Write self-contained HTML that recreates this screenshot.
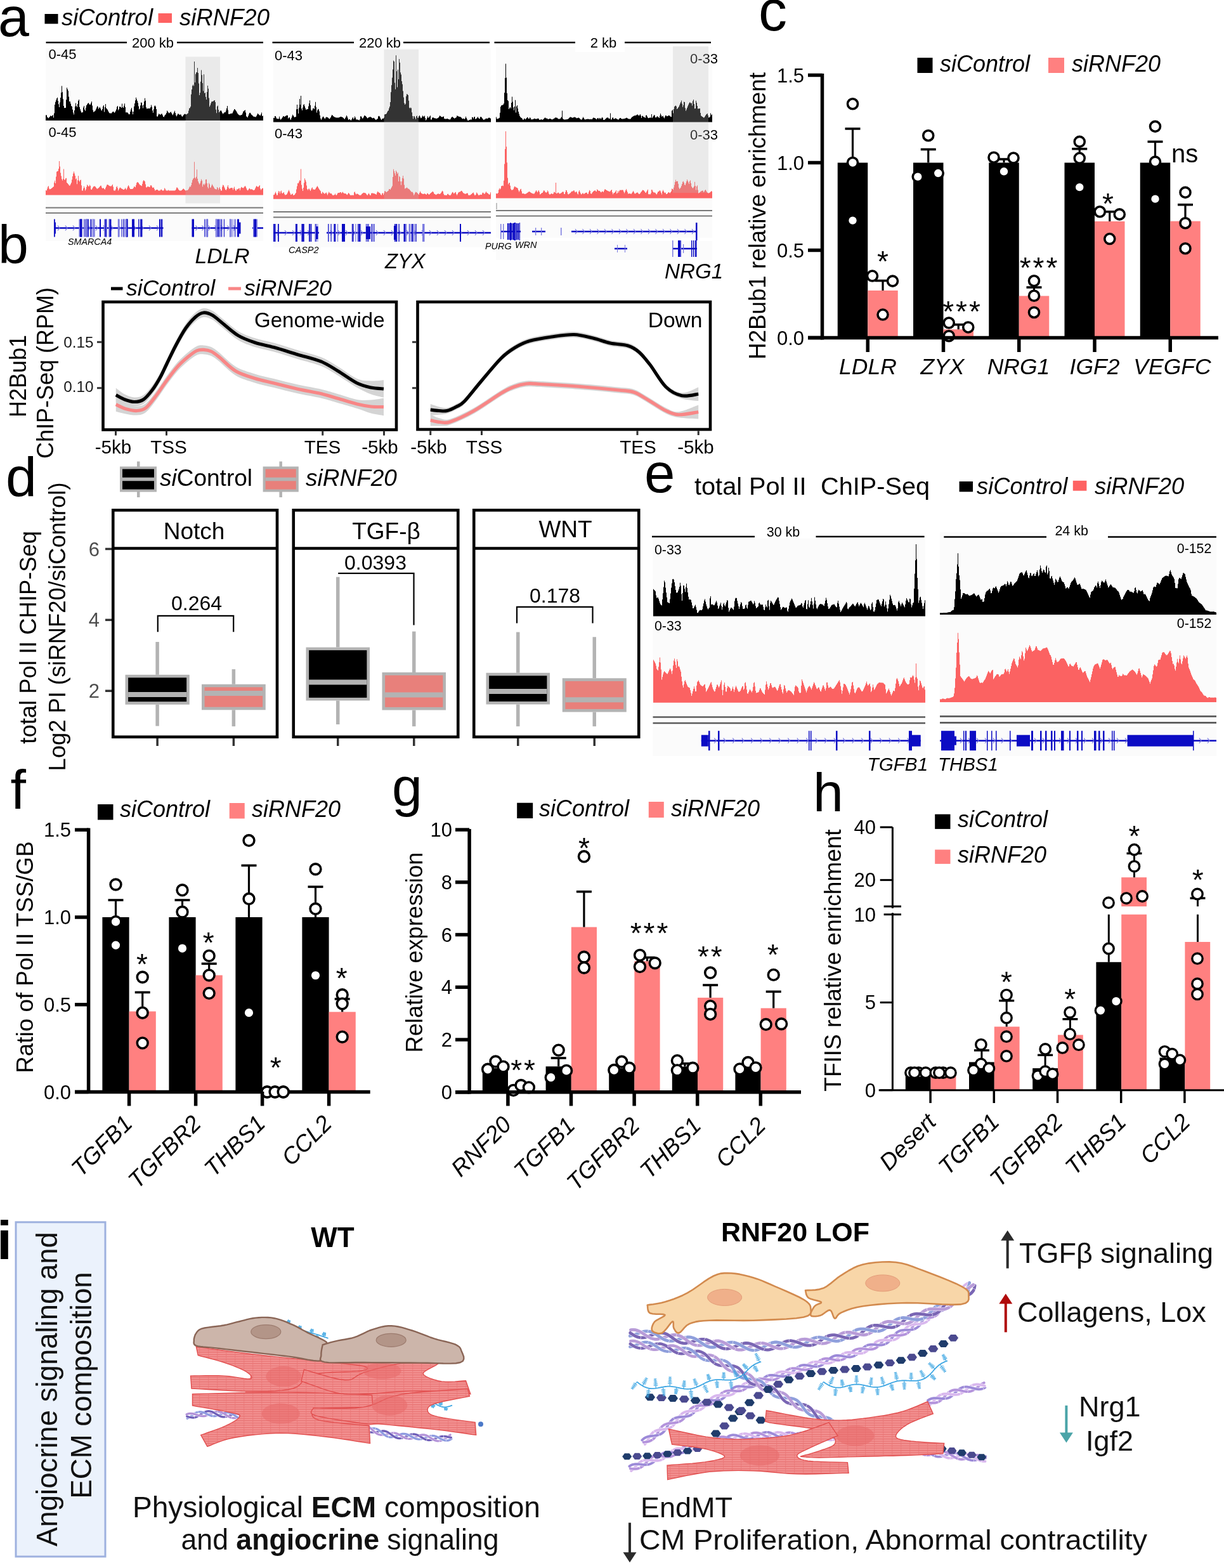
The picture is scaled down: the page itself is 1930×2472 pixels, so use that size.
<!DOCTYPE html>
<html><head><meta charset="utf-8"><title>Figure</title>
<style>html,body{margin:0;padding:0;background:#fff;overflow:hidden;width:1930px;height:2472px;} svg{display:block;} text{font-family:"Liberation Sans",Arial,sans-serif;}</style>
</head><body>
<svg width="1930" height="2472" viewBox="0 0 1930 2472">
<rect width="1930" height="2472" fill="#fff"/>
<rect x="70.50" y="22.00" width="21.00" height="15.50" fill="#000" />
<text x="97.0" y="40.0" font-size="36.5" font-style="italic" >siControl</text>
<rect x="249.50" y="21.00" width="21.50" height="15.00" fill="#fe6262" />
<text x="283.0" y="40.0" font-size="36.5" font-style="italic" >siRNF20</text>
<text x="-3.0" y="57.0" font-size="88" >a</text>
<text x="-3.0" y="415.0" font-size="86" >b</text>
<rect x="72.00" y="76.00" width="343.00" height="304.00" fill="#fbfbfb" />
<line x1="72.50" y1="67.00" x2="200.00" y2="67.00" stroke="#000" stroke-width="2.5" />
<line x1="279.00" y1="67.00" x2="415.00" y2="67.00" stroke="#000" stroke-width="2.5" />
<text x="241.0" y="75.0" font-size="22" text-anchor="middle" >200 kb</text>
<text x="76.5" y="92.5" font-size="22" >0-45</text>
<text x="76.5" y="216.0" font-size="22" >0-45</text>
<path d="M72.0,190.0V181.4H73.0V181.4H74.0V184.6H75.0V185.4H76.0V186.3H77.0V185.3H78.0V183.9H79.0V182.5H80.0V182.8H81.0V183.2H82.0V182.2H83.0V181.2H84.0V185.4H85.0V178.6H86.0V165.1H87.0V160.8H88.0V158.0H89.0V155.3H90.0V153.8H91.0V159.1H92.0V164.3H93.0V169.0H94.0V161.5H95.0V154.0H96.0V145.9H97.0V135.6H98.0V145.2H99.0V156.2H100.0V167.0H101.0V170.2H102.0V170.0H103.0V169.9H104.0V157.2H105.0V138.3H106.0V140.8H107.0V143.2H108.0V152.5H109.0V159.9H110.0V160.0H111.0V163.6H112.0V166.9H113.0V168.1H114.0V172.7H115.0V177.4H116.0V180.4H117.0V174.1H118.0V167.8H119.0V162.6H120.0V167.0H121.0V169.1H122.0V164.0H123.0V159.1H124.0V156.9H125.0V168.7H126.0V172.2H127.0V175.2H128.0V177.6H129.0V177.3H130.0V177.0H131.0V169.5H132.0V167.1H133.0V172.7H134.0V174.7H135.0V169.7H136.0V165.9H137.0V164.5H138.0V163.1H139.0V162.2H140.0V163.6H141.0V165.0H142.0V164.8H143.0V162.4H144.0V160.0H145.0V166.4H146.0V173.6H147.0V176.7H148.0V176.0H149.0V175.3H150.0V174.3H151.0V171.9H152.0V169.6H153.0V167.2H154.0V168.6H155.0V171.8H156.0V170.1H157.0V168.7H158.0V171.1H159.0V173.4H160.0V174.6H161.0V172.1H162.0V167.8H163.0V166.1H164.0V176.6H165.0V168.9H166.0V164.0H167.0V170.6H168.0V171.6H169.0V172.8H170.0V174.8H171.0V176.8H172.0V178.2H173.0V178.4H174.0V178.6H175.0V178.7H176.0V177.6H177.0V176.5H178.0V175.7H179.0V176.7H180.0V177.8H181.0V176.8H182.0V174.8H183.0V172.5H184.0V168.4H185.0V166.9H186.0V173.8H187.0V172.0H188.0V168.3H189.0V168.0H190.0V169.0H191.0V170.0H192.0V163.4H193.0V169.0H194.0V170.0H195.0V166.7H196.0V163.3H197.0V168.8H198.0V177.2H199.0V177.2H200.0V177.2H201.0V177.8H202.0V179.2H203.0V180.6H204.0V179.7H205.0V175.9H206.0V172.4H207.0V170.0H208.0V175.7H209.0V180.3H210.0V176.0H211.0V167.7H212.0V163.0H213.0V158.2H214.0V153.8H215.0V156.5H216.0V159.1H217.0V162.3H218.0V167.4H219.0V172.4H220.0V171.2H221.0V166.3H222.0V161.4H223.0V162.0H224.0V166.3H225.0V170.5H226.0V165.2H227.0V159.9H228.0V154.7H229.0V158.8H230.0V169.2H231.0V171.4H232.0V171.2H233.0V170.9H234.0V170.9H235.0V171.0H236.0V171.0H237.0V169.1H238.0V165.6H239.0V168.6H240.0V174.2H241.0V177.8H242.0V172.2H243.0V167.6H244.0V166.2H245.0V168.1H246.0V172.0H247.0V183.6H248.0V183.8H249.0V181.5H250.0V179.2H251.0V180.0H252.0V180.9H253.0V180.3H254.0V179.5H255.0V179.6H256.0V181.8H257.0V184.0H258.0V184.4H259.0V182.4H260.0V180.9H261.0V180.3H262.0V178.1H263.0V174.5H264.0V175.8H265.0V177.2H266.0V178.5H267.0V177.7H268.0V176.9H269.0V176.2H270.0V178.2H271.0V180.2H272.0V181.6H273.0V179.3H274.0V177.0H275.0V174.7H276.0V178.1H277.0V181.7H278.0V183.4H279.0V181.4H280.0V179.4H281.0V179.5H282.0V180.8H283.0V180.7H284.0V180.5H285.0V180.8H286.0V183.1H287.0V184.1H288.0V182.7H289.0V181.3H290.0V180.2H291.0V179.4H292.0V180.0H293.0V180.6H294.0V179.9H295.0V179.2H296.0V178.4H297.0V174.6H298.0V170.7H299.0V170.2H300.0V168.0H301.0V148.7H302.0V140.9H303.0V135.3H304.0V133.4H305.0V135.6H306.0V97.0H307.0V130.0H308.0V116.8H309.0V114.2H310.0V113.7H311.0V107.1H312.0V114.9H313.0V131.5H314.0V150.0H315.0V146.2H316.0V128.7H317.0V110.6H318.0V118.2H319.0V130.9H320.0V143.5H321.0V117.2H322.0V147.0H323.0V146.1H324.0V152.7H325.0V156.9H326.0V145.1H327.0V135.0H328.0V139.8H329.0V154.4H330.0V168.2H331.0V165.9H332.0V163.0H333.0V160.4H334.0V160.1H335.0V160.0H336.0V159.3H337.0V158.5H338.0V157.9H339.0V161.1H340.0V172.8H341.0V178.2H342.0V167.8H343.0V166.5H344.0V172.9H345.0V177.2H346.0V175.8H347.0V174.8H348.0V173.9H349.0V175.8H350.0V178.0H351.0V179.8H352.0V178.6H353.0V177.4H354.0V177.0H355.0V176.7H356.0V174.3H357.0V170.7H358.0V167.1H359.0V173.4H360.0V179.7H361.0V180.0H362.0V179.5H363.0V179.2H364.0V179.0H365.0V178.8H366.0V178.4H367.0V176.2H368.0V174.1H369.0V172.0H370.0V172.5H371.0V173.8H372.0V175.1H373.0V177.0H374.0V178.8H375.0V179.9H376.0V181.0H377.0V181.5H378.0V181.9H379.0V181.5H380.0V181.2H381.0V180.9H382.0V178.7H383.0V175.9H384.0V175.0H385.0V174.3H386.0V173.6H387.0V177.4H388.0V183.4H389.0V184.3H390.0V185.2H391.0V182.7H392.0V180.2H393.0V177.9H394.0V177.8H395.0V179.3H396.0V180.7H397.0V181.6H398.0V182.6H399.0V183.5H400.0V183.9H401.0V184.1H402.0V184.3H403.0V184.5H404.0V182.8H405.0V180.7H406.0V178.8H407.0V179.9H408.0V181.1H409.0V181.7H410.0V182.3H411.0V180.3H412.0V177.4H413.0V182.9H414.0V182.5H415.0V180.5H415.0V190.0Z" fill="#000"/>
<path d="M72.0,307.5V299.9H73.0V300.5H74.0V297.6H75.0V294.5H76.0V293.2H77.0V297.2H78.0V298.5H79.0V298.1H80.0V297.6H81.0V296.8H82.0V296.0H83.0V295.1H84.0V294.3H85.0V287.8H86.0V284.7H87.0V289.0H88.0V278.5H89.0V270.8H90.0V270.1H91.0V269.6H92.0V266.1H93.0V254.1H94.0V262.5H95.0V272.6H96.0V277.5H97.0V282.3H98.0V284.4H99.0V282.1H100.0V266.4H101.0V283.2H102.0V283.4H103.0V281.2H104.0V280.8H105.0V288.0H106.0V289.1H107.0V290.3H108.0V291.5H109.0V292.7H110.0V292.3H111.0V290.2H112.0V288.1H113.0V283.3H114.0V278.1H115.0V273.6H116.0V270.6H117.0V273.4H118.0V276.9H119.0V282.6H120.0V281.2H121.0V290.2H122.0V284.2H123.0V277.3H124.0V284.6H125.0V286.3H126.0V284.1H127.0V283.6H128.0V292.3H129.0V300.4H130.0V300.5H131.0V297.1H132.0V293.7H133.0V296.3H134.0V300.5H135.0V298.6H136.0V294.7H137.0V291.3H138.0V292.6H139.0V293.8H140.0V293.8H141.0V291.4H142.0V293.1H143.0V298.6H144.0V299.0H145.0V297.2H146.0V295.4H147.0V294.0H148.0V293.8H149.0V293.6H150.0V294.4H151.0V295.8H152.0V297.2H153.0V297.8H154.0V297.1H155.0V296.3H156.0V295.3H157.0V294.1H158.0V292.8H159.0V292.8H160.0V295.4H161.0V297.0H162.0V296.6H163.0V296.6H164.0V298.0H165.0V298.8H166.0V296.3H167.0V293.9H168.0V291.4H169.0V291.1H170.0V291.6H171.0V292.3H172.0V292.9H173.0V293.6H174.0V293.6H175.0V293.5H176.0V292.2H177.0V290.7H178.0V294.5H179.0V300.2H180.0V300.5H181.0V300.5H182.0V298.4H183.0V294.9H184.0V293.6H185.0V296.4H186.0V300.4H187.0V298.5H188.0V296.5H189.0V295.6H190.0V296.4H191.0V297.2H192.0V297.7H193.0V298.3H194.0V299.0H195.0V299.0H196.0V297.9H197.0V296.3H198.0V297.8H199.0V299.2H200.0V296.7H201.0V294.1H202.0V292.1H203.0V293.7H204.0V296.3H205.0V298.0H206.0V298.0H207.0V298.0H208.0V297.9H209.0V297.6H210.0V296.2H211.0V294.1H212.0V294.4H213.0V295.3H214.0V291.9H215.0V288.4H216.0V287.0H217.0V287.5H218.0V288.3H219.0V290.0H220.0V291.6H221.0V292.1H222.0V292.6H223.0V293.2H224.0V289.8H225.0V286.0H226.0V283.9H227.0V285.1H228.0V286.2H229.0V290.5H230.0V295.3H231.0V295.5H232.0V294.2H233.0V293.9H234.0V294.4H235.0V295.0H236.0V294.6H237.0V292.2H238.0V292.1H239.0V294.1H240.0V296.0H241.0V295.8H242.0V295.6H243.0V298.1H244.0V300.5H245.0V299.8H246.0V299.2H247.0V299.1H248.0V299.1H249.0V300.5H250.0V300.5H251.0V300.5H252.0V300.5H253.0V299.1H254.0V298.5H255.0V300.0H256.0V300.5H257.0V300.5H258.0V299.9H259.0V296.4H260.0V297.7H261.0V300.1H262.0V300.5H263.0V300.5H264.0V300.4H265.0V299.5H266.0V300.5H267.0V300.5H268.0V300.5H269.0V300.5H270.0V300.5H271.0V300.5H272.0V300.5H273.0V300.5H274.0V300.5H275.0V300.5H276.0V300.0H277.0V298.4H278.0V295.8H279.0V295.5H280.0V297.1H281.0V298.7H282.0V300.1H283.0V300.4H284.0V300.5H285.0V300.5H286.0V299.9H287.0V298.9H288.0V297.8H289.0V297.4H290.0V298.5H291.0V299.6H292.0V300.5H293.0V300.3H294.0V300.1H295.0V300.0H296.0V299.3H297.0V297.7H298.0V295.6H299.0V293.8H300.0V294.7H301.0V292.1H302.0V288.1H303.0V284.1H304.0V281.8H305.0V280.7H306.0V255.2H307.0V280.1H308.0V281.6H309.0V278.7H310.0V267.2H311.0V281.7H312.0V286.0H313.0V288.4H314.0V290.7H315.0V289.0H316.0V285.7H317.0V282.6H318.0V284.7H319.0V294.2H320.0V291.0H321.0V289.6H322.0V291.7H323.0V289.6H324.0V283.1H325.0V282.7H326.0V289.0H327.0V294.7H328.0V296.9H329.0V288.5H330.0V290.4H331.0V295.8H332.0V295.5H333.0V292.8H334.0V290.4H335.0V292.2H336.0V294.0H337.0V295.8H338.0V297.5H339.0V298.0H340.0V298.4H341.0V298.4H342.0V294.9H343.0V296.3H344.0V299.2H345.0V296.6H346.0V294.9H347.0V297.9H348.0V300.5H349.0V300.5H350.0V294.5H351.0V291.4H352.0V292.2H353.0V294.5H354.0V296.8H355.0V299.0H356.0V300.1H357.0V298.1H358.0V294.5H359.0V292.0H360.0V295.7H361.0V297.7H362.0V297.1H363.0V296.6H364.0V296.3H365.0V296.0H366.0V296.4H367.0V299.3H368.0V296.4H369.0V294.4H370.0V298.3H371.0V300.5H372.0V300.5H373.0V298.0H374.0V298.8H375.0V298.1H376.0V296.8H377.0V297.0H378.0V300.0H379.0V296.8H380.0V294.8H381.0V295.4H382.0V296.0H383.0V296.6H384.0V295.6H385.0V294.3H386.0V293.1H387.0V294.4H388.0V296.8H389.0V299.2H390.0V300.2H391.0V299.5H392.0V297.8H393.0V296.7H394.0V298.3H395.0V298.6H396.0V298.3H397.0V298.4H398.0V299.3H399.0V300.1H400.0V299.7H401.0V299.2H402.0V297.0H403.0V294.8H404.0V293.1H405.0V294.0H406.0V294.8H407.0V294.5H408.0V293.3H409.0V292.1H410.0V297.3H411.0V299.5H412.0V298.1H413.0V296.8H414.0V296.7H415.0V297.2H415.0V307.5Z" fill="#fb6262"/>
<rect x="292.50" y="89.50" width="54.50" height="231.00" fill="rgba(187,187,187,0.27)" />
<line x1="72.00" y1="327.50" x2="415.00" y2="327.50" stroke="#787878" stroke-width="2" />
<line x1="72.00" y1="335.80" x2="415.00" y2="335.80" stroke="#787878" stroke-width="2" />
<line x1="85.00" y1="359.50" x2="257.50" y2="359.50" stroke="#0c0cc4" stroke-width="2.5" />
<path d="M91.0,355.5 L94.0,359.5 L91.0,363.5" stroke="#7a7ae0" stroke-width="1.2" fill="none"/>
<path d="M103.0,355.5 L106.0,359.5 L103.0,363.5" stroke="#7a7ae0" stroke-width="1.2" fill="none"/>
<path d="M115.0,355.5 L118.0,359.5 L115.0,363.5" stroke="#7a7ae0" stroke-width="1.2" fill="none"/>
<path d="M127.0,355.5 L130.0,359.5 L127.0,363.5" stroke="#7a7ae0" stroke-width="1.2" fill="none"/>
<path d="M139.0,355.5 L142.0,359.5 L139.0,363.5" stroke="#7a7ae0" stroke-width="1.2" fill="none"/>
<path d="M151.0,355.5 L154.0,359.5 L151.0,363.5" stroke="#7a7ae0" stroke-width="1.2" fill="none"/>
<path d="M163.0,355.5 L166.0,359.5 L163.0,363.5" stroke="#7a7ae0" stroke-width="1.2" fill="none"/>
<path d="M175.0,355.5 L178.0,359.5 L175.0,363.5" stroke="#7a7ae0" stroke-width="1.2" fill="none"/>
<path d="M187.0,355.5 L190.0,359.5 L187.0,363.5" stroke="#7a7ae0" stroke-width="1.2" fill="none"/>
<path d="M199.0,355.5 L202.0,359.5 L199.0,363.5" stroke="#7a7ae0" stroke-width="1.2" fill="none"/>
<path d="M211.0,355.5 L214.0,359.5 L211.0,363.5" stroke="#7a7ae0" stroke-width="1.2" fill="none"/>
<path d="M223.0,355.5 L226.0,359.5 L223.0,363.5" stroke="#7a7ae0" stroke-width="1.2" fill="none"/>
<path d="M235.0,355.5 L238.0,359.5 L235.0,363.5" stroke="#7a7ae0" stroke-width="1.2" fill="none"/>
<path d="M247.0,355.5 L250.0,359.5 L247.0,363.5" stroke="#7a7ae0" stroke-width="1.2" fill="none"/>
<rect x="85.00" y="345.50" width="1.80" height="28.00" fill="#0c0cc4"/>
<rect x="86.50" y="350.50" width="1.50" height="18.00" fill="#0c0cc4"/>
<rect x="126.28" y="345.50" width="1.83" height="28.00" fill="#0c0cc4"/>
<rect x="128.34" y="345.50" width="1.44" height="28.00" fill="#7a7ae0"/>
<rect x="135.08" y="345.50" width="1.77" height="28.00" fill="#7a7ae0"/>
<rect x="124.48" y="345.50" width="1.82" height="28.00" fill="#7a7ae0"/>
<rect x="136.96" y="345.50" width="0.90" height="28.00" fill="#7a7ae0"/>
<rect x="136.27" y="345.50" width="1.15" height="28.00" fill="#0c0cc4"/>
<rect x="139.32" y="345.50" width="0.93" height="28.00" fill="#7a7ae0"/>
<rect x="133.20" y="345.50" width="1.93" height="28.00" fill="#7a7ae0"/>
<rect x="127.68" y="345.50" width="1.36" height="28.00" fill="#7a7ae0"/>
<rect x="127.77" y="345.50" width="1.38" height="28.00" fill="#7a7ae0"/>
<rect x="127.96" y="345.50" width="1.15" height="28.00" fill="#7a7ae0"/>
<rect x="131.81" y="345.50" width="1.22" height="28.00" fill="#7a7ae0"/>
<rect x="138.24" y="345.50" width="1.51" height="28.00" fill="#0c0cc4"/>
<rect x="127.16" y="345.50" width="1.99" height="28.00" fill="#0c0cc4"/>
<rect x="126.06" y="345.50" width="1.27" height="28.00" fill="#0c0cc4"/>
<rect x="136.09" y="345.50" width="1.93" height="28.00" fill="#7a7ae0"/>
<rect x="147.74" y="345.50" width="1.94" height="28.00" fill="#7a7ae0"/>
<rect x="142.51" y="345.50" width="1.82" height="28.00" fill="#0c0cc4"/>
<rect x="146.02" y="345.50" width="1.24" height="28.00" fill="#0c0cc4"/>
<rect x="145.64" y="345.50" width="1.54" height="28.00" fill="#7a7ae0"/>
<rect x="157.00" y="345.50" width="2.00" height="28.00" fill="#0c0cc4"/>
<rect x="172.00" y="345.50" width="2.00" height="28.00" fill="#0c0cc4"/>
<rect x="166.86" y="345.50" width="1.50" height="28.00" fill="#7a7ae0"/>
<rect x="171.25" y="345.50" width="1.59" height="28.00" fill="#7a7ae0"/>
<rect x="164.16" y="345.50" width="1.82" height="28.00" fill="#7a7ae0"/>
<rect x="166.81" y="345.50" width="2.00" height="28.00" fill="#7a7ae0"/>
<rect x="174.04" y="345.50" width="1.42" height="28.00" fill="#0c0cc4"/>
<rect x="165.81" y="345.50" width="1.60" height="28.00" fill="#0c0cc4"/>
<rect x="187.25" y="345.50" width="1.01" height="28.00" fill="#7a7ae0"/>
<rect x="185.79" y="345.50" width="0.97" height="28.00" fill="#7a7ae0"/>
<rect x="199.52" y="345.50" width="1.78" height="28.00" fill="#0c0cc4"/>
<rect x="186.99" y="345.50" width="1.49" height="28.00" fill="#7a7ae0"/>
<rect x="186.11" y="345.50" width="1.02" height="28.00" fill="#7a7ae0"/>
<rect x="199.69" y="345.50" width="1.81" height="28.00" fill="#0c0cc4"/>
<rect x="197.41" y="345.50" width="1.11" height="28.00" fill="#7a7ae0"/>
<rect x="194.29" y="345.50" width="1.71" height="28.00" fill="#0c0cc4"/>
<rect x="198.84" y="345.50" width="1.00" height="28.00" fill="#0c0cc4"/>
<rect x="195.09" y="345.50" width="1.46" height="28.00" fill="#7a7ae0"/>
<rect x="191.52" y="345.50" width="1.00" height="28.00" fill="#0c0cc4"/>
<rect x="198.58" y="345.50" width="1.50" height="28.00" fill="#7a7ae0"/>
<rect x="199.36" y="345.50" width="1.53" height="28.00" fill="#0c0cc4"/>
<rect x="198.26" y="345.50" width="1.46" height="28.00" fill="#7a7ae0"/>
<rect x="208.00" y="345.50" width="2.50" height="28.00" fill="#0c0cc4"/>
<rect x="210.00" y="345.50" width="2.00" height="28.00" fill="#0c0cc4"/>
<rect x="221.11" y="345.50" width="1.72" height="28.00" fill="#0c0cc4"/>
<rect x="222.71" y="345.50" width="1.71" height="28.00" fill="#0c0cc4"/>
<rect x="218.15" y="345.50" width="1.41" height="28.00" fill="#0c0cc4"/>
<rect x="251.00" y="345.50" width="2.20" height="28.00" fill="#0c0cc4"/>
<rect x="254.00" y="345.50" width="2.20" height="28.00" fill="#0c0cc4"/>
<line x1="302.50" y1="359.50" x2="379.00" y2="359.50" stroke="#0c0cc4" stroke-width="2.5" />
<path d="M308.5,355.5 L311.5,359.5 L308.5,363.5" stroke="#7a7ae0" stroke-width="1.2" fill="none"/>
<path d="M318.5,355.5 L321.5,359.5 L318.5,363.5" stroke="#7a7ae0" stroke-width="1.2" fill="none"/>
<path d="M328.5,355.5 L331.5,359.5 L328.5,363.5" stroke="#7a7ae0" stroke-width="1.2" fill="none"/>
<path d="M338.5,355.5 L341.5,359.5 L338.5,363.5" stroke="#7a7ae0" stroke-width="1.2" fill="none"/>
<path d="M348.5,355.5 L351.5,359.5 L348.5,363.5" stroke="#7a7ae0" stroke-width="1.2" fill="none"/>
<path d="M358.5,355.5 L361.5,359.5 L358.5,363.5" stroke="#7a7ae0" stroke-width="1.2" fill="none"/>
<path d="M368.5,355.5 L371.5,359.5 L368.5,363.5" stroke="#7a7ae0" stroke-width="1.2" fill="none"/>
<rect x="302.50" y="345.50" width="2.50" height="28.00" fill="#0c0cc4"/>
<rect x="304.00" y="345.50" width="2.00" height="28.00" fill="#0c0cc4"/>
<rect x="326.35" y="345.50" width="1.80" height="28.00" fill="#7a7ae0"/>
<rect x="322.09" y="345.50" width="0.90" height="28.00" fill="#0c0cc4"/>
<rect x="323.76" y="345.50" width="1.74" height="28.00" fill="#7a7ae0"/>
<rect x="326.16" y="345.50" width="1.20" height="28.00" fill="#0c0cc4"/>
<rect x="325.84" y="345.50" width="1.36" height="28.00" fill="#7a7ae0"/>
<rect x="344.51" y="345.50" width="1.07" height="28.00" fill="#0c0cc4"/>
<rect x="340.23" y="345.50" width="1.49" height="28.00" fill="#7a7ae0"/>
<rect x="339.99" y="345.50" width="1.46" height="28.00" fill="#7a7ae0"/>
<rect x="346.37" y="345.50" width="0.98" height="28.00" fill="#7a7ae0"/>
<rect x="346.22" y="345.50" width="1.81" height="28.00" fill="#7a7ae0"/>
<rect x="342.80" y="345.50" width="1.59" height="28.00" fill="#0c0cc4"/>
<rect x="348.81" y="345.50" width="1.34" height="28.00" fill="#0c0cc4"/>
<rect x="339.79" y="345.50" width="1.84" height="28.00" fill="#7a7ae0"/>
<rect x="341.45" y="345.50" width="1.03" height="28.00" fill="#7a7ae0"/>
<rect x="352.87" y="345.50" width="1.10" height="28.00" fill="#0c0cc4"/>
<rect x="362.27" y="345.50" width="1.96" height="28.00" fill="#7a7ae0"/>
<rect x="367.05" y="345.50" width="0.99" height="28.00" fill="#7a7ae0"/>
<rect x="369.99" y="345.50" width="1.13" height="28.00" fill="#0c0cc4"/>
<rect x="364.59" y="345.50" width="1.40" height="28.00" fill="#7a7ae0"/>
<rect x="361.92" y="345.50" width="1.81" height="28.00" fill="#7a7ae0"/>
<rect x="362.34" y="345.50" width="0.92" height="28.00" fill="#7a7ae0"/>
<rect x="374.00" y="345.50" width="3.00" height="28.00" fill="#0c0cc4"/>
<rect x="376.00" y="350.50" width="3.50" height="18.00" fill="#0c0cc4"/>
<line x1="398.00" y1="359.50" x2="415.00" y2="359.50" stroke="#0c0cc4" stroke-width="2.5" />
<rect x="399.00" y="345.50" width="7.00" height="28.00" fill="#7a7ae0"/>
<rect x="400.50" y="345.50" width="3.50" height="28.00" fill="#0c0cc4"/>
<text x="107.0" y="386.0" font-size="14.3" font-style="italic" >SMARCA4</text>
<text x="307.5" y="415.0" font-size="33.7" font-style="italic" >LDLR</text>
<rect x="431.00" y="76.00" width="343.00" height="314.00" fill="#fbfbfb" />
<line x1="429.50" y1="67.00" x2="558.00" y2="67.00" stroke="#000" stroke-width="2.5" />
<line x1="636.00" y1="67.00" x2="772.00" y2="67.00" stroke="#000" stroke-width="2.5" />
<text x="599.0" y="75.0" font-size="22" text-anchor="middle" >220 kb</text>
<text x="433.0" y="94.5" font-size="22" >0-43</text>
<text x="433.0" y="217.5" font-size="22" >0-43</text>
<path d="M431.0,192.5V185.7H432.0V186.0H433.0V183.0H434.0V183.3H435.0V185.3H436.0V187.3H437.0V187.1H438.0V187.7H439.0V187.0H440.0V183.7H441.0V187.1H442.0V188.7H443.0V187.7H444.0V186.6H445.0V184.9H446.0V183.0H447.0V183.4H448.0V183.9H449.0V183.6H450.0V182.7H451.0V182.2H452.0V181.7H453.0V182.1H454.0V186.7H455.0V185.6H456.0V185.1H457.0V187.4H458.0V188.9H459.0V186.2H460.0V183.5H461.0V180.8H462.0V182.3H463.0V183.8H464.0V185.1H465.0V184.6H466.0V184.0H467.0V172.2H468.0V164.9H469.0V172.1H470.0V179.1H471.0V169.8H472.0V156.0H473.0V165.1H474.0V150.9H475.0V171.2H476.0V173.9H477.0V169.4H478.0V165.6H479.0V164.2H480.0V167.5H481.0V170.6H482.0V172.9H483.0V172.6H484.0V172.2H485.0V171.9H486.0V167.5H487.0V162.9H488.0V158.3H489.0V165.8H490.0V173.2H491.0V174.7H492.0V173.4H493.0V170.9H494.0V170.6H495.0V172.1H496.0V166.8H497.0V160.7H498.0V169.1H499.0V177.5H500.0V174.0H501.0V171.7H502.0V172.5H503.0V175.4H504.0V181.8H505.0V186.8H506.0V189.1H507.0V187.1H508.0V185.0H509.0V183.4H510.0V184.8H511.0V186.3H512.0V187.6H513.0V185.6H514.0V184.4H515.0V184.7H516.0V185.0H517.0V185.8H518.0V186.8H519.0V187.4H520.0V186.4H521.0V185.0H522.0V182.7H523.0V181.0H524.0V182.0H525.0V183.0H526.0V184.0H527.0V184.5H528.0V185.1H529.0V185.3H530.0V185.4H531.0V185.4H532.0V185.5H533.0V185.4H534.0V185.2H535.0V184.8H536.0V184.3H537.0V183.9H538.0V184.3H539.0V184.7H540.0V185.0H541.0V186.0H542.0V187.1H543.0V188.1H544.0V186.1H545.0V184.1H546.0V182.1H547.0V183.8H548.0V186.4H549.0V188.9H550.0V188.3H551.0V187.7H552.0V189.0H553.0V190.0H554.0V188.2H555.0V186.4H556.0V185.1H557.0V187.8H558.0V186.4H559.0V183.6H560.0V185.4H561.0V188.3H562.0V188.4H563.0V188.4H564.0V188.8H565.0V189.3H566.0V189.8H567.0V188.0H568.0V183.6H569.0V183.2H570.0V185.0H571.0V186.8H572.0V186.2H573.0V184.2H574.0V182.3H575.0V182.2H576.0V183.1H577.0V184.0H578.0V185.6H579.0V186.4H580.0V185.8H581.0V185.1H582.0V184.6H583.0V184.4H584.0V184.3H585.0V185.1H586.0V186.0H587.0V186.4H588.0V185.9H589.0V185.7H590.0V186.8H591.0V188.0H592.0V189.1H593.0V188.6H594.0V188.1H595.0V186.9H596.0V183.5H597.0V182.8H598.0V183.4H599.0V185.6H600.0V187.7H601.0V189.0H602.0V187.5H603.0V186.7H604.0V187.0H605.0V185.5H606.0V180.4H607.0V180.0H608.0V180.1H609.0V179.0H610.0V177.0H611.0V175.0H612.0V174.2H613.0V170.7H614.0V168.1H615.0V161.0H616.0V145.2H617.0V134.2H618.0V122.5H619.0V109.4H620.0V95.4H621.0V96.9H622.0V130.5H623.0V140.8H624.0V87.3H625.0V112.2H626.0V137.6H627.0V109.8H628.0V124.9H629.0V93.1H630.0V98.7H631.0V114.2H632.0V117.6H633.0V128.1H634.0V132.7H635.0V143.6H636.0V153.6H637.0V162.6H638.0V165.0H639.0V163.4H640.0V151.8H641.0V148.3H642.0V148.8H643.0V150.0H644.0V158.7H645.0V169.7H646.0V170.7H647.0V169.6H648.0V170.6H649.0V177.3H650.0V182.9H651.0V187.3H652.0V183.3H653.0V183.2H654.0V185.6H655.0V188.1H656.0V183.2H657.0V182.6H658.0V185.5H659.0V186.1H660.0V183.4H661.0V182.1H662.0V184.1H663.0V186.2H664.0V186.0H665.0V184.1H666.0V182.2H667.0V183.7H668.0V183.8H669.0V182.6H670.0V186.1H671.0V189.7H672.0V188.3H673.0V185.8H674.0V183.3H675.0V185.7H676.0V185.3H677.0V183.4H678.0V182.3H679.0V188.5H680.0V188.4H681.0V185.9H682.0V185.1H683.0V185.6H684.0V186.0H685.0V186.4H686.0V186.6H687.0V186.7H688.0V186.9H689.0V186.5H690.0V186.1H691.0V185.3H692.0V183.7H693.0V182.3H694.0V183.1H695.0V183.9H696.0V184.6H697.0V184.4H698.0V184.0H699.0V183.6H700.0V186.9H701.0V187.2H702.0V187.4H703.0V187.5H704.0V187.2H705.0V186.9H706.0V187.4H707.0V187.9H708.0V188.3H709.0V188.6H710.0V187.5H711.0V185.4H712.0V184.5H713.0V184.1H714.0V185.0H715.0V185.9H716.0V186.7H717.0V186.2H718.0V185.8H719.0V184.9H720.0V182.6H721.0V182.7H722.0V183.3H723.0V183.8H724.0V184.1H725.0V184.3H726.0V184.6H727.0V185.6H728.0V186.7H729.0V187.5H730.0V186.7H731.0V187.0H732.0V188.1H733.0V186.4H734.0V183.8H735.0V185.9H736.0V187.9H737.0V189.9H738.0V189.9H739.0V189.4H740.0V188.9H741.0V188.6H742.0V188.5H743.0V188.5H744.0V184.7H745.0V185.0H746.0V187.0H747.0V184.4H748.0V184.0H749.0V187.8H750.0V187.3H751.0V186.8H752.0V185.5H753.0V184.2H754.0V185.9H755.0V187.2H756.0V187.1H757.0V184.4H758.0V184.0H759.0V185.2H760.0V186.5H761.0V187.8H762.0V188.9H763.0V188.6H764.0V188.3H765.0V187.5H766.0V186.5H767.0V186.9H768.0V187.0H769.0V186.5H770.0V185.7H771.0V185.6H772.0V185.9H773.0V186.8H774.0V186.7H774.0V192.5Z" fill="#000"/>
<path d="M431.0,313.8V307.3H432.0V307.0H433.0V304.7H434.0V302.5H435.0V304.9H436.0V307.8H437.0V307.4H438.0V304.3H439.0V301.1H440.0V302.1H441.0V305.1H442.0V301.8H443.0V300.6H444.0V304.2H445.0V305.0H446.0V304.1H447.0V303.1H448.0V305.7H449.0V307.6H450.0V307.2H451.0V306.9H452.0V305.9H453.0V303.7H454.0V301.6H455.0V299.5H456.0V301.7H457.0V304.4H458.0V307.1H459.0V306.8H460.0V306.0H461.0V305.2H462.0V307.8H463.0V307.8H464.0V307.1H465.0V305.6H466.0V304.1H467.0V298.4H468.0V293.5H469.0V288.8H470.0V288.9H471.0V286.5H472.0V284.1H473.0V285.0H474.0V266.6H475.0V291.4H476.0V297.6H477.0V301.0H478.0V295.9H479.0V288.3H480.0V281.2H481.0V283.8H482.0V286.6H483.0V292.4H484.0V298.1H485.0V299.7H486.0V297.8H487.0V297.6H488.0V299.3H489.0V301.0H490.0V298.7H491.0V296.5H492.0V295.6H493.0V298.4H494.0V298.6H495.0V298.7H496.0V298.9H497.0V297.8H498.0V296.1H499.0V294.5H500.0V293.3H501.0V295.1H502.0V297.0H503.0V298.5H504.0V299.9H505.0V301.3H506.0V304.7H507.0V305.4H508.0V302.6H509.0V303.5H510.0V304.6H511.0V305.6H512.0V305.2H513.0V304.3H514.0V303.5H515.0V305.4H516.0V307.4H517.0V305.0H518.0V302.4H519.0V303.8H520.0V305.0H521.0V305.0H522.0V305.0H523.0V306.6H524.0V307.8H525.0V307.8H526.0V307.8H527.0V306.9H528.0V305.3H529.0V307.2H530.0V307.8H531.0V306.4H532.0V304.6H533.0V304.0H534.0V303.9H535.0V303.7H536.0V302.9H537.0V302.9H538.0V304.7H539.0V303.6H540.0V302.6H541.0V303.9H542.0V305.0H543.0V305.1H544.0V305.1H545.0V305.5H546.0V306.4H547.0V307.2H548.0V305.8H549.0V304.1H550.0V305.0H551.0V306.6H552.0V307.8H553.0V307.8H554.0V307.8H555.0V307.6H556.0V307.8H557.0V307.8H558.0V303.2H559.0V302.2H560.0V304.8H561.0V306.5H562.0V305.6H563.0V305.4H564.0V306.1H565.0V306.8H566.0V307.6H567.0V307.8H568.0V307.8H569.0V307.2H570.0V305.7H571.0V304.9H572.0V304.3H573.0V303.8H574.0V303.9H575.0V304.2H576.0V304.4H577.0V305.7H578.0V307.3H579.0V307.8H580.0V305.9H581.0V304.4H582.0V306.3H583.0V307.8H584.0V307.8H585.0V304.7H586.0V304.6H587.0V304.6H588.0V304.8H589.0V305.0H590.0V305.3H591.0V305.8H592.0V306.3H593.0V306.8H594.0V303.7H595.0V301.8H596.0V302.7H597.0V303.5H598.0V304.0H599.0V305.1H600.0V307.0H601.0V307.8H602.0V304.9H603.0V304.2H604.0V307.3H605.0V304.8H606.0V301.5H607.0V301.3H608.0V302.4H609.0V302.9H610.0V302.0H611.0V301.2H612.0V300.5H613.0V297.9H614.0V298.1H615.0V299.0H616.0V297.1H617.0V295.2H618.0V293.3H619.0V279.1H620.0V266.8H621.0V269.7H622.0V273.3H623.0V276.7H624.0V269.0H625.0V271.0H626.0V273.9H627.0V272.2H628.0V286.0H629.0V277.6H630.0V278.9H631.0V285.9H632.0V291.7H633.0V285.9H634.0V280.7H635.0V276.9H636.0V281.5H637.0V291.5H638.0V297.5H639.0V296.8H640.0V296.5H641.0V295.6H642.0V296.5H643.0V297.5H644.0V297.8H645.0V298.5H646.0V299.8H647.0V301.1H648.0V302.4H649.0V302.6H650.0V302.8H651.0V304.6H652.0V307.8H653.0V306.2H654.0V304.0H655.0V302.4H656.0V303.0H657.0V303.7H658.0V304.7H659.0V305.7H660.0V306.7H661.0V304.0H662.0V301.4H663.0V303.5H664.0V304.7H665.0V305.3H666.0V305.8H667.0V306.0H668.0V305.6H669.0V305.2H670.0V305.7H671.0V306.3H672.0V306.9H673.0V304.9H674.0V304.8H675.0V305.9H676.0V307.0H677.0V306.1H678.0V305.1H679.0V304.1H680.0V303.2H681.0V302.4H682.0V301.8H683.0V303.0H684.0V305.3H685.0V305.9H686.0V306.6H687.0V307.2H688.0V306.6H689.0V305.9H690.0V305.3H691.0V305.5H692.0V305.8H693.0V306.1H694.0V305.2H695.0V304.0H696.0V302.3H697.0V300.7H698.0V301.9H699.0V305.6H700.0V307.6H701.0V307.6H702.0V307.7H703.0V307.8H704.0V307.8H705.0V306.1H706.0V305.6H707.0V306.9H708.0V307.8H709.0V307.8H710.0V307.8H711.0V306.3H712.0V304.2H713.0V302.8H714.0V303.5H715.0V305.2H716.0V304.4H717.0V303.5H718.0V302.7H719.0V305.7H720.0V307.8H721.0V306.0H722.0V304.0H723.0V302.8H724.0V302.7H725.0V302.2H726.0V301.5H727.0V300.8H728.0V301.3H729.0V302.8H730.0V304.2H731.0V304.8H732.0V305.3H733.0V305.8H734.0V305.6H735.0V305.1H736.0V304.6H737.0V304.7H738.0V307.4H739.0V307.8H740.0V307.7H741.0V307.5H742.0V306.8H743.0V305.9H744.0V305.0H745.0V304.0H746.0V303.6H747.0V305.7H748.0V307.8H749.0V307.8H750.0V306.5H751.0V303.4H752.0V304.4H753.0V306.3H754.0V307.8H755.0V307.8H756.0V307.3H757.0V306.7H758.0V306.9H759.0V307.1H760.0V304.4H761.0V303.4H762.0V304.4H763.0V305.5H764.0V305.6H765.0V303.7H766.0V302.0H767.0V303.8H768.0V304.3H769.0V305.1H770.0V306.1H771.0V307.1H772.0V306.3H773.0V303.2H774.0V304.4H774.0V313.8Z" fill="#fb6262"/>
<rect x="605.50" y="78.00" width="54.50" height="236.00" fill="rgba(187,187,187,0.27)" />
<line x1="431.00" y1="334.00" x2="774.00" y2="334.00" stroke="#787878" stroke-width="2" />
<line x1="431.00" y1="342.50" x2="774.00" y2="342.50" stroke="#787878" stroke-width="2" />
<line x1="431.00" y1="367.00" x2="503.00" y2="367.00" stroke="#0c0cc4" stroke-width="2.5" />
<path d="M437.0,363.0 L440.0,367.0 L437.0,371.0" stroke="#7a7ae0" stroke-width="1.2" fill="none"/>
<path d="M449.0,363.0 L452.0,367.0 L449.0,371.0" stroke="#7a7ae0" stroke-width="1.2" fill="none"/>
<path d="M461.0,363.0 L464.0,367.0 L461.0,371.0" stroke="#7a7ae0" stroke-width="1.2" fill="none"/>
<path d="M473.0,363.0 L476.0,367.0 L473.0,371.0" stroke="#7a7ae0" stroke-width="1.2" fill="none"/>
<path d="M485.0,363.0 L488.0,367.0 L485.0,371.0" stroke="#7a7ae0" stroke-width="1.2" fill="none"/>
<rect x="431.00" y="353.00" width="1.80" height="28.00" fill="#0c0cc4"/>
<rect x="433.00" y="353.00" width="1.50" height="28.00" fill="#0c0cc4"/>
<rect x="438.00" y="353.00" width="1.80" height="28.00" fill="#0c0cc4"/>
<rect x="467.26" y="353.00" width="1.52" height="28.00" fill="#0c0cc4"/>
<rect x="467.33" y="353.00" width="1.46" height="28.00" fill="#0c0cc4"/>
<rect x="465.92" y="353.00" width="1.46" height="28.00" fill="#0c0cc4"/>
<rect x="477.32" y="353.00" width="1.62" height="28.00" fill="#0c0cc4"/>
<rect x="475.00" y="353.00" width="0.91" height="28.00" fill="#7a7ae0"/>
<rect x="475.92" y="353.00" width="1.79" height="28.00" fill="#0c0cc4"/>
<rect x="478.21" y="353.00" width="1.51" height="28.00" fill="#0c0cc4"/>
<rect x="487.00" y="353.00" width="1.80" height="28.00" fill="#0c0cc4"/>
<rect x="489.50" y="353.00" width="1.80" height="28.00" fill="#0c0cc4"/>
<rect x="497.30" y="353.00" width="1.65" height="28.00" fill="#0c0cc4"/>
<rect x="500.25" y="353.00" width="1.10" height="28.00" fill="#7a7ae0"/>
<rect x="496.74" y="353.00" width="1.15" height="28.00" fill="#0c0cc4"/>
<rect x="496.65" y="353.00" width="1.48" height="28.00" fill="#7a7ae0"/>
<rect x="498.00" y="357.00" width="3.50" height="20.00" fill="#0c0cc4"/>
<line x1="515.00" y1="367.00" x2="774.00" y2="367.00" stroke="#0c0cc4" stroke-width="2.5" />
<path d="M521.0,363.0 L524.0,367.0 L521.0,371.0" stroke="#7a7ae0" stroke-width="1.2" fill="none"/>
<path d="M533.0,363.0 L536.0,367.0 L533.0,371.0" stroke="#7a7ae0" stroke-width="1.2" fill="none"/>
<path d="M545.0,363.0 L548.0,367.0 L545.0,371.0" stroke="#7a7ae0" stroke-width="1.2" fill="none"/>
<path d="M557.0,363.0 L560.0,367.0 L557.0,371.0" stroke="#7a7ae0" stroke-width="1.2" fill="none"/>
<path d="M569.0,363.0 L572.0,367.0 L569.0,371.0" stroke="#7a7ae0" stroke-width="1.2" fill="none"/>
<path d="M581.0,363.0 L584.0,367.0 L581.0,371.0" stroke="#7a7ae0" stroke-width="1.2" fill="none"/>
<path d="M593.0,363.0 L596.0,367.0 L593.0,371.0" stroke="#7a7ae0" stroke-width="1.2" fill="none"/>
<path d="M605.0,363.0 L608.0,367.0 L605.0,371.0" stroke="#7a7ae0" stroke-width="1.2" fill="none"/>
<path d="M617.0,363.0 L620.0,367.0 L617.0,371.0" stroke="#7a7ae0" stroke-width="1.2" fill="none"/>
<path d="M629.0,363.0 L632.0,367.0 L629.0,371.0" stroke="#7a7ae0" stroke-width="1.2" fill="none"/>
<path d="M641.0,363.0 L644.0,367.0 L641.0,371.0" stroke="#7a7ae0" stroke-width="1.2" fill="none"/>
<path d="M653.0,363.0 L656.0,367.0 L653.0,371.0" stroke="#7a7ae0" stroke-width="1.2" fill="none"/>
<path d="M665.0,363.0 L668.0,367.0 L665.0,371.0" stroke="#7a7ae0" stroke-width="1.2" fill="none"/>
<path d="M677.0,363.0 L680.0,367.0 L677.0,371.0" stroke="#7a7ae0" stroke-width="1.2" fill="none"/>
<path d="M689.0,363.0 L692.0,367.0 L689.0,371.0" stroke="#7a7ae0" stroke-width="1.2" fill="none"/>
<path d="M701.0,363.0 L704.0,367.0 L701.0,371.0" stroke="#7a7ae0" stroke-width="1.2" fill="none"/>
<path d="M713.0,363.0 L716.0,367.0 L713.0,371.0" stroke="#7a7ae0" stroke-width="1.2" fill="none"/>
<path d="M725.0,363.0 L728.0,367.0 L725.0,371.0" stroke="#7a7ae0" stroke-width="1.2" fill="none"/>
<path d="M737.0,363.0 L740.0,367.0 L737.0,371.0" stroke="#7a7ae0" stroke-width="1.2" fill="none"/>
<path d="M749.0,363.0 L752.0,367.0 L749.0,371.0" stroke="#7a7ae0" stroke-width="1.2" fill="none"/>
<path d="M761.0,363.0 L764.0,367.0 L761.0,371.0" stroke="#7a7ae0" stroke-width="1.2" fill="none"/>
<rect x="516.92" y="353.00" width="1.67" height="28.00" fill="#0c0cc4"/>
<rect x="531.93" y="353.00" width="1.20" height="28.00" fill="#7a7ae0"/>
<rect x="528.21" y="353.00" width="1.62" height="28.00" fill="#7a7ae0"/>
<rect x="527.32" y="353.00" width="1.34" height="28.00" fill="#0c0cc4"/>
<rect x="517.13" y="353.00" width="1.15" height="28.00" fill="#0c0cc4"/>
<rect x="521.44" y="353.00" width="1.19" height="28.00" fill="#0c0cc4"/>
<rect x="526.37" y="353.00" width="1.06" height="28.00" fill="#0c0cc4"/>
<rect x="526.95" y="353.00" width="1.08" height="28.00" fill="#0c0cc4"/>
<rect x="517.21" y="353.00" width="1.27" height="28.00" fill="#7a7ae0"/>
<rect x="539.00" y="353.00" width="5.00" height="28.00" fill="#0c0cc4"/>
<rect x="567.44" y="353.00" width="0.91" height="28.00" fill="#0c0cc4"/>
<rect x="554.53" y="353.00" width="1.98" height="28.00" fill="#7a7ae0"/>
<rect x="566.07" y="353.00" width="1.65" height="28.00" fill="#0c0cc4"/>
<rect x="568.00" y="353.00" width="1.16" height="28.00" fill="#7a7ae0"/>
<rect x="563.33" y="353.00" width="1.21" height="28.00" fill="#7a7ae0"/>
<rect x="555.66" y="353.00" width="1.84" height="28.00" fill="#0c0cc4"/>
<rect x="564.76" y="353.00" width="1.15" height="28.00" fill="#0c0cc4"/>
<rect x="560.18" y="353.00" width="1.15" height="28.00" fill="#7a7ae0"/>
<rect x="578.51" y="353.00" width="1.43" height="28.00" fill="#7a7ae0"/>
<rect x="580.04" y="353.00" width="1.35" height="28.00" fill="#0c0cc4"/>
<rect x="576.66" y="353.00" width="1.60" height="28.00" fill="#7a7ae0"/>
<rect x="577.44" y="353.00" width="1.27" height="28.00" fill="#7a7ae0"/>
<rect x="585.38" y="353.00" width="1.24" height="28.00" fill="#0c0cc4"/>
<rect x="589.21" y="353.00" width="1.18" height="28.00" fill="#0c0cc4"/>
<rect x="586.54" y="353.00" width="1.63" height="28.00" fill="#7a7ae0"/>
<rect x="580.22" y="353.00" width="1.59" height="28.00" fill="#7a7ae0"/>
<rect x="577.00" y="357.00" width="7.00" height="20.00" fill="#0c0cc4"/>
<rect x="624.22" y="353.00" width="1.79" height="28.00" fill="#0c0cc4"/>
<rect x="621.90" y="353.00" width="1.74" height="28.00" fill="#0c0cc4"/>
<rect x="625.61" y="353.00" width="1.02" height="28.00" fill="#7a7ae0"/>
<rect x="622.84" y="353.00" width="1.72" height="28.00" fill="#7a7ae0"/>
<rect x="624.02" y="353.00" width="1.25" height="28.00" fill="#0c0cc4"/>
<rect x="628.45" y="353.00" width="1.34" height="28.00" fill="#0c0cc4"/>
<rect x="621.00" y="356.00" width="4.00" height="22.00" fill="#0c0cc4"/>
<rect x="637.99" y="353.00" width="1.63" height="28.00" fill="#7a7ae0"/>
<rect x="638.35" y="353.00" width="1.44" height="28.00" fill="#7a7ae0"/>
<rect x="644.55" y="353.00" width="1.40" height="28.00" fill="#7a7ae0"/>
<rect x="639.58" y="353.00" width="1.66" height="28.00" fill="#7a7ae0"/>
<rect x="648.85" y="353.00" width="1.77" height="28.00" fill="#0c0cc4"/>
<rect x="654.77" y="353.00" width="1.16" height="28.00" fill="#7a7ae0"/>
<rect x="650.17" y="353.00" width="1.53" height="28.00" fill="#7a7ae0"/>
<rect x="648.91" y="353.00" width="1.86" height="28.00" fill="#0c0cc4"/>
<rect x="638.75" y="353.00" width="1.23" height="28.00" fill="#7a7ae0"/>
<rect x="655.46" y="353.00" width="1.14" height="28.00" fill="#0c0cc4"/>
<rect x="645.83" y="353.00" width="1.55" height="28.00" fill="#7a7ae0"/>
<rect x="652.16" y="353.00" width="1.56" height="28.00" fill="#7a7ae0"/>
<rect x="636.53" y="353.00" width="1.43" height="28.00" fill="#0c0cc4"/>
<rect x="637.19" y="353.00" width="1.65" height="28.00" fill="#0c0cc4"/>
<rect x="666.00" y="353.00" width="2.00" height="28.00" fill="#7a7ae0"/>
<rect x="668.00" y="353.00" width="1.50" height="28.00" fill="#7a7ae0"/>
<rect x="725.00" y="353.00" width="2.00" height="28.00" fill="#0c0cc4"/>
<text x="455.0" y="399.0" font-size="14.5" font-style="italic" >CASP2</text>
<text x="607.0" y="422.5" font-size="32.7" font-style="italic" >ZYX</text>
<rect x="782.00" y="74.00" width="341.00" height="301.00" fill="#fbfbfb" />
<rect x="782.00" y="380.00" width="341.00" height="30.00" fill="#fbfbfb" />
<rect x="907.00" y="62.00" width="78.00" height="20.00" fill="#ffffff" />
<line x1="779.50" y1="67.00" x2="907.00" y2="67.00" stroke="#000" stroke-width="2.5" />
<line x1="985.00" y1="67.00" x2="1121.00" y2="67.00" stroke="#000" stroke-width="2.5" />
<text x="951.5" y="75.0" font-size="22" text-anchor="middle" >2 kb</text>
<text x="1132.0" y="99.5" font-size="22" text-anchor="end" >0-33</text>
<text x="1132.0" y="219.5" font-size="22" text-anchor="end" >0-33</text>
<path d="M782.0,192.5V184.5H783.0V187.2H784.0V187.5H785.0V187.0H786.0V186.6H787.0V185.8H788.0V177.8H789.0V168.2H790.0V166.3H791.0V165.9H792.0V165.4H793.0V165.0H794.0V162.9H795.0V146.2H796.0V122.9H797.0V100.5H798.0V122.6H799.0V147.0H800.0V158.0H801.0V159.3H802.0V171.9H803.0V170.3H804.0V169.1H805.0V170.8H806.0V162.1H807.0V152.5H808.0V160.5H809.0V169.3H810.0V173.8H811.0V168.1H812.0V157.7H813.0V177.5H814.0V167.8H815.0V165.9H816.0V171.3H817.0V175.9H818.0V179.6H819.0V182.8H820.0V184.4H821.0V185.6H822.0V186.0H823.0V187.0H824.0V189.1H825.0V188.6H826.0V186.8H827.0V187.3H828.0V188.2H829.0V187.3H830.0V186.0H831.0V184.7H832.0V185.6H833.0V187.2H834.0V186.9H835.0V184.9H836.0V186.3H837.0V188.2H838.0V188.2H839.0V188.2H840.0V188.1H841.0V187.5H842.0V186.7H843.0V187.2H844.0V187.5H845.0V187.5H846.0V187.5H847.0V187.0H848.0V186.4H849.0V187.4H850.0V188.7H851.0V188.9H852.0V188.5H853.0V188.1H854.0V188.8H855.0V188.7H856.0V188.2H857.0V187.2H858.0V186.2H859.0V185.2H860.0V186.2H861.0V186.8H862.0V186.4H863.0V187.6H864.0V188.0H865.0V187.6H866.0V187.2H867.0V186.9H868.0V187.4H869.0V188.0H870.0V188.5H871.0V188.0H872.0V187.6H873.0V187.1H874.0V186.2H875.0V185.3H876.0V185.5H877.0V185.6H878.0V185.8H879.0V186.8H880.0V187.7H881.0V187.2H882.0V187.8H883.0V187.1H884.0V185.4H885.0V184.6H886.0V174.6H887.0V186.7H888.0V188.1H889.0V188.5H890.0V188.5H891.0V188.4H892.0V188.3H893.0V188.2H894.0V188.1H895.0V187.7H896.0V187.1H897.0V186.0H898.0V184.8H899.0V184.5H900.0V184.7H901.0V185.2H902.0V185.8H903.0V185.5H904.0V185.0H905.0V184.8H906.0V184.6H907.0V185.2H908.0V185.8H909.0V186.4H910.0V186.1H911.0V185.8H912.0V185.6H913.0V186.3H914.0V187.2H915.0V188.2H916.0V188.4H917.0V188.5H918.0V186.6H919.0V184.6H920.0V186.0H921.0V187.8H922.0V188.6H923.0V188.3H924.0V188.0H925.0V187.8H926.0V187.7H927.0V187.6H928.0V187.9H929.0V188.1H930.0V188.3H931.0V187.7H932.0V188.1H933.0V188.2H934.0V186.8H935.0V185.5H936.0V185.7H937.0V185.9H938.0V186.4H939.0V187.3H940.0V188.2H941.0V187.2H942.0V185.9H943.0V186.3H944.0V187.9H945.0V186.0H946.0V186.6H947.0V187.7H948.0V186.2H949.0V184.8H950.0V186.0H951.0V189.0H952.0V188.9H953.0V188.7H954.0V187.7H955.0V186.7H956.0V185.7H957.0V185.5H958.0V185.2H959.0V186.3H960.0V187.5H961.0V186.8H962.0V178.5H963.0V188.4H964.0V188.3H965.0V186.1H966.0V185.1H967.0V187.2H968.0V187.8H969.0V187.0H970.0V186.3H971.0V186.8H972.0V187.5H973.0V188.1H974.0V188.4H975.0V188.6H976.0V187.3H977.0V186.0H978.0V185.9H979.0V187.0H980.0V187.4H981.0V187.4H982.0V187.4H983.0V187.3H984.0V187.1H985.0V186.9H986.0V186.3H987.0V185.7H988.0V185.8H989.0V186.5H990.0V187.2H991.0V187.5H992.0V187.6H993.0V187.7H994.0V187.3H995.0V185.7H996.0V184.5H997.0V183.9H998.0V183.3H999.0V182.7H1000.0V182.2H1001.0V182.2H1002.0V182.1H1003.0V181.5H1004.0V180.7H1005.0V180.5H1006.0V181.6H1007.0V182.6H1008.0V181.5H1009.0V180.1H1010.0V182.3H1011.0V186.1H1012.0V183.0H1013.0V182.6H1014.0V184.2H1015.0V184.6H1016.0V185.1H1017.0V185.7H1018.0V182.0H1019.0V181.6H1020.0V183.6H1021.0V185.6H1022.0V186.2H1023.0V185.9H1024.0V185.5H1025.0V185.4H1026.0V185.6H1027.0V180.1H1028.0V185.9H1029.0V184.3H1030.0V182.7H1031.0V181.1H1032.0V182.3H1033.0V185.0H1034.0V185.6H1035.0V184.0H1036.0V183.2H1037.0V184.1H1038.0V185.0H1039.0V185.9H1040.0V182.6H1041.0V179.1H1042.0V181.4H1043.0V183.7H1044.0V183.3H1045.0V182.8H1046.0V185.1H1047.0V186.4H1048.0V184.2H1049.0V181.9H1050.0V182.2H1051.0V183.4H1052.0V182.9H1053.0V182.4H1054.0V181.9H1055.0V182.2H1056.0V183.1H1057.0V184.0H1058.0V184.3H1059.0V174.4H1060.0V173.3H1061.0V178.6H1062.0V172.1H1063.0V168.2H1064.0V167.1H1065.0V166.4H1066.0V167.8H1067.0V171.9H1068.0V171.0H1069.0V169.6H1070.0V168.2H1071.0V165.8H1072.0V163.3H1073.0V160.9H1074.0V158.5H1075.0V163.5H1076.0V168.7H1077.0V165.8H1078.0V160.4H1079.0V160.9H1080.0V170.3H1081.0V174.8H1082.0V172.4H1083.0V169.9H1084.0V167.5H1085.0V165.2H1086.0V162.9H1087.0V161.2H1088.0V161.8H1089.0V163.1H1090.0V162.2H1091.0V166.4H1092.0V159.3H1093.0V156.9H1094.0V164.0H1095.0V171.2H1096.0V171.0H1097.0V158.7H1098.0V162.1H1099.0V167.1H1100.0V171.5H1101.0V171.3H1102.0V171.2H1103.0V171.1H1104.0V177.9H1105.0V182.5H1106.0V183.2H1107.0V183.9H1108.0V184.7H1109.0V185.5H1110.0V185.2H1111.0V183.7H1112.0V182.0H1113.0V180.5H1114.0V179.7H1115.0V178.9H1116.0V181.9H1117.0V185.2H1118.0V185.3H1119.0V184.1H1120.0V178.6H1121.0V181.4H1122.0V180.4H1123.0V179.9H1123.0V192.5Z" fill="#000"/>
<path d="M782.0,312.5V305.1H783.0V305.2H784.0V305.3H785.0V303.9H786.0V299.2H787.0V296.8H788.0V298.4H789.0V297.3H790.0V293.4H791.0V292.9H792.0V292.4H793.0V293.3H794.0V284.8H795.0V258.6H796.0V235.1H797.0V207.0H798.0V231.3H799.0V256.2H800.0V280.5H801.0V290.6H802.0V288.6H803.0V287.9H804.0V292.8H805.0V297.7H806.0V299.4H807.0V299.5H808.0V299.3H809.0V298.2H810.0V295.5H811.0V293.7H812.0V294.5H813.0V295.3H814.0V295.8H815.0V296.1H816.0V297.2H817.0V300.0H818.0V302.5H819.0V300.5H820.0V298.6H821.0V297.8H822.0V301.6H823.0V305.1H824.0V305.2H825.0V305.0H826.0V305.6H827.0V306.1H828.0V305.7H829.0V305.3H830.0V304.8H831.0V304.0H832.0V303.2H833.0V302.4H834.0V302.0H835.0V302.5H836.0V303.2H837.0V303.9H838.0V304.5H839.0V304.9H840.0V305.2H841.0V305.4H842.0V305.3H843.0V303.6H844.0V301.8H845.0V300.1H846.0V301.7H847.0V303.2H848.0V301.6H849.0V300.1H850.0V302.4H851.0V306.5H852.0V306.1H853.0V305.0H854.0V304.1H855.0V304.1H856.0V302.1H857.0V300.1H858.0V300.8H859.0V302.4H860.0V303.2H861.0V303.8H862.0V303.0H863.0V300.2H864.0V302.1H865.0V305.2H866.0V306.5H867.0V306.5H868.0V305.7H869.0V304.9H870.0V305.4H871.0V305.9H872.0V305.3H873.0V302.8H874.0V302.7H875.0V304.1H876.0V288.0H877.0V304.9H878.0V304.7H879.0V303.8H880.0V303.5H881.0V304.7H882.0V305.6H883.0V305.0H884.0V304.4H885.0V303.8H886.0V303.0H887.0V302.1H888.0V302.8H889.0V305.8H890.0V306.1H891.0V302.9H892.0V299.7H893.0V300.2H894.0V303.1H895.0V306.1H896.0V306.5H897.0V305.5H898.0V304.9H899.0V304.0H900.0V302.8H901.0V301.7H902.0V301.4H903.0V301.5H904.0V300.3H905.0V300.4H906.0V302.7H907.0V303.3H908.0V301.8H909.0V302.8H910.0V305.2H911.0V306.5H912.0V302.3H913.0V300.1H914.0V302.4H915.0V304.7H916.0V306.5H917.0V306.0H918.0V304.6H919.0V304.5H920.0V306.1H921.0V305.3H922.0V304.4H923.0V303.9H924.0V303.6H925.0V304.0H926.0V306.1H927.0V305.4H928.0V302.6H929.0V299.8H930.0V301.1H931.0V304.9H932.0V305.7H933.0V304.4H934.0V303.0H935.0V301.7H936.0V300.9H937.0V300.6H938.0V300.2H939.0V301.5H940.0V301.9H941.0V298.5H942.0V299.4H943.0V300.6H944.0V300.9H945.0V300.8H946.0V301.9H947.0V303.3H948.0V302.7H949.0V301.4H950.0V302.1H951.0V303.0H952.0V300.7H953.0V298.5H954.0V298.4H955.0V299.2H956.0V299.9H957.0V300.5H958.0V301.1H959.0V301.5H960.0V301.8H961.0V302.2H962.0V301.2H963.0V300.1H964.0V298.9H965.0V303.2H966.0V306.2H967.0V304.6H968.0V303.9H969.0V303.5H970.0V302.0H971.0V300.0H972.0V305.3H973.0V304.3H974.0V300.9H975.0V303.6H976.0V301.1H977.0V299.6H978.0V299.7H979.0V299.8H980.0V299.6H981.0V299.4H982.0V299.8H983.0V302.2H984.0V304.6H985.0V302.5H986.0V300.0H987.0V298.0H988.0V300.5H989.0V303.1H990.0V305.5H991.0V305.2H992.0V304.9H993.0V305.3H994.0V305.6H995.0V305.7H996.0V304.2H997.0V302.7H998.0V301.1H999.0V302.8H1000.0V304.8H1001.0V305.6H1002.0V304.8H1003.0V304.0H1004.0V303.6H1005.0V303.4H1006.0V304.8H1007.0V305.9H1008.0V305.8H1009.0V304.7H1010.0V303.3H1011.0V301.9H1012.0V300.4H1013.0V299.6H1014.0V300.0H1015.0V300.5H1016.0V302.0H1017.0V303.6H1018.0V304.1H1019.0V302.3H1020.0V300.5H1021.0V298.8H1022.0V305.9H1023.0V306.5H1024.0V305.9H1025.0V306.4H1026.0V304.6H1027.0V298.9H1028.0V299.6H1029.0V301.9H1030.0V303.2H1031.0V303.4H1032.0V303.6H1033.0V304.3H1034.0V305.7H1035.0V306.5H1036.0V304.4H1037.0V302.3H1038.0V302.0H1039.0V301.2H1040.0V299.9H1041.0V301.5H1042.0V304.0H1043.0V306.5H1044.0V301.7H1045.0V299.4H1046.0V301.4H1047.0V303.4H1048.0V304.2H1049.0V303.6H1050.0V305.9H1051.0V306.1H1052.0V304.9H1053.0V303.6H1054.0V303.0H1055.0V303.8H1056.0V304.6H1057.0V303.0H1058.0V301.5H1059.0V297.6H1060.0V297.9H1061.0V299.2H1062.0V295.8H1063.0V291.4H1064.0V286.9H1065.0V283.6H1066.0V285.9H1067.0V286.0H1068.0V285.6H1069.0V289.8H1070.0V295.7H1071.0V298.1H1072.0V296.8H1073.0V295.6H1074.0V293.0H1075.0V289.9H1076.0V286.8H1077.0V285.8H1078.0V288.1H1079.0V291.2H1080.0V292.0H1081.0V289.0H1082.0V286.0H1083.0V283.0H1084.0V285.3H1085.0V287.6H1086.0V290.0H1087.0V286.1H1088.0V284.3H1089.0V289.1H1090.0V293.9H1091.0V295.7H1092.0V296.8H1093.0V295.6H1094.0V293.8H1095.0V286.7H1096.0V292.9H1097.0V299.4H1098.0V294.0H1099.0V292.2H1100.0V299.6H1101.0V304.5H1102.0V304.0H1103.0V303.2H1104.0V302.3H1105.0V301.6H1106.0V301.0H1107.0V300.5H1108.0V300.8H1109.0V303.1H1110.0V301.8H1111.0V300.1H1112.0V299.1H1113.0V300.8H1114.0V302.5H1115.0V303.8H1116.0V304.2H1117.0V304.6H1118.0V304.0H1119.0V303.2H1120.0V302.5H1121.0V301.3H1122.0V301.7H1123.0V304.9H1123.0V312.5Z" fill="#fb6262"/>
<rect x="1061.00" y="73.00" width="56.00" height="231.00" fill="rgba(187,187,187,0.27)" />
<line x1="782.00" y1="332.00" x2="1123.00" y2="332.00" stroke="#787878" stroke-width="2" />
<line x1="782.00" y1="340.50" x2="1123.00" y2="340.50" stroke="#787878" stroke-width="2" />
<line x1="783.00" y1="320.00" x2="783.00" y2="330.00" stroke="#888" stroke-width="1" />
<line x1="789.00" y1="365.00" x2="821.00" y2="365.00" stroke="#0c0cc4" stroke-width="2.5" />
<rect x="789.00" y="353.00" width="1.50" height="24.00" fill="#7a7ae0"/>
<rect x="793.00" y="353.00" width="1.50" height="24.00" fill="#7a7ae0"/>
<rect x="800.00" y="352.00" width="2.00" height="26.00" fill="#0c0cc4"/>
<rect x="802.70" y="352.00" width="2.00" height="26.00" fill="#0c0cc4"/>
<rect x="805.40" y="352.00" width="2.00" height="26.00" fill="#0c0cc4"/>
<rect x="808.10" y="352.00" width="2.00" height="26.00" fill="#0c0cc4"/>
<rect x="810.80" y="352.00" width="2.00" height="26.00" fill="#0c0cc4"/>
<rect x="813.50" y="352.00" width="2.00" height="26.00" fill="#0c0cc4"/>
<rect x="816.20" y="352.00" width="2.00" height="26.00" fill="#0c0cc4"/>
<rect x="811.12" y="351.00" width="1.60" height="28.00" fill="#0c0cc4"/>
<rect x="804.38" y="351.00" width="1.62" height="28.00" fill="#0c0cc4"/>
<rect x="818.90" y="351.00" width="1.11" height="28.00" fill="#0c0cc4"/>
<rect x="812.19" y="351.00" width="1.45" height="28.00" fill="#0c0cc4"/>
<rect x="810.15" y="351.00" width="1.39" height="28.00" fill="#0c0cc4"/>
<rect x="812.62" y="351.00" width="1.23" height="28.00" fill="#7a7ae0"/>
<line x1="839.00" y1="365.00" x2="860.00" y2="365.00" stroke="#0c0cc4" stroke-width="2.5" />
<rect x="844.00" y="359.00" width="1.30" height="12.00" fill="#7a7ae0"/>
<rect x="853.00" y="359.00" width="1.30" height="12.00" fill="#7a7ae0"/>
<line x1="884.00" y1="365.00" x2="885.00" y2="365.00" stroke="#0c0cc4" stroke-width="2.5" />
<rect x="884.00" y="359.00" width="1.50" height="12.00" fill="#7a7ae0"/>
<line x1="901.00" y1="365.00" x2="1099.00" y2="365.00" stroke="#0c0cc4" stroke-width="2.5" />
<path d="M907.0,361.0 L910.0,365.0 L907.0,369.0" stroke="#7a7ae0" stroke-width="1.2" fill="none"/>
<path d="M918.5,361.0 L921.5,365.0 L918.5,369.0" stroke="#7a7ae0" stroke-width="1.2" fill="none"/>
<path d="M930.0,361.0 L933.0,365.0 L930.0,369.0" stroke="#7a7ae0" stroke-width="1.2" fill="none"/>
<path d="M941.5,361.0 L944.5,365.0 L941.5,369.0" stroke="#7a7ae0" stroke-width="1.2" fill="none"/>
<path d="M953.0,361.0 L956.0,365.0 L953.0,369.0" stroke="#7a7ae0" stroke-width="1.2" fill="none"/>
<path d="M964.5,361.0 L967.5,365.0 L964.5,369.0" stroke="#7a7ae0" stroke-width="1.2" fill="none"/>
<path d="M976.0,361.0 L979.0,365.0 L976.0,369.0" stroke="#7a7ae0" stroke-width="1.2" fill="none"/>
<path d="M987.5,361.0 L990.5,365.0 L987.5,369.0" stroke="#7a7ae0" stroke-width="1.2" fill="none"/>
<path d="M999.0,361.0 L1002.0,365.0 L999.0,369.0" stroke="#7a7ae0" stroke-width="1.2" fill="none"/>
<path d="M1010.5,361.0 L1013.5,365.0 L1010.5,369.0" stroke="#7a7ae0" stroke-width="1.2" fill="none"/>
<path d="M1022.0,361.0 L1025.0,365.0 L1022.0,369.0" stroke="#7a7ae0" stroke-width="1.2" fill="none"/>
<path d="M1033.5,361.0 L1036.5,365.0 L1033.5,369.0" stroke="#7a7ae0" stroke-width="1.2" fill="none"/>
<path d="M1045.0,361.0 L1048.0,365.0 L1045.0,369.0" stroke="#7a7ae0" stroke-width="1.2" fill="none"/>
<path d="M1056.5,361.0 L1059.5,365.0 L1056.5,369.0" stroke="#7a7ae0" stroke-width="1.2" fill="none"/>
<path d="M1068.0,361.0 L1071.0,365.0 L1068.0,369.0" stroke="#7a7ae0" stroke-width="1.2" fill="none"/>
<path d="M1079.5,361.0 L1082.5,365.0 L1079.5,369.0" stroke="#7a7ae0" stroke-width="1.2" fill="none"/>
<path d="M1091.0,361.0 L1094.0,365.0 L1091.0,369.0" stroke="#7a7ae0" stroke-width="1.2" fill="none"/>
<rect x="1097.00" y="351.00" width="2.50" height="28.00" fill="#0c0cc4"/>
<line x1="969.00" y1="392.00" x2="989.00" y2="392.00" stroke="#0c0cc4" stroke-width="2.5" />
<rect x="973.00" y="386.00" width="1.00" height="12.00" fill="#7a7ae0"/>
<rect x="985.00" y="386.00" width="1.00" height="12.00" fill="#7a7ae0"/>
<line x1="1060.00" y1="392.00" x2="1099.00" y2="392.00" stroke="#0c0cc4" stroke-width="2.5" />
<rect x="1060.00" y="379.00" width="1.50" height="26.00" fill="#7a7ae0"/>
<rect x="1069.00" y="379.00" width="2.00" height="26.00" fill="#0c0cc4"/>
<rect x="1071.00" y="379.00" width="2.00" height="26.00" fill="#0c0cc4"/>
<rect x="1073.00" y="379.00" width="1.30" height="26.00" fill="#7a7ae0"/>
<rect x="1077.00" y="385.00" width="1.20" height="14.00" fill="#7a7ae0"/>
<rect x="1090.00" y="379.00" width="1.50" height="26.00" fill="#0c0cc4"/>
<rect x="1093.00" y="379.00" width="1.50" height="26.00" fill="#0c0cc4"/>
<rect x="1096.00" y="379.00" width="2.50" height="26.00" fill="#0c0cc4"/>
<text x="765.0" y="393.0" font-size="14.4" font-style="italic" >PURG</text>
<text x="812.0" y="391.0" font-size="14.4" font-style="italic" >WRN</text>
<text x="1048.0" y="439.0" font-size="33.2" font-style="italic" >NRG1</text>
<line x1="175.00" y1="455.00" x2="193.50" y2="455.00" stroke="#000" stroke-width="5" />
<text x="199.0" y="466.0" font-size="35.5" font-style="italic" >siControl</text>
<line x1="360.00" y1="455.00" x2="380.00" y2="455.00" stroke="#f88686" stroke-width="5" />
<text x="385.0" y="466.0" font-size="35.5" font-style="italic" >siRNF20</text>
<text x="41.0" y="593.0" font-size="36" text-anchor="middle" transform="rotate(-90 41.0 593.0)" >H2Bub1</text>
<text x="84.0" y="588.0" font-size="36" text-anchor="middle" transform="rotate(-90 84.0 588.0)" >ChIP-Seq (RPM)</text>
<rect x="162.5" y="476" width="462.5" height="201.5" fill="none" stroke="#000" stroke-width="4.6"/>
<line x1="153.00" y1="539.25" x2="160.20" y2="539.25" stroke="#333" stroke-width="3" />
<line x1="153.00" y1="611.75" x2="160.20" y2="611.75" stroke="#333" stroke-width="3" />
<text x="147.5" y="547.5" font-size="24.3" text-anchor="end" fill="#1a1a1a" >0.15</text>
<text x="147.5" y="618.0" font-size="24.3" text-anchor="end" fill="#1a1a1a" >0.10</text>
<line x1="182.50" y1="679.80" x2="182.50" y2="686.50" stroke="#333" stroke-width="3" />
<line x1="262.50" y1="679.80" x2="262.50" y2="686.50" stroke="#333" stroke-width="3" />
<line x1="508.75" y1="679.80" x2="508.75" y2="686.50" stroke="#333" stroke-width="3" />
<line x1="605.50" y1="679.80" x2="605.50" y2="686.50" stroke="#333" stroke-width="3" />
<text x="178.5" y="714.5" font-size="29.6" text-anchor="middle" >-5kb</text>
<text x="266.0" y="714.5" font-size="29.6" text-anchor="middle" >TSS</text>
<text x="508.5" y="714.5" font-size="29.6" text-anchor="middle" >TES</text>
<text x="599.0" y="714.5" font-size="29.6" text-anchor="middle" >-5kb</text>
<text x="606.5" y="516.0" font-size="33" text-anchor="end" >Genome-wide</text>
<path d="M182.80,611.70 C185.17,613.39 192.13,619.37 197.00,621.84 C201.87,624.31 207.17,626.31 212.00,626.50 C216.83,626.69 221.33,626.08 226.00,623.00 C230.67,619.92 235.67,613.67 240.00,608.00 C244.33,602.33 248.20,595.83 252.00,589.00 C255.80,582.17 258.63,575.50 262.80,567.00 C266.97,558.50 272.00,547.40 277.00,538.00 C282.00,528.60 287.63,518.10 292.80,510.60 C297.97,503.10 303.30,497.10 308.00,493.00 C312.70,488.90 316.50,486.50 321.00,486.00 C325.50,485.50 330.33,487.50 335.00,490.00 C339.67,492.50 342.27,495.68 349.00,501.00 C355.73,506.32 366.62,516.57 375.40,521.90 C384.18,527.23 392.32,529.88 401.70,533.00 C411.08,536.12 420.45,537.45 431.70,540.60 C442.95,543.75 456.68,548.13 469.20,551.90 C481.72,555.67 496.17,558.85 506.80,563.20 C517.43,567.55 523.63,572.36 533.00,578.00 C542.37,583.64 554.33,593.27 563.00,597.02 C571.67,600.77 578.00,600.12 585.00,600.50 C592.00,600.88 601.67,599.50 605.00,599.30 L605.00,626.70 C601.67,625.83 592.00,624.12 585.00,621.50 C578.00,618.88 571.67,615.90 563.00,610.98 C554.33,606.06 542.37,597.63 533.00,592.00 C523.63,586.37 517.43,581.55 506.80,577.20 C496.17,572.85 481.72,569.67 469.20,565.90 C456.68,562.13 442.95,557.75 431.70,554.60 C420.45,551.45 411.08,550.12 401.70,547.00 C392.32,543.88 384.18,541.23 375.40,535.90 C366.62,530.57 355.73,520.32 349.00,515.00 C342.27,509.68 339.67,506.50 335.00,504.00 C330.33,501.50 325.50,499.50 321.00,500.00 C316.50,500.50 312.70,502.90 308.00,507.00 C303.30,511.10 297.97,517.10 292.80,524.60 C287.63,532.10 282.00,542.60 277.00,552.00 C272.00,561.40 266.97,572.50 262.80,581.00 C258.63,589.50 255.80,596.17 252.00,603.00 C248.20,609.83 244.33,616.33 240.00,622.00 C235.67,627.67 230.67,633.92 226.00,637.00 C221.33,640.08 216.83,640.31 212.00,640.50 C207.17,640.69 201.87,639.29 197.00,638.16 C192.13,637.03 185.17,634.44 182.80,633.70 Z" fill="#d4d4d4"/>
<path d="M182.80,626.70 C185.33,628.34 192.47,634.24 198.00,636.54 C203.53,638.84 210.67,640.59 216.00,640.50 C221.33,640.41 225.00,639.92 230.00,636.00 C235.00,632.08 240.53,624.17 246.00,617.00 C251.47,609.83 257.13,600.67 262.80,593.00 C268.47,585.33 274.38,577.23 280.00,571.00 C285.62,564.77 291.50,559.77 296.50,555.60 C301.50,551.43 305.92,547.87 310.00,546.00 C314.08,544.13 317.17,544.23 321.00,544.40 C324.83,544.57 328.95,545.13 333.00,547.00 C337.05,548.87 338.87,550.43 345.30,555.60 C351.73,560.77 362.20,572.37 371.60,578.00 C381.00,583.63 391.68,586.23 401.70,589.40 C411.72,592.57 420.45,594.18 431.70,597.00 C442.95,599.82 456.68,603.50 469.20,606.30 C481.72,609.10 496.17,611.30 506.80,613.80 C517.43,616.30 523.63,618.60 533.00,621.30 C542.37,624.00 554.33,628.49 563.00,630.02 C571.67,631.55 578.00,630.87 585.00,630.50 C592.00,630.13 601.67,628.25 605.00,627.80 L605.00,655.20 C601.67,654.58 592.00,653.37 585.00,651.50 C578.00,649.63 571.67,646.68 563.00,643.98 C554.33,641.28 542.37,638.00 533.00,635.30 C523.63,632.60 517.43,630.30 506.80,627.80 C496.17,625.30 481.72,623.10 469.20,620.30 C456.68,617.50 442.95,613.82 431.70,611.00 C420.45,608.18 411.72,606.57 401.70,603.40 C391.68,600.23 381.00,597.63 371.60,592.00 C362.20,586.37 351.73,574.77 345.30,569.60 C338.87,564.43 337.05,562.87 333.00,561.00 C328.95,559.13 324.83,558.57 321.00,558.40 C317.17,558.23 314.08,558.13 310.00,560.00 C305.92,561.87 301.50,565.43 296.50,569.60 C291.50,573.77 285.62,578.77 280.00,585.00 C274.38,591.23 268.47,599.33 262.80,607.00 C257.13,614.67 251.47,623.83 246.00,631.00 C240.53,638.17 235.00,646.08 230.00,650.00 C225.00,653.92 221.33,654.09 216.00,654.50 C210.67,654.91 203.53,653.43 198.00,652.46 C192.47,651.49 185.33,649.33 182.80,648.70 Z" fill="#d4d4d4"/>
<path d="M182.80,622.70 C185.17,623.92 192.13,628.20 197.00,630.00 C201.87,631.80 207.17,633.50 212.00,633.50 C216.83,633.50 221.33,633.08 226.00,630.00 C230.67,626.92 235.67,620.67 240.00,615.00 C244.33,609.33 248.20,602.83 252.00,596.00 C255.80,589.17 258.63,582.50 262.80,574.00 C266.97,565.50 272.00,554.40 277.00,545.00 C282.00,535.60 287.63,525.10 292.80,517.60 C297.97,510.10 303.30,504.10 308.00,500.00 C312.70,495.90 316.50,493.50 321.00,493.00 C325.50,492.50 330.33,494.50 335.00,497.00 C339.67,499.50 342.27,502.68 349.00,508.00 C355.73,513.32 366.62,523.57 375.40,528.90 C384.18,534.23 392.32,536.88 401.70,540.00 C411.08,543.12 420.45,544.45 431.70,547.60 C442.95,550.75 456.68,555.13 469.20,558.90 C481.72,562.67 496.17,565.85 506.80,570.20 C517.43,574.55 523.63,579.37 533.00,585.00 C542.37,590.63 554.33,599.67 563.00,604.00 C571.67,608.33 578.00,609.50 585.00,611.00 C592.00,612.50 601.67,612.67 605.00,613.00" fill="none" stroke="#000" stroke-width="5.2" stroke-linejoin="round"/>
<path d="M182.80,637.70 C185.33,638.83 192.47,642.87 198.00,644.50 C203.53,646.13 210.67,647.75 216.00,647.50 C221.33,647.25 225.00,646.92 230.00,643.00 C235.00,639.08 240.53,631.17 246.00,624.00 C251.47,616.83 257.13,607.67 262.80,600.00 C268.47,592.33 274.38,584.23 280.00,578.00 C285.62,571.77 291.50,566.77 296.50,562.60 C301.50,558.43 305.92,554.87 310.00,553.00 C314.08,551.13 317.17,551.23 321.00,551.40 C324.83,551.57 328.95,552.13 333.00,554.00 C337.05,555.87 338.87,557.43 345.30,562.60 C351.73,567.77 362.20,579.37 371.60,585.00 C381.00,590.63 391.68,593.23 401.70,596.40 C411.72,599.57 420.45,601.18 431.70,604.00 C442.95,606.82 456.68,610.50 469.20,613.30 C481.72,616.10 496.17,618.30 506.80,620.80 C517.43,623.30 523.63,625.60 533.00,628.30 C542.37,631.00 554.33,634.88 563.00,637.00 C571.67,639.12 578.00,640.25 585.00,641.00 C592.00,641.75 601.67,641.42 605.00,641.50" fill="none" stroke="#f88686" stroke-width="5.2" stroke-linejoin="round"/>
<rect x="658.5" y="476" width="461.5" height="201" fill="none" stroke="#000" stroke-width="4.6"/>
<line x1="650.00" y1="539.25" x2="656.20" y2="539.25" stroke="#333" stroke-width="3" />
<line x1="650.00" y1="611.75" x2="656.20" y2="611.75" stroke="#333" stroke-width="3" />
<line x1="678.75" y1="679.30" x2="678.75" y2="686.00" stroke="#333" stroke-width="3" />
<line x1="759.50" y1="679.30" x2="759.50" y2="686.00" stroke="#333" stroke-width="3" />
<line x1="1005.00" y1="679.30" x2="1005.00" y2="686.00" stroke="#333" stroke-width="3" />
<line x1="1101.25" y1="679.30" x2="1101.25" y2="686.00" stroke="#333" stroke-width="3" />
<text x="676.0" y="714.5" font-size="29.6" text-anchor="middle" >-5kb</text>
<text x="763.5" y="714.5" font-size="29.6" text-anchor="middle" >TSS</text>
<text x="1006.0" y="714.5" font-size="29.6" text-anchor="middle" >TES</text>
<text x="1097.0" y="714.5" font-size="29.6" text-anchor="middle" >-5kb</text>
<text x="1107.5" y="516.0" font-size="33.6" text-anchor="end" >Down</text>
<path d="M678.75,637.00 C680.96,637.69 687.62,640.15 692.00,641.15 C696.38,642.15 700.33,643.77 705.00,643.00 C709.67,642.23 715.42,639.00 720.00,636.50 C724.58,634.00 726.25,634.42 732.50,628.00 C738.75,621.58 747.92,609.25 757.50,598.00 C767.08,586.75 780.92,569.58 790.00,560.50 C799.08,551.42 804.50,548.08 812.00,543.50 C819.50,538.92 825.33,535.83 835.00,533.00 C844.67,530.17 858.33,528.17 870.00,526.50 C881.67,524.83 894.17,522.67 905.00,523.00 C915.83,523.33 925.42,526.25 935.00,528.50 C944.58,530.75 953.33,534.50 962.50,536.50 C971.67,538.50 982.50,538.17 990.00,540.50 C997.50,542.83 1001.67,545.50 1007.50,550.50 C1013.33,555.50 1017.92,561.33 1025.00,570.50 C1032.08,579.67 1041.67,597.38 1050.00,605.50 C1058.33,613.62 1066.46,618.44 1075.00,619.25 C1083.54,620.06 1096.88,611.85 1101.25,610.38 L1101.25,632.12 C1096.88,631.48 1083.54,631.19 1075.00,628.25 C1066.46,625.31 1058.33,622.62 1050.00,614.50 C1041.67,606.38 1032.08,588.67 1025.00,579.50 C1017.92,570.33 1013.33,564.50 1007.50,559.50 C1001.67,554.50 997.50,551.83 990.00,549.50 C982.50,547.17 971.67,547.50 962.50,545.50 C953.33,543.50 944.58,539.75 935.00,537.50 C925.42,535.25 915.83,532.33 905.00,532.00 C894.17,531.67 881.67,533.83 870.00,535.50 C858.33,537.17 844.67,539.17 835.00,542.00 C825.33,544.83 819.50,547.92 812.00,552.50 C804.50,557.08 799.08,560.42 790.00,569.50 C780.92,578.58 767.08,595.75 757.50,607.00 C747.92,618.25 738.75,630.58 732.50,637.00 C726.25,643.42 724.58,643.00 720.00,645.50 C715.42,648.00 709.67,650.61 705.00,652.00 C700.33,653.39 696.38,653.35 692.00,653.85 C687.62,654.35 680.96,654.81 678.75,655.00 Z" fill="#d4d4d4"/>
<path d="M678.75,653.50 C681.29,654.51 688.79,658.38 694.00,659.55 C699.21,660.72 701.08,663.26 710.00,660.50 C718.92,657.74 734.17,650.50 747.50,643.00 C760.83,635.50 779.58,621.75 790.00,615.50 C800.42,609.25 803.33,608.00 810.00,605.50 C816.67,603.00 823.33,601.25 830.00,600.50 C836.67,599.75 835.83,600.25 850.00,601.00 C864.17,601.75 894.17,603.42 915.00,605.00 C935.83,606.58 960.83,609.00 975.00,610.50 C989.17,612.00 991.67,611.08 1000.00,614.00 C1008.33,616.92 1016.67,623.17 1025.00,628.00 C1033.33,632.83 1042.50,639.46 1050.00,643.00 C1057.50,646.54 1061.46,649.98 1070.00,649.25 C1078.54,648.52 1096.04,640.40 1101.25,638.62 L1101.25,660.38 C1096.04,660.02 1078.54,659.65 1070.00,658.25 C1061.46,656.85 1057.50,655.54 1050.00,652.00 C1042.50,648.46 1033.33,641.83 1025.00,637.00 C1016.67,632.17 1008.33,625.92 1000.00,623.00 C991.67,620.08 989.17,621.00 975.00,619.50 C960.83,618.00 935.83,615.58 915.00,614.00 C894.17,612.42 864.17,610.75 850.00,610.00 C835.83,609.25 836.67,608.75 830.00,609.50 C823.33,610.25 816.67,612.00 810.00,614.50 C803.33,617.00 800.42,618.25 790.00,624.50 C779.58,630.75 760.83,644.50 747.50,652.00 C734.17,659.50 718.92,666.26 710.00,669.50 C701.08,672.74 699.21,671.12 694.00,671.45 C688.79,671.78 681.29,671.49 678.75,671.50 Z" fill="#d4d4d4"/>
<path d="M678.75,646.00 C680.96,646.25 687.62,647.25 692.00,647.50 C696.38,647.75 700.33,648.58 705.00,647.50 C709.67,646.42 715.42,643.50 720.00,641.00 C724.58,638.50 726.25,638.92 732.50,632.50 C738.75,626.08 747.92,613.75 757.50,602.50 C767.08,591.25 780.92,574.08 790.00,565.00 C799.08,555.92 804.50,552.58 812.00,548.00 C819.50,543.42 825.33,540.33 835.00,537.50 C844.67,534.67 858.33,532.67 870.00,531.00 C881.67,529.33 894.17,527.17 905.00,527.50 C915.83,527.83 925.42,530.75 935.00,533.00 C944.58,535.25 953.33,539.00 962.50,541.00 C971.67,543.00 982.50,542.67 990.00,545.00 C997.50,547.33 1001.67,550.00 1007.50,555.00 C1013.33,560.00 1017.92,565.83 1025.00,575.00 C1032.08,584.17 1041.67,601.88 1050.00,610.00 C1058.33,618.12 1066.46,621.88 1075.00,623.75 C1083.54,625.62 1096.88,621.67 1101.25,621.25" fill="none" stroke="#000" stroke-width="5.2" stroke-linejoin="round"/>
<path d="M678.75,662.50 C681.29,663.00 688.79,665.08 694.00,665.50 C699.21,665.92 701.08,668.00 710.00,665.00 C718.92,662.00 734.17,655.00 747.50,647.50 C760.83,640.00 779.58,626.25 790.00,620.00 C800.42,613.75 803.33,612.50 810.00,610.00 C816.67,607.50 823.33,605.75 830.00,605.00 C836.67,604.25 835.83,604.75 850.00,605.50 C864.17,606.25 894.17,607.92 915.00,609.50 C935.83,611.08 960.83,613.50 975.00,615.00 C989.17,616.50 991.67,615.58 1000.00,618.50 C1008.33,621.42 1016.67,627.67 1025.00,632.50 C1033.33,637.33 1042.50,643.96 1050.00,647.50 C1057.50,651.04 1061.46,653.42 1070.00,653.75 C1078.54,654.08 1096.04,650.21 1101.25,649.50" fill="none" stroke="#f88686" stroke-width="5.2" stroke-linejoin="round"/>
<text x="1196.0" y="47.5" font-size="90" >c</text>
<rect x="1446.50" y="91.00" width="24.00" height="24.00" fill="#000" />
<text x="1482.0" y="113.0" font-size="36" font-style="italic" >siControl</text>
<rect x="1653.00" y="91.00" width="25.00" height="24.00" fill="#ff8080" />
<text x="1690.0" y="113.0" font-size="36" font-style="italic" >siRNF20</text>
<text x="1207.0" y="340.5" font-size="36.7" text-anchor="middle" transform="rotate(-90 1207.0 340.5)" >H2Bub1 relative enrichment</text>
<rect x="1320.75" y="256.50" width="47.50" height="276.00" fill="#000" />
<rect x="1368.25" y="457.98" width="47.50" height="74.52" fill="#ff8080" />
<rect x="1440.00" y="256.50" width="47.50" height="276.00" fill="#000" />
<rect x="1487.50" y="519.25" width="47.50" height="13.25" fill="#ff8080" />
<rect x="1559.25" y="256.50" width="47.50" height="276.00" fill="#000" />
<rect x="1606.75" y="466.54" width="47.50" height="65.96" fill="#ff8080" />
<rect x="1678.50" y="256.50" width="47.50" height="276.00" fill="#000" />
<rect x="1726.00" y="348.96" width="47.50" height="183.54" fill="#ff8080" />
<rect x="1797.75" y="256.50" width="47.50" height="276.00" fill="#000" />
<rect x="1845.25" y="348.68" width="47.50" height="183.82" fill="#ff8080" />
<line x1="1344.50" y1="256.50" x2="1344.50" y2="202.96" stroke="#000" stroke-width="3.2" />
<line x1="1332.50" y1="202.96" x2="1356.50" y2="202.96" stroke="#000" stroke-width="3.6" />
<circle cx="1344.50" cy="163.76" r="8.0" fill="#fff" stroke="#000" stroke-width="3.6"/>
<circle cx="1344.50" cy="256.50" r="8.0" fill="#fff" stroke="#000" stroke-width="3.6"/>
<circle cx="1344.50" cy="347.58" r="8.0" fill="#fff" stroke="#000" stroke-width="3.6"/>
<line x1="1392.00" y1="457.98" x2="1392.00" y2="442.52" stroke="#000" stroke-width="3.2" />
<line x1="1380.00" y1="442.52" x2="1404.00" y2="442.52" stroke="#000" stroke-width="3.6" />
<circle cx="1375.50" cy="435.07" r="8.0" fill="#fff" stroke="#000" stroke-width="3.6"/>
<circle cx="1407.50" cy="443.08" r="8.0" fill="#fff" stroke="#000" stroke-width="3.6"/>
<circle cx="1392.00" cy="496.07" r="8.0" fill="#fff" stroke="#000" stroke-width="3.6"/>
<line x1="1463.75" y1="256.50" x2="1463.75" y2="235.52" stroke="#000" stroke-width="3.2" />
<line x1="1451.75" y1="235.52" x2="1475.75" y2="235.52" stroke="#000" stroke-width="3.6" />
<circle cx="1463.75" cy="213.72" r="8.0" fill="#fff" stroke="#000" stroke-width="3.6"/>
<circle cx="1447.25" cy="278.58" r="8.0" fill="#fff" stroke="#000" stroke-width="3.6"/>
<circle cx="1479.25" cy="273.06" r="8.0" fill="#fff" stroke="#000" stroke-width="3.6"/>
<line x1="1511.25" y1="519.25" x2="1511.25" y2="511.80" stroke="#000" stroke-width="3.2" />
<line x1="1499.25" y1="511.80" x2="1523.25" y2="511.80" stroke="#000" stroke-width="3.6" />
<circle cx="1496.25" cy="509.04" r="8.0" fill="#fff" stroke="#000" stroke-width="3.6"/>
<circle cx="1526.75" cy="515.94" r="8.0" fill="#fff" stroke="#000" stroke-width="3.6"/>
<circle cx="1496.25" cy="529.74" r="8.0" fill="#fff" stroke="#000" stroke-width="3.6"/>
<line x1="1583.00" y1="256.50" x2="1583.00" y2="250.98" stroke="#000" stroke-width="3.2" />
<line x1="1571.00" y1="250.98" x2="1595.00" y2="250.98" stroke="#000" stroke-width="3.6" />
<circle cx="1567.00" cy="248.22" r="8.0" fill="#fff" stroke="#000" stroke-width="3.6"/>
<circle cx="1598.00" cy="249.05" r="8.0" fill="#fff" stroke="#000" stroke-width="3.6"/>
<circle cx="1583.00" cy="270.30" r="8.0" fill="#fff" stroke="#000" stroke-width="3.6"/>
<line x1="1630.50" y1="466.54" x2="1630.50" y2="453.01" stroke="#000" stroke-width="3.2" />
<line x1="1618.50" y1="453.01" x2="1642.50" y2="453.01" stroke="#000" stroke-width="3.6" />
<circle cx="1630.50" cy="442.80" r="8.0" fill="#fff" stroke="#000" stroke-width="3.6"/>
<circle cx="1630.50" cy="466.26" r="8.0" fill="#fff" stroke="#000" stroke-width="3.6"/>
<circle cx="1630.50" cy="492.48" r="8.0" fill="#fff" stroke="#000" stroke-width="3.6"/>
<line x1="1702.25" y1="256.50" x2="1702.25" y2="234.70" stroke="#000" stroke-width="3.2" />
<line x1="1690.25" y1="234.70" x2="1714.25" y2="234.70" stroke="#000" stroke-width="3.6" />
<circle cx="1702.25" cy="223.38" r="8.0" fill="#fff" stroke="#000" stroke-width="3.6"/>
<circle cx="1702.25" cy="249.32" r="8.0" fill="#fff" stroke="#000" stroke-width="3.6"/>
<circle cx="1702.25" cy="295.14" r="8.0" fill="#fff" stroke="#000" stroke-width="3.6"/>
<line x1="1749.75" y1="348.96" x2="1749.75" y2="333.78" stroke="#000" stroke-width="3.2" />
<line x1="1737.75" y1="333.78" x2="1761.75" y2="333.78" stroke="#000" stroke-width="3.6" />
<circle cx="1734.25" cy="333.78" r="8.0" fill="#fff" stroke="#000" stroke-width="3.6"/>
<circle cx="1765.25" cy="337.92" r="8.0" fill="#fff" stroke="#000" stroke-width="3.6"/>
<circle cx="1749.75" cy="376.56" r="8.0" fill="#fff" stroke="#000" stroke-width="3.6"/>
<line x1="1821.50" y1="256.50" x2="1821.50" y2="223.38" stroke="#000" stroke-width="3.2" />
<line x1="1809.50" y1="223.38" x2="1833.50" y2="223.38" stroke="#000" stroke-width="3.6" />
<circle cx="1821.50" cy="199.37" r="8.0" fill="#fff" stroke="#000" stroke-width="3.6"/>
<circle cx="1821.50" cy="255.12" r="8.0" fill="#fff" stroke="#000" stroke-width="3.6"/>
<circle cx="1821.50" cy="313.63" r="8.0" fill="#fff" stroke="#000" stroke-width="3.6"/>
<line x1="1869.00" y1="348.68" x2="1869.00" y2="322.74" stroke="#000" stroke-width="3.2" />
<line x1="1857.00" y1="322.74" x2="1881.00" y2="322.74" stroke="#000" stroke-width="3.6" />
<circle cx="1869.00" cy="303.42" r="8.0" fill="#fff" stroke="#000" stroke-width="3.6"/>
<circle cx="1869.00" cy="351.72" r="8.0" fill="#fff" stroke="#000" stroke-width="3.6"/>
<circle cx="1869.00" cy="391.74" r="8.0" fill="#fff" stroke="#000" stroke-width="3.6"/>
<line x1="1296.50" y1="116.00" x2="1296.50" y2="535.50" stroke="#000" stroke-width="5.5" />
<line x1="1274.00" y1="532.50" x2="1921.00" y2="532.50" stroke="#000" stroke-width="5.5" />
<line x1="1274.00" y1="532.50" x2="1296.50" y2="532.50" stroke="#000" stroke-width="5.5" />
<line x1="1274.00" y1="394.50" x2="1296.50" y2="394.50" stroke="#000" stroke-width="5.5" />
<line x1="1274.00" y1="256.50" x2="1296.50" y2="256.50" stroke="#000" stroke-width="5.5" />
<line x1="1274.00" y1="118.50" x2="1296.50" y2="118.50" stroke="#000" stroke-width="5.5" />
<text x="1268.0" y="543.5" font-size="31" text-anchor="end" >0.0</text>
<text x="1268.0" y="405.5" font-size="31" text-anchor="end" >0.5</text>
<text x="1268.0" y="267.5" font-size="31" text-anchor="end" >1.0</text>
<text x="1268.0" y="129.5" font-size="31" text-anchor="end" >1.5</text>
<line x1="1368.25" y1="535.00" x2="1368.25" y2="555.00" stroke="#000" stroke-width="5.5" />
<line x1="1487.50" y1="535.00" x2="1487.50" y2="555.00" stroke="#000" stroke-width="5.5" />
<line x1="1606.75" y1="535.00" x2="1606.75" y2="555.00" stroke="#000" stroke-width="5.5" />
<line x1="1726.00" y1="535.00" x2="1726.00" y2="555.00" stroke="#000" stroke-width="5.5" />
<line x1="1845.25" y1="535.00" x2="1845.25" y2="555.00" stroke="#000" stroke-width="5.5" />
<text x="1368.5" y="590.0" font-size="35.5" text-anchor="middle" font-style="italic" >LDLR</text>
<text x="1486.0" y="590.0" font-size="35.5" text-anchor="middle" font-style="italic" >ZYX</text>
<text x="1606.0" y="590.0" font-size="35.5" text-anchor="middle" font-style="italic" >NRG1</text>
<text x="1726.0" y="590.0" font-size="35.5" text-anchor="middle" font-style="italic" >IGF2</text>
<text x="1848.5" y="590.0" font-size="35.5" text-anchor="middle" font-style="italic" >VEGFC</text>
<text x="1392.0" y="427.9" font-size="46" text-anchor="middle" >*</text>
<text x="1517.5" y="506.9" font-size="46" text-anchor="middle" letter-spacing="3">***</text>
<text x="1639.0" y="437.9" font-size="46" text-anchor="middle" letter-spacing="3">***</text>
<text x="1747.0" y="336.9" font-size="46" text-anchor="middle" >*</text>
<text x="1847.0" y="256.0" font-size="40" >ns</text>
<text x="9.0" y="782.0" font-size="88" >d</text>
<line x1="218.25" y1="727.50" x2="218.25" y2="784.00" stroke="#b3b3b3" stroke-width="4.5" />
<rect x="191" y="737.5" width="54" height="36" fill="#000" stroke="#b3b3b3" stroke-width="4"/>
<line x1="193.00" y1="755.50" x2="243.00" y2="755.50" stroke="#b3b3b3" stroke-width="5.5" />
<text x="252.0" y="766.0" font-size="37" ><tspan font-style="italic">si</tspan>Control</text>
<line x1="442.70" y1="727.50" x2="442.70" y2="784.00" stroke="#b3b3b3" stroke-width="4.5" />
<rect x="416.6" y="737.5" width="52.2" height="36" fill="#e8807b" stroke="#b3b3b3" stroke-width="4"/>
<line x1="418.60" y1="755.50" x2="466.80" y2="755.50" stroke="#b3b3b3" stroke-width="5.5" />
<text x="482.0" y="766.0" font-size="37" font-style="italic" >siRNF20</text>
<text x="57.5" y="1004.8" font-size="36.4" text-anchor="middle" transform="rotate(-90 57.5 1004.8)" >total Pol II CHIP-Seq</text>
<text x="102.5" y="988.0" font-size="36.4" text-anchor="middle" transform="rotate(-90 102.5 988.0)" >Log2 PI (siRNF20/siControl)</text>
<line x1="166.00" y1="1089.22" x2="176.00" y2="1089.22" stroke="#333" stroke-width="3.5" />
<text x="157.0" y="1100.2" font-size="31" text-anchor="end" fill="#4d4d4d" >2</text>
<line x1="166.00" y1="977.34" x2="176.00" y2="977.34" stroke="#333" stroke-width="3.5" />
<text x="157.0" y="988.3" font-size="31" text-anchor="end" fill="#4d4d4d" >4</text>
<line x1="166.00" y1="865.46" x2="176.00" y2="865.46" stroke="#333" stroke-width="3.5" />
<text x="157.0" y="876.5" font-size="31" text-anchor="end" fill="#4d4d4d" >6</text>
<rect x="178.25" y="804.3" width="258.75" height="357.5" fill="none" stroke="#000" stroke-width="4.6"/>
<line x1="178.25" y1="864.50" x2="437.00" y2="864.50" stroke="#000" stroke-width="4.6" />
<text x="306.0" y="850.0" font-size="37" text-anchor="middle" >Notch</text>
<line x1="248.12" y1="1012.02" x2="248.12" y2="1063.77" stroke="#b3b3b3" stroke-width="5.5" />
<line x1="248.12" y1="1110.76" x2="248.12" y2="1144.60" stroke="#b3b3b3" stroke-width="5.5" />
<rect x="199.80" y="1066.07" width="96.65" height="42.39" fill="#000" stroke="#b3b3b3" stroke-width="4.6"/>
<line x1="202.10" y1="1094.98" x2="294.15" y2="1094.98" stroke="#b3b3b3" stroke-width="8" />
<line x1="248.12" y1="1164.00" x2="248.12" y2="1176.00" stroke="#333" stroke-width="3.5" />
<line x1="368.38" y1="1055.10" x2="368.38" y2="1078.76" stroke="#b3b3b3" stroke-width="5.5" />
<line x1="368.38" y1="1119.26" x2="368.38" y2="1145.16" stroke="#b3b3b3" stroke-width="5.5" />
<rect x="320.30" y="1081.06" width="96.15" height="35.90" fill="#e8807b" stroke="#b3b3b3" stroke-width="4.6"/>
<line x1="322.60" y1="1093.02" x2="414.15" y2="1093.02" stroke="#b3b3b3" stroke-width="8" />
<line x1="368.38" y1="1164.00" x2="368.38" y2="1176.00" stroke="#333" stroke-width="3.5" />
<path d="M248.8,996.2 L248.8,970.8 L368.2,970.8 L368.2,996.2" fill="none" stroke="#000" stroke-width="2.2"/>
<text x="310.0" y="962.0" font-size="32" text-anchor="middle" >0.264</text>
<rect x="462.75" y="804.3" width="259.50" height="357.5" fill="none" stroke="#000" stroke-width="4.6"/>
<line x1="462.75" y1="864.50" x2="722.25" y2="864.50" stroke="#000" stroke-width="4.6" />
<text x="609.0" y="850.0" font-size="37" text-anchor="middle" >TGF-β</text>
<line x1="532.75" y1="909.65" x2="532.75" y2="1020.53" stroke="#b3b3b3" stroke-width="5.5" />
<line x1="532.75" y1="1104.49" x2="532.75" y2="1142.03" stroke="#b3b3b3" stroke-width="5.5" />
<rect x="484.80" y="1022.83" width="95.90" height="79.37" fill="#000" stroke="#b3b3b3" stroke-width="4.6"/>
<line x1="487.10" y1="1075.51" x2="578.40" y2="1075.51" stroke="#b3b3b3" stroke-width="8" />
<line x1="532.75" y1="1164.00" x2="532.75" y2="1176.00" stroke="#333" stroke-width="3.5" />
<line x1="652.75" y1="995.52" x2="652.75" y2="1060.02" stroke="#b3b3b3" stroke-width="5.5" />
<line x1="652.75" y1="1119.48" x2="652.75" y2="1145.16" stroke="#b3b3b3" stroke-width="5.5" />
<rect x="604.80" y="1062.32" width="95.90" height="54.86" fill="#e8807b" stroke="#b3b3b3" stroke-width="4.6"/>
<line x1="607.10" y1="1095.49" x2="698.40" y2="1095.49" stroke="#b3b3b3" stroke-width="8" />
<line x1="652.75" y1="1164.00" x2="652.75" y2="1176.00" stroke="#333" stroke-width="3.5" />
<path d="M533.2,903.8 L533.2,903.8 L652.5,903.8 L652.5,985.5" fill="none" stroke="#000" stroke-width="2.2"/>
<text x="592.0" y="897.5" font-size="32" text-anchor="middle" >0.0393</text>
<rect x="747.25" y="804.3" width="260.00" height="357.5" fill="none" stroke="#000" stroke-width="4.6"/>
<line x1="747.25" y1="864.50" x2="1007.25" y2="864.50" stroke="#000" stroke-width="4.6" />
<text x="891.5" y="846.5" font-size="37" text-anchor="middle" >WNT</text>
<line x1="816.75" y1="996.53" x2="816.75" y2="1060.75" stroke="#b3b3b3" stroke-width="5.5" />
<line x1="816.75" y1="1110.48" x2="816.75" y2="1145.16" stroke="#b3b3b3" stroke-width="5.5" />
<rect x="768.80" y="1063.05" width="95.90" height="45.13" fill="#000" stroke="#b3b3b3" stroke-width="4.6"/>
<line x1="771.10" y1="1090.00" x2="862.40" y2="1090.00" stroke="#b3b3b3" stroke-width="8" />
<line x1="816.75" y1="1164.00" x2="816.75" y2="1176.00" stroke="#333" stroke-width="3.5" />
<line x1="937.25" y1="1004.25" x2="937.25" y2="1069.25" stroke="#b3b3b3" stroke-width="5.5" />
<line x1="937.25" y1="1122.50" x2="937.25" y2="1145.16" stroke="#b3b3b3" stroke-width="5.5" />
<rect x="889.05" y="1071.55" width="96.40" height="48.65" fill="#e8807b" stroke="#b3b3b3" stroke-width="4.6"/>
<line x1="891.35" y1="1103.26" x2="983.15" y2="1103.26" stroke="#b3b3b3" stroke-width="8" />
<line x1="937.25" y1="1164.00" x2="937.25" y2="1176.00" stroke="#333" stroke-width="3.5" />
<path d="M815.0,982.5 L815.0,956.8 L934.5,956.8 L934.5,982.5" fill="none" stroke="#000" stroke-width="2.2"/>
<text x="875.0" y="949.5" font-size="32" text-anchor="middle" >0.178</text>
<text x="1016.0" y="776.0" font-size="87" >e</text>
<text x="1095.0" y="780.0" font-size="39.7" >total Pol II</text>
<text x="1294.0" y="780.0" font-size="39.7" >ChIP-Seq</text>
<rect x="1512.60" y="759.00" width="21.40" height="16.30" fill="#000" />
<text x="1540.0" y="778.6" font-size="36.3" font-style="italic" >siControl</text>
<rect x="1691.80" y="757.80" width="21.60" height="15.90" fill="#fe6262" />
<text x="1726.0" y="778.6" font-size="36.3" font-style="italic" >siRNF20</text>
<rect x="1029.50" y="848.70" width="429.50" height="295.00" fill="#fbfbfb" />
<rect x="1029.50" y="1146.00" width="429.50" height="46.00" fill="#fbfbfb" />
<line x1="1028.00" y1="846.00" x2="1190.00" y2="846.00" stroke="#000" stroke-width="2.5" />
<line x1="1286.50" y1="846.00" x2="1457.60" y2="846.00" stroke="#000" stroke-width="2.5" />
<text x="1235.0" y="845.5" font-size="21.5" text-anchor="middle" >30 kb</text>
<text x="1032.0" y="874.3" font-size="21.3" >0-33</text>
<text x="1032.0" y="993.7" font-size="21.3" >0-33</text>
<path d="M1030.0,971.5V928.8H1031.0V929.9H1032.0V931.1H1033.0V932.3H1034.0V938.4H1035.0V942.5H1036.0V942.2H1037.0V941.9H1038.0V944.3H1039.0V947.4H1040.0V950.4H1041.0V952.7H1042.0V953.8H1043.0V954.6H1044.0V944.9H1045.0V935.2H1046.0V925.4H1047.0V915.5H1048.0V917.9H1049.0V926.4H1050.0V934.2H1051.0V941.8H1052.0V949.2H1053.0V949.8H1054.0V950.5H1055.0V951.1H1056.0V944.4H1057.0V935.5H1058.0V926.5H1059.0V919.6H1060.0V913.2H1061.0V912.8H1062.0V913.8H1063.0V918.0H1064.0V924.0H1065.0V929.9H1066.0V934.6H1067.0V934.3H1068.0V934.0H1069.0V931.3H1070.0V928.5H1071.0V925.1H1072.0V918.8H1073.0V923.6H1074.0V936.6H1075.0V947.1H1076.0V934.9H1077.0V922.9H1078.0V923.2H1079.0V928.3H1080.0V933.3H1081.0V925.8H1082.0V920.0H1083.0V927.0H1084.0V933.9H1085.0V940.7H1086.0V945.2H1087.0V945.1H1088.0V945.3H1089.0V945.7H1090.0V949.8H1091.0V954.6H1092.0V958.9H1093.0V959.0H1094.0V957.2H1095.0V955.3H1096.0V953.4H1097.0V957.2H1098.0V961.6H1099.0V965.9H1100.0V966.2H1101.0V964.6H1102.0V962.9H1103.0V961.7H1104.0V961.8H1105.0V961.9H1106.0V961.9H1107.0V960.4H1108.0V955.8H1109.0V951.2H1110.0V946.7H1111.0V944.4H1112.0V948.6H1113.0V952.8H1114.0V956.1H1115.0V959.0H1116.0V960.7H1117.0V959.3H1118.0V957.9H1119.0V943.2H1120.0V940.1H1121.0V953.3H1122.0V952.5H1123.0V953.0H1124.0V953.6H1125.0V954.2H1126.0V954.0H1127.0V951.8H1128.0V949.6H1129.0V947.3H1130.0V949.7H1131.0V954.8H1132.0V960.0H1133.0V958.4H1134.0V955.6H1135.0V952.9H1136.0V950.2H1137.0V955.3H1138.0V961.3H1139.0V956.9H1140.0V952.4H1141.0V950.4H1142.0V954.2H1143.0V956.0H1144.0V952.7H1145.0V949.5H1146.0V946.2H1147.0V946.8H1148.0V958.2H1149.0V964.4H1150.0V962.3H1151.0V960.1H1152.0V957.9H1153.0V958.0H1154.0V959.1H1155.0V960.3H1156.0V961.5H1157.0V956.5H1158.0V947.6H1159.0V943.4H1160.0V942.4H1161.0V942.9H1162.0V947.2H1163.0V951.5H1164.0V955.7H1165.0V959.9H1166.0V956.4H1167.0V952.8H1168.0V949.3H1169.0V950.5H1170.0V955.5H1171.0V959.8H1172.0V959.9H1173.0V960.0H1174.0V958.5H1175.0V954.2H1176.0V953.3H1177.0V958.1H1178.0V959.8H1179.0V953.7H1180.0V948.8H1181.0V948.2H1182.0V947.7H1183.0V947.1H1184.0V946.9H1185.0V948.9H1186.0V950.8H1187.0V952.8H1188.0V951.4H1189.0V947.5H1190.0V950.5H1191.0V955.5H1192.0V958.9H1193.0V957.9H1194.0V957.0H1195.0V955.9H1196.0V951.3H1197.0V950.1H1198.0V952.1H1199.0V953.4H1200.0V953.3H1201.0V953.3H1202.0V953.3H1203.0V956.7H1204.0V961.3H1205.0V962.0H1206.0V957.6H1207.0V953.2H1208.0V955.9H1209.0V957.6H1210.0V947.0H1211.0V945.7H1212.0V955.7H1213.0V961.5H1214.0V950.5H1215.0V947.1H1216.0V948.5H1217.0V950.1H1218.0V951.9H1219.0V953.8H1220.0V952.9H1221.0V950.7H1222.0V948.6H1223.0V946.5H1224.0V944.8H1225.0V943.2H1226.0V941.6H1227.0V942.2H1228.0V947.2H1229.0V952.2H1230.0V957.2H1231.0V961.5H1232.0V959.9H1233.0V958.3H1234.0V956.8H1235.0V956.9H1236.0V957.6H1237.0V958.4H1238.0V958.3H1239.0V957.5H1240.0V957.7H1241.0V962.7H1242.0V964.6H1243.0V959.7H1244.0V954.8H1245.0V949.8H1246.0V947.3H1247.0V945.5H1248.0V943.6H1249.0V945.2H1250.0V947.7H1251.0V950.2H1252.0V952.6H1253.0V955.1H1254.0V957.6H1255.0V958.1H1256.0V956.8H1257.0V955.6H1258.0V954.8H1259.0V954.5H1260.0V954.3H1261.0V954.0H1262.0V953.0H1263.0V950.7H1264.0V951.5H1265.0V956.0H1266.0V957.9H1267.0V954.3H1268.0V950.6H1269.0V947.0H1270.0V945.9H1271.0V960.0H1272.0V960.4H1273.0V952.6H1274.0V946.2H1275.0V956.4H1276.0V958.1H1277.0V953.0H1278.0V947.9H1279.0V942.7H1280.0V948.2H1281.0V953.8H1282.0V959.5H1283.0V951.5H1284.0V941.6H1285.0V947.0H1286.0V952.8H1287.0V958.6H1288.0V960.2H1289.0V958.1H1290.0V955.9H1291.0V953.8H1292.0V952.9H1293.0V952.1H1294.0V952.2H1295.0V952.5H1296.0V952.8H1297.0V953.6H1298.0V954.5H1299.0V955.3H1300.0V951.4H1301.0V947.0H1302.0V942.5H1303.0V945.7H1304.0V950.9H1305.0V956.0H1306.0V959.9H1307.0V959.5H1308.0V959.0H1309.0V957.1H1310.0V955.2H1311.0V953.7H1312.0V953.4H1313.0V953.1H1314.0V952.8H1315.0V952.6H1316.0V954.2H1317.0V955.7H1318.0V957.3H1319.0V957.2H1320.0V950.6H1321.0V947.1H1322.0V951.8H1323.0V956.5H1324.0V961.3H1325.0V965.1H1326.0V963.2H1327.0V961.4H1328.0V959.5H1329.0V957.7H1330.0V956.1H1331.0V954.5H1332.0V952.9H1333.0V951.2H1334.0V948.9H1335.0V950.7H1336.0V959.4H1337.0V960.5H1338.0V958.8H1339.0V957.3H1340.0V956.4H1341.0V955.4H1342.0V954.3H1343.0V953.0H1344.0V951.8H1345.0V952.2H1346.0V953.7H1347.0V955.3H1348.0V955.9H1349.0V954.0H1350.0V952.1H1351.0V950.3H1352.0V949.6H1353.0V952.7H1354.0V955.7H1355.0V953.8H1356.0V951.8H1357.0V950.4H1358.0V952.1H1359.0V953.8H1360.0V955.5H1361.0V957.2H1362.0V952.6H1363.0V950.4H1364.0V953.1H1365.0V955.8H1366.0V958.5H1367.0V961.2H1368.0V958.4H1369.0V955.0H1370.0V956.3H1371.0V959.2H1372.0V962.1H1373.0V960.6H1374.0V951.7H1375.0V949.6H1376.0V956.9H1377.0V964.1H1378.0V964.4H1379.0V962.0H1380.0V957.0H1381.0V951.4H1382.0V946.1H1383.0V945.5H1384.0V944.9H1385.0V945.6H1386.0V948.3H1387.0V950.9H1388.0V953.5H1389.0V955.8H1390.0V951.8H1391.0V947.9H1392.0V943.9H1393.0V945.2H1394.0V956.3H1395.0V953.7H1396.0V948.2H1397.0V953.6H1398.0V958.9H1399.0V964.2H1400.0V959.3H1401.0V952.6H1402.0V945.4H1403.0V937.8H1404.0V940.1H1405.0V943.7H1406.0V947.5H1407.0V951.6H1408.0V953.9H1409.0V953.9H1410.0V953.8H1411.0V954.2H1412.0V956.4H1413.0V959.4H1414.0V962.4H1415.0V959.0H1416.0V949.2H1417.0V947.2H1418.0V950.4H1419.0V953.1H1420.0V955.7H1421.0V952.6H1422.0V949.9H1423.0V951.8H1424.0V953.7H1425.0V955.7H1426.0V957.6H1427.0V952.7H1428.0V947.0H1429.0V943.1H1430.0V945.2H1431.0V947.2H1432.0V949.3H1433.0V949.5H1434.0V943.7H1435.0V944.5H1436.0V952.5H1437.0V957.5H1438.0V954.2H1439.0V950.9H1440.0V949.8H1441.0V927.9H1442.0V904.4H1443.0V883.2H1444.0V858.0H1445.0V881.6H1446.0V911.1H1447.0V929.0H1448.0V950.5H1449.0V946.4H1450.0V941.7H1451.0V940.7H1452.0V945.7H1453.0V950.6H1454.0V955.4H1455.0V959.9H1456.0V955.3H1457.0V950.7H1458.0V946.2H1459.0V941.8H1459.0V971.5Z" fill="#000"/>
<path d="M1030.0,1107.8V1040.3H1031.0V1042.1H1032.0V1044.0H1033.0V1046.1H1034.0V1049.6H1035.0V1054.4H1036.0V1055.7H1037.0V1056.9H1038.0V1051.3H1039.0V1044.0H1040.0V1036.5H1041.0V1044.6H1042.0V1055.6H1043.0V1071.6H1044.0V1067.3H1045.0V1063.2H1046.0V1059.9H1047.0V1058.1H1048.0V1059.2H1049.0V1060.2H1050.0V1061.2H1051.0V1062.3H1052.0V1062.5H1053.0V1060.4H1054.0V1058.2H1055.0V1056.0H1056.0V1053.8H1057.0V1055.6H1058.0V1058.3H1059.0V1062.4H1060.0V1057.2H1061.0V1049.2H1062.0V1041.4H1063.0V1038.3H1064.0V1043.3H1065.0V1048.3H1066.0V1053.1H1067.0V1039.3H1068.0V1042.6H1069.0V1051.1H1070.0V1049.8H1071.0V1052.1H1072.0V1055.4H1073.0V1058.7H1074.0V1066.7H1075.0V1074.2H1076.0V1080.4H1077.0V1084.1H1078.0V1078.7H1079.0V1073.7H1080.0V1072.2H1081.0V1075.0H1082.0V1077.7H1083.0V1080.3H1084.0V1082.5H1085.0V1083.2H1086.0V1083.9H1087.0V1084.6H1088.0V1087.9H1089.0V1092.6H1090.0V1097.0H1091.0V1093.4H1092.0V1089.7H1093.0V1086.0H1094.0V1082.3H1095.0V1085.8H1096.0V1089.9H1097.0V1090.1H1098.0V1080.7H1099.0V1075.3H1100.0V1073.9H1101.0V1072.6H1102.0V1075.1H1103.0V1077.7H1104.0V1079.8H1105.0V1080.5H1106.0V1081.3H1107.0V1082.1H1108.0V1081.7H1109.0V1080.5H1110.0V1079.3H1111.0V1078.7H1112.0V1084.6H1113.0V1090.6H1114.0V1088.9H1115.0V1087.0H1116.0V1085.2H1117.0V1083.3H1118.0V1081.0H1119.0V1078.7H1120.0V1076.4H1121.0V1075.3H1122.0V1079.4H1123.0V1083.4H1124.0V1086.4H1125.0V1088.4H1126.0V1090.3H1127.0V1089.7H1128.0V1086.3H1129.0V1082.9H1130.0V1079.5H1131.0V1079.4H1132.0V1081.8H1133.0V1084.1H1134.0V1082.1H1135.0V1078.7H1136.0V1075.4H1137.0V1072.4H1138.0V1087.6H1139.0V1096.1H1140.0V1087.8H1141.0V1079.4H1142.0V1076.0H1143.0V1083.1H1144.0V1090.2H1145.0V1090.6H1146.0V1085.1H1147.0V1081.3H1148.0V1082.2H1149.0V1083.2H1150.0V1084.1H1151.0V1085.6H1152.0V1089.4H1153.0V1088.8H1154.0V1085.6H1155.0V1082.5H1156.0V1086.3H1157.0V1090.7H1158.0V1087.3H1159.0V1083.8H1160.0V1081.2H1161.0V1083.6H1162.0V1086.0H1163.0V1088.4H1164.0V1090.6H1165.0V1090.5H1166.0V1090.3H1167.0V1088.9H1168.0V1086.5H1169.0V1084.1H1170.0V1081.7H1171.0V1082.1H1172.0V1087.4H1173.0V1085.7H1174.0V1076.7H1175.0V1075.4H1176.0V1081.3H1177.0V1087.3H1178.0V1093.2H1179.0V1093.5H1180.0V1091.0H1181.0V1088.4H1182.0V1086.6H1183.0V1088.2H1184.0V1089.8H1185.0V1091.5H1186.0V1089.1H1187.0V1082.9H1188.0V1076.7H1189.0V1075.5H1190.0V1082.2H1191.0V1089.0H1192.0V1092.4H1193.0V1092.1H1194.0V1091.7H1195.0V1091.4H1196.0V1090.4H1197.0V1087.7H1198.0V1085.1H1199.0V1085.6H1200.0V1088.0H1201.0V1090.3H1202.0V1091.9H1203.0V1092.9H1204.0V1094.0H1205.0V1095.0H1206.0V1087.4H1207.0V1079.6H1208.0V1074.2H1209.0V1078.5H1210.0V1082.9H1211.0V1087.2H1212.0V1085.1H1213.0V1081.2H1214.0V1077.2H1215.0V1076.9H1216.0V1080.2H1217.0V1083.5H1218.0V1084.4H1219.0V1083.8H1220.0V1083.3H1221.0V1082.8H1222.0V1083.2H1223.0V1085.1H1224.0V1087.1H1225.0V1089.0H1226.0V1087.7H1227.0V1084.8H1228.0V1081.8H1229.0V1078.9H1230.0V1078.6H1231.0V1082.9H1232.0V1087.1H1233.0V1091.3H1234.0V1093.4H1235.0V1086.7H1236.0V1080.1H1237.0V1081.2H1238.0V1085.2H1239.0V1089.2H1240.0V1092.1H1241.0V1089.9H1242.0V1088.5H1243.0V1088.2H1244.0V1088.2H1245.0V1088.9H1246.0V1089.7H1247.0V1090.4H1248.0V1091.6H1249.0V1093.0H1250.0V1094.3H1251.0V1095.7H1252.0V1089.4H1253.0V1082.8H1254.0V1080.5H1255.0V1081.3H1256.0V1082.2H1257.0V1083.0H1258.0V1084.7H1259.0V1089.8H1260.0V1091.9H1261.0V1092.7H1262.0V1091.9H1263.0V1081.1H1264.0V1070.9H1265.0V1073.7H1266.0V1076.6H1267.0V1079.4H1268.0V1082.5H1269.0V1085.5H1270.0V1088.6H1271.0V1091.6H1272.0V1088.6H1273.0V1085.2H1274.0V1083.3H1275.0V1082.3H1276.0V1081.3H1277.0V1082.9H1278.0V1085.0H1279.0V1087.2H1280.0V1084.5H1281.0V1081.5H1282.0V1078.5H1283.0V1075.4H1284.0V1077.3H1285.0V1080.0H1286.0V1082.6H1287.0V1085.3H1288.0V1086.3H1289.0V1084.9H1290.0V1083.5H1291.0V1084.1H1292.0V1086.9H1293.0V1089.6H1294.0V1090.3H1295.0V1087.1H1296.0V1083.9H1297.0V1080.8H1298.0V1080.6H1299.0V1083.3H1300.0V1086.0H1301.0V1088.8H1302.0V1084.9H1303.0V1076.0H1304.0V1075.7H1305.0V1080.4H1306.0V1084.6H1307.0V1084.0H1308.0V1083.4H1309.0V1082.8H1310.0V1083.4H1311.0V1085.1H1312.0V1086.0H1313.0V1085.9H1314.0V1085.8H1315.0V1084.8H1316.0V1083.2H1317.0V1081.7H1318.0V1080.1H1319.0V1078.5H1320.0V1076.9H1321.0V1075.3H1322.0V1073.8H1323.0V1072.2H1324.0V1075.8H1325.0V1081.8H1326.0V1087.8H1327.0V1093.8H1328.0V1089.0H1329.0V1083.4H1330.0V1077.9H1331.0V1078.1H1332.0V1079.0H1333.0V1079.8H1334.0V1081.9H1335.0V1084.2H1336.0V1086.8H1337.0V1089.5H1338.0V1092.1H1339.0V1094.8H1340.0V1091.6H1341.0V1086.5H1342.0V1081.3H1343.0V1076.1H1344.0V1074.9H1345.0V1080.5H1346.0V1086.2H1347.0V1091.8H1348.0V1093.1H1349.0V1090.7H1350.0V1088.2H1351.0V1085.7H1352.0V1084.2H1353.0V1083.8H1354.0V1083.4H1355.0V1084.6H1356.0V1086.3H1357.0V1088.0H1358.0V1089.7H1359.0V1090.0H1360.0V1089.3H1361.0V1087.0H1362.0V1084.8H1363.0V1082.6H1364.0V1080.2H1365.0V1077.2H1366.0V1074.4H1367.0V1078.4H1368.0V1080.9H1369.0V1079.8H1370.0V1078.7H1371.0V1077.6H1372.0V1082.3H1373.0V1090.9H1374.0V1088.9H1375.0V1083.9H1376.0V1079.3H1377.0V1083.4H1378.0V1087.6H1379.0V1086.3H1380.0V1084.1H1381.0V1081.9H1382.0V1079.8H1383.0V1078.3H1384.0V1077.4H1385.0V1076.4H1386.0V1076.0H1387.0V1076.1H1388.0V1076.2H1389.0V1076.3H1390.0V1076.3H1391.0V1076.4H1392.0V1076.4H1393.0V1077.4H1394.0V1078.5H1395.0V1079.5H1396.0V1086.4H1397.0V1093.3H1398.0V1091.6H1399.0V1089.6H1400.0V1087.6H1401.0V1085.5H1402.0V1088.2H1403.0V1091.1H1404.0V1094.2H1405.0V1096.6H1406.0V1094.2H1407.0V1091.7H1408.0V1089.1H1409.0V1088.9H1410.0V1089.8H1411.0V1084.7H1412.0V1077.8H1413.0V1070.7H1414.0V1068.9H1415.0V1071.2H1416.0V1073.9H1417.0V1077.9H1418.0V1082.0H1419.0V1080.7H1420.0V1079.1H1421.0V1077.7H1422.0V1075.4H1423.0V1072.6H1424.0V1069.8H1425.0V1068.3H1426.0V1071.0H1427.0V1073.8H1428.0V1075.7H1429.0V1077.2H1430.0V1078.6H1431.0V1078.9H1432.0V1079.0H1433.0V1077.9H1434.0V1072.2H1435.0V1067.8H1436.0V1068.5H1437.0V1067.9H1438.0V1066.2H1439.0V1064.5H1440.0V1066.3H1441.0V1071.6H1442.0V1076.6H1443.0V1068.0H1444.0V1045.9H1445.0V1067.6H1446.0V1070.0H1447.0V1082.4H1448.0V1088.3H1449.0V1080.5H1450.0V1072.8H1451.0V1073.9H1452.0V1077.3H1453.0V1080.6H1454.0V1083.8H1455.0V1084.9H1456.0V1082.7H1457.0V1081.9H1458.0V1087.2H1459.0V1092.4H1459.0V1107.8Z" fill="#fb6262"/>
<line x1="1029.50" y1="1130.50" x2="1459.00" y2="1130.50" stroke="#5a5a5a" stroke-width="2.6" />
<line x1="1029.50" y1="1140.00" x2="1459.00" y2="1140.00" stroke="#5a5a5a" stroke-width="2.6" />
<line x1="1105.80" y1="1167.70" x2="1451.70" y2="1167.70" stroke="#0c0cc4" stroke-width="2.5" />
<path d="M1111.8,1163.7 L1114.8,1167.7 L1111.8,1171.7" stroke="#7a7ae0" stroke-width="1.2" fill="none"/>
<path d="M1126.3,1163.7 L1129.3,1167.7 L1126.3,1171.7" stroke="#7a7ae0" stroke-width="1.2" fill="none"/>
<path d="M1140.8,1163.7 L1143.8,1167.7 L1140.8,1171.7" stroke="#7a7ae0" stroke-width="1.2" fill="none"/>
<path d="M1155.3,1163.7 L1158.3,1167.7 L1155.3,1171.7" stroke="#7a7ae0" stroke-width="1.2" fill="none"/>
<path d="M1169.8,1163.7 L1172.8,1167.7 L1169.8,1171.7" stroke="#7a7ae0" stroke-width="1.2" fill="none"/>
<path d="M1184.3,1163.7 L1187.3,1167.7 L1184.3,1171.7" stroke="#7a7ae0" stroke-width="1.2" fill="none"/>
<path d="M1198.8,1163.7 L1201.8,1167.7 L1198.8,1171.7" stroke="#7a7ae0" stroke-width="1.2" fill="none"/>
<path d="M1213.3,1163.7 L1216.3,1167.7 L1213.3,1171.7" stroke="#7a7ae0" stroke-width="1.2" fill="none"/>
<path d="M1227.8,1163.7 L1230.8,1167.7 L1227.8,1171.7" stroke="#7a7ae0" stroke-width="1.2" fill="none"/>
<path d="M1242.3,1163.7 L1245.3,1167.7 L1242.3,1171.7" stroke="#7a7ae0" stroke-width="1.2" fill="none"/>
<path d="M1256.8,1163.7 L1259.8,1167.7 L1256.8,1171.7" stroke="#7a7ae0" stroke-width="1.2" fill="none"/>
<path d="M1271.3,1163.7 L1274.3,1167.7 L1271.3,1171.7" stroke="#7a7ae0" stroke-width="1.2" fill="none"/>
<path d="M1285.8,1163.7 L1288.8,1167.7 L1285.8,1171.7" stroke="#7a7ae0" stroke-width="1.2" fill="none"/>
<path d="M1300.3,1163.7 L1303.3,1167.7 L1300.3,1171.7" stroke="#7a7ae0" stroke-width="1.2" fill="none"/>
<path d="M1314.8,1163.7 L1317.8,1167.7 L1314.8,1171.7" stroke="#7a7ae0" stroke-width="1.2" fill="none"/>
<path d="M1329.3,1163.7 L1332.3,1167.7 L1329.3,1171.7" stroke="#7a7ae0" stroke-width="1.2" fill="none"/>
<path d="M1343.8,1163.7 L1346.8,1167.7 L1343.8,1171.7" stroke="#7a7ae0" stroke-width="1.2" fill="none"/>
<path d="M1358.3,1163.7 L1361.3,1167.7 L1358.3,1171.7" stroke="#7a7ae0" stroke-width="1.2" fill="none"/>
<path d="M1372.8,1163.7 L1375.8,1167.7 L1372.8,1171.7" stroke="#7a7ae0" stroke-width="1.2" fill="none"/>
<path d="M1387.3,1163.7 L1390.3,1167.7 L1387.3,1171.7" stroke="#7a7ae0" stroke-width="1.2" fill="none"/>
<path d="M1401.8,1163.7 L1404.8,1167.7 L1401.8,1171.7" stroke="#7a7ae0" stroke-width="1.2" fill="none"/>
<path d="M1416.3,1163.7 L1419.3,1167.7 L1416.3,1171.7" stroke="#7a7ae0" stroke-width="1.2" fill="none"/>
<path d="M1430.8,1163.7 L1433.8,1167.7 L1430.8,1171.7" stroke="#7a7ae0" stroke-width="1.2" fill="none"/>
<path d="M1445.3,1163.7 L1448.3,1167.7 L1445.3,1171.7" stroke="#7a7ae0" stroke-width="1.2" fill="none"/>
<rect x="1105.80" y="1158.70" width="11.00" height="18.00" fill="#0c0cc4"/>
<rect x="1117.00" y="1152.20" width="2.50" height="31.00" fill="#0c0cc4"/>
<rect x="1132.00" y="1152.20" width="2.50" height="31.00" fill="#0c0cc4"/>
<rect x="1275.00" y="1152.20" width="1.50" height="31.00" fill="#0c0cc4"/>
<rect x="1278.00" y="1152.20" width="1.50" height="31.00" fill="#0c0cc4"/>
<rect x="1318.00" y="1152.20" width="2.50" height="31.00" fill="#0c0cc4"/>
<rect x="1370.00" y="1152.20" width="2.50" height="31.00" fill="#0c0cc4"/>
<rect x="1433.00" y="1152.20" width="5.00" height="31.00" fill="#0c0cc4"/>
<rect x="1436.00" y="1158.70" width="15.70" height="18.00" fill="#0c0cc4"/>
<text x="1367.5" y="1215.0" font-size="29.7" font-style="italic" >TGFB1</text>
<rect x="1482.00" y="839.30" width="436.00" height="304.00" fill="#fbfbfb" />
<rect x="1482.00" y="1146.00" width="436.00" height="46.00" fill="#fbfbfb" />
<rect x="1650.00" y="826.00" width="97.00" height="25.00" fill="#ffffff" />
<line x1="1488.30" y1="846.50" x2="1650.00" y2="846.50" stroke="#000" stroke-width="2.5" />
<line x1="1747.00" y1="846.50" x2="1917.90" y2="846.50" stroke="#000" stroke-width="2.5" />
<text x="1689.7" y="843.5" font-size="21.5" text-anchor="middle" >24 kb</text>
<text x="1910.3" y="872.2" font-size="21.3" text-anchor="end" >0-152</text>
<text x="1910.3" y="990.4" font-size="21.3" text-anchor="end" >0-152</text>
<path d="M1482.0,969.0V966.2H1483.0V966.2H1484.0V966.3H1485.0V966.3H1486.0V966.2H1487.0V966.0H1488.0V965.9H1489.0V965.9H1490.0V966.0H1491.0V966.0H1492.0V966.0H1493.0V965.7H1494.0V965.5H1495.0V965.3H1496.0V965.1H1497.0V965.0H1498.0V964.9H1499.0V964.0H1500.0V963.0H1501.0V962.3H1502.0V961.9H1503.0V961.6H1504.0V957.2H1505.0V944.4H1506.0V932.3H1507.0V913.1H1508.0V903.7H1509.0V889.7H1510.0V872.3H1511.0V893.2H1512.0V907.1H1513.0V914.6H1514.0V929.3H1515.0V944.1H1516.0V941.5H1517.0V938.4H1518.0V935.1H1519.0V935.0H1520.0V935.0H1521.0V935.9H1522.0V936.8H1523.0V936.9H1524.0V936.7H1525.0V936.6H1526.0V937.5H1527.0V938.5H1528.0V939.3H1529.0V939.0H1530.0V938.6H1531.0V938.2H1532.0V937.8H1533.0V937.1H1534.0V936.3H1535.0V935.5H1536.0V935.7H1537.0V937.4H1538.0V939.0H1539.0V940.4H1540.0V939.5H1541.0V938.6H1542.0V937.8H1543.0V937.7H1544.0V940.3H1545.0V942.8H1546.0V945.3H1547.0V944.9H1548.0V944.8H1549.0V948.7H1550.0V948.9H1551.0V948.1H1552.0V943.0H1553.0V937.3H1554.0V934.1H1555.0V932.6H1556.0V931.2H1557.0V931.2H1558.0V930.2H1559.0V929.1H1560.0V928.0H1561.0V930.7H1562.0V935.3H1563.0V935.0H1564.0V931.4H1565.0V927.7H1566.0V926.3H1567.0V927.1H1568.0V927.5H1569.0V925.4H1570.0V924.2H1571.0V926.7H1572.0V929.2H1573.0V931.8H1574.0V934.4H1575.0V932.2H1576.0V929.1H1577.0V925.9H1578.0V924.2H1579.0V923.8H1580.0V923.4H1581.0V923.1H1582.0V922.5H1583.0V921.5H1584.0V920.5H1585.0V921.3H1586.0V924.3H1587.0V921.1H1588.0V916.2H1589.0V918.6H1590.0V921.8H1591.0V922.5H1592.0V919.8H1593.0V917.0H1594.0V917.5H1595.0V920.4H1596.0V923.4H1597.0V922.9H1598.0V921.4H1599.0V920.0H1600.0V919.0H1601.0V918.0H1602.0V917.1H1603.0V916.1H1604.0V913.6H1605.0V910.7H1606.0V907.7H1607.0V904.7H1608.0V903.2H1609.0V902.8H1610.0V902.4H1611.0V902.0H1612.0V904.0H1613.0V906.7H1614.0V907.2H1615.0V904.8H1616.0V902.6H1617.0V900.6H1618.0V899.1H1619.0V902.7H1620.0V906.4H1621.0V910.6H1622.0V911.4H1623.0V907.3H1624.0V903.3H1625.0V903.5H1626.0V907.4H1627.0V908.3H1628.0V906.6H1629.0V905.0H1630.0V903.9H1631.0V908.1H1632.0V908.1H1633.0V905.0H1634.0V902.0H1635.0V898.9H1636.0V902.6H1637.0V908.4H1638.0V906.8H1639.0V897.8H1640.0V891.4H1641.0V895.8H1642.0V900.3H1643.0V903.1H1644.0V900.4H1645.0V897.7H1646.0V899.1H1647.0V901.9H1648.0V903.0H1649.0V893.6H1650.0V891.6H1651.0V905.4H1652.0V903.0H1653.0V894.9H1654.0V900.2H1655.0V911.7H1656.0V912.3H1657.0V909.3H1658.0V908.0H1659.0V911.7H1660.0V915.2H1661.0V918.7H1662.0V922.1H1663.0V918.0H1664.0V912.6H1665.0V914.1H1666.0V915.9H1667.0V917.8H1668.0V917.2H1669.0V913.9H1670.0V910.7H1671.0V908.8H1672.0V911.0H1673.0V913.5H1674.0V915.9H1675.0V917.2H1676.0V917.7H1677.0V918.2H1678.0V920.9H1679.0V924.3H1680.0V927.8H1681.0V927.2H1682.0V925.7H1683.0V925.9H1684.0V927.4H1685.0V927.7H1686.0V924.9H1687.0V921.9H1688.0V918.9H1689.0V917.2H1690.0V916.2H1691.0V915.3H1692.0V913.7H1693.0V911.9H1694.0V910.2H1695.0V911.9H1696.0V915.2H1697.0V918.5H1698.0V921.6H1699.0V922.1H1700.0V921.6H1701.0V920.9H1702.0V920.1H1703.0V922.4H1704.0V925.4H1705.0V928.2H1706.0V928.4H1707.0V928.3H1708.0V928.3H1709.0V928.7H1710.0V929.1H1711.0V929.7H1712.0V930.2H1713.0V932.2H1714.0V934.3H1715.0V936.6H1716.0V938.8H1717.0V941.1H1718.0V942.4H1719.0V937.6H1720.0V933.5H1721.0V932.5H1722.0V931.7H1723.0V931.2H1724.0V928.9H1725.0V926.0H1726.0V924.6H1727.0V923.1H1728.0V923.7H1729.0V926.2H1730.0V919.3H1731.0V916.7H1732.0V920.3H1733.0V924.0H1734.0V927.0H1735.0V922.4H1736.0V917.7H1737.0V915.6H1738.0V916.6H1739.0V917.6H1740.0V918.6H1741.0V918.3H1742.0V915.9H1743.0V913.5H1744.0V916.7H1745.0V919.9H1746.0V923.1H1747.0V926.2H1748.0V925.5H1749.0V923.8H1750.0V922.2H1751.0V921.3H1752.0V922.5H1753.0V924.1H1754.0V925.8H1755.0V926.1H1756.0V926.3H1757.0V926.5H1758.0V926.8H1759.0V927.9H1760.0V929.3H1761.0V930.7H1762.0V931.8H1763.0V932.6H1764.0V934.4H1765.0V937.7H1766.0V940.7H1767.0V943.7H1768.0V945.7H1769.0V944.8H1770.0V944.1H1771.0V940.9H1772.0V939.1H1773.0V937.2H1774.0V935.2H1775.0V933.2H1776.0V931.7H1777.0V930.3H1778.0V930.1H1779.0V930.0H1780.0V931.0H1781.0V932.7H1782.0V932.7H1783.0V932.8H1784.0V933.3H1785.0V933.8H1786.0V934.3H1787.0V934.7H1788.0V931.9H1789.0V927.0H1790.0V926.0H1791.0V930.1H1792.0V934.2H1793.0V935.5H1794.0V932.0H1795.0V929.8H1796.0V930.7H1797.0V931.6H1798.0V932.5H1799.0V932.0H1800.0V931.2H1801.0V930.4H1802.0V933.3H1803.0V936.4H1804.0V936.8H1805.0V936.6H1806.0V937.8H1807.0V939.8H1808.0V941.8H1809.0V943.9H1810.0V945.9H1811.0V946.9H1812.0V947.7H1813.0V942.8H1814.0V940.1H1815.0V937.6H1816.0V934.5H1817.0V930.6H1818.0V926.6H1819.0V925.1H1820.0V924.7H1821.0V925.5H1822.0V925.1H1823.0V921.9H1824.0V918.7H1825.0V918.7H1826.0V919.5H1827.0V920.3H1828.0V921.3H1829.0V919.1H1830.0V916.6H1831.0V914.0H1832.0V911.5H1833.0V910.7H1834.0V909.9H1835.0V909.0H1836.0V908.5H1837.0V907.9H1838.0V907.5H1839.0V907.8H1840.0V908.1H1841.0V908.3H1842.0V908.6H1843.0V905.1H1844.0V900.8H1845.0V898.8H1846.0V902.1H1847.0V905.4H1848.0V907.4H1849.0V908.7H1850.0V910.4H1851.0V912.8H1852.0V918.9H1853.0V927.0H1854.0V927.1H1855.0V927.6H1856.0V927.2H1857.0V920.4H1858.0V913.2H1859.0V911.0H1860.0V911.5H1861.0V912.1H1862.0V912.7H1863.0V910.0H1864.0V906.8H1865.0V903.5H1866.0V903.3H1867.0V904.3H1868.0V905.3H1869.0V909.4H1870.0V913.5H1871.0V917.4H1872.0V919.7H1873.0V921.9H1874.0V924.2H1875.0V926.2H1876.0V927.7H1877.0V930.6H1878.0V936.3H1879.0V939.0H1880.0V939.5H1881.0V939.9H1882.0V940.4H1883.0V941.1H1884.0V941.9H1885.0V942.7H1886.0V943.6H1887.0V944.7H1888.0V946.3H1889.0V947.9H1890.0V949.4H1891.0V950.3H1892.0V951.0H1893.0V951.7H1894.0V952.5H1895.0V953.4H1896.0V955.0H1897.0V956.5H1898.0V958.0H1899.0V959.5H1900.0V961.0H1901.0V962.4H1902.0V962.2H1903.0V962.5H1904.0V962.9H1905.0V963.3H1906.0V963.6H1907.0V964.0H1908.0V964.2H1909.0V964.3H1910.0V964.3H1911.0V964.3H1912.0V964.2H1913.0V964.1H1914.0V964.4H1915.0V964.8H1916.0V965.1H1917.0V965.5H1918.0V965.3H1918.0V969.0Z" fill="#000"/>
<path d="M1482.0,1107.0V1102.2H1483.0V1102.6H1484.0V1102.2H1485.0V1101.8H1486.0V1101.3H1487.0V1101.5H1488.0V1101.8H1489.0V1102.0H1490.0V1102.3H1491.0V1101.8H1492.0V1101.1H1493.0V1100.6H1494.0V1100.7H1495.0V1100.7H1496.0V1100.8H1497.0V1100.6H1498.0V1100.3H1499.0V1099.7H1500.0V1099.4H1501.0V1099.1H1502.0V1098.7H1503.0V1097.6H1504.0V1093.2H1505.0V1084.4H1506.0V1069.5H1507.0V1052.6H1508.0V1028.9H1509.0V1013.0H1510.0V997.8H1511.0V1007.4H1512.0V1028.5H1513.0V1047.8H1514.0V1066.0H1515.0V1067.8H1516.0V1068.7H1517.0V1070.2H1518.0V1071.6H1519.0V1073.0H1520.0V1074.4H1521.0V1072.9H1522.0V1071.3H1523.0V1069.7H1524.0V1068.4H1525.0V1067.5H1526.0V1066.7H1527.0V1065.9H1528.0V1066.5H1529.0V1068.0H1530.0V1069.5H1531.0V1070.1H1532.0V1070.6H1533.0V1070.4H1534.0V1070.1H1535.0V1069.8H1536.0V1069.4H1537.0V1069.0H1538.0V1068.4H1539.0V1067.3H1540.0V1064.7H1541.0V1066.3H1542.0V1069.4H1543.0V1072.5H1544.0V1075.4H1545.0V1076.7H1546.0V1076.4H1547.0V1076.2H1548.0V1076.1H1549.0V1076.8H1550.0V1074.9H1551.0V1073.2H1552.0V1071.7H1553.0V1070.5H1554.0V1068.0H1555.0V1065.4H1556.0V1062.7H1557.0V1060.2H1558.0V1057.7H1559.0V1059.1H1560.0V1060.5H1561.0V1061.5H1562.0V1059.4H1563.0V1057.6H1564.0V1056.6H1565.0V1056.0H1566.0V1070.8H1567.0V1069.2H1568.0V1067.6H1569.0V1066.1H1570.0V1064.7H1571.0V1063.2H1572.0V1062.7H1573.0V1063.0H1574.0V1063.6H1575.0V1066.6H1576.0V1066.6H1577.0V1065.2H1578.0V1063.8H1579.0V1063.1H1580.0V1062.9H1581.0V1062.8H1582.0V1062.6H1583.0V1060.3H1584.0V1055.2H1585.0V1054.6H1586.0V1056.9H1587.0V1059.2H1588.0V1057.5H1589.0V1054.9H1590.0V1059.1H1591.0V1062.6H1592.0V1058.5H1593.0V1054.3H1594.0V1049.9H1595.0V1045.4H1596.0V1042.8H1597.0V1040.5H1598.0V1038.1H1599.0V1038.7H1600.0V1042.8H1601.0V1046.7H1602.0V1048.4H1603.0V1050.2H1604.0V1052.2H1605.0V1049.0H1606.0V1039.9H1607.0V1035.2H1608.0V1037.4H1609.0V1039.3H1610.0V1032.9H1611.0V1026.4H1612.0V1028.4H1613.0V1034.8H1614.0V1041.2H1615.0V1038.5H1616.0V1029.8H1617.0V1021.1H1618.0V1023.4H1619.0V1026.3H1620.0V1025.0H1621.0V1022.4H1622.0V1019.7H1623.0V1017.1H1624.0V1018.9H1625.0V1021.7H1626.0V1024.9H1627.0V1027.3H1628.0V1026.7H1629.0V1026.1H1630.0V1025.5H1631.0V1024.5H1632.0V1021.6H1633.0V1018.7H1634.0V1019.1H1635.0V1021.8H1636.0V1024.4H1637.0V1024.8H1638.0V1025.3H1639.0V1025.8H1640.0V1026.2H1641.0V1025.6H1642.0V1024.6H1643.0V1023.6H1644.0V1022.6H1645.0V1022.3H1646.0V1022.0H1647.0V1021.8H1648.0V1021.4H1649.0V1020.9H1650.0V1020.4H1651.0V1021.8H1652.0V1023.9H1653.0V1026.6H1654.0V1029.3H1655.0V1032.0H1656.0V1033.1H1657.0V1035.6H1658.0V1039.8H1659.0V1043.8H1660.0V1047.8H1661.0V1048.0H1662.0V1045.1H1663.0V1041.1H1664.0V1037.5H1665.0V1040.4H1666.0V1043.2H1667.0V1043.8H1668.0V1043.2H1669.0V1042.5H1670.0V1041.2H1671.0V1039.4H1672.0V1038.4H1673.0V1038.2H1674.0V1038.1H1675.0V1038.1H1676.0V1038.1H1677.0V1038.1H1678.0V1039.0H1679.0V1040.4H1680.0V1041.8H1681.0V1043.7H1682.0V1045.9H1683.0V1048.2H1684.0V1050.4H1685.0V1050.4H1686.0V1047.3H1687.0V1046.2H1688.0V1047.9H1689.0V1049.5H1690.0V1049.9H1691.0V1050.3H1692.0V1050.7H1693.0V1049.1H1694.0V1047.6H1695.0V1046.1H1696.0V1043.9H1697.0V1043.9H1698.0V1048.1H1699.0V1052.1H1700.0V1056.1H1701.0V1055.6H1702.0V1052.9H1703.0V1051.9H1704.0V1054.3H1705.0V1056.6H1706.0V1058.9H1707.0V1060.8H1708.0V1059.8H1709.0V1058.8H1710.0V1057.9H1711.0V1058.3H1712.0V1061.6H1713.0V1064.8H1714.0V1067.4H1715.0V1069.3H1716.0V1071.2H1717.0V1073.2H1718.0V1075.2H1719.0V1071.5H1720.0V1067.6H1721.0V1063.1H1722.0V1058.6H1723.0V1053.9H1724.0V1050.7H1725.0V1048.9H1726.0V1047.4H1727.0V1047.2H1728.0V1046.7H1729.0V1046.2H1730.0V1045.7H1731.0V1046.5H1732.0V1048.9H1733.0V1051.4H1734.0V1053.9H1735.0V1051.3H1736.0V1047.8H1737.0V1044.2H1738.0V1040.6H1739.0V1039.6H1740.0V1039.4H1741.0V1040.1H1742.0V1040.9H1743.0V1041.0H1744.0V1040.6H1745.0V1040.2H1746.0V1040.8H1747.0V1042.5H1748.0V1044.2H1749.0V1045.8H1750.0V1045.6H1751.0V1044.7H1752.0V1048.4H1753.0V1052.9H1754.0V1054.9H1755.0V1053.0H1756.0V1052.2H1757.0V1051.6H1758.0V1051.6H1759.0V1055.7H1760.0V1059.7H1761.0V1063.5H1762.0V1067.1H1763.0V1066.7H1764.0V1063.9H1765.0V1065.4H1766.0V1065.5H1767.0V1065.7H1768.0V1065.9H1769.0V1064.7H1770.0V1062.2H1771.0V1063.2H1772.0V1064.4H1773.0V1064.5H1774.0V1064.6H1775.0V1064.7H1776.0V1064.9H1777.0V1063.7H1778.0V1062.3H1779.0V1060.9H1780.0V1059.5H1781.0V1058.6H1782.0V1057.8H1783.0V1056.9H1784.0V1056.2H1785.0V1055.4H1786.0V1056.2H1787.0V1057.1H1788.0V1058.0H1789.0V1059.1H1790.0V1060.6H1791.0V1062.2H1792.0V1063.7H1793.0V1061.4H1794.0V1057.9H1795.0V1054.3H1796.0V1053.7H1797.0V1057.5H1798.0V1061.1H1799.0V1064.6H1800.0V1068.0H1801.0V1065.5H1802.0V1062.9H1803.0V1063.5H1804.0V1064.1H1805.0V1064.8H1806.0V1065.4H1807.0V1066.4H1808.0V1067.4H1809.0V1068.4H1810.0V1069.7H1811.0V1072.4H1812.0V1075.1H1813.0V1077.7H1814.0V1074.5H1815.0V1072.0H1816.0V1069.4H1817.0V1063.3H1818.0V1056.8H1819.0V1049.9H1820.0V1047.4H1821.0V1048.5H1822.0V1049.7H1823.0V1051.0H1824.0V1049.7H1825.0V1045.3H1826.0V1040.8H1827.0V1040.1H1828.0V1040.0H1829.0V1039.8H1830.0V1036.6H1831.0V1033.1H1832.0V1029.5H1833.0V1028.2H1834.0V1028.2H1835.0V1028.2H1836.0V1029.4H1837.0V1030.9H1838.0V1032.5H1839.0V1032.8H1840.0V1032.4H1841.0V1031.3H1842.0V1029.6H1843.0V1027.9H1844.0V1026.1H1845.0V1026.5H1846.0V1029.7H1847.0V1036.0H1848.0V1042.0H1849.0V1046.7H1850.0V1046.5H1851.0V1049.2H1852.0V1054.5H1853.0V1057.3H1854.0V1051.1H1855.0V1044.5H1856.0V1038.8H1857.0V1043.5H1858.0V1045.5H1859.0V1038.7H1860.0V1033.3H1861.0V1039.6H1862.0V1045.8H1863.0V1047.3H1864.0V1042.5H1865.0V1037.8H1866.0V1033.2H1867.0V1035.0H1868.0V1037.1H1869.0V1038.5H1870.0V1035.9H1871.0V1033.4H1872.0V1036.8H1873.0V1046.3H1874.0V1052.4H1875.0V1054.9H1876.0V1057.6H1877.0V1060.5H1878.0V1063.5H1879.0V1065.8H1880.0V1068.1H1881.0V1070.4H1882.0V1071.6H1883.0V1072.3H1884.0V1073.4H1885.0V1075.5H1886.0V1077.5H1887.0V1079.0H1888.0V1080.6H1889.0V1082.1H1890.0V1083.9H1891.0V1086.3H1892.0V1088.6H1893.0V1090.0H1894.0V1090.7H1895.0V1092.1H1896.0V1093.7H1897.0V1095.2H1898.0V1096.6H1899.0V1096.8H1900.0V1097.0H1901.0V1097.4H1902.0V1099.0H1903.0V1099.8H1904.0V1100.2H1905.0V1099.4H1906.0V1098.9H1907.0V1099.3H1908.0V1099.7H1909.0V1099.7H1910.0V1099.8H1911.0V1099.8H1912.0V1099.8H1913.0V1099.8H1914.0V1099.7H1915.0V1099.6H1916.0V1099.6H1917.0V1099.9H1918.0V1100.1H1918.0V1107.0Z" fill="#fb6262"/>
<line x1="1482.00" y1="1129.40" x2="1918.00" y2="1129.40" stroke="#5a5a5a" stroke-width="2.6" />
<line x1="1482.00" y1="1139.40" x2="1918.00" y2="1139.40" stroke="#5a5a5a" stroke-width="2.6" />
<line x1="1482.00" y1="1167.70" x2="1918.00" y2="1167.70" stroke="#0c0cc4" stroke-width="2.5" />
<path d="M1488.0,1163.7 L1491.0,1167.7 L1488.0,1171.7" stroke="#7a7ae0" stroke-width="1.2" fill="none"/>
<path d="M1501.0,1163.7 L1504.0,1167.7 L1501.0,1171.7" stroke="#7a7ae0" stroke-width="1.2" fill="none"/>
<path d="M1514.0,1163.7 L1517.0,1167.7 L1514.0,1171.7" stroke="#7a7ae0" stroke-width="1.2" fill="none"/>
<path d="M1527.0,1163.7 L1530.0,1167.7 L1527.0,1171.7" stroke="#7a7ae0" stroke-width="1.2" fill="none"/>
<path d="M1540.0,1163.7 L1543.0,1167.7 L1540.0,1171.7" stroke="#7a7ae0" stroke-width="1.2" fill="none"/>
<path d="M1553.0,1163.7 L1556.0,1167.7 L1553.0,1171.7" stroke="#7a7ae0" stroke-width="1.2" fill="none"/>
<path d="M1566.0,1163.7 L1569.0,1167.7 L1566.0,1171.7" stroke="#7a7ae0" stroke-width="1.2" fill="none"/>
<path d="M1579.0,1163.7 L1582.0,1167.7 L1579.0,1171.7" stroke="#7a7ae0" stroke-width="1.2" fill="none"/>
<path d="M1592.0,1163.7 L1595.0,1167.7 L1592.0,1171.7" stroke="#7a7ae0" stroke-width="1.2" fill="none"/>
<path d="M1605.0,1163.7 L1608.0,1167.7 L1605.0,1171.7" stroke="#7a7ae0" stroke-width="1.2" fill="none"/>
<path d="M1618.0,1163.7 L1621.0,1167.7 L1618.0,1171.7" stroke="#7a7ae0" stroke-width="1.2" fill="none"/>
<path d="M1631.0,1163.7 L1634.0,1167.7 L1631.0,1171.7" stroke="#7a7ae0" stroke-width="1.2" fill="none"/>
<path d="M1644.0,1163.7 L1647.0,1167.7 L1644.0,1171.7" stroke="#7a7ae0" stroke-width="1.2" fill="none"/>
<path d="M1657.0,1163.7 L1660.0,1167.7 L1657.0,1171.7" stroke="#7a7ae0" stroke-width="1.2" fill="none"/>
<path d="M1670.0,1163.7 L1673.0,1167.7 L1670.0,1171.7" stroke="#7a7ae0" stroke-width="1.2" fill="none"/>
<path d="M1683.0,1163.7 L1686.0,1167.7 L1683.0,1171.7" stroke="#7a7ae0" stroke-width="1.2" fill="none"/>
<path d="M1696.0,1163.7 L1699.0,1167.7 L1696.0,1171.7" stroke="#7a7ae0" stroke-width="1.2" fill="none"/>
<path d="M1709.0,1163.7 L1712.0,1167.7 L1709.0,1171.7" stroke="#7a7ae0" stroke-width="1.2" fill="none"/>
<path d="M1722.0,1163.7 L1725.0,1167.7 L1722.0,1171.7" stroke="#7a7ae0" stroke-width="1.2" fill="none"/>
<path d="M1735.0,1163.7 L1738.0,1167.7 L1735.0,1171.7" stroke="#7a7ae0" stroke-width="1.2" fill="none"/>
<path d="M1748.0,1163.7 L1751.0,1167.7 L1748.0,1171.7" stroke="#7a7ae0" stroke-width="1.2" fill="none"/>
<path d="M1761.0,1163.7 L1764.0,1167.7 L1761.0,1171.7" stroke="#7a7ae0" stroke-width="1.2" fill="none"/>
<path d="M1774.0,1163.7 L1777.0,1167.7 L1774.0,1171.7" stroke="#7a7ae0" stroke-width="1.2" fill="none"/>
<path d="M1787.0,1163.7 L1790.0,1167.7 L1787.0,1171.7" stroke="#7a7ae0" stroke-width="1.2" fill="none"/>
<path d="M1800.0,1163.7 L1803.0,1167.7 L1800.0,1171.7" stroke="#7a7ae0" stroke-width="1.2" fill="none"/>
<path d="M1813.0,1163.7 L1816.0,1167.7 L1813.0,1171.7" stroke="#7a7ae0" stroke-width="1.2" fill="none"/>
<path d="M1826.0,1163.7 L1829.0,1167.7 L1826.0,1171.7" stroke="#7a7ae0" stroke-width="1.2" fill="none"/>
<path d="M1839.0,1163.7 L1842.0,1167.7 L1839.0,1171.7" stroke="#7a7ae0" stroke-width="1.2" fill="none"/>
<path d="M1852.0,1163.7 L1855.0,1167.7 L1852.0,1171.7" stroke="#7a7ae0" stroke-width="1.2" fill="none"/>
<path d="M1865.0,1163.7 L1868.0,1167.7 L1865.0,1171.7" stroke="#7a7ae0" stroke-width="1.2" fill="none"/>
<path d="M1878.0,1163.7 L1881.0,1167.7 L1878.0,1171.7" stroke="#7a7ae0" stroke-width="1.2" fill="none"/>
<path d="M1891.0,1163.7 L1894.0,1167.7 L1891.0,1171.7" stroke="#7a7ae0" stroke-width="1.2" fill="none"/>
<path d="M1904.0,1163.7 L1907.0,1167.7 L1904.0,1171.7" stroke="#7a7ae0" stroke-width="1.2" fill="none"/>
<rect x="1484.00" y="1152.20" width="21.00" height="31.00" fill="#0c0cc4"/>
<rect x="1505.00" y="1160.70" width="3.00" height="14.00" fill="#0c0cc4"/>
<rect x="1519.00" y="1152.20" width="1.50" height="31.00" fill="#0c0cc4"/>
<rect x="1522.00" y="1152.20" width="2.00" height="31.00" fill="#0c0cc4"/>
<rect x="1529.00" y="1152.20" width="10.00" height="31.00" fill="#0c0cc4"/>
<rect x="1556.00" y="1152.20" width="1.50" height="31.00" fill="#0c0cc4"/>
<rect x="1563.00" y="1152.20" width="1.50" height="31.00" fill="#0c0cc4"/>
<rect x="1570.00" y="1152.20" width="1.50" height="31.00" fill="#0c0cc4"/>
<rect x="1592.00" y="1152.20" width="1.50" height="31.00" fill="#0c0cc4"/>
<rect x="1603.00" y="1158.70" width="21.00" height="18.00" fill="#0c0cc4"/>
<rect x="1626.00" y="1152.20" width="3.00" height="31.00" fill="#0c0cc4"/>
<rect x="1640.00" y="1152.20" width="2.50" height="31.00" fill="#0c0cc4"/>
<rect x="1648.00" y="1152.20" width="2.50" height="31.00" fill="#0c0cc4"/>
<rect x="1657.00" y="1152.20" width="2.50" height="31.00" fill="#0c0cc4"/>
<rect x="1662.00" y="1152.20" width="2.00" height="31.00" fill="#0c0cc4"/>
<rect x="1673.00" y="1152.20" width="4.50" height="31.00" fill="#0c0cc4"/>
<rect x="1686.00" y="1152.20" width="2.00" height="31.00" fill="#0c0cc4"/>
<rect x="1698.00" y="1152.20" width="2.50" height="31.00" fill="#0c0cc4"/>
<rect x="1705.00" y="1152.20" width="2.00" height="31.00" fill="#0c0cc4"/>
<rect x="1725.00" y="1152.20" width="3.50" height="31.00" fill="#0c0cc4"/>
<rect x="1732.00" y="1152.20" width="2.50" height="31.00" fill="#0c0cc4"/>
<rect x="1739.00" y="1152.20" width="2.50" height="31.00" fill="#0c0cc4"/>
<rect x="1753.00" y="1152.20" width="1.50" height="31.00" fill="#0c0cc4"/>
<rect x="1756.00" y="1152.20" width="1.50" height="31.00" fill="#0c0cc4"/>
<rect x="1777.60" y="1158.70" width="103.80" height="18.00" fill="#0c0cc4"/>
<rect x="1881.00" y="1152.20" width="1.50" height="31.00" fill="#0c0cc4"/>
<text x="1479.0" y="1215.0" font-size="29.4" font-style="italic" >THBS1</text>
<text x="16.5" y="1274.5" font-size="88" >f</text>
<rect x="154.00" y="1268.00" width="24.50" height="24.50" fill="#000" />
<text x="189.0" y="1288.0" font-size="36" font-style="italic" >siControl</text>
<rect x="361.75" y="1266.00" width="24.00" height="24.50" fill="#ff8080" />
<text x="397.0" y="1288.0" font-size="36" font-style="italic" >siRNF20</text>
<text x="52.0" y="1509.0" font-size="36.8" text-anchor="middle" transform="rotate(-90 52.0 1509.0)" >Ratio of Pol II TSS/GB</text>
<rect x="161.40" y="1446.00" width="42.20" height="275.50" fill="#000" />
<rect x="203.60" y="1594.49" width="42.20" height="127.01" fill="#ff8080" />
<rect x="266.40" y="1446.00" width="42.20" height="275.50" fill="#000" />
<rect x="308.60" y="1537.47" width="42.20" height="184.03" fill="#ff8080" />
<rect x="371.40" y="1446.00" width="42.20" height="275.50" fill="#000" />
<rect x="476.40" y="1446.00" width="42.20" height="275.50" fill="#000" />
<rect x="518.60" y="1595.32" width="42.20" height="126.18" fill="#ff8080" />
<line x1="182.50" y1="1446.00" x2="182.50" y2="1419.00" stroke="#000" stroke-width="3.2" />
<line x1="170.50" y1="1419.00" x2="194.50" y2="1419.00" stroke="#000" stroke-width="3.6" />
<circle cx="182.50" cy="1394.48" r="8.4" fill="#fff" stroke="#000" stroke-width="3.6"/>
<circle cx="182.50" cy="1453.16" r="8.4" fill="#fff" stroke="#000" stroke-width="3.6"/>
<circle cx="182.50" cy="1490.08" r="8.4" fill="#fff" stroke="#000" stroke-width="3.6"/>
<line x1="224.70" y1="1594.49" x2="224.70" y2="1564.46" stroke="#000" stroke-width="3.2" />
<line x1="212.70" y1="1564.46" x2="236.70" y2="1564.46" stroke="#000" stroke-width="3.6" />
<circle cx="224.70" cy="1540.50" r="8.4" fill="#fff" stroke="#000" stroke-width="3.6"/>
<circle cx="224.70" cy="1596.70" r="8.4" fill="#fff" stroke="#000" stroke-width="3.6"/>
<circle cx="224.70" cy="1644.36" r="8.4" fill="#fff" stroke="#000" stroke-width="3.6"/>
<line x1="287.50" y1="1446.00" x2="287.50" y2="1419.00" stroke="#000" stroke-width="3.2" />
<line x1="275.50" y1="1419.00" x2="299.50" y2="1419.00" stroke="#000" stroke-width="3.6" />
<circle cx="287.50" cy="1403.30" r="8.4" fill="#fff" stroke="#000" stroke-width="3.6"/>
<circle cx="287.50" cy="1437.74" r="8.4" fill="#fff" stroke="#000" stroke-width="3.6"/>
<circle cx="287.50" cy="1495.04" r="8.4" fill="#fff" stroke="#000" stroke-width="3.6"/>
<line x1="329.70" y1="1537.47" x2="329.70" y2="1519.28" stroke="#000" stroke-width="3.2" />
<line x1="317.70" y1="1519.28" x2="341.70" y2="1519.28" stroke="#000" stroke-width="3.6" />
<circle cx="329.70" cy="1506.89" r="8.4" fill="#fff" stroke="#000" stroke-width="3.6"/>
<circle cx="329.70" cy="1537.47" r="8.4" fill="#fff" stroke="#000" stroke-width="3.6"/>
<circle cx="329.70" cy="1565.84" r="8.4" fill="#fff" stroke="#000" stroke-width="3.6"/>
<line x1="392.50" y1="1446.00" x2="392.50" y2="1364.45" stroke="#000" stroke-width="3.2" />
<line x1="380.50" y1="1364.45" x2="404.50" y2="1364.45" stroke="#000" stroke-width="3.6" />
<circle cx="392.50" cy="1325.06" r="8.4" fill="#fff" stroke="#000" stroke-width="3.6"/>
<circle cx="392.50" cy="1417.07" r="8.4" fill="#fff" stroke="#000" stroke-width="3.6"/>
<circle cx="392.50" cy="1596.70" r="8.4" fill="#fff" stroke="#000" stroke-width="3.6"/>
<line x1="497.50" y1="1446.00" x2="497.50" y2="1398.06" stroke="#000" stroke-width="3.2" />
<line x1="485.50" y1="1398.06" x2="509.50" y2="1398.06" stroke="#000" stroke-width="3.6" />
<circle cx="497.50" cy="1370.24" r="8.4" fill="#fff" stroke="#000" stroke-width="3.6"/>
<circle cx="497.50" cy="1432.78" r="8.4" fill="#fff" stroke="#000" stroke-width="3.6"/>
<circle cx="497.50" cy="1537.74" r="8.4" fill="#fff" stroke="#000" stroke-width="3.6"/>
<line x1="539.70" y1="1595.32" x2="539.70" y2="1574.93" stroke="#000" stroke-width="3.2" />
<line x1="527.70" y1="1574.93" x2="551.70" y2="1574.93" stroke="#000" stroke-width="3.6" />
<circle cx="539.70" cy="1568.32" r="8.4" fill="#fff" stroke="#000" stroke-width="3.6"/>
<circle cx="539.70" cy="1582.37" r="8.4" fill="#fff" stroke="#000" stroke-width="3.6"/>
<circle cx="539.70" cy="1634.72" r="8.4" fill="#fff" stroke="#000" stroke-width="3.6"/>
<circle cx="421.20" cy="1721.50" r="8.4" fill="#fff" stroke="#000" stroke-width="3.6"/>
<circle cx="433.60" cy="1721.50" r="8.4" fill="#fff" stroke="#000" stroke-width="3.6"/>
<circle cx="446.70" cy="1721.50" r="8.4" fill="#fff" stroke="#000" stroke-width="3.6"/>
<line x1="139.60" y1="1305.50" x2="139.60" y2="1724.00" stroke="#000" stroke-width="5.5" />
<line x1="118.00" y1="1721.50" x2="583.70" y2="1721.50" stroke="#000" stroke-width="5.5" />
<circle cx="421.20" cy="1721.50" r="8.4" fill="#fff" stroke="#000" stroke-width="3.6"/>
<circle cx="433.60" cy="1721.50" r="8.4" fill="#fff" stroke="#000" stroke-width="3.6"/>
<circle cx="446.70" cy="1721.50" r="8.4" fill="#fff" stroke="#000" stroke-width="3.6"/>
<line x1="118.00" y1="1721.50" x2="139.60" y2="1721.50" stroke="#000" stroke-width="5.5" />
<line x1="118.00" y1="1583.75" x2="139.60" y2="1583.75" stroke="#000" stroke-width="5.5" />
<line x1="118.00" y1="1446.00" x2="139.60" y2="1446.00" stroke="#000" stroke-width="5.5" />
<line x1="118.00" y1="1308.25" x2="139.60" y2="1308.25" stroke="#000" stroke-width="5.5" />
<text x="112.0" y="1732.5" font-size="31" text-anchor="end" >0.0</text>
<text x="112.0" y="1594.8" font-size="31" text-anchor="end" >0.5</text>
<text x="112.0" y="1457.0" font-size="31" text-anchor="end" >1.0</text>
<text x="112.0" y="1319.2" font-size="31" text-anchor="end" >1.5</text>
<line x1="203.60" y1="1721.00" x2="203.60" y2="1743.50" stroke="#000" stroke-width="5.5" />
<line x1="308.60" y1="1721.00" x2="308.60" y2="1743.50" stroke="#000" stroke-width="5.5" />
<line x1="413.60" y1="1721.00" x2="413.60" y2="1743.50" stroke="#000" stroke-width="5.5" />
<line x1="518.60" y1="1721.00" x2="518.60" y2="1743.50" stroke="#000" stroke-width="5.5" />
<text x="211.0" y="1773.5" font-size="36.6" text-anchor="end" font-style="italic" transform="rotate(-45 211.0 1773.5)" >TGFB1</text>
<text x="319.2" y="1773.5" font-size="36.6" text-anchor="end" font-style="italic" transform="rotate(-45 319.2 1773.5)" >TGFBR2</text>
<text x="420.5" y="1773.5" font-size="36.6" text-anchor="end" font-style="italic" transform="rotate(-45 420.5 1773.5)" >THBS1</text>
<text x="525.5" y="1773.5" font-size="36.6" text-anchor="end" font-style="italic" transform="rotate(-45 525.5 1773.5)" >CCL2</text>
<text x="224.0" y="1535.5" font-size="46" text-anchor="middle" >*</text>
<text x="328.8" y="1501.7" font-size="46" text-anchor="middle" >*</text>
<text x="434.7" y="1698.7" font-size="46" text-anchor="middle" >*</text>
<text x="538.7" y="1557.9" font-size="46" text-anchor="middle" >*</text>
<text x="618.0" y="1270.0" font-size="86" >g</text>
<rect x="815.20" y="1265.70" width="25.00" height="24.40" fill="#000" />
<text x="850.0" y="1287.0" font-size="36" font-style="italic" >siControl</text>
<rect x="1022.80" y="1264.00" width="24.00" height="25.00" fill="#ff8080" />
<text x="1058.0" y="1287.0" font-size="36" font-style="italic" >siRNF20</text>
<text x="666.0" y="1501.5" font-size="36.2" text-anchor="middle" transform="rotate(-90 666.0 1501.5)" >Relative expression</text>
<rect x="760.80" y="1684.15" width="40.20" height="37.65" fill="#000" />
<rect x="801.00" y="1715.59" width="40.20" height="6.21" fill="#ff8080" />
<rect x="860.60" y="1681.26" width="40.20" height="40.54" fill="#000" />
<rect x="900.80" y="1461.58" width="40.20" height="260.22" fill="#ff8080" />
<rect x="960.20" y="1684.15" width="40.20" height="37.65" fill="#000" />
<rect x="1000.40" y="1515.36" width="40.20" height="206.44" fill="#ff8080" />
<rect x="1059.80" y="1681.67" width="40.20" height="40.13" fill="#000" />
<rect x="1100.00" y="1572.87" width="40.20" height="148.93" fill="#ff8080" />
<rect x="1159.40" y="1684.15" width="40.20" height="37.65" fill="#000" />
<rect x="1199.60" y="1589.42" width="40.20" height="132.38" fill="#ff8080" />
<circle cx="769.10" cy="1685.81" r="8.4" fill="#fff" stroke="#000" stroke-width="3.6"/>
<circle cx="781.50" cy="1673.52" r="8.4" fill="#fff" stroke="#000" stroke-width="3.6"/>
<circle cx="793.50" cy="1681.67" r="8.4" fill="#fff" stroke="#000" stroke-width="3.6"/>
<circle cx="809.50" cy="1718.90" r="8.4" fill="#fff" stroke="#000" stroke-width="3.6"/>
<circle cx="821.50" cy="1711.04" r="8.4" fill="#fff" stroke="#000" stroke-width="3.6"/>
<circle cx="833.90" cy="1714.35" r="8.4" fill="#fff" stroke="#000" stroke-width="3.6"/>
<line x1="880.70" y1="1681.26" x2="880.70" y2="1668.02" stroke="#000" stroke-width="3.2" />
<line x1="868.70" y1="1668.02" x2="892.70" y2="1668.02" stroke="#000" stroke-width="3.6" />
<circle cx="880.70" cy="1655.61" r="8.4" fill="#fff" stroke="#000" stroke-width="3.6"/>
<circle cx="868.70" cy="1698.63" r="8.4" fill="#fff" stroke="#000" stroke-width="3.6"/>
<circle cx="893.10" cy="1687.88" r="8.4" fill="#fff" stroke="#000" stroke-width="3.6"/>
<line x1="920.90" y1="1461.58" x2="920.90" y2="1405.73" stroke="#000" stroke-width="3.2" />
<line x1="908.90" y1="1405.73" x2="932.90" y2="1405.73" stroke="#000" stroke-width="3.6" />
<circle cx="920.90" cy="1350.30" r="8.4" fill="#fff" stroke="#000" stroke-width="3.6"/>
<circle cx="920.90" cy="1508.74" r="8.4" fill="#fff" stroke="#000" stroke-width="3.6"/>
<circle cx="920.90" cy="1525.71" r="8.4" fill="#fff" stroke="#000" stroke-width="3.6"/>
<circle cx="968.30" cy="1687.05" r="8.4" fill="#fff" stroke="#000" stroke-width="3.6"/>
<circle cx="980.30" cy="1673.81" r="8.4" fill="#fff" stroke="#000" stroke-width="3.6"/>
<circle cx="992.30" cy="1683.74" r="8.4" fill="#fff" stroke="#000" stroke-width="3.6"/>
<line x1="1020.50" y1="1515.36" x2="1020.50" y2="1509.57" stroke="#000" stroke-width="3.2" />
<line x1="1008.50" y1="1509.57" x2="1032.50" y2="1509.57" stroke="#000" stroke-width="3.6" />
<circle cx="1009.00" cy="1505.85" r="8.4" fill="#fff" stroke="#000" stroke-width="3.6"/>
<circle cx="1009.00" cy="1524.05" r="8.4" fill="#fff" stroke="#000" stroke-width="3.6"/>
<circle cx="1032.70" cy="1518.26" r="8.4" fill="#fff" stroke="#000" stroke-width="3.6"/>
<line x1="1079.90" y1="1681.67" x2="1079.90" y2="1676.71" stroke="#000" stroke-width="3.2" />
<line x1="1067.90" y1="1676.71" x2="1091.90" y2="1676.71" stroke="#000" stroke-width="3.6" />
<circle cx="1067.90" cy="1672.16" r="8.4" fill="#fff" stroke="#000" stroke-width="3.6"/>
<circle cx="1067.90" cy="1687.46" r="8.4" fill="#fff" stroke="#000" stroke-width="3.6"/>
<circle cx="1092.30" cy="1683.74" r="8.4" fill="#fff" stroke="#000" stroke-width="3.6"/>
<line x1="1120.10" y1="1572.87" x2="1120.10" y2="1553.01" stroke="#000" stroke-width="3.2" />
<line x1="1108.10" y1="1553.01" x2="1132.10" y2="1553.01" stroke="#000" stroke-width="3.6" />
<circle cx="1120.10" cy="1533.57" r="8.4" fill="#fff" stroke="#000" stroke-width="3.6"/>
<circle cx="1120.10" cy="1586.11" r="8.4" fill="#fff" stroke="#000" stroke-width="3.6"/>
<circle cx="1120.10" cy="1598.93" r="8.4" fill="#fff" stroke="#000" stroke-width="3.6"/>
<circle cx="1166.50" cy="1685.39" r="8.4" fill="#fff" stroke="#000" stroke-width="3.6"/>
<circle cx="1179.50" cy="1675.05" r="8.4" fill="#fff" stroke="#000" stroke-width="3.6"/>
<circle cx="1191.50" cy="1683.33" r="8.4" fill="#fff" stroke="#000" stroke-width="3.6"/>
<line x1="1219.70" y1="1589.42" x2="1219.70" y2="1563.35" stroke="#000" stroke-width="3.2" />
<line x1="1207.70" y1="1563.35" x2="1231.70" y2="1563.35" stroke="#000" stroke-width="3.6" />
<circle cx="1219.70" cy="1536.88" r="8.4" fill="#fff" stroke="#000" stroke-width="3.6"/>
<circle cx="1207.70" cy="1615.07" r="8.4" fill="#fff" stroke="#000" stroke-width="3.6"/>
<circle cx="1232.10" cy="1614.24" r="8.4" fill="#fff" stroke="#000" stroke-width="3.6"/>
<line x1="740.10" y1="1307.00" x2="740.10" y2="1724.50" stroke="#000" stroke-width="5.5" />
<line x1="718.00" y1="1721.80" x2="1263.00" y2="1721.80" stroke="#000" stroke-width="5.5" />
<line x1="718.00" y1="1721.80" x2="740.10" y2="1721.80" stroke="#000" stroke-width="5.5" />
<text x="713.0" y="1732.8" font-size="31" text-anchor="end" >0</text>
<line x1="718.00" y1="1639.06" x2="740.10" y2="1639.06" stroke="#000" stroke-width="5.5" />
<text x="713.0" y="1650.1" font-size="31" text-anchor="end" >2</text>
<line x1="718.00" y1="1556.32" x2="740.10" y2="1556.32" stroke="#000" stroke-width="5.5" />
<text x="713.0" y="1567.3" font-size="31" text-anchor="end" >4</text>
<line x1="718.00" y1="1473.58" x2="740.10" y2="1473.58" stroke="#000" stroke-width="5.5" />
<text x="713.0" y="1484.6" font-size="31" text-anchor="end" >6</text>
<line x1="718.00" y1="1390.84" x2="740.10" y2="1390.84" stroke="#000" stroke-width="5.5" />
<text x="713.0" y="1401.8" font-size="31" text-anchor="end" >8</text>
<line x1="718.00" y1="1308.10" x2="740.10" y2="1308.10" stroke="#000" stroke-width="5.5" />
<text x="713.0" y="1319.1" font-size="31" text-anchor="end" >10</text>
<line x1="800.90" y1="1721.00" x2="800.90" y2="1743.50" stroke="#000" stroke-width="5.5" />
<line x1="900.50" y1="1721.00" x2="900.50" y2="1743.50" stroke="#000" stroke-width="5.5" />
<line x1="1000.10" y1="1721.00" x2="1000.10" y2="1743.50" stroke="#000" stroke-width="5.5" />
<line x1="1099.70" y1="1721.00" x2="1099.70" y2="1743.50" stroke="#000" stroke-width="5.5" />
<line x1="1199.30" y1="1721.00" x2="1199.30" y2="1743.50" stroke="#000" stroke-width="5.5" />
<text x="808.5" y="1775.0" font-size="36.6" text-anchor="end" font-style="italic" transform="rotate(-45 808.5 1775.0)" >RNF20</text>
<text x="908.8" y="1776.7" font-size="36.6" text-anchor="end" font-style="italic" transform="rotate(-45 908.8 1776.7)" >TGFB1</text>
<text x="1010.8" y="1776.7" font-size="36.6" text-anchor="end" font-style="italic" transform="rotate(-45 1010.8 1776.7)" >TGFBR2</text>
<text x="1107.7" y="1776.7" font-size="36.6" text-anchor="end" font-style="italic" transform="rotate(-45 1107.7 1776.7)" >THBS1</text>
<text x="1209.7" y="1776.7" font-size="36.6" text-anchor="end" font-style="italic" transform="rotate(-45 1209.7 1776.7)" >CCL2</text>
<text x="826.1" y="1702.5" font-size="46" text-anchor="middle" letter-spacing="3">**</text>
<text x="921.0" y="1353.4" font-size="46" text-anchor="middle" >*</text>
<text x="1025.0" y="1486.7" font-size="46" text-anchor="middle" letter-spacing="3">***</text>
<text x="1120.8" y="1524.2" font-size="46" text-anchor="middle" letter-spacing="3">**</text>
<text x="1218.7" y="1520.5" font-size="46" text-anchor="middle" >*</text>
<text x="1282.0" y="1278.6" font-size="86" >h</text>
<rect x="1474.20" y="1283.70" width="24.30" height="23.20" fill="#000" />
<text x="1510.0" y="1304.0" font-size="36" font-style="italic" >siControl</text>
<rect x="1474.20" y="1339.50" width="24.30" height="22.40" fill="#ff8080" />
<text x="1510.0" y="1360.3" font-size="36" font-style="italic" >siRNF20</text>
<text x="1325.5" y="1514.0" font-size="37" text-anchor="middle" transform="rotate(-90 1325.5 1514.0)" >TFIIS relative enrichment</text>
<rect x="1427.80" y="1691.04" width="39.80" height="27.66" fill="#000" />
<rect x="1467.60" y="1691.04" width="39.80" height="27.66" fill="#ff8080" />
<rect x="1528.00" y="1674.44" width="39.80" height="44.26" fill="#000" />
<rect x="1567.80" y="1618.57" width="39.80" height="100.13" fill="#ff8080" />
<rect x="1628.20" y="1684.12" width="39.80" height="34.58" fill="#000" />
<rect x="1668.00" y="1631.57" width="39.80" height="87.13" fill="#ff8080" />
<rect x="1728.40" y="1516.78" width="39.80" height="201.92" fill="#000" />
<rect x="1768.20" y="1383.21" width="39.80" height="45.79" fill="#ff8080" />
<rect x="1768.20" y="1441.70" width="39.80" height="277.00" fill="#ff8080" />
<rect x="1828.60" y="1667.53" width="39.80" height="51.17" fill="#000" />
<rect x="1868.40" y="1484.97" width="39.80" height="233.73" fill="#ff8080" />
<line x1="1547.90" y1="1674.44" x2="1547.90" y2="1655.91" stroke="#000" stroke-width="3" />
<line x1="1535.90" y1="1655.91" x2="1559.90" y2="1655.91" stroke="#000" stroke-width="3.4" />
<line x1="1587.20" y1="1618.57" x2="1587.20" y2="1577.63" stroke="#000" stroke-width="3" />
<line x1="1575.20" y1="1577.63" x2="1599.20" y2="1577.63" stroke="#000" stroke-width="3.4" />
<line x1="1648.10" y1="1684.12" x2="1648.10" y2="1663.38" stroke="#000" stroke-width="3" />
<line x1="1636.10" y1="1663.38" x2="1660.10" y2="1663.38" stroke="#000" stroke-width="3.4" />
<line x1="1687.40" y1="1631.57" x2="1687.40" y2="1606.68" stroke="#000" stroke-width="3" />
<line x1="1675.40" y1="1606.68" x2="1699.40" y2="1606.68" stroke="#000" stroke-width="3.4" />
<line x1="1748.30" y1="1516.78" x2="1748.30" y2="1441.70" stroke="#000" stroke-width="3" />
<line x1="1748.30" y1="1429.00" x2="1748.30" y2="1423.00" stroke="#000" stroke-width="3" />
<line x1="1788.50" y1="1383.21" x2="1788.50" y2="1345.40" stroke="#000" stroke-width="3" />
<line x1="1776.50" y1="1345.40" x2="1800.50" y2="1345.40" stroke="#000" stroke-width="3.4" />
<line x1="1888.50" y1="1484.97" x2="1888.50" y2="1441.70" stroke="#000" stroke-width="3" />
<line x1="1888.50" y1="1429.00" x2="1888.50" y2="1416.00" stroke="#000" stroke-width="3" />
<line x1="1876.50" y1="1416.00" x2="1900.50" y2="1416.00" stroke="#000" stroke-width="3.4" />
<circle cx="1436.00" cy="1691.20" r="8.2" fill="#fff" stroke="#000" stroke-width="3.4"/>
<circle cx="1448.60" cy="1691.20" r="8.2" fill="#fff" stroke="#000" stroke-width="3.4"/>
<circle cx="1459.60" cy="1691.20" r="8.2" fill="#fff" stroke="#000" stroke-width="3.4"/>
<circle cx="1442.00" cy="1691.20" r="8.2" fill="#fff" stroke="#000" stroke-width="3.4"/>
<circle cx="1475.30" cy="1691.20" r="8.2" fill="#fff" stroke="#000" stroke-width="3.4"/>
<circle cx="1487.10" cy="1691.20" r="8.2" fill="#fff" stroke="#000" stroke-width="3.4"/>
<circle cx="1498.90" cy="1691.20" r="8.2" fill="#fff" stroke="#000" stroke-width="3.4"/>
<circle cx="1481.00" cy="1691.20" r="8.2" fill="#fff" stroke="#000" stroke-width="3.4"/>
<circle cx="1546.90" cy="1646.80" r="8.2" fill="#fff" stroke="#000" stroke-width="3.4"/>
<circle cx="1546.90" cy="1677.40" r="8.2" fill="#fff" stroke="#000" stroke-width="3.4"/>
<circle cx="1535.00" cy="1687.30" r="8.2" fill="#fff" stroke="#000" stroke-width="3.4"/>
<circle cx="1559.40" cy="1684.50" r="8.2" fill="#fff" stroke="#000" stroke-width="3.4"/>
<circle cx="1587.00" cy="1568.60" r="8.2" fill="#fff" stroke="#000" stroke-width="3.4"/>
<circle cx="1587.00" cy="1604.70" r="8.2" fill="#fff" stroke="#000" stroke-width="3.4"/>
<circle cx="1587.00" cy="1634.20" r="8.2" fill="#fff" stroke="#000" stroke-width="3.4"/>
<circle cx="1587.00" cy="1664.90" r="8.2" fill="#fff" stroke="#000" stroke-width="3.4"/>
<circle cx="1648.20" cy="1653.90" r="8.2" fill="#fff" stroke="#000" stroke-width="3.4"/>
<circle cx="1636.50" cy="1695.90" r="8.2" fill="#fff" stroke="#000" stroke-width="3.4"/>
<circle cx="1648.20" cy="1689.20" r="8.2" fill="#fff" stroke="#000" stroke-width="3.4"/>
<circle cx="1659.60" cy="1693.20" r="8.2" fill="#fff" stroke="#000" stroke-width="3.4"/>
<circle cx="1687.10" cy="1596.10" r="8.2" fill="#fff" stroke="#000" stroke-width="3.4"/>
<circle cx="1687.10" cy="1630.30" r="8.2" fill="#fff" stroke="#000" stroke-width="3.4"/>
<circle cx="1675.30" cy="1651.90" r="8.2" fill="#fff" stroke="#000" stroke-width="3.4"/>
<circle cx="1700.90" cy="1647.20" r="8.2" fill="#fff" stroke="#000" stroke-width="3.4"/>
<circle cx="1748.00" cy="1423.20" r="8.2" fill="#fff" stroke="#000" stroke-width="3.4"/>
<circle cx="1748.00" cy="1495.50" r="8.2" fill="#fff" stroke="#000" stroke-width="3.4"/>
<circle cx="1735.50" cy="1593.00" r="8.2" fill="#fff" stroke="#000" stroke-width="3.4"/>
<circle cx="1759.90" cy="1578.40" r="8.2" fill="#fff" stroke="#000" stroke-width="3.4"/>
<circle cx="1788.50" cy="1339.50" r="8.2" fill="#fff" stroke="#000" stroke-width="3.4"/>
<circle cx="1788.50" cy="1365.80" r="8.2" fill="#fff" stroke="#000" stroke-width="3.4"/>
<circle cx="1776.00" cy="1416.10" r="8.2" fill="#fff" stroke="#000" stroke-width="3.4"/>
<circle cx="1801.10" cy="1413.00" r="8.2" fill="#fff" stroke="#000" stroke-width="3.4"/>
<circle cx="1836.50" cy="1657.80" r="8.2" fill="#fff" stroke="#000" stroke-width="3.4"/>
<circle cx="1848.20" cy="1661.70" r="8.2" fill="#fff" stroke="#000" stroke-width="3.4"/>
<circle cx="1860.40" cy="1671.50" r="8.2" fill="#fff" stroke="#000" stroke-width="3.4"/>
<circle cx="1836.50" cy="1677.40" r="8.2" fill="#fff" stroke="#000" stroke-width="3.4"/>
<circle cx="1888.00" cy="1409.40" r="8.2" fill="#fff" stroke="#000" stroke-width="3.4"/>
<circle cx="1888.00" cy="1511.20" r="8.2" fill="#fff" stroke="#000" stroke-width="3.4"/>
<circle cx="1888.00" cy="1550.90" r="8.2" fill="#fff" stroke="#000" stroke-width="3.4"/>
<circle cx="1888.00" cy="1567.40" r="8.2" fill="#fff" stroke="#000" stroke-width="3.4"/>
<line x1="1407.40" y1="1304.10" x2="1407.40" y2="1432.00" stroke="#000" stroke-width="3" />
<line x1="1407.40" y1="1439.00" x2="1407.40" y2="1720.00" stroke="#000" stroke-width="3" />
<line x1="1393.60" y1="1429.00" x2="1421.00" y2="1429.00" stroke="#000" stroke-width="3" />
<line x1="1393.60" y1="1441.70" x2="1421.00" y2="1441.70" stroke="#000" stroke-width="3" />
<line x1="1385.70" y1="1718.70" x2="1930.00" y2="1718.70" stroke="#000" stroke-width="3" />
<line x1="1387.70" y1="1304.11" x2="1407.40" y2="1304.11" stroke="#000" stroke-width="3" />
<text x="1381.0" y="1315.1" font-size="31" text-anchor="end" >40</text>
<line x1="1387.70" y1="1387.37" x2="1407.40" y2="1387.37" stroke="#000" stroke-width="3" />
<text x="1381.0" y="1398.4" font-size="31" text-anchor="end" >20</text>
<line x1="1387.70" y1="1718.70" x2="1407.40" y2="1718.70" stroke="#000" stroke-width="3" />
<text x="1381.0" y="1729.7" font-size="31" text-anchor="end" >0</text>
<line x1="1387.70" y1="1580.40" x2="1407.40" y2="1580.40" stroke="#000" stroke-width="3" />
<text x="1381.0" y="1591.4" font-size="31" text-anchor="end" >5</text>
<text x="1381.0" y="1452.7" font-size="31" text-anchor="end" >10</text>
<line x1="1467.10" y1="1718.00" x2="1467.10" y2="1739.00" stroke="#000" stroke-width="3.5" />
<line x1="1567.30" y1="1718.00" x2="1567.30" y2="1739.00" stroke="#000" stroke-width="3.5" />
<line x1="1667.50" y1="1718.00" x2="1667.50" y2="1739.00" stroke="#000" stroke-width="3.5" />
<line x1="1767.70" y1="1718.00" x2="1767.70" y2="1739.00" stroke="#000" stroke-width="3.5" />
<line x1="1867.90" y1="1718.00" x2="1867.90" y2="1739.00" stroke="#000" stroke-width="3.5" />
<text x="1478.0" y="1771.0" font-size="36.6" text-anchor="end" font-style="italic" transform="rotate(-45 1478.0 1771.0)" >Desert</text>
<text x="1578.0" y="1771.0" font-size="36.6" text-anchor="end" font-style="italic" transform="rotate(-45 1578.0 1771.0)" >TGFB1</text>
<text x="1678.0" y="1771.0" font-size="36.6" text-anchor="end" font-style="italic" transform="rotate(-45 1678.0 1771.0)" >TGFBR2</text>
<text x="1778.0" y="1771.0" font-size="36.6" text-anchor="end" font-style="italic" transform="rotate(-45 1778.0 1771.0)" >THBS1</text>
<text x="1879.0" y="1771.0" font-size="36.6" text-anchor="end" font-style="italic" transform="rotate(-45 1879.0 1771.0)" >CCL2</text>
<text x="1587.0" y="1563.8" font-size="46" text-anchor="middle" >*</text>
<text x="1687.1" y="1591.3" font-size="46" text-anchor="middle" >*</text>
<text x="1788.5" y="1333.9" font-size="46" text-anchor="middle" >*</text>
<text x="1888.7" y="1402.7" font-size="46" text-anchor="middle" >*</text>
<defs><pattern id="cmstripe" width="14" height="3.6" patternUnits="userSpaceOnUse">
<rect x="0" y="0" width="14" height="1.1" fill="#dc5555" fill-opacity="0.6"/>
<rect x="6" y="1.2" width="1.3" height="1.8" fill="#e05a5a" fill-opacity="0.4"/></pattern></defs>
<text x="-5.0" y="1985.0" font-size="86" font-weight="bold" >i</text>
<rect x="25" y="1926.8" width="141" height="527.2" fill="#ebf2fc" stroke="#9eb1df" stroke-width="3"/>
<text x="90.0" y="2190.0" font-size="45.5" text-anchor="middle" fill="#111" transform="rotate(-90 90.0 2190.0)" >Angiocrine signaling and</text>
<text x="143.5" y="2184.0" font-size="45.6" text-anchor="middle" fill="#111" transform="rotate(-90 143.5 2184.0)" >ECM composition</text>
<text x="524.5" y="1966.0" font-size="44" text-anchor="middle" font-weight="bold" >WT</text>
<path d="M305.2,2235.0 L307.6,2234.6 L310.0,2233.8 L312.3,2232.6 L314.6,2231.2M314.6,2231.2 L316.9,2229.6 L319.2,2228.0 L321.6,2226.6 L324.2,2225.5M353.9,2233.8 L356.4,2233.5 L359.0,2232.8 L361.6,2231.9 L364.2,2230.9M364.2,2230.9 L366.9,2230.0 L369.5,2229.3 L372.1,2228.9 L374.6,2228.9M295.2,2236.3 L297.6,2235.1 L299.8,2233.5 L302.1,2231.8 L304.3,2230.1M304.3,2230.1 L306.6,2228.5 L308.9,2227.2 L311.3,2226.3 L313.8,2225.8M334.2,2232.3 L336.6,2232.6 L339.1,2232.5 L341.6,2232.0 L344.1,2231.2M344.1,2231.2 L346.7,2230.2 L349.3,2229.2 L351.9,2228.2 L354.5,2227.3M324.5,2232.1 L326.9,2231.3 L329.3,2230.3 L331.8,2229.1 L334.3,2227.9M334.3,2227.9 L336.9,2226.8 L339.5,2225.9 L342.1,2225.5 L344.6,2225.5M363.7,2234.8 L366.2,2235.4 L368.6,2235.7 L371.2,2235.5 L373.8,2234.9M373.8,2234.9 L376.4,2234.1" fill="none" stroke="#ffffff" stroke-width="4.4" stroke-linecap="round" stroke-opacity="0.9"/>
<path d="M305.2,2235.0 L307.6,2234.6 L310.0,2233.8 L312.3,2232.6 L314.6,2231.2M314.6,2231.2 L316.9,2229.6 L319.2,2228.0 L321.6,2226.6 L324.2,2225.5M353.9,2233.8 L356.4,2233.5 L359.0,2232.8 L361.6,2231.9 L364.2,2230.9M364.2,2230.9 L366.9,2230.0 L369.5,2229.3 L372.1,2228.9 L374.6,2228.9" fill="none" stroke="#6f5fb8" stroke-width="3.3" stroke-linecap="round"/>
<path d="M295.2,2236.3 L297.6,2235.1 L299.8,2233.5 L302.1,2231.8 L304.3,2230.1M304.3,2230.1 L306.6,2228.5 L308.9,2227.2 L311.3,2226.3 L313.8,2225.8M334.2,2232.3 L336.6,2232.6 L339.1,2232.5 L341.6,2232.0 L344.1,2231.2M344.1,2231.2 L346.7,2230.2 L349.3,2229.2 L351.9,2228.2 L354.5,2227.3" fill="none" stroke="#8e9be0" stroke-width="3.3" stroke-linecap="round"/>
<path d="M324.5,2232.1 L326.9,2231.3 L329.3,2230.3 L331.8,2229.1 L334.3,2227.9M334.3,2227.9 L336.9,2226.8 L339.5,2225.9 L342.1,2225.5 L344.6,2225.5M363.7,2234.8 L366.2,2235.4 L368.6,2235.7 L371.2,2235.5 L373.8,2234.9M373.8,2234.9 L376.4,2234.1" fill="none" stroke="#b393d8" stroke-width="3.3" stroke-linecap="round"/>
<path d="M294.7,2233.0 L297.3,2233.9 L300.0,2234.5 L302.6,2234.9 L305.2,2235.0M324.2,2225.5 L326.7,2224.8 L329.3,2224.7 L331.9,2225.0 L334.4,2225.8M334.4,2225.8 L336.9,2226.9 L339.3,2228.3 L341.7,2229.8 L344.1,2231.2M344.1,2231.2 L346.5,2232.4 L349.0,2233.3 L351.4,2233.8 L353.9,2233.8M374.6,2228.9 L377.1,2229.3M313.8,2225.8 L316.4,2225.8 L319.0,2226.3 L321.7,2227.1 L324.3,2228.2M324.3,2228.2 L326.8,2229.4 L329.3,2230.6 L331.7,2231.6 L334.2,2232.3M354.5,2227.3 L357.1,2226.9 L359.7,2226.9 L362.2,2227.3 L364.6,2228.2M364.6,2228.2 L367.0,2229.4 L369.3,2230.9 L371.6,2232.6 L373.9,2234.2M373.9,2234.2 L376.2,2235.6M294.1,2229.7 L296.5,2228.9 L298.9,2228.4 L301.4,2228.4 L304.1,2228.7M304.1,2228.7 L306.7,2229.4 L309.4,2230.2 L312.1,2231.1 L314.7,2231.9M314.7,2231.9 L317.2,2232.4 L319.7,2232.7 L322.1,2232.6 L324.5,2232.1M344.6,2225.5 L347.1,2225.9 L349.5,2226.7 L351.9,2227.9 L354.3,2229.3M354.3,2229.3 L356.7,2230.9 L359.0,2232.4 L361.4,2233.7 L363.7,2234.8" fill="none" stroke="#ffffff" stroke-width="4.4" stroke-linecap="round" stroke-opacity="0.9"/>
<path d="M294.7,2233.0 L297.3,2233.9 L300.0,2234.5 L302.6,2234.9 L305.2,2235.0M324.2,2225.5 L326.7,2224.8 L329.3,2224.7 L331.9,2225.0 L334.4,2225.8M334.4,2225.8 L336.9,2226.9 L339.3,2228.3 L341.7,2229.8 L344.1,2231.2M344.1,2231.2 L346.5,2232.4 L349.0,2233.3 L351.4,2233.8 L353.9,2233.8M374.6,2228.9 L377.1,2229.3" fill="none" stroke="#6f5fb8" stroke-width="3.3" stroke-linecap="round"/>
<path d="M313.8,2225.8 L316.4,2225.8 L319.0,2226.3 L321.7,2227.1 L324.3,2228.2M324.3,2228.2 L326.8,2229.4 L329.3,2230.6 L331.7,2231.6 L334.2,2232.3M354.5,2227.3 L357.1,2226.9 L359.7,2226.9 L362.2,2227.3 L364.6,2228.2M364.6,2228.2 L367.0,2229.4 L369.3,2230.9 L371.6,2232.6 L373.9,2234.2M373.9,2234.2 L376.2,2235.6" fill="none" stroke="#8e9be0" stroke-width="3.3" stroke-linecap="round"/>
<path d="M294.1,2229.7 L296.5,2228.9 L298.9,2228.4 L301.4,2228.4 L304.1,2228.7M304.1,2228.7 L306.7,2229.4 L309.4,2230.2 L312.1,2231.1 L314.7,2231.9M314.7,2231.9 L317.2,2232.4 L319.7,2232.7 L322.1,2232.6 L324.5,2232.1M344.6,2225.5 L347.1,2225.9 L349.5,2226.7 L351.9,2227.9 L354.3,2229.3M354.3,2229.3 L356.7,2230.9 L359.0,2232.4 L361.4,2233.7 L363.7,2234.8" fill="none" stroke="#b393d8" stroke-width="3.3" stroke-linecap="round"/>
<path d="M581.8,2257.0 L584.1,2257.8 L586.7,2258.2 L589.3,2258.1 L592.0,2257.8M592.0,2257.8 L594.8,2257.3 L597.5,2256.7 L600.2,2256.2 L602.9,2255.9M631.3,2267.6 L633.9,2267.2 L636.5,2266.3 L639.0,2265.3 L641.6,2264.1M641.6,2264.1 L644.1,2262.9 L646.7,2261.9 L649.2,2261.2 L651.7,2261.0M671.2,2269.5 L673.6,2270.2 L676.1,2270.5 L678.6,2270.3 L681.2,2269.8M681.2,2269.8 L683.8,2269.0 L686.4,2267.9 L689.0,2266.8 L691.6,2265.8M691.6,2265.8 L694.0,2265.0 L696.4,2264.5 L698.7,2264.3 L701.0,2264.4M572.4,2253.8 L575.0,2253.7 L577.7,2253.3 L580.4,2252.8 L583.2,2252.3M583.2,2252.3 L585.9,2251.9 L588.6,2251.8 L591.1,2252.0 L593.5,2252.6M611.0,2264.9 L613.5,2265.6 L616.1,2265.8 L618.7,2265.6 L621.4,2264.9M621.4,2264.9 L624.0,2264.0 L626.7,2263.0 L629.3,2261.9 L631.8,2261.1M661.3,2269.1 L663.8,2268.8 L666.3,2268.2 L668.9,2267.3 L671.5,2266.2M671.5,2266.2 L674.1,2265.2 L676.7,2264.3 L679.3,2263.7 L681.8,2263.5M701.8,2271.0 L704.6,2271.2 L707.3,2270.8 L709.7,2269.8 L712.0,2268.4M601.2,2262.4 L603.8,2262.3 L606.5,2261.9 L609.2,2261.3 L612.0,2260.5M612.0,2260.5 L614.6,2259.8 L617.2,2259.3 L619.7,2259.1 L622.1,2259.2M641.5,2267.9 L644.0,2268.4 L646.5,2268.3 L649.0,2267.9 L651.5,2267.1M651.5,2267.1 L654.0,2266.0 L656.6,2264.8 L659.2,2263.7 L661.8,2262.8M691.2,2271.9 L693.8,2271.7 L696.5,2271.0 L699.0,2269.8 L701.5,2268.4M701.5,2268.4 L703.7,2266.7 L705.9,2265.0 L707.9,2263.5 L710.1,2262.1" fill="none" stroke="#ffffff" stroke-width="4.4" stroke-linecap="round" stroke-opacity="0.9"/>
<path d="M581.8,2257.0 L584.1,2257.8 L586.7,2258.2 L589.3,2258.1 L592.0,2257.8M592.0,2257.8 L594.8,2257.3 L597.5,2256.7 L600.2,2256.2 L602.9,2255.9M631.3,2267.6 L633.9,2267.2 L636.5,2266.3 L639.0,2265.3 L641.6,2264.1M641.6,2264.1 L644.1,2262.9 L646.7,2261.9 L649.2,2261.2 L651.7,2261.0M671.2,2269.5 L673.6,2270.2 L676.1,2270.5 L678.6,2270.3 L681.2,2269.8M681.2,2269.8 L683.8,2269.0 L686.4,2267.9 L689.0,2266.8 L691.6,2265.8M691.6,2265.8 L694.0,2265.0 L696.4,2264.5 L698.7,2264.3 L701.0,2264.4" fill="none" stroke="#6f5fb8" stroke-width="3.3" stroke-linecap="round"/>
<path d="M572.4,2253.8 L575.0,2253.7 L577.7,2253.3 L580.4,2252.8 L583.2,2252.3M583.2,2252.3 L585.9,2251.9 L588.6,2251.8 L591.1,2252.0 L593.5,2252.6M611.0,2264.9 L613.5,2265.6 L616.1,2265.8 L618.7,2265.6 L621.4,2264.9M621.4,2264.9 L624.0,2264.0 L626.7,2263.0 L629.3,2261.9 L631.8,2261.1M661.3,2269.1 L663.8,2268.8 L666.3,2268.2 L668.9,2267.3 L671.5,2266.2M671.5,2266.2 L674.1,2265.2 L676.7,2264.3 L679.3,2263.7 L681.8,2263.5M701.8,2271.0 L704.6,2271.2 L707.3,2270.8 L709.7,2269.8 L712.0,2268.4" fill="none" stroke="#8e9be0" stroke-width="3.3" stroke-linecap="round"/>
<path d="M601.2,2262.4 L603.8,2262.3 L606.5,2261.9 L609.2,2261.3 L612.0,2260.5M612.0,2260.5 L614.6,2259.8 L617.2,2259.3 L619.7,2259.1 L622.1,2259.2M641.5,2267.9 L644.0,2268.4 L646.5,2268.3 L649.0,2267.9 L651.5,2267.1M651.5,2267.1 L654.0,2266.0 L656.6,2264.8 L659.2,2263.7 L661.8,2262.8M691.2,2271.9 L693.8,2271.7 L696.5,2271.0 L699.0,2269.8 L701.5,2268.4M701.5,2268.4 L703.7,2266.7 L705.9,2265.0 L707.9,2263.5 L710.1,2262.1" fill="none" stroke="#b393d8" stroke-width="3.3" stroke-linecap="round"/>
<path d="M573.3,2250.6 L575.3,2252.5 L577.4,2254.3 L579.5,2255.9 L581.8,2257.0M602.9,2255.9 L605.4,2256.0 L607.8,2256.4 L610.2,2257.3 L612.4,2258.5M612.4,2258.5 L614.6,2260.0 L616.8,2261.6 L619.1,2263.3 L621.4,2264.9M621.4,2264.9 L623.8,2266.2 L626.3,2267.1 L628.8,2267.6 L631.3,2267.6M651.7,2261.0 L654.2,2261.1 L656.7,2261.7 L659.2,2262.8 L661.7,2264.1M661.7,2264.1 L664.1,2265.6 L666.4,2267.0 L668.8,2268.4 L671.2,2269.5M701.0,2264.4 L703.4,2264.7 L705.9,2265.3 L708.6,2265.8 L711.4,2266.3M593.5,2252.6 L595.8,2253.6 L598.0,2255.0 L600.1,2256.7 L602.2,2258.5M602.2,2258.5 L604.3,2260.4 L606.4,2262.2 L608.7,2263.7 L611.0,2264.9M631.8,2261.1 L634.3,2260.5 L636.8,2260.4 L639.2,2260.6 L641.7,2261.3M641.7,2261.3 L644.2,2262.3 L646.6,2263.6 L649.1,2265.0 L651.5,2266.3M651.5,2266.3 L654.0,2267.5 L656.4,2268.4 L658.8,2268.9 L661.3,2269.1M681.8,2263.5 L684.3,2263.6 L686.8,2264.2 L689.1,2265.2 L691.5,2266.4M691.5,2266.4 L693.9,2267.8 L696.4,2269.1 L699.1,2270.3 L701.8,2271.0M574.2,2247.4 L576.7,2247.7 L579.1,2248.4 L581.4,2249.5 L583.6,2251.0M583.6,2251.0 L585.7,2252.7 L587.7,2254.7 L589.7,2256.6 L591.8,2258.4M591.8,2258.4 L594.0,2260.0 L596.3,2261.2 L598.7,2262.0 L601.2,2262.4M622.1,2259.2 L624.5,2259.7 L626.9,2260.5 L629.3,2261.7 L631.7,2263.1M631.7,2263.1 L634.1,2264.6 L636.5,2265.9 L639.0,2267.1 L641.5,2267.9M661.8,2262.8 L664.3,2262.2 L666.9,2261.9 L669.4,2262.2 L671.9,2262.8M671.9,2262.8 L674.3,2263.9 L676.6,2265.3 L679.0,2266.8 L681.4,2268.3M681.4,2268.3 L683.7,2269.7 L686.2,2270.9 L688.7,2271.6 L691.2,2271.9" fill="none" stroke="#ffffff" stroke-width="4.4" stroke-linecap="round" stroke-opacity="0.9"/>
<path d="M573.3,2250.6 L575.3,2252.5 L577.4,2254.3 L579.5,2255.9 L581.8,2257.0M602.9,2255.9 L605.4,2256.0 L607.8,2256.4 L610.2,2257.3 L612.4,2258.5M612.4,2258.5 L614.6,2260.0 L616.8,2261.6 L619.1,2263.3 L621.4,2264.9M621.4,2264.9 L623.8,2266.2 L626.3,2267.1 L628.8,2267.6 L631.3,2267.6M651.7,2261.0 L654.2,2261.1 L656.7,2261.7 L659.2,2262.8 L661.7,2264.1M661.7,2264.1 L664.1,2265.6 L666.4,2267.0 L668.8,2268.4 L671.2,2269.5M701.0,2264.4 L703.4,2264.7 L705.9,2265.3 L708.6,2265.8 L711.4,2266.3" fill="none" stroke="#6f5fb8" stroke-width="3.3" stroke-linecap="round"/>
<path d="M593.5,2252.6 L595.8,2253.6 L598.0,2255.0 L600.1,2256.7 L602.2,2258.5M602.2,2258.5 L604.3,2260.4 L606.4,2262.2 L608.7,2263.7 L611.0,2264.9M631.8,2261.1 L634.3,2260.5 L636.8,2260.4 L639.2,2260.6 L641.7,2261.3M641.7,2261.3 L644.2,2262.3 L646.6,2263.6 L649.1,2265.0 L651.5,2266.3M651.5,2266.3 L654.0,2267.5 L656.4,2268.4 L658.8,2268.9 L661.3,2269.1M681.8,2263.5 L684.3,2263.6 L686.8,2264.2 L689.1,2265.2 L691.5,2266.4M691.5,2266.4 L693.9,2267.8 L696.4,2269.1 L699.1,2270.3 L701.8,2271.0" fill="none" stroke="#8e9be0" stroke-width="3.3" stroke-linecap="round"/>
<path d="M574.2,2247.4 L576.7,2247.7 L579.1,2248.4 L581.4,2249.5 L583.6,2251.0M583.6,2251.0 L585.7,2252.7 L587.7,2254.7 L589.7,2256.6 L591.8,2258.4M591.8,2258.4 L594.0,2260.0 L596.3,2261.2 L598.7,2262.0 L601.2,2262.4M622.1,2259.2 L624.5,2259.7 L626.9,2260.5 L629.3,2261.7 L631.7,2263.1M631.7,2263.1 L634.1,2264.6 L636.5,2265.9 L639.0,2267.1 L641.5,2267.9M661.8,2262.8 L664.3,2262.2 L666.9,2261.9 L669.4,2262.2 L671.9,2262.8M671.9,2262.8 L674.3,2263.9 L676.6,2265.3 L679.0,2266.8 L681.4,2268.3M681.4,2268.3 L683.7,2269.7 L686.2,2270.9 L688.7,2271.6 L691.2,2271.9" fill="none" stroke="#b393d8" stroke-width="3.3" stroke-linecap="round"/>
<path d="M444.2,2083.5 L446.0,2084.3 L447.9,2085.1 L449.7,2086.0 L451.5,2086.9 L453.3,2087.7 L455.1,2088.5 L456.9,2089.4 L458.7,2090.2 L460.6,2091.0 L462.4,2091.8 L464.2,2092.6 L466.1,2093.4 L467.9,2094.2 L469.8,2094.9 L471.7,2095.6 L473.5,2096.2 L475.4,2096.9 L477.4,2097.5 L479.3,2098.0 L481.2,2098.6 L483.1,2099.2 L485.0,2099.7 L486.9,2100.3 L488.9,2100.8 L490.8,2101.3 L492.7,2101.9 L494.7,2102.4 L496.6,2103.0 L498.5,2103.5 L500.4,2104.1 L502.3,2104.7 L504.2,2105.4 L506.1,2106.0 L508.0,2106.6 L509.9,2107.2 L511.8,2107.9 L513.7,2108.5 L515.6,2109.2 L517.5,2109.8" fill="none" stroke="#3fa7e3" stroke-width="1.8"/>
<path d="M444.2,2083.5L442.1,2088.1M446.2,2087.1L443.7,2084.6L440.2,2084.3M445.6,2087.7L443.3,2085.4L440.1,2085.1M445.0,2088.2L442.9,2086.2L440.1,2085.9M444.4,2088.8L442.6,2087.0L440.0,2086.7M443.9,2089.3L442.2,2087.7L439.9,2087.5M453.3,2087.7L456.1,2081.5M457.5,2086.5L454.0,2086.1L451.5,2083.7M457.7,2085.4L454.5,2085.1L452.2,2082.9M457.9,2084.3L455.0,2084.0L452.9,2082.0M458.0,2083.2L455.5,2083.0L453.6,2081.2M458.2,2082.2L455.9,2082.0L454.3,2080.4M462.4,2091.8L459.8,2097.9M464.3,2095.7L461.7,2093.4L458.2,2093.1M463.7,2096.6L461.3,2094.4L458.1,2094.2M463.0,2097.4L460.8,2095.4L458.0,2095.2M462.3,2098.2L460.4,2096.5L457.8,2096.3M461.7,2099.0L460.0,2097.4L457.7,2097.3M471.7,2095.6L473.5,2090.5M475.6,2094.3L472.1,2094.3L469.4,2092.1M475.6,2093.5L472.4,2093.4L469.9,2091.4M475.6,2092.6L472.7,2092.6L470.5,2090.7M475.6,2091.7L473.1,2091.7L471.0,2090.1M475.7,2090.9L473.4,2090.9L471.6,2089.4M481.2,2098.6L479.5,2104.4M483.6,2102.1L480.7,2100.1L477.2,2100.2M483.0,2102.9L480.5,2101.0L477.3,2101.2M482.5,2103.7L480.2,2102.0L477.3,2102.1M482.0,2104.5L479.9,2103.0L477.3,2103.1M481.5,2105.2L479.6,2103.9L477.3,2104.0M490.8,2101.3L492.4,2095.7M494.7,2099.7L491.2,2099.9L488.3,2097.9M494.7,2098.8L491.5,2099.0L488.9,2097.1M494.7,2097.8L491.8,2098.0L489.4,2096.3M494.6,2096.9L492.0,2097.1L489.9,2095.6M494.6,2096.0L492.3,2096.1L490.4,2094.8M500.4,2104.1L498.5,2110.2M502.8,2107.7L499.9,2105.7L496.4,2105.8M502.2,2108.6L499.6,2106.7L496.4,2106.8M501.6,2109.4L499.3,2107.7L496.4,2107.8M501.1,2110.3L499.0,2108.8L496.4,2108.9M500.5,2111.1L498.7,2109.7L496.4,2109.8M509.9,2107.2L512.0,2100.9M513.9,2105.6L510.4,2105.7L507.6,2103.5M514.0,2104.5L510.8,2104.6L508.2,2102.6M514.0,2103.4L511.1,2103.5L508.8,2101.7M514.1,2102.4L511.5,2102.4L509.4,2100.8M514.1,2101.3L511.8,2101.4L510.0,2100.0" fill="none" stroke="#3fa7e3" stroke-width="1.3" stroke-opacity="0.85"/>
<path d="M684.7,2212.5 L686.5,2213.3 L688.3,2214.2 L690.1,2215.1 L691.9,2216.0 L693.7,2216.8 L695.6,2217.5 L697.5,2218.0 L699.5,2218.4 L701.5,2218.4 L703.5,2218.2 L705.4,2217.8 L707.4,2217.3 L709.3,2216.8 L711.2,2216.2 L713.1,2215.6" fill="none" stroke="#3fa7e3" stroke-width="1.8"/>
<path d="M684.7,2212.5L681.7,2218.9M686.4,2216.6L683.9,2214.1L680.4,2213.7M685.7,2217.4L683.4,2215.2L680.2,2214.9M685.0,2218.3L682.9,2216.3L680.0,2216.0M684.2,2219.2L682.4,2217.4L679.8,2217.1M683.6,2220.0L681.9,2218.4L679.6,2218.2M693.7,2216.8L695.8,2210.0M697.8,2214.9L694.2,2215.1L691.4,2213.0M697.8,2213.8L694.6,2213.9L692.0,2212.0M697.8,2212.6L694.9,2212.8L692.6,2211.1M697.9,2211.5L695.3,2211.6L693.2,2210.1M697.9,2210.4L695.6,2210.5L693.7,2209.2M703.5,2218.2L702.8,2223.0M706.4,2221.0L703.3,2219.4L699.9,2220.1M706.0,2221.7L703.2,2220.2L700.0,2220.8M705.6,2222.4L703.1,2221.0L700.2,2221.6M705.3,2223.1L703.0,2221.9L700.4,2222.4M704.9,2223.7L702.8,2222.6L700.6,2223.1" fill="none" stroke="#3fa7e3" stroke-width="1.3" stroke-opacity="0.85"/>
<path d="M397.3,2139.2 L573.3,2148.0 L661.2,2150.9 L667.1,2165.6 L674.4,2177.3 L673.0,2212.5 L674.4,2224.2 L675.9,2236.0 L573.3,2247.7 L485.3,2259.4 L397.3,2259.4 L376.8,2233.0 L385.6,2197.8 L394.4,2172.9 Z" fill="#f39292"/><path d="M397.3,2139.2 L573.3,2148.0 L661.2,2150.9 L667.1,2165.6 L674.4,2177.3 L673.0,2212.5 L674.4,2224.2 L675.9,2236.0 L573.3,2247.7 L485.3,2259.4 L397.3,2259.4 L376.8,2233.0 L385.6,2197.8 L394.4,2172.9 Z" fill="url(#cmstripe)"/>
<path d="M309.3,2123.0 L318.6,2124.3 L331.3,2126.1 L346.3,2128.2 L363.0,2130.4 L380.3,2132.7 L397.3,2134.8 L415.1,2136.8 L434.4,2138.9 L454.5,2140.9 L474.2,2142.9 L492.6,2144.8 L508.7,2146.5 L523.0,2148.0 L536.2,2149.3 L548.1,2150.5 L558.5,2151.6 L566.9,2152.7 L573.3,2153.8 L577.3,2155.1 L579.2,2156.4 L579.3,2157.8 L577.7,2159.1 L574.6,2160.2 L570.3,2161.2 L563.8,2161.9 L554.7,2162.4 L544.1,2162.7 L533.2,2163.1 L523.0,2163.5 L514.6,2164.1 L508.1,2164.8 L502.7,2165.4 L497.9,2166.0 L493.6,2166.9 L489.5,2168.2 L485.3,2170.0 L481.5,2172.6 L478.5,2175.9 L475.7,2179.6 L472.5,2183.3 L468.0,2186.6 L461.8,2189.0 L453.8,2190.7 L444.5,2191.9 L434.1,2192.7 L422.6,2193.2 L410.3,2193.4 L397.3,2193.4 L382.1,2193.2 L364.3,2192.5 L345.6,2191.5 L327.8,2190.5 L312.7,2189.6 L302.0,2189.0 L301.8,2186.6 L301.6,2183.1 L301.3,2179.1 L301.0,2175.0 L300.7,2171.5 L300.5,2169.1 L306.4,2169.0 L314.6,2168.9 L324.4,2168.8 L334.6,2168.7 L344.6,2168.8 L353.3,2169.1 L361.4,2169.8 L369.6,2170.9 L377.5,2172.1 L384.6,2173.2 L390.4,2173.9 L394.4,2173.8 L396.4,2172.9 L397.0,2171.4 L396.2,2169.4 L394.4,2167.2 L391.7,2164.9 L388.5,2162.6 L384.4,2160.4 L379.2,2157.9 L373.1,2155.3 L366.6,2152.7 L359.9,2150.3 L353.3,2148.0 L346.3,2145.8 L338.5,2143.6 L330.6,2141.5 L323.1,2139.6 L316.8,2138.0 L312.3,2136.8 L311.9,2135.2 L311.4,2132.7 L310.8,2129.9 L310.2,2127.1 L309.7,2124.7 L309.3,2123.0 Z" fill="#f39292" stroke="#e24d4d" stroke-width="1.4"/>
<path d="M309.3,2123.0 L318.6,2124.3 L331.3,2126.1 L346.3,2128.2 L363.0,2130.4 L380.3,2132.7 L397.3,2134.8 L415.1,2136.8 L434.4,2138.9 L454.5,2140.9 L474.2,2142.9 L492.6,2144.8 L508.7,2146.5 L523.0,2148.0 L536.2,2149.3 L548.1,2150.5 L558.5,2151.6 L566.9,2152.7 L573.3,2153.8 L577.3,2155.1 L579.2,2156.4 L579.3,2157.8 L577.7,2159.1 L574.6,2160.2 L570.3,2161.2 L563.8,2161.9 L554.7,2162.4 L544.1,2162.7 L533.2,2163.1 L523.0,2163.5 L514.6,2164.1 L508.1,2164.8 L502.7,2165.4 L497.9,2166.0 L493.6,2166.9 L489.5,2168.2 L485.3,2170.0 L481.5,2172.6 L478.5,2175.9 L475.7,2179.6 L472.5,2183.3 L468.0,2186.6 L461.8,2189.0 L453.8,2190.7 L444.5,2191.9 L434.1,2192.7 L422.6,2193.2 L410.3,2193.4 L397.3,2193.4 L382.1,2193.2 L364.3,2192.5 L345.6,2191.5 L327.8,2190.5 L312.7,2189.6 L302.0,2189.0 L301.8,2186.6 L301.6,2183.1 L301.3,2179.1 L301.0,2175.0 L300.7,2171.5 L300.5,2169.1 L306.4,2169.0 L314.6,2168.9 L324.4,2168.8 L334.6,2168.7 L344.6,2168.8 L353.3,2169.1 L361.4,2169.8 L369.6,2170.9 L377.5,2172.1 L384.6,2173.2 L390.4,2173.9 L394.4,2173.8 L396.4,2172.9 L397.0,2171.4 L396.2,2169.4 L394.4,2167.2 L391.7,2164.9 L388.5,2162.6 L384.4,2160.4 L379.2,2157.9 L373.1,2155.3 L366.6,2152.7 L359.9,2150.3 L353.3,2148.0 L346.3,2145.8 L338.5,2143.6 L330.6,2141.5 L323.1,2139.6 L316.8,2138.0 L312.3,2136.8 L311.9,2135.2 L311.4,2132.7 L310.8,2129.9 L310.2,2127.1 L309.7,2124.7 L309.3,2123.0 Z" fill="url(#cmstripe)"/>
<ellipse cx="447.2" cy="2170.0" rx="28.0" ry="16.0" fill="#e86a6a" fill-opacity="0.55"/>
<path d="M303.5,2197.8 L313.7,2197.5 L328.0,2197.1 L344.9,2196.7 L363.0,2196.2 L380.9,2195.8 L397.3,2195.5 L412.2,2195.3 L426.6,2195.2 L440.8,2195.1 L455.2,2195.1 L469.9,2195.2 L485.3,2195.5 L502.5,2195.9 L521.8,2196.6 L541.4,2197.4 L559.7,2198.2 L575.3,2198.8 L586.5,2199.3 L586.6,2201.6 L586.9,2204.9 L587.2,2208.8 L587.5,2212.7 L587.7,2216.1 L587.9,2218.4 L579.3,2218.5 L567.0,2218.6 L552.5,2218.8 L537.8,2219.1 L524.6,2219.4 L514.6,2219.8 L507.8,2220.3 L502.8,2220.7 L499.2,2221.2 L496.8,2221.9 L495.2,2222.9 L494.1,2224.2 L493.0,2226.1 L492.2,2228.6 L492.2,2231.3 L493.6,2234.1 L497.0,2236.7 L502.9,2238.9 L512.9,2240.8 L527.0,2242.6 L543.0,2244.2 L558.9,2245.6 L572.6,2246.8 L582.1,2247.7 L582.2,2251.0 L582.5,2255.9 L582.8,2261.6 L583.1,2267.3 L583.3,2272.2 L583.5,2275.5 L576.1,2274.4 L565.8,2272.7 L553.6,2270.8 L540.5,2268.8 L527.1,2266.9 L514.6,2265.3 L502.6,2263.9 L490.5,2262.5 L478.2,2261.2 L465.9,2260.2 L453.6,2259.6 L441.3,2259.4 L428.7,2259.8 L415.7,2260.6 L402.6,2261.9 L390.0,2263.3 L378.3,2265.0 L368.0,2266.7 L358.8,2268.8 L350.4,2271.4 L342.9,2274.1 L336.4,2276.7 L331.0,2279.0 L326.9,2280.5 L325.7,2278.3 L323.9,2275.1 L321.8,2271.4 L319.7,2267.7 L317.9,2264.5 L316.7,2262.3 L321.2,2260.8 L327.6,2258.5 L335.1,2255.9 L342.9,2253.1 L350.2,2250.3 L356.2,2247.7 L361.4,2245.1 L366.3,2242.5 L370.7,2239.8 L374.4,2237.3 L377.0,2235.0 L378.2,2233.0 L378.3,2231.5 L377.3,2230.4 L375.2,2229.5 L372.0,2228.7 L367.7,2227.8 L362.1,2226.6 L354.1,2224.9 L343.5,2223.0 L331.8,2220.9 L320.2,2218.9 L310.3,2217.2 L303.5,2216.0 L303.5,2213.8 L303.5,2210.6 L303.5,2206.9 L303.5,2203.2 L303.5,2200.0 L303.5,2197.8 Z" fill="#f39292" stroke="#e24d4d" stroke-width="1.4"/>
<path d="M303.5,2197.8 L313.7,2197.5 L328.0,2197.1 L344.9,2196.7 L363.0,2196.2 L380.9,2195.8 L397.3,2195.5 L412.2,2195.3 L426.6,2195.2 L440.8,2195.1 L455.2,2195.1 L469.9,2195.2 L485.3,2195.5 L502.5,2195.9 L521.8,2196.6 L541.4,2197.4 L559.7,2198.2 L575.3,2198.8 L586.5,2199.3 L586.6,2201.6 L586.9,2204.9 L587.2,2208.8 L587.5,2212.7 L587.7,2216.1 L587.9,2218.4 L579.3,2218.5 L567.0,2218.6 L552.5,2218.8 L537.8,2219.1 L524.6,2219.4 L514.6,2219.8 L507.8,2220.3 L502.8,2220.7 L499.2,2221.2 L496.8,2221.9 L495.2,2222.9 L494.1,2224.2 L493.0,2226.1 L492.2,2228.6 L492.2,2231.3 L493.6,2234.1 L497.0,2236.7 L502.9,2238.9 L512.9,2240.8 L527.0,2242.6 L543.0,2244.2 L558.9,2245.6 L572.6,2246.8 L582.1,2247.7 L582.2,2251.0 L582.5,2255.9 L582.8,2261.6 L583.1,2267.3 L583.3,2272.2 L583.5,2275.5 L576.1,2274.4 L565.8,2272.7 L553.6,2270.8 L540.5,2268.8 L527.1,2266.9 L514.6,2265.3 L502.6,2263.9 L490.5,2262.5 L478.2,2261.2 L465.9,2260.2 L453.6,2259.6 L441.3,2259.4 L428.7,2259.8 L415.7,2260.6 L402.6,2261.9 L390.0,2263.3 L378.3,2265.0 L368.0,2266.7 L358.8,2268.8 L350.4,2271.4 L342.9,2274.1 L336.4,2276.7 L331.0,2279.0 L326.9,2280.5 L325.7,2278.3 L323.9,2275.1 L321.8,2271.4 L319.7,2267.7 L317.9,2264.5 L316.7,2262.3 L321.2,2260.8 L327.6,2258.5 L335.1,2255.9 L342.9,2253.1 L350.2,2250.3 L356.2,2247.7 L361.4,2245.1 L366.3,2242.5 L370.7,2239.8 L374.4,2237.3 L377.0,2235.0 L378.2,2233.0 L378.3,2231.5 L377.3,2230.4 L375.2,2229.5 L372.0,2228.7 L367.7,2227.8 L362.1,2226.6 L354.1,2224.9 L343.5,2223.0 L331.8,2220.9 L320.2,2218.9 L310.3,2217.2 L303.5,2216.0 L303.5,2213.8 L303.5,2210.6 L303.5,2206.9 L303.5,2203.2 L303.5,2200.0 L303.5,2197.8 Z" fill="url(#cmstripe)"/>
<ellipse cx="442.8" cy="2228.6" rx="30.0" ry="16.0" fill="#e86a6a" fill-opacity="0.55"/>
<path d="M479.4,2159.1 L486.8,2161.3 L497.4,2164.5 L509.8,2168.2 L522.6,2171.8 L534.5,2174.5 L543.9,2175.8 L550.5,2175.6 L555.2,2174.1 L559.0,2171.9 L562.6,2169.3 L567.1,2166.6 L573.3,2164.1 L581.3,2161.7 L590.6,2158.9 L600.7,2156.1 L611.3,2153.5 L621.8,2151.2 L631.9,2149.4 L642.6,2148.2 L654.5,2147.3 L666.4,2146.7 L677.1,2146.6 L685.5,2147.0 L690.6,2148.0 L690.8,2149.9 L686.9,2152.6 L680.7,2155.9 L674.0,2159.4 L668.9,2162.7 L667.1,2165.6 L668.8,2168.1 L672.6,2170.6 L677.9,2172.9 L684.0,2175.0 L690.4,2176.7 L696.4,2177.9 L702.7,2178.5 L709.9,2178.5 L717.3,2178.1 L724.3,2177.5 L730.3,2177.0 L734.5,2176.7 L735.4,2179.3 L736.7,2183.0 L738.2,2187.3 L739.7,2191.6 L741.0,2195.3 L741.9,2197.8 L733.2,2197.1 L721.2,2196.1 L707.1,2194.9 L691.6,2193.7 L676.0,2192.9 L661.2,2192.6 L646.5,2192.9 L630.8,2193.8 L615.0,2195.0 L599.6,2196.2 L585.5,2197.3 L573.3,2197.8 L563.5,2198.1 L555.7,2198.2 L549.2,2198.1 L543.1,2197.7 L536.7,2196.9 L529.3,2195.5 L520.2,2193.2 L509.9,2189.9 L499.4,2186.2 L489.5,2182.6 L481.0,2179.5 L475.0,2177.3 L475.5,2175.1 L476.3,2171.9 L477.2,2168.2 L478.1,2164.5 L478.9,2161.3 L479.4,2159.1 Z" fill="#f39292" stroke="#e24d4d" stroke-width="1.4"/>
<path d="M479.4,2159.1 L486.8,2161.3 L497.4,2164.5 L509.8,2168.2 L522.6,2171.8 L534.5,2174.5 L543.9,2175.8 L550.5,2175.6 L555.2,2174.1 L559.0,2171.9 L562.6,2169.3 L567.1,2166.6 L573.3,2164.1 L581.3,2161.7 L590.6,2158.9 L600.7,2156.1 L611.3,2153.5 L621.8,2151.2 L631.9,2149.4 L642.6,2148.2 L654.5,2147.3 L666.4,2146.7 L677.1,2146.6 L685.5,2147.0 L690.6,2148.0 L690.8,2149.9 L686.9,2152.6 L680.7,2155.9 L674.0,2159.4 L668.9,2162.7 L667.1,2165.6 L668.8,2168.1 L672.6,2170.6 L677.9,2172.9 L684.0,2175.0 L690.4,2176.7 L696.4,2177.9 L702.7,2178.5 L709.9,2178.5 L717.3,2178.1 L724.3,2177.5 L730.3,2177.0 L734.5,2176.7 L735.4,2179.3 L736.7,2183.0 L738.2,2187.3 L739.7,2191.6 L741.0,2195.3 L741.9,2197.8 L733.2,2197.1 L721.2,2196.1 L707.1,2194.9 L691.6,2193.7 L676.0,2192.9 L661.2,2192.6 L646.5,2192.9 L630.8,2193.8 L615.0,2195.0 L599.6,2196.2 L585.5,2197.3 L573.3,2197.8 L563.5,2198.1 L555.7,2198.2 L549.2,2198.1 L543.1,2197.7 L536.7,2196.9 L529.3,2195.5 L520.2,2193.2 L509.9,2189.9 L499.4,2186.2 L489.5,2182.6 L481.0,2179.5 L475.0,2177.3 L475.5,2175.1 L476.3,2171.9 L477.2,2168.2 L478.1,2164.5 L478.9,2161.3 L479.4,2159.1 Z" fill="url(#cmstripe)"/>
<ellipse cx="602.6" cy="2161.2" rx="30.0" ry="13.0" fill="#e86a6a" fill-opacity="0.55"/>
<path d="M494.1,2219.8 L502.9,2219.9 L515.4,2220.1 L530.0,2220.3 L545.5,2220.3 L560.3,2219.7 L573.3,2218.4 L583.7,2216.0 L592.6,2212.7 L600.9,2208.8 L609.6,2204.9 L619.7,2201.3 L631.9,2198.4 L648.0,2196.2 L667.5,2194.3 L688.4,2192.8 L708.4,2191.5 L725.4,2190.4 L737.5,2189.6 L737.8,2191.0 L738.3,2193.1 L738.9,2195.5 L739.5,2197.9 L740.1,2199.9 L740.4,2201.3 L733.8,2202.6 L724.3,2204.4 L713.2,2206.5 L702.0,2208.7 L692.0,2211.0 L684.7,2213.1 L680.0,2215.1 L676.9,2217.1 L675.1,2219.1 L674.2,2221.1 L674.1,2223.0 L674.4,2224.8 L675.1,2226.4 L676.3,2228.0 L678.2,2229.4 L681.1,2230.8 L685.1,2232.2 L690.6,2233.6 L698.6,2235.2 L709.1,2236.9 L720.9,2238.6 L732.4,2240.1 L742.3,2241.4 L749.2,2242.4 L749.4,2244.8 L749.6,2248.3 L749.9,2252.4 L750.2,2256.4 L750.5,2259.9 L750.7,2262.3 L744.5,2261.5 L736.1,2260.2 L726.1,2258.8 L714.9,2257.2 L702.9,2255.6 L690.6,2254.1 L676.8,2252.6 L661.1,2251.0 L644.6,2249.3 L628.6,2247.7 L614.2,2246.4 L602.6,2245.3 L594.8,2244.8 L590.2,2244.8 L587.2,2245.0 L584.3,2245.1 L580.2,2244.9 L573.3,2244.2 L562.4,2242.7 L548.6,2240.8 L533.5,2238.5 L518.7,2236.1 L506.0,2233.7 L497.0,2231.6 L492.2,2229.4 L490.5,2227.1 L490.8,2224.9 L492.1,2222.8 L493.5,2221.1 L494.1,2219.8 Z" fill="#f39292" stroke="#e24d4d" stroke-width="1.4"/>
<path d="M494.1,2219.8 L502.9,2219.9 L515.4,2220.1 L530.0,2220.3 L545.5,2220.3 L560.3,2219.7 L573.3,2218.4 L583.7,2216.0 L592.6,2212.7 L600.9,2208.8 L609.6,2204.9 L619.7,2201.3 L631.9,2198.4 L648.0,2196.2 L667.5,2194.3 L688.4,2192.8 L708.4,2191.5 L725.4,2190.4 L737.5,2189.6 L737.8,2191.0 L738.3,2193.1 L738.9,2195.5 L739.5,2197.9 L740.1,2199.9 L740.4,2201.3 L733.8,2202.6 L724.3,2204.4 L713.2,2206.5 L702.0,2208.7 L692.0,2211.0 L684.7,2213.1 L680.0,2215.1 L676.9,2217.1 L675.1,2219.1 L674.2,2221.1 L674.1,2223.0 L674.4,2224.8 L675.1,2226.4 L676.3,2228.0 L678.2,2229.4 L681.1,2230.8 L685.1,2232.2 L690.6,2233.6 L698.6,2235.2 L709.1,2236.9 L720.9,2238.6 L732.4,2240.1 L742.3,2241.4 L749.2,2242.4 L749.4,2244.8 L749.6,2248.3 L749.9,2252.4 L750.2,2256.4 L750.5,2259.9 L750.7,2262.3 L744.5,2261.5 L736.1,2260.2 L726.1,2258.8 L714.9,2257.2 L702.9,2255.6 L690.6,2254.1 L676.8,2252.6 L661.1,2251.0 L644.6,2249.3 L628.6,2247.7 L614.2,2246.4 L602.6,2245.3 L594.8,2244.8 L590.2,2244.8 L587.2,2245.0 L584.3,2245.1 L580.2,2244.9 L573.3,2244.2 L562.4,2242.7 L548.6,2240.8 L533.5,2238.5 L518.7,2236.1 L506.0,2233.7 L497.0,2231.6 L492.2,2229.4 L490.5,2227.1 L490.8,2224.9 L492.1,2222.8 L493.5,2221.1 L494.1,2219.8 Z" fill="url(#cmstripe)"/>
<ellipse cx="614.3" cy="2215.4" rx="28.0" ry="16.0" fill="#e86a6a" fill-opacity="0.55"/>
<path d="M307.9,2104.0 L308.7,2102.9 L309.6,2101.4 L310.8,2099.6 L312.5,2097.8 L314.9,2096.0 L318.1,2094.6 L322.7,2093.5 L328.4,2092.6 L334.9,2091.7 L341.5,2091.0 L347.8,2090.2 L353.3,2089.3 L357.9,2088.4 L361.9,2087.4 L365.6,2086.4 L369.2,2085.4 L372.8,2084.4 L376.8,2083.5 L381.0,2082.4 L385.2,2081.3 L389.6,2080.1 L394.0,2079.1 L398.6,2078.2 L403.2,2077.6 L407.9,2077.2 L412.7,2076.9 L417.6,2076.9 L422.6,2077.0 L427.6,2077.4 L432.5,2078.2 L437.4,2079.3 L442.5,2080.9 L447.5,2082.7 L452.5,2084.7 L457.3,2086.8 L461.8,2088.7 L466.0,2090.7 L469.9,2092.6 L473.5,2094.6 L477.2,2096.7 L481.1,2098.8 L485.3,2101.1 L490.2,2103.4 L495.9,2106.0 L501.8,2108.7 L507.2,2111.3 L511.7,2113.7 L514.6,2115.7 L515.6,2117.2 L515.1,2118.2 L513.6,2118.9 L511.7,2119.8 L509.9,2121.1 L508.7,2123.0 L508.8,2126.2 L509.8,2130.3 L510.8,2134.9 L511.3,2139.3 L510.4,2142.9 L507.3,2145.0 L501.7,2145.6 L494.1,2145.0 L485.2,2143.6 L475.4,2141.8 L465.5,2140.0 L456.0,2138.6 L446.6,2137.5 L436.9,2136.4 L427.1,2135.2 L417.1,2134.1 L407.2,2133.0 L397.3,2131.8 L387.2,2130.7 L376.7,2129.5 L366.1,2128.3 L356.0,2127.1 L346.7,2126.0 L338.7,2125.1 L331.8,2124.4 L325.7,2123.9 L320.5,2123.5 L316.1,2123.0 L312.4,2122.4 L309.3,2121.6 L307.2,2120.4 L306.0,2119.0 L305.6,2117.5 L305.6,2115.9 L305.8,2114.3 L305.8,2112.8 L305.8,2111.2 L306.2,2109.5 L306.6,2107.8 L307.1,2106.3 L307.6,2104.9 L307.9,2104.0 Z" fill="#ccb5aa" stroke="#8a6556" stroke-width="2.4" stroke-linejoin="round"/>
<path d="M508.7,2120.1 L510.9,2119.5 L513.7,2118.6 L517.2,2117.6 L521.0,2116.4 L525.1,2115.3 L529.3,2114.3 L533.6,2113.4 L538.4,2112.5 L543.4,2111.7 L548.5,2110.8 L553.6,2109.8 L558.6,2108.4 L563.5,2106.6 L568.4,2104.4 L573.3,2102.1 L578.1,2099.7 L583.0,2097.5 L587.9,2095.8 L592.8,2094.3 L597.6,2092.9 L602.4,2091.7 L607.3,2090.8 L612.2,2090.3 L617.2,2090.2 L622.4,2090.6 L627.7,2091.5 L633.0,2092.7 L638.4,2094.2 L643.9,2095.8 L649.5,2097.5 L655.2,2099.4 L661.1,2101.6 L667.1,2103.9 L673.1,2106.2 L679.0,2108.5 L684.7,2110.4 L690.5,2112.1 L696.5,2113.6 L702.4,2115.0 L707.9,2116.4 L712.9,2117.8 L717.0,2119.2 L720.1,2120.7 L722.4,2122.1 L724.2,2123.4 L725.5,2125.0 L726.4,2126.7 L727.2,2128.9 L728.4,2131.8 L729.9,2135.3 L731.2,2139.0 L731.3,2142.6 L729.8,2145.8 L725.7,2148.0 L718.9,2149.2 L709.8,2149.6 L698.9,2149.5 L686.8,2149.1 L674.1,2148.7 L661.2,2148.6 L647.6,2148.5 L632.7,2148.5 L617.1,2148.3 L601.5,2148.2 L586.7,2148.1 L573.3,2148.0 L560.8,2148.0 L548.7,2148.2 L537.3,2148.3 L527.1,2148.4 L518.4,2148.1 L511.7,2147.4 L507.4,2146.2 L505.5,2144.6 L505.0,2142.8 L505.5,2140.7 L506.2,2138.5 L506.4,2136.2 L506.4,2133.7 L506.7,2130.6 L507.2,2127.5 L507.8,2124.5 L508.4,2121.9 L508.7,2120.1 Z" fill="#ccb5aa" stroke="#8a6556" stroke-width="2.4" stroke-linejoin="round"/>
<ellipse cx="419.3" cy="2099.6" rx="23.5" ry="11" fill="#b39588" stroke="#9c7b6e" stroke-width="1.2"/>
<ellipse cx="616.7" cy="2112.8" rx="23.5" ry="10.5" fill="#b39588" stroke="#9c7b6e" stroke-width="1.2"/>
<circle cx="758.0" cy="2245.3" r="4" fill="#4a78c8"/>
<text x="530.4" y="2392.0" font-size="46" text-anchor="middle" fill="#111" textLength="643" lengthAdjust="spacingAndGlyphs" >Physiological <tspan font-weight="bold">ECM</tspan> composition</text>
<text x="536.0" y="2443.4" font-size="46" text-anchor="middle" fill="#111" textLength="501" lengthAdjust="spacingAndGlyphs" >and <tspan font-weight="bold">angiocrine</tspan> signaling</text>
<text x="1254.0" y="1956.9" font-size="43" text-anchor="middle" font-weight="bold" >RNF20 LOF</text>
<path d="M1007.1,2314.9 L1009.5,2314.0 L1011.6,2312.7 L1013.7,2311.2 L1015.7,2309.3 L1017.6,2307.3M1017.6,2307.3 L1019.4,2305.2 L1021.3,2303.1 L1023.2,2301.1 L1025.2,2299.3 L1027.4,2297.8M1053.5,2296.8 L1056.1,2296.7 L1058.6,2296.2 L1060.9,2295.3 L1063.1,2294.1 L1065.3,2292.6M1065.3,2292.6 L1067.3,2290.8 L1069.3,2288.9 L1071.3,2286.9 L1073.3,2284.9 L1075.3,2283.0M1075.3,2283.0 L1077.4,2281.4 L1079.6,2280.0 L1081.9,2279.0 L1084.4,2278.4 L1086.9,2278.1M1113.2,2279.5 L1115.5,2278.4 L1117.7,2277.1 L1119.9,2275.5 L1122.1,2273.7 L1124.2,2271.9M1124.2,2271.9 L1126.4,2270.2 L1128.7,2268.6 L1131.0,2267.2 L1133.3,2266.2 L1135.8,2265.5M1161.9,2270.4 L1164.4,2270.3 L1166.8,2269.8 L1169.2,2268.9 L1171.5,2267.8 L1173.9,2266.4M1173.9,2266.4 L1176.3,2264.9 L1178.6,2263.4 L1181.0,2261.9 L1183.4,2260.6 L1185.9,2259.6M1211.2,2265.6 L1213.6,2266.4 L1216.1,2266.9 L1218.6,2267.0 L1221.1,2266.8 L1223.6,2266.2M1223.6,2266.2 L1226.1,2265.3 L1228.6,2264.2 L1231.1,2263.0 L1233.7,2261.8 L1236.2,2260.6M1236.2,2260.6 L1238.7,2259.6 L1241.2,2258.9 L1243.8,2258.5 L1246.3,2258.5 L1248.7,2258.9M1273.4,2268.5 L1275.9,2268.3 L1278.4,2267.7 L1281.0,2266.9 L1283.5,2265.9 L1286.1,2264.7M1286.1,2264.7 L1288.7,2263.6 L1291.2,2262.5 L1293.8,2261.6 L1296.3,2261.0 L1298.8,2260.8M995.2,2318.9 L997.3,2317.3 L999.3,2315.4 L1001.1,2313.3 L1003.0,2311.2 L1004.9,2309.1M1004.9,2309.1 L1006.8,2307.2 L1008.8,2305.4 L1010.9,2304.0 L1013.2,2302.9 L1015.6,2302.1M1042.1,2301.8 L1044.4,2300.8 L1046.5,2299.4 L1048.6,2297.8 L1050.6,2296.0 L1052.6,2294.0M1052.6,2294.0 L1054.6,2292.0 L1056.5,2290.0 L1058.6,2288.2 L1060.7,2286.6 L1062.9,2285.3M1089.2,2285.6 L1091.7,2285.4 L1094.2,2284.8 L1096.5,2283.9 L1098.7,2282.6 L1100.8,2281.1M1100.8,2281.1 L1102.9,2279.4 L1105.0,2277.5 L1107.1,2275.6 L1109.2,2273.8 L1111.4,2272.1M1149.6,2272.1 L1151.9,2271.0 L1154.3,2269.7 L1156.6,2268.2 L1158.9,2266.6 L1161.2,2265.0M1161.2,2265.0 L1163.5,2263.5 L1165.9,2262.2 L1168.3,2261.1 L1170.7,2260.4 L1173.2,2260.1M1198.8,2267.2 L1201.3,2267.2 L1203.7,2266.7 L1206.2,2266.0 L1208.7,2265.0 L1211.1,2263.8M1211.1,2263.8 L1213.6,2262.4 L1216.1,2261.2 L1218.6,2260.0 L1221.2,2259.0 L1223.7,2258.4M1248.5,2266.7 L1251.0,2267.4 L1253.5,2267.8 L1256.0,2267.8 L1258.5,2267.5 L1261.0,2266.8M1261.0,2266.8 L1263.5,2265.9 L1266.1,2264.7 L1268.6,2263.5 L1271.2,2262.4 L1273.7,2261.3M1273.7,2261.3 L1276.3,2260.5 L1278.8,2260.0 L1281.3,2259.8 L1283.8,2260.0 L1286.3,2260.6M1310.8,2270.4 L1313.3,2270.1 L1315.9,2269.4 L1318.4,2268.5 L1321.0,2267.4 L1323.6,2266.3M1018.3,2309.2 L1020.9,2309.0 L1023.4,2308.6 L1025.8,2307.8 L1028.0,2306.6 L1030.1,2305.2M1030.1,2305.2 L1032.1,2303.4 L1034.0,2301.5 L1036.0,2299.4 L1037.9,2297.3 L1039.8,2295.4M1039.8,2295.4 L1041.8,2293.6 L1044.0,2292.0 L1046.2,2290.8 L1048.6,2289.9 L1051.1,2289.4M1077.5,2289.9 L1079.8,2288.8 L1082.0,2287.4 L1084.0,2285.8 L1086.1,2283.9 L1088.1,2281.9M1088.1,2281.9 L1090.1,2280.0 L1092.2,2278.1 L1094.3,2276.5 L1096.5,2275.1 L1098.9,2274.1M1125.2,2276.5 L1127.7,2276.3 L1130.1,2275.8 L1132.5,2275.0 L1134.8,2273.8 L1137.0,2272.3M1137.0,2272.3 L1139.3,2270.7 L1141.5,2269.0 L1143.8,2267.3 L1146.0,2265.7 L1148.4,2264.4M1186.5,2267.5 L1188.9,2266.5 L1191.3,2265.3 L1193.7,2263.9 L1196.1,2262.5 L1198.6,2261.1M1198.6,2261.1 L1201.0,2259.9 L1203.5,2258.9 L1206.1,2258.2 L1208.6,2257.9 L1211.1,2258.0M1236.0,2267.3 L1238.5,2267.2 L1241.0,2266.8 L1243.5,2266.0 L1246.1,2265.0 L1248.6,2263.9M1248.6,2263.9 L1251.1,2262.6 L1253.7,2261.4 L1256.2,2260.4 L1258.7,2259.6 L1261.3,2259.1M1285.9,2268.4 L1288.4,2269.1 L1290.8,2269.4 L1293.3,2269.3 L1295.9,2268.9 L1298.4,2268.1M1298.4,2268.1 L1301.0,2267.2 L1303.5,2266.1 L1306.1,2264.9 L1308.7,2263.8 L1311.2,2262.9" fill="none" stroke="#ffffff" stroke-width="5.0" stroke-linecap="round" stroke-opacity="0.9"/>
<path d="M1007.1,2314.9 L1009.5,2314.0 L1011.6,2312.7 L1013.7,2311.2 L1015.7,2309.3 L1017.6,2307.3M1017.6,2307.3 L1019.4,2305.2 L1021.3,2303.1 L1023.2,2301.1 L1025.2,2299.3 L1027.4,2297.8M1053.5,2296.8 L1056.1,2296.7 L1058.6,2296.2 L1060.9,2295.3 L1063.1,2294.1 L1065.3,2292.6M1065.3,2292.6 L1067.3,2290.8 L1069.3,2288.9 L1071.3,2286.9 L1073.3,2284.9 L1075.3,2283.0M1075.3,2283.0 L1077.4,2281.4 L1079.6,2280.0 L1081.9,2279.0 L1084.4,2278.4 L1086.9,2278.1M1113.2,2279.5 L1115.5,2278.4 L1117.7,2277.1 L1119.9,2275.5 L1122.1,2273.7 L1124.2,2271.9M1124.2,2271.9 L1126.4,2270.2 L1128.7,2268.6 L1131.0,2267.2 L1133.3,2266.2 L1135.8,2265.5M1161.9,2270.4 L1164.4,2270.3 L1166.8,2269.8 L1169.2,2268.9 L1171.5,2267.8 L1173.9,2266.4M1173.9,2266.4 L1176.3,2264.9 L1178.6,2263.4 L1181.0,2261.9 L1183.4,2260.6 L1185.9,2259.6M1211.2,2265.6 L1213.6,2266.4 L1216.1,2266.9 L1218.6,2267.0 L1221.1,2266.8 L1223.6,2266.2M1223.6,2266.2 L1226.1,2265.3 L1228.6,2264.2 L1231.1,2263.0 L1233.7,2261.8 L1236.2,2260.6M1236.2,2260.6 L1238.7,2259.6 L1241.2,2258.9 L1243.8,2258.5 L1246.3,2258.5 L1248.7,2258.9M1273.4,2268.5 L1275.9,2268.3 L1278.4,2267.7 L1281.0,2266.9 L1283.5,2265.9 L1286.1,2264.7M1286.1,2264.7 L1288.7,2263.6 L1291.2,2262.5 L1293.8,2261.6 L1296.3,2261.0 L1298.8,2260.8" fill="none" stroke="#b393dc" stroke-width="3.9" stroke-linecap="round"/>
<path d="M995.2,2318.9 L997.3,2317.3 L999.3,2315.4 L1001.1,2313.3 L1003.0,2311.2 L1004.9,2309.1M1004.9,2309.1 L1006.8,2307.2 L1008.8,2305.4 L1010.9,2304.0 L1013.2,2302.9 L1015.6,2302.1M1042.1,2301.8 L1044.4,2300.8 L1046.5,2299.4 L1048.6,2297.8 L1050.6,2296.0 L1052.6,2294.0M1052.6,2294.0 L1054.6,2292.0 L1056.5,2290.0 L1058.6,2288.2 L1060.7,2286.6 L1062.9,2285.3M1089.2,2285.6 L1091.7,2285.4 L1094.2,2284.8 L1096.5,2283.9 L1098.7,2282.6 L1100.8,2281.1M1100.8,2281.1 L1102.9,2279.4 L1105.0,2277.5 L1107.1,2275.6 L1109.2,2273.8 L1111.4,2272.1M1149.6,2272.1 L1151.9,2271.0 L1154.3,2269.7 L1156.6,2268.2 L1158.9,2266.6 L1161.2,2265.0M1161.2,2265.0 L1163.5,2263.5 L1165.9,2262.2 L1168.3,2261.1 L1170.7,2260.4 L1173.2,2260.1M1198.8,2267.2 L1201.3,2267.2 L1203.7,2266.7 L1206.2,2266.0 L1208.7,2265.0 L1211.1,2263.8M1211.1,2263.8 L1213.6,2262.4 L1216.1,2261.2 L1218.6,2260.0 L1221.2,2259.0 L1223.7,2258.4M1248.5,2266.7 L1251.0,2267.4 L1253.5,2267.8 L1256.0,2267.8 L1258.5,2267.5 L1261.0,2266.8M1261.0,2266.8 L1263.5,2265.9 L1266.1,2264.7 L1268.6,2263.5 L1271.2,2262.4 L1273.7,2261.3M1273.7,2261.3 L1276.3,2260.5 L1278.8,2260.0 L1281.3,2259.8 L1283.8,2260.0 L1286.3,2260.6M1310.8,2270.4 L1313.3,2270.1 L1315.9,2269.4 L1318.4,2268.5 L1321.0,2267.4 L1323.6,2266.3" fill="none" stroke="#d9b8ee" stroke-width="3.9" stroke-linecap="round"/>
<path d="M1018.3,2309.2 L1020.9,2309.0 L1023.4,2308.6 L1025.8,2307.8 L1028.0,2306.6 L1030.1,2305.2M1030.1,2305.2 L1032.1,2303.4 L1034.0,2301.5 L1036.0,2299.4 L1037.9,2297.3 L1039.8,2295.4M1039.8,2295.4 L1041.8,2293.6 L1044.0,2292.0 L1046.2,2290.8 L1048.6,2289.9 L1051.1,2289.4M1077.5,2289.9 L1079.8,2288.8 L1082.0,2287.4 L1084.0,2285.8 L1086.1,2283.9 L1088.1,2281.9M1088.1,2281.9 L1090.1,2280.0 L1092.2,2278.1 L1094.3,2276.5 L1096.5,2275.1 L1098.9,2274.1M1125.2,2276.5 L1127.7,2276.3 L1130.1,2275.8 L1132.5,2275.0 L1134.8,2273.8 L1137.0,2272.3M1137.0,2272.3 L1139.3,2270.7 L1141.5,2269.0 L1143.8,2267.3 L1146.0,2265.7 L1148.4,2264.4M1186.5,2267.5 L1188.9,2266.5 L1191.3,2265.3 L1193.7,2263.9 L1196.1,2262.5 L1198.6,2261.1M1198.6,2261.1 L1201.0,2259.9 L1203.5,2258.9 L1206.1,2258.2 L1208.6,2257.9 L1211.1,2258.0M1236.0,2267.3 L1238.5,2267.2 L1241.0,2266.8 L1243.5,2266.0 L1246.1,2265.0 L1248.6,2263.9M1248.6,2263.9 L1251.1,2262.6 L1253.7,2261.4 L1256.2,2260.4 L1258.7,2259.6 L1261.3,2259.1M1285.9,2268.4 L1288.4,2269.1 L1290.8,2269.4 L1293.3,2269.3 L1295.9,2268.9 L1298.4,2268.1M1298.4,2268.1 L1301.0,2267.2 L1303.5,2266.1 L1306.1,2264.9 L1308.7,2263.8 L1311.2,2262.9" fill="none" stroke="#9c8ad8" stroke-width="3.9" stroke-linecap="round"/>
<path d="M993.8,2315.3 L996.6,2315.6 L999.4,2315.8 L1002.1,2315.8 L1004.7,2315.5 L1007.1,2314.9M1027.4,2297.8 L1029.6,2296.6 L1032.0,2295.8 L1034.5,2295.3 L1037.1,2295.2 L1039.8,2295.3M1039.8,2295.3 L1042.6,2295.6 L1045.4,2296.0 L1048.1,2296.4 L1050.9,2296.7 L1053.5,2296.8M1086.9,2278.1 L1089.6,2278.1 L1092.3,2278.4 L1095.0,2278.9 L1097.8,2279.5 L1100.5,2280.0M1100.5,2280.0 L1103.2,2280.5 L1105.9,2280.7 L1108.4,2280.6 L1110.9,2280.2 L1113.2,2279.5M1135.8,2265.5 L1138.3,2265.2 L1140.9,2265.3 L1143.5,2265.7 L1146.1,2266.4 L1148.8,2267.2M1148.8,2267.2 L1151.5,2268.1 L1154.1,2269.0 L1156.8,2269.7 L1159.3,2270.2 L1161.9,2270.4M1185.9,2259.6 L1188.3,2258.9 L1190.9,2258.6 L1193.4,2258.7 L1196.0,2259.1 L1198.5,2259.9M1198.5,2259.9 L1201.1,2260.9 L1203.6,2262.1 L1206.2,2263.4 L1208.7,2264.6 L1211.2,2265.6M1248.7,2258.9 L1251.2,2259.6 L1253.7,2260.6 L1256.2,2261.8 L1258.6,2263.1 L1261.1,2264.5M1261.1,2264.5 L1263.5,2265.8 L1266.0,2266.9 L1268.5,2267.8 L1270.9,2268.3 L1273.4,2268.5M1298.8,2260.8 L1301.3,2260.9 L1303.8,2261.4 L1306.3,2262.2 L1308.7,2263.3 L1311.1,2264.6M1311.1,2264.6 L1313.6,2266.1 L1316.0,2267.5 L1318.4,2268.8 L1320.8,2270.0 L1323.3,2270.8M1015.6,2302.1 L1018.1,2301.7 L1020.7,2301.6 L1023.4,2301.7 L1026.2,2302.0 L1029.0,2302.3M1029.0,2302.3 L1031.8,2302.6 L1034.5,2302.8 L1037.2,2302.7 L1039.7,2302.4 L1042.1,2301.8M1062.9,2285.3 L1065.2,2284.4 L1067.7,2283.8 L1070.2,2283.6 L1072.9,2283.6 L1075.6,2283.9M1075.6,2283.9 L1078.4,2284.4 L1081.1,2284.9 L1083.9,2285.3 L1086.6,2285.6 L1089.2,2285.6M1111.4,2272.1 L1113.7,2270.8 L1116.0,2269.7 L1118.5,2269.1 L1121.0,2268.8 L1123.6,2268.9M1123.6,2268.9 L1126.2,2269.2 L1128.9,2269.9 L1131.6,2270.6 L1134.3,2271.4 L1137.0,2272.2M1137.0,2272.2 L1139.6,2272.7 L1142.2,2273.1 L1144.7,2273.1 L1147.2,2272.8 L1149.6,2272.1M1173.2,2260.1 L1175.8,2260.2 L1178.4,2260.6 L1181.0,2261.3 L1183.6,2262.3 L1186.2,2263.4M1186.2,2263.4 L1188.7,2264.5 L1191.3,2265.5 L1193.8,2266.4 L1196.3,2266.9 L1198.8,2267.2M1223.7,2258.4 L1226.2,2258.0 L1228.7,2258.1 L1231.2,2258.5 L1233.7,2259.3 L1236.2,2260.4M1236.2,2260.4 L1238.7,2261.7 L1241.1,2263.0 L1243.6,2264.4 L1246.1,2265.6 L1248.5,2266.7M1286.3,2260.6 L1288.8,2261.5 L1291.2,2262.6 L1293.6,2264.0 L1296.1,2265.4 L1298.5,2266.8M1298.5,2266.8 L1300.9,2268.1 L1303.4,2269.2 L1305.8,2269.9 L1308.3,2270.4 L1310.8,2270.4M992.4,2311.6 L994.6,2310.2 L996.9,2309.2 L999.3,2308.6 L1001.8,2308.2 L1004.5,2308.2M1004.5,2308.2 L1007.2,2308.3 L1010.0,2308.6 L1012.8,2308.9 L1015.6,2309.1 L1018.3,2309.2M1051.1,2289.4 L1053.6,2289.3 L1056.3,2289.4 L1059.1,2289.7 L1061.8,2290.1 L1064.6,2290.6M1064.6,2290.6 L1067.4,2290.9 L1070.0,2291.1 L1072.6,2291.0 L1075.1,2290.7 L1077.5,2289.9M1098.9,2274.1 L1101.3,2273.4 L1103.8,2273.1 L1106.5,2273.1 L1109.1,2273.5 L1111.9,2274.0M1111.9,2274.0 L1114.6,2274.7 L1117.3,2275.4 L1120.0,2276.0 L1122.6,2276.4 L1125.2,2276.5M1148.4,2264.4 L1150.8,2263.3 L1153.2,2262.6 L1155.7,2262.3 L1158.3,2262.4 L1160.9,2262.8M1160.9,2262.8 L1163.5,2263.5 L1166.1,2264.4 L1168.8,2265.4 L1171.4,2266.4 L1174.0,2267.3M1174.0,2267.3 L1176.6,2268.0 L1179.1,2268.3 L1181.6,2268.4 L1184.0,2268.1 L1186.5,2267.5M1211.1,2258.0 L1213.6,2258.5 L1216.1,2259.3 L1218.6,2260.4 L1221.1,2261.6 L1223.6,2263.0M1223.6,2263.0 L1226.1,2264.3 L1228.6,2265.5 L1231.0,2266.4 L1233.5,2267.0 L1236.0,2267.3M1261.3,2259.1 L1263.8,2259.0 L1266.3,2259.3 L1268.8,2259.9 L1271.2,2260.9 L1273.7,2262.1M1273.7,2262.1 L1276.1,2263.5 L1278.6,2264.9 L1281.0,2266.2 L1283.4,2267.5 L1285.9,2268.4M1311.2,2262.9 L1313.8,2262.2 L1316.3,2261.9 L1318.8,2261.9 L1321.3,2262.2 L1323.7,2263.0" fill="none" stroke="#ffffff" stroke-width="5.0" stroke-linecap="round" stroke-opacity="0.9"/>
<path d="M993.8,2315.3 L996.6,2315.6 L999.4,2315.8 L1002.1,2315.8 L1004.7,2315.5 L1007.1,2314.9M1027.4,2297.8 L1029.6,2296.6 L1032.0,2295.8 L1034.5,2295.3 L1037.1,2295.2 L1039.8,2295.3M1039.8,2295.3 L1042.6,2295.6 L1045.4,2296.0 L1048.1,2296.4 L1050.9,2296.7 L1053.5,2296.8M1086.9,2278.1 L1089.6,2278.1 L1092.3,2278.4 L1095.0,2278.9 L1097.8,2279.5 L1100.5,2280.0M1100.5,2280.0 L1103.2,2280.5 L1105.9,2280.7 L1108.4,2280.6 L1110.9,2280.2 L1113.2,2279.5M1135.8,2265.5 L1138.3,2265.2 L1140.9,2265.3 L1143.5,2265.7 L1146.1,2266.4 L1148.8,2267.2M1148.8,2267.2 L1151.5,2268.1 L1154.1,2269.0 L1156.8,2269.7 L1159.3,2270.2 L1161.9,2270.4M1185.9,2259.6 L1188.3,2258.9 L1190.9,2258.6 L1193.4,2258.7 L1196.0,2259.1 L1198.5,2259.9M1198.5,2259.9 L1201.1,2260.9 L1203.6,2262.1 L1206.2,2263.4 L1208.7,2264.6 L1211.2,2265.6M1248.7,2258.9 L1251.2,2259.6 L1253.7,2260.6 L1256.2,2261.8 L1258.6,2263.1 L1261.1,2264.5M1261.1,2264.5 L1263.5,2265.8 L1266.0,2266.9 L1268.5,2267.8 L1270.9,2268.3 L1273.4,2268.5M1298.8,2260.8 L1301.3,2260.9 L1303.8,2261.4 L1306.3,2262.2 L1308.7,2263.3 L1311.1,2264.6M1311.1,2264.6 L1313.6,2266.1 L1316.0,2267.5 L1318.4,2268.8 L1320.8,2270.0 L1323.3,2270.8" fill="none" stroke="#b393dc" stroke-width="3.9" stroke-linecap="round"/>
<path d="M1015.6,2302.1 L1018.1,2301.7 L1020.7,2301.6 L1023.4,2301.7 L1026.2,2302.0 L1029.0,2302.3M1029.0,2302.3 L1031.8,2302.6 L1034.5,2302.8 L1037.2,2302.7 L1039.7,2302.4 L1042.1,2301.8M1062.9,2285.3 L1065.2,2284.4 L1067.7,2283.8 L1070.2,2283.6 L1072.9,2283.6 L1075.6,2283.9M1075.6,2283.9 L1078.4,2284.4 L1081.1,2284.9 L1083.9,2285.3 L1086.6,2285.6 L1089.2,2285.6M1111.4,2272.1 L1113.7,2270.8 L1116.0,2269.7 L1118.5,2269.1 L1121.0,2268.8 L1123.6,2268.9M1123.6,2268.9 L1126.2,2269.2 L1128.9,2269.9 L1131.6,2270.6 L1134.3,2271.4 L1137.0,2272.2M1137.0,2272.2 L1139.6,2272.7 L1142.2,2273.1 L1144.7,2273.1 L1147.2,2272.8 L1149.6,2272.1M1173.2,2260.1 L1175.8,2260.2 L1178.4,2260.6 L1181.0,2261.3 L1183.6,2262.3 L1186.2,2263.4M1186.2,2263.4 L1188.7,2264.5 L1191.3,2265.5 L1193.8,2266.4 L1196.3,2266.9 L1198.8,2267.2M1223.7,2258.4 L1226.2,2258.0 L1228.7,2258.1 L1231.2,2258.5 L1233.7,2259.3 L1236.2,2260.4M1236.2,2260.4 L1238.7,2261.7 L1241.1,2263.0 L1243.6,2264.4 L1246.1,2265.6 L1248.5,2266.7M1286.3,2260.6 L1288.8,2261.5 L1291.2,2262.6 L1293.6,2264.0 L1296.1,2265.4 L1298.5,2266.8M1298.5,2266.8 L1300.9,2268.1 L1303.4,2269.2 L1305.8,2269.9 L1308.3,2270.4 L1310.8,2270.4" fill="none" stroke="#d9b8ee" stroke-width="3.9" stroke-linecap="round"/>
<path d="M992.4,2311.6 L994.6,2310.2 L996.9,2309.2 L999.3,2308.6 L1001.8,2308.2 L1004.5,2308.2M1004.5,2308.2 L1007.2,2308.3 L1010.0,2308.6 L1012.8,2308.9 L1015.6,2309.1 L1018.3,2309.2M1051.1,2289.4 L1053.6,2289.3 L1056.3,2289.4 L1059.1,2289.7 L1061.8,2290.1 L1064.6,2290.6M1064.6,2290.6 L1067.4,2290.9 L1070.0,2291.1 L1072.6,2291.0 L1075.1,2290.7 L1077.5,2289.9M1098.9,2274.1 L1101.3,2273.4 L1103.8,2273.1 L1106.5,2273.1 L1109.1,2273.5 L1111.9,2274.0M1111.9,2274.0 L1114.6,2274.7 L1117.3,2275.4 L1120.0,2276.0 L1122.6,2276.4 L1125.2,2276.5M1148.4,2264.4 L1150.8,2263.3 L1153.2,2262.6 L1155.7,2262.3 L1158.3,2262.4 L1160.9,2262.8M1160.9,2262.8 L1163.5,2263.5 L1166.1,2264.4 L1168.8,2265.4 L1171.4,2266.4 L1174.0,2267.3M1174.0,2267.3 L1176.6,2268.0 L1179.1,2268.3 L1181.6,2268.4 L1184.0,2268.1 L1186.5,2267.5M1211.1,2258.0 L1213.6,2258.5 L1216.1,2259.3 L1218.6,2260.4 L1221.1,2261.6 L1223.6,2263.0M1223.6,2263.0 L1226.1,2264.3 L1228.6,2265.5 L1231.0,2266.4 L1233.5,2267.0 L1236.0,2267.3M1261.3,2259.1 L1263.8,2259.0 L1266.3,2259.3 L1268.8,2259.9 L1271.2,2260.9 L1273.7,2262.1M1273.7,2262.1 L1276.1,2263.5 L1278.6,2264.9 L1281.0,2266.2 L1283.4,2267.5 L1285.9,2268.4M1311.2,2262.9 L1313.8,2262.2 L1316.3,2261.9 L1318.8,2261.9 L1321.3,2262.2 L1323.7,2263.0" fill="none" stroke="#9c8ad8" stroke-width="3.9" stroke-linecap="round"/>
<path d="M1458.9,2293.8 L1461.4,2294.1 L1463.9,2294.1 L1466.5,2293.7 L1469.1,2293.0 L1471.7,2292.2M1471.7,2292.2 L1474.4,2291.3 L1477.0,2290.3 L1479.7,2289.5 L1482.3,2288.9 L1484.8,2288.5M1508.8,2299.1 L1511.2,2300.0 L1513.7,2300.6 L1516.2,2300.7 L1518.7,2300.5 L1521.3,2300.0M1521.3,2300.0 L1523.8,2299.2 L1526.4,2298.2 L1529.1,2297.1 L1531.7,2296.1 L1534.2,2295.2M1534.2,2295.2 L1536.8,2294.5 L1539.4,2294.1 L1541.9,2294.0 L1544.4,2294.3 L1546.8,2295.0M1446.6,2291.5 L1449.2,2291.0 L1451.8,2290.3 L1454.4,2289.4 L1457.1,2288.5 L1459.7,2287.6M1459.7,2287.6 L1462.4,2286.8 L1465.0,2286.3 L1467.5,2286.1 L1470.0,2286.2 L1472.5,2286.7M1496.2,2298.7 L1498.7,2298.9 L1501.2,2298.6 L1503.8,2298.0 L1506.4,2297.2 L1509.0,2296.2M1509.0,2296.2 L1511.7,2295.1 L1514.3,2294.1 L1516.9,2293.3 L1519.4,2292.7 L1522.0,2292.4M1546.1,2302.9 L1548.6,2303.6 L1551.0,2303.9 L1553.5,2303.9M1471.5,2294.2 L1473.8,2295.3 L1476.2,2296.1 L1478.7,2296.5 L1481.2,2296.6 L1483.8,2296.3M1483.8,2296.3 L1486.4,2295.7 L1489.0,2294.8 L1491.7,2293.9 L1494.3,2292.9 L1496.9,2292.0M1496.9,2292.0 L1499.5,2291.3 L1502.1,2290.8 L1504.6,2290.6 L1507.1,2290.8 L1509.5,2291.4M1533.6,2302.4 L1536.1,2302.3 L1538.7,2301.8 L1541.3,2301.1 L1543.8,2300.1 L1546.5,2299.0M1546.5,2299.0 L1549.1,2298.0 L1551.7,2297.0 L1554.2,2296.2" fill="none" stroke="#ffffff" stroke-width="5.0" stroke-linecap="round" stroke-opacity="0.9"/>
<path d="M1458.9,2293.8 L1461.4,2294.1 L1463.9,2294.1 L1466.5,2293.7 L1469.1,2293.0 L1471.7,2292.2M1471.7,2292.2 L1474.4,2291.3 L1477.0,2290.3 L1479.7,2289.5 L1482.3,2288.9 L1484.8,2288.5M1508.8,2299.1 L1511.2,2300.0 L1513.7,2300.6 L1516.2,2300.7 L1518.7,2300.5 L1521.3,2300.0M1521.3,2300.0 L1523.8,2299.2 L1526.4,2298.2 L1529.1,2297.1 L1531.7,2296.1 L1534.2,2295.2M1534.2,2295.2 L1536.8,2294.5 L1539.4,2294.1 L1541.9,2294.0 L1544.4,2294.3 L1546.8,2295.0" fill="none" stroke="#b393dc" stroke-width="3.9" stroke-linecap="round"/>
<path d="M1446.6,2291.5 L1449.2,2291.0 L1451.8,2290.3 L1454.4,2289.4 L1457.1,2288.5 L1459.7,2287.6M1459.7,2287.6 L1462.4,2286.8 L1465.0,2286.3 L1467.5,2286.1 L1470.0,2286.2 L1472.5,2286.7M1496.2,2298.7 L1498.7,2298.9 L1501.2,2298.6 L1503.8,2298.0 L1506.4,2297.2 L1509.0,2296.2M1509.0,2296.2 L1511.7,2295.1 L1514.3,2294.1 L1516.9,2293.3 L1519.4,2292.7 L1522.0,2292.4M1546.1,2302.9 L1548.6,2303.6 L1551.0,2303.9 L1553.5,2303.9" fill="none" stroke="#d9b8ee" stroke-width="3.9" stroke-linecap="round"/>
<path d="M1471.5,2294.2 L1473.8,2295.3 L1476.2,2296.1 L1478.7,2296.5 L1481.2,2296.6 L1483.8,2296.3M1483.8,2296.3 L1486.4,2295.7 L1489.0,2294.8 L1491.7,2293.9 L1494.3,2292.9 L1496.9,2292.0M1496.9,2292.0 L1499.5,2291.3 L1502.1,2290.8 L1504.6,2290.6 L1507.1,2290.8 L1509.5,2291.4M1533.6,2302.4 L1536.1,2302.3 L1538.7,2301.8 L1541.3,2301.1 L1543.8,2300.1 L1546.5,2299.0M1546.5,2299.0 L1549.1,2298.0 L1551.7,2297.0 L1554.2,2296.2" fill="none" stroke="#9c8ad8" stroke-width="3.9" stroke-linecap="round"/>
<path d="M1447.1,2287.6 L1449.4,2289.2 L1451.7,2290.7 L1454.1,2292.0 L1456.5,2293.1 L1458.9,2293.8M1484.8,2288.5 L1487.3,2288.5 L1489.8,2288.9 L1492.2,2289.6 L1494.6,2290.6 L1497.0,2291.9M1497.0,2291.9 L1499.3,2293.4 L1501.6,2295.0 L1504.0,2296.5 L1506.4,2297.9 L1508.8,2299.1M1546.8,2295.0 L1549.2,2296.0 L1551.6,2297.3 L1554.0,2298.8M1472.5,2286.7 L1474.9,2287.5 L1477.3,2288.7 L1479.6,2290.1 L1481.9,2291.6 L1484.2,2293.3M1484.2,2293.3 L1486.5,2294.8 L1488.9,2296.2 L1491.3,2297.4 L1493.7,2298.3 L1496.2,2298.7M1522.0,2292.4 L1524.5,2292.5 L1526.9,2292.9 L1529.4,2293.7 L1531.8,2294.8 L1534.2,2296.1M1534.2,2296.1 L1536.5,2297.6 L1538.9,2299.1 L1541.3,2300.6 L1543.7,2301.8 L1546.1,2302.9M1447.7,2283.7 L1450.2,2283.5 L1452.7,2283.8 L1455.2,2284.4 L1457.5,2285.3 L1459.9,2286.6M1459.9,2286.6 L1462.2,2288.0 L1464.5,2289.6 L1466.8,2291.3 L1469.1,2292.8 L1471.5,2294.2M1509.5,2291.4 L1511.9,2292.3 L1514.3,2293.5 L1516.7,2294.9 L1519.1,2296.4 L1521.4,2297.9M1521.4,2297.9 L1523.8,2299.3 L1526.2,2300.6 L1528.7,2301.5 L1531.1,2302.1 L1533.6,2302.4" fill="none" stroke="#ffffff" stroke-width="5.0" stroke-linecap="round" stroke-opacity="0.9"/>
<path d="M1447.1,2287.6 L1449.4,2289.2 L1451.7,2290.7 L1454.1,2292.0 L1456.5,2293.1 L1458.9,2293.8M1484.8,2288.5 L1487.3,2288.5 L1489.8,2288.9 L1492.2,2289.6 L1494.6,2290.6 L1497.0,2291.9M1497.0,2291.9 L1499.3,2293.4 L1501.6,2295.0 L1504.0,2296.5 L1506.4,2297.9 L1508.8,2299.1M1546.8,2295.0 L1549.2,2296.0 L1551.6,2297.3 L1554.0,2298.8" fill="none" stroke="#b393dc" stroke-width="3.9" stroke-linecap="round"/>
<path d="M1472.5,2286.7 L1474.9,2287.5 L1477.3,2288.7 L1479.6,2290.1 L1481.9,2291.6 L1484.2,2293.3M1484.2,2293.3 L1486.5,2294.8 L1488.9,2296.2 L1491.3,2297.4 L1493.7,2298.3 L1496.2,2298.7M1522.0,2292.4 L1524.5,2292.5 L1526.9,2292.9 L1529.4,2293.7 L1531.8,2294.8 L1534.2,2296.1M1534.2,2296.1 L1536.5,2297.6 L1538.9,2299.1 L1541.3,2300.6 L1543.7,2301.8 L1546.1,2302.9" fill="none" stroke="#d9b8ee" stroke-width="3.9" stroke-linecap="round"/>
<path d="M1447.7,2283.7 L1450.2,2283.5 L1452.7,2283.8 L1455.2,2284.4 L1457.5,2285.3 L1459.9,2286.6M1459.9,2286.6 L1462.2,2288.0 L1464.5,2289.6 L1466.8,2291.3 L1469.1,2292.8 L1471.5,2294.2M1509.5,2291.4 L1511.9,2292.3 L1514.3,2293.5 L1516.7,2294.9 L1519.1,2296.4 L1521.4,2297.9M1521.4,2297.9 L1523.8,2299.3 L1526.2,2300.6 L1528.7,2301.5 L1531.1,2302.1 L1533.6,2302.4" fill="none" stroke="#9c8ad8" stroke-width="3.9" stroke-linecap="round"/>
<path d="M1477.7,2210.9 L1480.0,2210.0 L1482.2,2208.7 L1484.2,2207.1 L1486.2,2205.2 L1488.0,2203.2M1488.0,2203.2 L1489.9,2201.0 L1491.8,2198.9 L1493.7,2197.0 L1495.7,2195.2 L1497.8,2193.7M1524.1,2194.0 L1526.6,2194.0 L1529.1,2193.8 L1531.5,2193.1 L1533.8,2192.2 L1536.1,2190.9M1536.1,2190.9 L1538.3,2189.4 L1540.5,2187.7 L1542.7,2185.9 L1544.9,2184.1 L1547.1,2182.5M1547.1,2182.5 L1549.4,2181.1 L1551.7,2180.0M1465.9,2215.1 L1467.9,2213.4 L1469.9,2211.5 L1471.7,2209.4 L1473.5,2207.3 L1475.4,2205.1M1475.4,2205.1 L1477.2,2203.2 L1479.2,2201.4 L1481.3,2199.9 L1483.6,2198.8 L1486.0,2198.0M1512.4,2198.0 L1514.7,2197.2 L1516.9,2196.0 L1519.1,2194.5 L1521.2,2192.9 L1523.4,2191.1M1523.4,2191.1 L1525.5,2189.2 L1527.7,2187.5 L1529.9,2185.8 L1532.2,2184.5 L1534.5,2183.4M1488.8,2205.0 L1491.4,2204.9 L1493.9,2204.4 L1496.2,2203.6 L1498.4,2202.5 L1500.5,2201.0M1500.5,2201.0 L1502.5,2199.3 L1504.5,2197.4 L1506.4,2195.4 L1508.4,2193.4 L1510.5,2191.5M1510.5,2191.5 L1512.6,2189.8 L1514.9,2188.4 L1517.3,2187.3 L1519.7,2186.7 L1522.2,2186.4M1548.6,2189.6 L1551.0,2188.8 L1553.3,2187.6" fill="none" stroke="#ffffff" stroke-width="5.0" stroke-linecap="round" stroke-opacity="0.9"/>
<path d="M1477.7,2210.9 L1480.0,2210.0 L1482.2,2208.7 L1484.2,2207.1 L1486.2,2205.2 L1488.0,2203.2M1488.0,2203.2 L1489.9,2201.0 L1491.8,2198.9 L1493.7,2197.0 L1495.7,2195.2 L1497.8,2193.7M1524.1,2194.0 L1526.6,2194.0 L1529.1,2193.8 L1531.5,2193.1 L1533.8,2192.2 L1536.1,2190.9M1536.1,2190.9 L1538.3,2189.4 L1540.5,2187.7 L1542.7,2185.9 L1544.9,2184.1 L1547.1,2182.5M1547.1,2182.5 L1549.4,2181.1 L1551.7,2180.0" fill="none" stroke="#b393dc" stroke-width="3.9" stroke-linecap="round"/>
<path d="M1465.9,2215.1 L1467.9,2213.4 L1469.9,2211.5 L1471.7,2209.4 L1473.5,2207.3 L1475.4,2205.1M1475.4,2205.1 L1477.2,2203.2 L1479.2,2201.4 L1481.3,2199.9 L1483.6,2198.8 L1486.0,2198.0M1512.4,2198.0 L1514.7,2197.2 L1516.9,2196.0 L1519.1,2194.5 L1521.2,2192.9 L1523.4,2191.1M1523.4,2191.1 L1525.5,2189.2 L1527.7,2187.5 L1529.9,2185.8 L1532.2,2184.5 L1534.5,2183.4" fill="none" stroke="#d9b8ee" stroke-width="3.9" stroke-linecap="round"/>
<path d="M1488.8,2205.0 L1491.4,2204.9 L1493.9,2204.4 L1496.2,2203.6 L1498.4,2202.5 L1500.5,2201.0M1500.5,2201.0 L1502.5,2199.3 L1504.5,2197.4 L1506.4,2195.4 L1508.4,2193.4 L1510.5,2191.5M1510.5,2191.5 L1512.6,2189.8 L1514.9,2188.4 L1517.3,2187.3 L1519.7,2186.7 L1522.2,2186.4M1548.6,2189.6 L1551.0,2188.8 L1553.3,2187.6" fill="none" stroke="#9c8ad8" stroke-width="3.9" stroke-linecap="round"/>
<path d="M1464.4,2211.5 L1467.2,2211.7 L1470.0,2211.9 L1472.7,2211.8 L1475.3,2211.5 L1477.7,2210.9M1497.8,2193.7 L1500.1,2192.5 L1502.5,2191.7 L1505.1,2191.3 L1507.7,2191.2 L1510.5,2191.4M1510.5,2191.4 L1513.2,2191.9 L1516.0,2192.5 L1518.7,2193.1 L1521.4,2193.6 L1524.1,2194.0M1486.0,2198.0 L1488.5,2197.5 L1491.2,2197.4 L1493.9,2197.5 L1496.7,2197.8 L1499.5,2198.1M1499.5,2198.1 L1502.2,2198.5 L1504.9,2198.7 L1507.5,2198.7 L1510.0,2198.5 L1512.4,2198.0M1534.5,2183.4 L1536.9,2182.8 L1539.4,2182.5 L1542.0,2182.5 L1544.6,2182.9 L1547.3,2183.5M1547.3,2183.5 L1550.0,2184.2 L1552.7,2184.9M1463.0,2207.8 L1465.1,2206.4 L1467.4,2205.4 L1469.8,2204.7 L1472.3,2204.3 L1475.0,2204.2M1475.0,2204.2 L1477.7,2204.3 L1480.5,2204.5 L1483.3,2204.8 L1486.1,2205.0 L1488.8,2205.0M1522.2,2186.4 L1524.8,2186.4 L1527.5,2186.8 L1530.2,2187.4 L1532.9,2188.1 L1535.7,2188.8M1535.7,2188.8 L1538.3,2189.5 L1541.0,2190.0 L1543.6,2190.2 L1546.1,2190.1 L1548.6,2189.6" fill="none" stroke="#ffffff" stroke-width="5.0" stroke-linecap="round" stroke-opacity="0.9"/>
<path d="M1464.4,2211.5 L1467.2,2211.7 L1470.0,2211.9 L1472.7,2211.8 L1475.3,2211.5 L1477.7,2210.9M1497.8,2193.7 L1500.1,2192.5 L1502.5,2191.7 L1505.1,2191.3 L1507.7,2191.2 L1510.5,2191.4M1510.5,2191.4 L1513.2,2191.9 L1516.0,2192.5 L1518.7,2193.1 L1521.4,2193.6 L1524.1,2194.0" fill="none" stroke="#b393dc" stroke-width="3.9" stroke-linecap="round"/>
<path d="M1486.0,2198.0 L1488.5,2197.5 L1491.2,2197.4 L1493.9,2197.5 L1496.7,2197.8 L1499.5,2198.1M1499.5,2198.1 L1502.2,2198.5 L1504.9,2198.7 L1507.5,2198.7 L1510.0,2198.5 L1512.4,2198.0M1534.5,2183.4 L1536.9,2182.8 L1539.4,2182.5 L1542.0,2182.5 L1544.6,2182.9 L1547.3,2183.5M1547.3,2183.5 L1550.0,2184.2 L1552.7,2184.9" fill="none" stroke="#d9b8ee" stroke-width="3.9" stroke-linecap="round"/>
<path d="M1463.0,2207.8 L1465.1,2206.4 L1467.4,2205.4 L1469.8,2204.7 L1472.3,2204.3 L1475.0,2204.2M1475.0,2204.2 L1477.7,2204.3 L1480.5,2204.5 L1483.3,2204.8 L1486.1,2205.0 L1488.8,2205.0M1522.2,2186.4 L1524.8,2186.4 L1527.5,2186.8 L1530.2,2187.4 L1532.9,2188.1 L1535.7,2188.8M1535.7,2188.8 L1538.3,2189.5 L1541.0,2190.0 L1543.6,2190.2 L1546.1,2190.1 L1548.6,2189.6" fill="none" stroke="#9c8ad8" stroke-width="3.9" stroke-linecap="round"/>
<polygon points="996.1,2296.2 992.4,2301.3 984.9,2301.3 981.2,2296.2 984.9,2291.2 992.4,2291.2" fill="#1f3c6b"/>
<polygon points="1012.1,2295.9 1008.4,2300.9 1000.9,2300.9 997.2,2295.9 1000.9,2290.8 1008.4,2290.8" fill="#4b4a8f"/>
<polygon points="1028.1,2295.3 1024.4,2300.3 1016.9,2300.3 1013.2,2295.3 1016.9,2290.2 1024.4,2290.2" fill="#1f3c6b"/>
<polygon points="1044.1,2294.1 1040.3,2299.1 1032.8,2299.1 1029.1,2294.1 1032.8,2289.0 1040.3,2289.0" fill="#4b4a8f"/>
<polygon points="1060.0,2292.3 1056.2,2297.3 1048.7,2297.3 1045.0,2292.3 1048.7,2287.2 1056.2,2287.2" fill="#1f3c6b"/>
<polygon points="1075.8,2290.1 1072.1,2295.2 1064.6,2295.2 1060.9,2290.1 1064.6,2285.1 1072.1,2285.1" fill="#4b4a8f"/>
<polygon points="1091.6,2287.5 1087.9,2292.6 1080.4,2292.6 1076.7,2287.5 1080.4,2282.4 1087.9,2282.4" fill="#1f3c6b"/>
<polygon points="1107.2,2284.0 1103.5,2289.1 1096.0,2289.1 1092.3,2284.0 1096.0,2279.0 1103.5,2279.0" fill="#4b4a8f"/>
<polygon points="1122.7,2279.9 1118.9,2285.0 1111.5,2285.0 1107.7,2279.9 1111.5,2274.9 1118.9,2274.9" fill="#1f3c6b"/>
<polygon points="1492.7,2284.1 1488.9,2289.2 1481.5,2289.2 1477.7,2284.1 1481.5,2279.1 1488.9,2279.1" fill="#1f3c6b"/>
<polygon points="1508.4,2287.2 1504.6,2292.3 1497.2,2292.3 1493.4,2287.2 1497.2,2282.1 1504.6,2282.1" fill="#4b4a8f"/>
<polygon points="1524.0,2290.4 1520.3,2295.4 1512.8,2295.4 1509.1,2290.4 1512.8,2285.3 1520.3,2285.3" fill="#1f3c6b"/>
<polygon points="1539.7,2293.7 1536.0,2298.8 1528.5,2298.8 1524.7,2293.7 1528.5,2288.7 1536.0,2288.7" fill="#4b4a8f"/>
<polygon points="1555.3,2297.3 1551.6,2302.3 1544.1,2302.3 1540.3,2297.3 1544.1,2292.2 1551.6,2292.2" fill="#1f3c6b"/>
<path d="M1027.5,2270.5 L1029.6,2269.1 L1031.4,2267.4 L1033.1,2265.4 L1034.6,2263.2 L1036.0,2260.8M1036.0,2260.8 L1037.4,2258.3 L1038.7,2255.9 L1040.2,2253.5 L1041.7,2251.3 L1043.4,2249.3M1068.6,2242.2 L1071.1,2241.4 L1073.3,2240.4 L1075.4,2239.0 L1077.3,2237.3 L1079.0,2235.4M1079.0,2235.4 L1080.6,2233.2 L1082.1,2230.9 L1083.6,2228.5 L1085.1,2226.2 L1086.8,2223.9M1086.8,2223.9 L1088.5,2221.9 L1090.4,2220.1 L1092.5,2218.7 L1094.7,2217.6 L1097.1,2216.8M1123.2,2212.7 L1125.2,2211.2 L1127.1,2209.3 L1128.9,2207.3 L1130.6,2205.1 L1132.3,2202.9M1132.3,2202.9 L1134.0,2200.7 L1135.8,2198.6 L1137.7,2196.7 L1139.8,2195.2 L1142.0,2194.0M1168.5,2192.6 L1170.9,2191.9 L1173.1,2190.9 L1175.3,2189.5 L1177.3,2187.9 L1179.3,2186.0M1179.3,2186.0 L1181.2,2184.0 L1183.2,2181.9 L1185.1,2179.9 L1187.2,2178.1 L1189.3,2176.5M1215.3,2175.5 L1217.9,2175.5 L1220.4,2175.2 L1222.8,2174.5 L1225.1,2173.5 L1227.3,2172.2M1227.3,2172.2 L1229.4,2170.5 L1231.4,2168.7 L1233.5,2166.7 L1235.5,2164.8 L1237.5,2162.9M1237.5,2162.9 L1239.6,2161.1 L1241.8,2159.6 L1244.0,2158.5 L1246.4,2157.7 L1248.9,2157.2M1275.4,2158.6 L1277.7,2157.6 L1279.9,2156.3 L1282.0,2154.7 L1284.1,2152.9 L1286.1,2150.9M1286.1,2150.9 L1288.1,2149.0 L1290.2,2147.1 L1292.3,2145.4 L1294.5,2144.0 L1296.8,2142.9M1323.3,2144.5 L1325.8,2144.2 L1328.2,2143.5 L1330.5,2142.5 L1332.7,2141.1 L1334.9,2139.4M1334.9,2139.4 L1336.9,2137.6 L1338.9,2135.6 L1341.0,2133.7 L1343.0,2131.8 L1345.0,2130.1M1382.8,2124.1 L1384.8,2122.4 L1386.7,2120.5 L1388.6,2118.4 L1390.4,2116.2 L1392.1,2114.0M1392.1,2114.0 L1393.9,2112.0 L1395.8,2110.1 L1397.8,2108.5 L1400.0,2107.2 L1402.3,2106.3M1428.6,2103.1 L1430.8,2101.8 L1432.8,2100.1 L1434.6,2098.2 L1436.3,2096.0 L1437.8,2093.7M1437.8,2093.7 L1439.3,2091.3 L1440.8,2089.0 L1442.4,2086.7 L1444.0,2084.7 L1445.9,2082.9M1471.3,2076.3 L1473.7,2075.3 L1475.9,2074.1 L1477.9,2072.5 L1479.6,2070.7 L1481.2,2068.6M1481.2,2068.6 L1482.7,2066.2 L1484.0,2063.8 L1485.3,2061.3 L1486.7,2058.8 L1488.1,2056.5M1521.7,2038.1 L1523.0,2035.8 L1524.1,2033.4 L1525.0,2030.8 L1525.8,2028.1 L1526.5,2025.3M1526.5,2025.3 L1527.4,2022.7M1016.8,2277.0 L1018.4,2275.0 L1019.9,2272.7 L1021.3,2270.3 L1022.7,2267.8 L1024.0,2265.4M1024.0,2265.4 L1025.5,2263.0 L1027.0,2260.9 L1028.8,2259.0 L1030.7,2257.4 L1032.9,2256.1M1058.7,2249.8 L1060.6,2248.3 L1062.4,2246.4 L1064.1,2244.4 L1065.6,2242.1 L1067.0,2239.7M1067.0,2239.7 L1068.4,2237.3 L1069.9,2234.9 L1071.5,2232.6 L1073.2,2230.6 L1075.0,2228.8M1100.9,2223.7 L1103.3,2222.9 L1105.6,2221.9 L1107.7,2220.5 L1109.6,2218.8 L1111.4,2216.9M1111.4,2216.9 L1113.1,2214.8 L1114.7,2212.5 L1116.4,2210.2 L1118.1,2208.0 L1119.8,2205.9M1157.0,2197.1 L1159.0,2195.5 L1161.0,2193.7 L1162.8,2191.7 L1164.7,2189.6 L1166.6,2187.5M1166.6,2187.5 L1168.5,2185.5 L1170.5,2183.7 L1172.6,2182.1 L1174.8,2180.9 L1177.2,2180.0M1203.8,2180.6 L1206.2,2179.8 L1208.4,2178.7 L1210.6,2177.3 L1212.7,2175.6 L1214.7,2173.7M1214.7,2173.7 L1216.7,2171.7 L1218.7,2169.7 L1220.7,2167.8 L1222.8,2166.1 L1224.9,2164.7M1251.1,2164.7 L1253.7,2164.6 L1256.2,2164.2 L1258.5,2163.5 L1260.8,2162.4 L1263.0,2161.0M1263.0,2161.0 L1265.1,2159.3 L1267.2,2157.4 L1269.2,2155.5 L1271.3,2153.6 L1273.3,2151.7M1273.3,2151.7 L1275.5,2150.1 L1277.7,2148.8 L1280.0,2147.8 L1282.4,2147.2 L1284.9,2146.9M1311.3,2148.1 L1313.6,2147.0 L1315.8,2145.6 L1317.9,2143.9 L1320.0,2142.0 L1322.0,2140.1M1322.0,2140.1 L1324.1,2138.2 L1326.2,2136.5 L1328.3,2134.9 L1330.6,2133.7 L1332.9,2132.7M1359.4,2133.5 L1361.9,2132.8 L1364.2,2131.7 L1366.4,2130.4 L1368.4,2128.7 L1370.3,2126.8M1370.3,2126.8 L1372.2,2124.7 L1374.1,2122.5 L1375.9,2120.5 L1377.8,2118.5 L1379.8,2116.8M1405.4,2113.1 L1408.1,2112.7 L1410.6,2112.1 L1412.9,2111.1 L1415.1,2109.8 L1417.1,2108.2M1417.1,2108.2 L1418.9,2106.3 L1420.6,2104.1 L1422.3,2101.8 L1423.9,2099.5 L1425.5,2097.3M1425.5,2097.3 L1427.2,2095.1 L1429.0,2093.2 L1430.9,2091.6 L1433.0,2090.3 L1435.2,2089.3M1461.2,2083.7 L1463.1,2082.1 L1464.9,2080.2 L1466.5,2078.1 L1467.9,2075.8 L1469.3,2073.3M1469.3,2073.3 L1470.7,2070.8 L1472.1,2068.4 L1473.6,2066.2 L1475.2,2064.2 L1477.0,2062.4M1502.4,2054.9 L1504.7,2053.6 L1506.7,2052.1 L1508.5,2050.2 L1510.0,2048.0 L1511.3,2045.6M1511.3,2045.6 L1512.3,2043.0 L1513.3,2040.4 L1514.2,2037.7 L1515.2,2035.1 L1516.2,2032.7M1037.1,2262.5 L1039.7,2261.7 L1042.0,2260.7 L1044.1,2259.4 L1046.0,2257.8 L1047.7,2255.9M1047.7,2255.9 L1049.3,2253.7 L1050.8,2251.4 L1052.1,2248.9 L1053.5,2246.5 L1054.9,2244.1M1054.9,2244.1 L1056.5,2241.8 L1058.2,2239.8 L1060.1,2238.1 L1062.1,2236.7 L1064.4,2235.6M1090.3,2230.2 L1092.3,2228.7 L1094.2,2226.9 L1095.9,2224.9 L1097.5,2222.6 L1099.1,2220.3M1099.1,2220.3 L1100.7,2218.0 L1102.3,2215.7 L1104.1,2213.7 L1106.0,2211.9 L1108.0,2210.4M1134.3,2207.1 L1136.7,2206.4 L1138.9,2205.3 L1141.0,2203.9 L1143.0,2202.2 L1144.8,2200.3M1144.8,2200.3 L1146.6,2198.2 L1148.4,2196.0 L1150.2,2193.8 L1152.0,2191.7 L1154.0,2189.9M1191.8,2184.0 L1193.9,2182.5 L1195.9,2180.7 L1197.9,2178.7 L1199.9,2176.7 L1201.9,2174.8M1201.9,2174.8 L1203.9,2172.9 L1206.0,2171.3 L1208.2,2169.9 L1210.5,2168.9 L1212.9,2168.3M1239.5,2169.3 L1241.8,2168.4 L1244.0,2167.2 L1246.2,2165.7 L1248.3,2163.9 L1250.3,2162.0M1250.3,2162.0 L1252.3,2160.1 L1254.4,2158.1 L1256.5,2156.4 L1258.6,2154.8 L1260.9,2153.6M1287.2,2154.5 L1289.7,2154.3 L1292.2,2153.7 L1294.5,2152.8 L1296.7,2151.5 L1298.9,2150.0M1298.9,2150.0 L1301.0,2148.2 L1303.0,2146.4 L1305.1,2144.4 L1307.1,2142.6 L1309.3,2140.9M1347.4,2137.5 L1349.6,2136.1 L1351.7,2134.5 L1353.8,2132.6 L1355.7,2130.5 L1357.6,2128.5M1357.6,2128.5 L1359.5,2126.5 L1361.5,2124.6 L1363.5,2123.0 L1365.7,2121.7 L1368.0,2120.7M1394.5,2119.5 L1396.9,2118.6 L1399.0,2117.2 L1401.1,2115.6 L1402.9,2113.7 L1404.7,2111.5M1404.7,2111.5 L1406.4,2109.3 L1408.1,2107.1 L1409.9,2104.9 L1411.7,2102.9 L1413.5,2101.2M1439.1,2096.0 L1441.7,2095.3 L1444.0,2094.3 L1446.2,2093.0 L1448.1,2091.4 L1449.9,2089.5M1449.9,2089.5 L1451.5,2087.3 L1453.0,2084.9 L1454.4,2082.5 L1455.9,2080.1 L1457.3,2077.8M1457.3,2077.8 L1458.9,2075.6 L1460.6,2073.7 L1462.5,2072.1 L1464.6,2070.7 L1466.9,2069.7M1492.4,2062.6 L1494.2,2060.8 L1495.8,2058.7 L1497.2,2056.4 L1498.5,2053.9 L1499.7,2051.4M1499.7,2051.4 L1500.9,2048.8 L1502.1,2046.4 L1503.5,2044.1 L1504.9,2042.1 L1506.6,2040.3" fill="none" stroke="#ffffff" stroke-width="5.0" stroke-linecap="round" stroke-opacity="0.9"/>
<path d="M1027.5,2270.5 L1029.6,2269.1 L1031.4,2267.4 L1033.1,2265.4 L1034.6,2263.2 L1036.0,2260.8M1036.0,2260.8 L1037.4,2258.3 L1038.7,2255.9 L1040.2,2253.5 L1041.7,2251.3 L1043.4,2249.3M1068.6,2242.2 L1071.1,2241.4 L1073.3,2240.4 L1075.4,2239.0 L1077.3,2237.3 L1079.0,2235.4M1079.0,2235.4 L1080.6,2233.2 L1082.1,2230.9 L1083.6,2228.5 L1085.1,2226.2 L1086.8,2223.9M1086.8,2223.9 L1088.5,2221.9 L1090.4,2220.1 L1092.5,2218.7 L1094.7,2217.6 L1097.1,2216.8M1123.2,2212.7 L1125.2,2211.2 L1127.1,2209.3 L1128.9,2207.3 L1130.6,2205.1 L1132.3,2202.9M1132.3,2202.9 L1134.0,2200.7 L1135.8,2198.6 L1137.7,2196.7 L1139.8,2195.2 L1142.0,2194.0M1168.5,2192.6 L1170.9,2191.9 L1173.1,2190.9 L1175.3,2189.5 L1177.3,2187.9 L1179.3,2186.0M1179.3,2186.0 L1181.2,2184.0 L1183.2,2181.9 L1185.1,2179.9 L1187.2,2178.1 L1189.3,2176.5M1215.3,2175.5 L1217.9,2175.5 L1220.4,2175.2 L1222.8,2174.5 L1225.1,2173.5 L1227.3,2172.2M1227.3,2172.2 L1229.4,2170.5 L1231.4,2168.7 L1233.5,2166.7 L1235.5,2164.8 L1237.5,2162.9M1237.5,2162.9 L1239.6,2161.1 L1241.8,2159.6 L1244.0,2158.5 L1246.4,2157.7 L1248.9,2157.2M1275.4,2158.6 L1277.7,2157.6 L1279.9,2156.3 L1282.0,2154.7 L1284.1,2152.9 L1286.1,2150.9M1286.1,2150.9 L1288.1,2149.0 L1290.2,2147.1 L1292.3,2145.4 L1294.5,2144.0 L1296.8,2142.9M1323.3,2144.5 L1325.8,2144.2 L1328.2,2143.5 L1330.5,2142.5 L1332.7,2141.1 L1334.9,2139.4M1334.9,2139.4 L1336.9,2137.6 L1338.9,2135.6 L1341.0,2133.7 L1343.0,2131.8 L1345.0,2130.1M1382.8,2124.1 L1384.8,2122.4 L1386.7,2120.5 L1388.6,2118.4 L1390.4,2116.2 L1392.1,2114.0M1392.1,2114.0 L1393.9,2112.0 L1395.8,2110.1 L1397.8,2108.5 L1400.0,2107.2 L1402.3,2106.3M1428.6,2103.1 L1430.8,2101.8 L1432.8,2100.1 L1434.6,2098.2 L1436.3,2096.0 L1437.8,2093.7M1437.8,2093.7 L1439.3,2091.3 L1440.8,2089.0 L1442.4,2086.7 L1444.0,2084.7 L1445.9,2082.9M1471.3,2076.3 L1473.7,2075.3 L1475.9,2074.1 L1477.9,2072.5 L1479.6,2070.7 L1481.2,2068.6M1481.2,2068.6 L1482.7,2066.2 L1484.0,2063.8 L1485.3,2061.3 L1486.7,2058.8 L1488.1,2056.5M1521.7,2038.1 L1523.0,2035.8 L1524.1,2033.4 L1525.0,2030.8 L1525.8,2028.1 L1526.5,2025.3M1526.5,2025.3 L1527.4,2022.7" fill="none" stroke="#b393dc" stroke-width="3.9" stroke-linecap="round"/>
<path d="M1016.8,2277.0 L1018.4,2275.0 L1019.9,2272.7 L1021.3,2270.3 L1022.7,2267.8 L1024.0,2265.4M1024.0,2265.4 L1025.5,2263.0 L1027.0,2260.9 L1028.8,2259.0 L1030.7,2257.4 L1032.9,2256.1M1058.7,2249.8 L1060.6,2248.3 L1062.4,2246.4 L1064.1,2244.4 L1065.6,2242.1 L1067.0,2239.7M1067.0,2239.7 L1068.4,2237.3 L1069.9,2234.9 L1071.5,2232.6 L1073.2,2230.6 L1075.0,2228.8M1100.9,2223.7 L1103.3,2222.9 L1105.6,2221.9 L1107.7,2220.5 L1109.6,2218.8 L1111.4,2216.9M1111.4,2216.9 L1113.1,2214.8 L1114.7,2212.5 L1116.4,2210.2 L1118.1,2208.0 L1119.8,2205.9M1157.0,2197.1 L1159.0,2195.5 L1161.0,2193.7 L1162.8,2191.7 L1164.7,2189.6 L1166.6,2187.5M1166.6,2187.5 L1168.5,2185.5 L1170.5,2183.7 L1172.6,2182.1 L1174.8,2180.9 L1177.2,2180.0M1203.8,2180.6 L1206.2,2179.8 L1208.4,2178.7 L1210.6,2177.3 L1212.7,2175.6 L1214.7,2173.7M1214.7,2173.7 L1216.7,2171.7 L1218.7,2169.7 L1220.7,2167.8 L1222.8,2166.1 L1224.9,2164.7M1251.1,2164.7 L1253.7,2164.6 L1256.2,2164.2 L1258.5,2163.5 L1260.8,2162.4 L1263.0,2161.0M1263.0,2161.0 L1265.1,2159.3 L1267.2,2157.4 L1269.2,2155.5 L1271.3,2153.6 L1273.3,2151.7M1273.3,2151.7 L1275.5,2150.1 L1277.7,2148.8 L1280.0,2147.8 L1282.4,2147.2 L1284.9,2146.9M1311.3,2148.1 L1313.6,2147.0 L1315.8,2145.6 L1317.9,2143.9 L1320.0,2142.0 L1322.0,2140.1M1322.0,2140.1 L1324.1,2138.2 L1326.2,2136.5 L1328.3,2134.9 L1330.6,2133.7 L1332.9,2132.7M1359.4,2133.5 L1361.9,2132.8 L1364.2,2131.7 L1366.4,2130.4 L1368.4,2128.7 L1370.3,2126.8M1370.3,2126.8 L1372.2,2124.7 L1374.1,2122.5 L1375.9,2120.5 L1377.8,2118.5 L1379.8,2116.8M1405.4,2113.1 L1408.1,2112.7 L1410.6,2112.1 L1412.9,2111.1 L1415.1,2109.8 L1417.1,2108.2M1417.1,2108.2 L1418.9,2106.3 L1420.6,2104.1 L1422.3,2101.8 L1423.9,2099.5 L1425.5,2097.3M1425.5,2097.3 L1427.2,2095.1 L1429.0,2093.2 L1430.9,2091.6 L1433.0,2090.3 L1435.2,2089.3M1461.2,2083.7 L1463.1,2082.1 L1464.9,2080.2 L1466.5,2078.1 L1467.9,2075.8 L1469.3,2073.3M1469.3,2073.3 L1470.7,2070.8 L1472.1,2068.4 L1473.6,2066.2 L1475.2,2064.2 L1477.0,2062.4M1502.4,2054.9 L1504.7,2053.6 L1506.7,2052.1 L1508.5,2050.2 L1510.0,2048.0 L1511.3,2045.6M1511.3,2045.6 L1512.3,2043.0 L1513.3,2040.4 L1514.2,2037.7 L1515.2,2035.1 L1516.2,2032.7" fill="none" stroke="#d9b8ee" stroke-width="3.9" stroke-linecap="round"/>
<path d="M1037.1,2262.5 L1039.7,2261.7 L1042.0,2260.7 L1044.1,2259.4 L1046.0,2257.8 L1047.7,2255.9M1047.7,2255.9 L1049.3,2253.7 L1050.8,2251.4 L1052.1,2248.9 L1053.5,2246.5 L1054.9,2244.1M1054.9,2244.1 L1056.5,2241.8 L1058.2,2239.8 L1060.1,2238.1 L1062.1,2236.7 L1064.4,2235.6M1090.3,2230.2 L1092.3,2228.7 L1094.2,2226.9 L1095.9,2224.9 L1097.5,2222.6 L1099.1,2220.3M1099.1,2220.3 L1100.7,2218.0 L1102.3,2215.7 L1104.1,2213.7 L1106.0,2211.9 L1108.0,2210.4M1134.3,2207.1 L1136.7,2206.4 L1138.9,2205.3 L1141.0,2203.9 L1143.0,2202.2 L1144.8,2200.3M1144.8,2200.3 L1146.6,2198.2 L1148.4,2196.0 L1150.2,2193.8 L1152.0,2191.7 L1154.0,2189.9M1191.8,2184.0 L1193.9,2182.5 L1195.9,2180.7 L1197.9,2178.7 L1199.9,2176.7 L1201.9,2174.8M1201.9,2174.8 L1203.9,2172.9 L1206.0,2171.3 L1208.2,2169.9 L1210.5,2168.9 L1212.9,2168.3M1239.5,2169.3 L1241.8,2168.4 L1244.0,2167.2 L1246.2,2165.7 L1248.3,2163.9 L1250.3,2162.0M1250.3,2162.0 L1252.3,2160.1 L1254.4,2158.1 L1256.5,2156.4 L1258.6,2154.8 L1260.9,2153.6M1287.2,2154.5 L1289.7,2154.3 L1292.2,2153.7 L1294.5,2152.8 L1296.7,2151.5 L1298.9,2150.0M1298.9,2150.0 L1301.0,2148.2 L1303.0,2146.4 L1305.1,2144.4 L1307.1,2142.6 L1309.3,2140.9M1347.4,2137.5 L1349.6,2136.1 L1351.7,2134.5 L1353.8,2132.6 L1355.7,2130.5 L1357.6,2128.5M1357.6,2128.5 L1359.5,2126.5 L1361.5,2124.6 L1363.5,2123.0 L1365.7,2121.7 L1368.0,2120.7M1394.5,2119.5 L1396.9,2118.6 L1399.0,2117.2 L1401.1,2115.6 L1402.9,2113.7 L1404.7,2111.5M1404.7,2111.5 L1406.4,2109.3 L1408.1,2107.1 L1409.9,2104.9 L1411.7,2102.9 L1413.5,2101.2M1439.1,2096.0 L1441.7,2095.3 L1444.0,2094.3 L1446.2,2093.0 L1448.1,2091.4 L1449.9,2089.5M1449.9,2089.5 L1451.5,2087.3 L1453.0,2084.9 L1454.4,2082.5 L1455.9,2080.1 L1457.3,2077.8M1457.3,2077.8 L1458.9,2075.6 L1460.6,2073.7 L1462.5,2072.1 L1464.6,2070.7 L1466.9,2069.7M1492.4,2062.6 L1494.2,2060.8 L1495.8,2058.7 L1497.2,2056.4 L1498.5,2053.9 L1499.7,2051.4M1499.7,2051.4 L1500.9,2048.8 L1502.1,2046.4 L1503.5,2044.1 L1504.9,2042.1 L1506.6,2040.3" fill="none" stroke="#9c8ad8" stroke-width="3.9" stroke-linecap="round"/>
<path d="M1014.6,2273.7 L1017.4,2273.4 L1020.1,2273.0 L1022.8,2272.5 L1025.2,2271.6 L1027.5,2270.5M1043.4,2249.3 L1045.3,2247.7 L1047.4,2246.3 L1049.8,2245.3 L1052.3,2244.5 L1054.9,2244.0M1054.9,2244.0 L1057.7,2243.7 L1060.5,2243.4 L1063.3,2243.1 L1066.0,2242.8 L1068.6,2242.2M1097.1,2216.8 L1099.7,2216.3 L1102.5,2216.0 L1105.2,2215.9 L1108.1,2215.9 L1110.9,2215.9M1110.9,2215.9 L1113.6,2215.8 L1116.2,2215.4 L1118.7,2214.8 L1121.0,2213.9 L1123.2,2212.7M1142.0,2194.0 L1144.4,2193.1 L1146.9,2192.6 L1149.5,2192.4 L1152.3,2192.4 L1155.1,2192.6M1155.1,2192.6 L1157.9,2192.8 L1160.7,2193.0 L1163.4,2193.1 L1166.0,2193.0 L1168.5,2192.6M1189.3,2176.5 L1191.5,2175.2 L1193.8,2174.3 L1196.3,2173.7 L1198.9,2173.5 L1201.5,2173.6M1201.5,2173.6 L1204.2,2173.9 L1207.0,2174.3 L1209.8,2174.8 L1212.5,2175.2 L1215.3,2175.5M1248.9,2157.2 L1251.5,2157.1 L1254.1,2157.3 L1256.9,2157.7 L1259.6,2158.2 L1262.4,2158.8M1262.4,2158.8 L1265.1,2159.3 L1267.8,2159.5 L1270.4,2159.6 L1272.9,2159.3 L1275.4,2158.6M1296.8,2142.9 L1299.2,2142.2 L1301.7,2141.8 L1304.3,2141.8 L1307.0,2142.1 L1309.7,2142.5M1309.7,2142.5 L1312.5,2143.1 L1315.2,2143.7 L1318.0,2144.2 L1320.7,2144.5 L1323.3,2144.5M1345.0,2130.1 L1347.2,2128.7 L1349.4,2127.6 L1351.8,2126.8 L1354.2,2126.4 L1356.8,2126.2M1356.8,2126.2 L1359.5,2126.3 L1362.2,2126.6 L1365.0,2126.9 L1367.8,2127.2 L1370.6,2127.4M1370.6,2127.4 L1373.3,2127.4 L1375.8,2127.0 L1378.3,2126.4 L1380.6,2125.4 L1382.8,2124.1M1402.3,2106.3 L1404.7,2105.6 L1407.3,2105.3 L1410.0,2105.1 L1412.7,2105.1 L1415.6,2105.2M1415.6,2105.2 L1418.4,2105.2 L1421.1,2105.0 L1423.8,2104.7 L1426.3,2104.0 L1428.6,2103.1M1445.9,2082.9 L1447.9,2081.4 L1450.0,2080.2 L1452.4,2079.3 L1455.0,2078.7 L1457.6,2078.3M1457.6,2078.3 L1460.4,2078.0 L1463.2,2077.7 L1466.0,2077.4 L1468.7,2076.9 L1471.3,2076.3M1488.1,2056.5 L1489.6,2054.4 L1491.3,2052.5 L1493.2,2050.9 L1495.3,2049.6 L1497.6,2048.6M1497.6,2048.6 L1500.1,2047.8 L1502.7,2047.2 L1505.5,2046.6 L1508.2,2045.9 L1510.9,2045.2M1510.9,2045.2 L1513.5,2044.3 L1516.0,2043.2 L1518.2,2041.8 L1520.1,2040.1 L1521.7,2038.1M1032.9,2256.1 L1035.3,2255.2 L1037.8,2254.5 L1040.5,2254.0 L1043.3,2253.6 L1046.1,2253.3M1046.1,2253.3 L1048.8,2253.0 L1051.5,2252.5 L1054.1,2251.9 L1056.5,2251.0 L1058.7,2249.8M1075.0,2228.8 L1077.1,2227.4 L1079.4,2226.3 L1081.9,2225.5 L1084.5,2225.0 L1087.2,2224.8M1087.2,2224.8 L1090.0,2224.6 L1092.8,2224.5 L1095.6,2224.4 L1098.3,2224.2 L1100.9,2223.7M1119.8,2205.9 L1121.7,2204.1 L1123.8,2202.6 L1126.0,2201.4 L1128.4,2200.5 L1130.9,2200.0M1130.9,2200.0 L1133.6,2199.8 L1136.4,2199.8 L1139.2,2199.9 L1142.0,2200.1 L1144.8,2200.1M1144.8,2200.1 L1147.5,2200.1 L1150.0,2199.8 L1152.5,2199.2 L1154.8,2198.3 L1157.0,2197.1M1177.2,2180.0 L1179.7,2179.5 L1182.3,2179.3 L1185.0,2179.4 L1187.7,2179.7 L1190.5,2180.1M1190.5,2180.1 L1193.3,2180.5 L1196.0,2180.9 L1198.7,2181.1 L1201.3,2181.0 L1203.8,2180.6M1224.9,2164.7 L1227.2,2163.6 L1229.6,2162.9 L1232.1,2162.5 L1234.7,2162.4 L1237.4,2162.6M1237.4,2162.6 L1240.2,2163.1 L1242.9,2163.6 L1245.7,2164.1 L1248.4,2164.5 L1251.1,2164.7M1284.9,2146.9 L1287.5,2146.9 L1290.2,2147.2 L1293.0,2147.7 L1295.8,2148.2 L1298.5,2148.7M1298.5,2148.7 L1301.2,2149.2 L1303.9,2149.4 L1306.4,2149.3 L1308.9,2148.9 L1311.3,2148.1M1332.9,2132.7 L1335.3,2132.2 L1337.8,2131.9 L1340.4,2132.0 L1343.1,2132.3 L1345.9,2132.7M1345.9,2132.7 L1348.7,2133.2 L1351.4,2133.6 L1354.2,2133.8 L1356.9,2133.8 L1359.4,2133.5M1379.8,2116.8 L1381.9,2115.3 L1384.1,2114.2 L1386.5,2113.4 L1389.0,2112.9 L1391.6,2112.7M1391.6,2112.7 L1394.3,2112.8 L1397.1,2112.9 L1399.9,2113.0 L1402.7,2113.1 L1405.4,2113.1M1435.2,2089.3 L1437.7,2088.5 L1440.3,2088.1 L1443.0,2087.8 L1445.8,2087.6 L1448.6,2087.4M1448.6,2087.4 L1451.4,2087.1 L1454.1,2086.7 L1456.6,2086.0 L1459.0,2085.0 L1461.2,2083.7M1477.0,2062.4 L1479.0,2061.0 L1481.3,2059.8 L1483.7,2058.9 L1486.3,2058.3 L1489.0,2057.8M1489.0,2057.8 L1491.7,2057.4 L1494.5,2057.0 L1497.3,2056.5 L1499.9,2055.8 L1502.4,2054.9M1516.2,2032.7 L1517.4,2030.4 L1518.8,2028.4 L1520.5,2026.6 L1522.4,2025.0 L1524.7,2023.6M1524.7,2023.6 L1527.1,2022.5M1012.4,2270.4 L1014.2,2268.7 L1016.2,2267.2 L1018.5,2266.0 L1020.9,2265.1 L1023.4,2264.5M1023.4,2264.5 L1026.1,2264.0 L1028.9,2263.7 L1031.7,2263.4 L1034.5,2263.0 L1037.1,2262.5M1064.4,2235.6 L1066.9,2234.8 L1069.5,2234.3 L1072.3,2234.0 L1075.1,2233.8 L1077.9,2233.6M1077.9,2233.6 L1080.6,2233.3 L1083.3,2232.9 L1085.8,2232.3 L1088.2,2231.4 L1090.3,2230.2M1108.0,2210.4 L1110.3,2209.2 L1112.7,2208.4 L1115.2,2207.9 L1117.9,2207.7 L1120.7,2207.6M1120.7,2207.6 L1123.5,2207.7 L1126.3,2207.8 L1129.1,2207.7 L1131.7,2207.6 L1134.3,2207.1M1154.0,2189.9 L1156.1,2188.3 L1158.3,2187.1 L1160.7,2186.2 L1163.2,2185.7 L1165.8,2185.5M1165.8,2185.5 L1168.5,2185.6 L1171.3,2185.8 L1174.1,2186.2 L1176.9,2186.5 L1179.6,2186.8M1179.6,2186.8 L1182.2,2186.8 L1184.8,2186.6 L1187.2,2186.1 L1189.6,2185.2 L1191.8,2184.0M1212.9,2168.3 L1215.5,2168.0 L1218.1,2168.0 L1220.8,2168.2 L1223.6,2168.6 L1226.3,2169.1M1226.3,2169.1 L1229.1,2169.5 L1231.8,2169.9 L1234.5,2170.0 L1237.0,2169.8 L1239.5,2169.3M1260.9,2153.6 L1263.2,2152.7 L1265.7,2152.2 L1268.2,2152.0 L1270.9,2152.1 L1273.6,2152.5M1273.6,2152.5 L1276.3,2153.0 L1279.1,2153.5 L1281.8,2154.0 L1284.5,2154.4 L1287.2,2154.5M1309.3,2140.9 L1311.5,2139.4 L1313.7,2138.3 L1316.1,2137.5 L1318.6,2137.0 L1321.2,2136.9M1321.2,2136.9 L1323.8,2137.1 L1326.5,2137.5 L1329.3,2138.1 L1332.0,2138.6 L1334.8,2139.1M1334.8,2139.1 L1337.5,2139.4 L1340.1,2139.5 L1342.7,2139.2 L1345.1,2138.5 L1347.4,2137.5M1368.0,2120.7 L1370.4,2120.1 L1373.0,2119.8 L1375.6,2119.7 L1378.4,2119.9 L1381.2,2120.1M1381.2,2120.1 L1384.0,2120.4 L1386.8,2120.5 L1389.5,2120.5 L1392.1,2120.2 L1394.5,2119.5M1413.5,2101.2 L1415.6,2099.7 L1417.8,2098.6 L1420.1,2097.7 L1422.7,2097.2 L1425.3,2096.9M1425.3,2096.9 L1428.1,2096.8 L1430.9,2096.7 L1433.7,2096.6 L1436.5,2096.4 L1439.1,2096.0M1466.9,2069.7 L1469.4,2069.0 L1472.1,2068.4 L1474.8,2068.0 L1477.6,2067.7 L1480.4,2067.3M1480.4,2067.3 L1483.1,2066.9 L1485.7,2066.2 L1488.1,2065.3 L1490.4,2064.1 L1492.4,2062.6M1506.6,2040.3 L1508.5,2038.8 L1510.6,2037.4 L1512.9,2036.3 L1515.4,2035.4 L1518.0,2034.5M1518.0,2034.5 L1520.7,2033.6 L1523.3,2032.6 L1525.8,2031.5 L1528.2,2030.3 L1530.3,2028.9M1530.3,2028.9 L1532.2,2027.3" fill="none" stroke="#ffffff" stroke-width="5.0" stroke-linecap="round" stroke-opacity="0.9"/>
<path d="M1014.6,2273.7 L1017.4,2273.4 L1020.1,2273.0 L1022.8,2272.5 L1025.2,2271.6 L1027.5,2270.5M1043.4,2249.3 L1045.3,2247.7 L1047.4,2246.3 L1049.8,2245.3 L1052.3,2244.5 L1054.9,2244.0M1054.9,2244.0 L1057.7,2243.7 L1060.5,2243.4 L1063.3,2243.1 L1066.0,2242.8 L1068.6,2242.2M1097.1,2216.8 L1099.7,2216.3 L1102.5,2216.0 L1105.2,2215.9 L1108.1,2215.9 L1110.9,2215.9M1110.9,2215.9 L1113.6,2215.8 L1116.2,2215.4 L1118.7,2214.8 L1121.0,2213.9 L1123.2,2212.7M1142.0,2194.0 L1144.4,2193.1 L1146.9,2192.6 L1149.5,2192.4 L1152.3,2192.4 L1155.1,2192.6M1155.1,2192.6 L1157.9,2192.8 L1160.7,2193.0 L1163.4,2193.1 L1166.0,2193.0 L1168.5,2192.6M1189.3,2176.5 L1191.5,2175.2 L1193.8,2174.3 L1196.3,2173.7 L1198.9,2173.5 L1201.5,2173.6M1201.5,2173.6 L1204.2,2173.9 L1207.0,2174.3 L1209.8,2174.8 L1212.5,2175.2 L1215.3,2175.5M1248.9,2157.2 L1251.5,2157.1 L1254.1,2157.3 L1256.9,2157.7 L1259.6,2158.2 L1262.4,2158.8M1262.4,2158.8 L1265.1,2159.3 L1267.8,2159.5 L1270.4,2159.6 L1272.9,2159.3 L1275.4,2158.6M1296.8,2142.9 L1299.2,2142.2 L1301.7,2141.8 L1304.3,2141.8 L1307.0,2142.1 L1309.7,2142.5M1309.7,2142.5 L1312.5,2143.1 L1315.2,2143.7 L1318.0,2144.2 L1320.7,2144.5 L1323.3,2144.5M1345.0,2130.1 L1347.2,2128.7 L1349.4,2127.6 L1351.8,2126.8 L1354.2,2126.4 L1356.8,2126.2M1356.8,2126.2 L1359.5,2126.3 L1362.2,2126.6 L1365.0,2126.9 L1367.8,2127.2 L1370.6,2127.4M1370.6,2127.4 L1373.3,2127.4 L1375.8,2127.0 L1378.3,2126.4 L1380.6,2125.4 L1382.8,2124.1M1402.3,2106.3 L1404.7,2105.6 L1407.3,2105.3 L1410.0,2105.1 L1412.7,2105.1 L1415.6,2105.2M1415.6,2105.2 L1418.4,2105.2 L1421.1,2105.0 L1423.8,2104.7 L1426.3,2104.0 L1428.6,2103.1M1445.9,2082.9 L1447.9,2081.4 L1450.0,2080.2 L1452.4,2079.3 L1455.0,2078.7 L1457.6,2078.3M1457.6,2078.3 L1460.4,2078.0 L1463.2,2077.7 L1466.0,2077.4 L1468.7,2076.9 L1471.3,2076.3M1488.1,2056.5 L1489.6,2054.4 L1491.3,2052.5 L1493.2,2050.9 L1495.3,2049.6 L1497.6,2048.6M1497.6,2048.6 L1500.1,2047.8 L1502.7,2047.2 L1505.5,2046.6 L1508.2,2045.9 L1510.9,2045.2M1510.9,2045.2 L1513.5,2044.3 L1516.0,2043.2 L1518.2,2041.8 L1520.1,2040.1 L1521.7,2038.1" fill="none" stroke="#b393dc" stroke-width="3.9" stroke-linecap="round"/>
<path d="M1032.9,2256.1 L1035.3,2255.2 L1037.8,2254.5 L1040.5,2254.0 L1043.3,2253.6 L1046.1,2253.3M1046.1,2253.3 L1048.8,2253.0 L1051.5,2252.5 L1054.1,2251.9 L1056.5,2251.0 L1058.7,2249.8M1075.0,2228.8 L1077.1,2227.4 L1079.4,2226.3 L1081.9,2225.5 L1084.5,2225.0 L1087.2,2224.8M1087.2,2224.8 L1090.0,2224.6 L1092.8,2224.5 L1095.6,2224.4 L1098.3,2224.2 L1100.9,2223.7M1119.8,2205.9 L1121.7,2204.1 L1123.8,2202.6 L1126.0,2201.4 L1128.4,2200.5 L1130.9,2200.0M1130.9,2200.0 L1133.6,2199.8 L1136.4,2199.8 L1139.2,2199.9 L1142.0,2200.1 L1144.8,2200.1M1144.8,2200.1 L1147.5,2200.1 L1150.0,2199.8 L1152.5,2199.2 L1154.8,2198.3 L1157.0,2197.1M1177.2,2180.0 L1179.7,2179.5 L1182.3,2179.3 L1185.0,2179.4 L1187.7,2179.7 L1190.5,2180.1M1190.5,2180.1 L1193.3,2180.5 L1196.0,2180.9 L1198.7,2181.1 L1201.3,2181.0 L1203.8,2180.6M1224.9,2164.7 L1227.2,2163.6 L1229.6,2162.9 L1232.1,2162.5 L1234.7,2162.4 L1237.4,2162.6M1237.4,2162.6 L1240.2,2163.1 L1242.9,2163.6 L1245.7,2164.1 L1248.4,2164.5 L1251.1,2164.7M1284.9,2146.9 L1287.5,2146.9 L1290.2,2147.2 L1293.0,2147.7 L1295.8,2148.2 L1298.5,2148.7M1298.5,2148.7 L1301.2,2149.2 L1303.9,2149.4 L1306.4,2149.3 L1308.9,2148.9 L1311.3,2148.1M1332.9,2132.7 L1335.3,2132.2 L1337.8,2131.9 L1340.4,2132.0 L1343.1,2132.3 L1345.9,2132.7M1345.9,2132.7 L1348.7,2133.2 L1351.4,2133.6 L1354.2,2133.8 L1356.9,2133.8 L1359.4,2133.5M1379.8,2116.8 L1381.9,2115.3 L1384.1,2114.2 L1386.5,2113.4 L1389.0,2112.9 L1391.6,2112.7M1391.6,2112.7 L1394.3,2112.8 L1397.1,2112.9 L1399.9,2113.0 L1402.7,2113.1 L1405.4,2113.1M1435.2,2089.3 L1437.7,2088.5 L1440.3,2088.1 L1443.0,2087.8 L1445.8,2087.6 L1448.6,2087.4M1448.6,2087.4 L1451.4,2087.1 L1454.1,2086.7 L1456.6,2086.0 L1459.0,2085.0 L1461.2,2083.7M1477.0,2062.4 L1479.0,2061.0 L1481.3,2059.8 L1483.7,2058.9 L1486.3,2058.3 L1489.0,2057.8M1489.0,2057.8 L1491.7,2057.4 L1494.5,2057.0 L1497.3,2056.5 L1499.9,2055.8 L1502.4,2054.9M1516.2,2032.7 L1517.4,2030.4 L1518.8,2028.4 L1520.5,2026.6 L1522.4,2025.0 L1524.7,2023.6M1524.7,2023.6 L1527.1,2022.5" fill="none" stroke="#d9b8ee" stroke-width="3.9" stroke-linecap="round"/>
<path d="M1012.4,2270.4 L1014.2,2268.7 L1016.2,2267.2 L1018.5,2266.0 L1020.9,2265.1 L1023.4,2264.5M1023.4,2264.5 L1026.1,2264.0 L1028.9,2263.7 L1031.7,2263.4 L1034.5,2263.0 L1037.1,2262.5M1064.4,2235.6 L1066.9,2234.8 L1069.5,2234.3 L1072.3,2234.0 L1075.1,2233.8 L1077.9,2233.6M1077.9,2233.6 L1080.6,2233.3 L1083.3,2232.9 L1085.8,2232.3 L1088.2,2231.4 L1090.3,2230.2M1108.0,2210.4 L1110.3,2209.2 L1112.7,2208.4 L1115.2,2207.9 L1117.9,2207.7 L1120.7,2207.6M1120.7,2207.6 L1123.5,2207.7 L1126.3,2207.8 L1129.1,2207.7 L1131.7,2207.6 L1134.3,2207.1M1154.0,2189.9 L1156.1,2188.3 L1158.3,2187.1 L1160.7,2186.2 L1163.2,2185.7 L1165.8,2185.5M1165.8,2185.5 L1168.5,2185.6 L1171.3,2185.8 L1174.1,2186.2 L1176.9,2186.5 L1179.6,2186.8M1179.6,2186.8 L1182.2,2186.8 L1184.8,2186.6 L1187.2,2186.1 L1189.6,2185.2 L1191.8,2184.0M1212.9,2168.3 L1215.5,2168.0 L1218.1,2168.0 L1220.8,2168.2 L1223.6,2168.6 L1226.3,2169.1M1226.3,2169.1 L1229.1,2169.5 L1231.8,2169.9 L1234.5,2170.0 L1237.0,2169.8 L1239.5,2169.3M1260.9,2153.6 L1263.2,2152.7 L1265.7,2152.2 L1268.2,2152.0 L1270.9,2152.1 L1273.6,2152.5M1273.6,2152.5 L1276.3,2153.0 L1279.1,2153.5 L1281.8,2154.0 L1284.5,2154.4 L1287.2,2154.5M1309.3,2140.9 L1311.5,2139.4 L1313.7,2138.3 L1316.1,2137.5 L1318.6,2137.0 L1321.2,2136.9M1321.2,2136.9 L1323.8,2137.1 L1326.5,2137.5 L1329.3,2138.1 L1332.0,2138.6 L1334.8,2139.1M1334.8,2139.1 L1337.5,2139.4 L1340.1,2139.5 L1342.7,2139.2 L1345.1,2138.5 L1347.4,2137.5M1368.0,2120.7 L1370.4,2120.1 L1373.0,2119.8 L1375.6,2119.7 L1378.4,2119.9 L1381.2,2120.1M1381.2,2120.1 L1384.0,2120.4 L1386.8,2120.5 L1389.5,2120.5 L1392.1,2120.2 L1394.5,2119.5M1413.5,2101.2 L1415.6,2099.7 L1417.8,2098.6 L1420.1,2097.7 L1422.7,2097.2 L1425.3,2096.9M1425.3,2096.9 L1428.1,2096.8 L1430.9,2096.7 L1433.7,2096.6 L1436.5,2096.4 L1439.1,2096.0M1466.9,2069.7 L1469.4,2069.0 L1472.1,2068.4 L1474.8,2068.0 L1477.6,2067.7 L1480.4,2067.3M1480.4,2067.3 L1483.1,2066.9 L1485.7,2066.2 L1488.1,2065.3 L1490.4,2064.1 L1492.4,2062.6M1506.6,2040.3 L1508.5,2038.8 L1510.6,2037.4 L1512.9,2036.3 L1515.4,2035.4 L1518.0,2034.5M1518.0,2034.5 L1520.7,2033.6 L1523.3,2032.6 L1525.8,2031.5 L1528.2,2030.3 L1530.3,2028.9M1530.3,2028.9 L1532.2,2027.3" fill="none" stroke="#9c8ad8" stroke-width="3.9" stroke-linecap="round"/>
<path d="M1008.2,2125.4 L1010.7,2125.6 L1013.3,2125.5 L1015.8,2125.1 L1018.4,2124.4 L1021.0,2123.5 L1023.6,2122.5M1023.6,2122.5 L1026.2,2121.5 L1028.9,2120.5 L1031.5,2119.6 L1034.1,2119.0 L1036.7,2118.5 L1039.2,2118.4M1067.4,2132.9 L1069.8,2133.6 L1072.2,2134.1 L1074.7,2134.2 L1077.2,2134.1 L1079.8,2133.7 L1082.5,2133.1M1082.5,2133.1 L1085.2,2132.4 L1087.9,2131.7 L1090.6,2131.0 L1093.4,2130.4 L1096.1,2130.1 L1098.7,2130.0M1124.5,2147.6 L1126.5,2149.2 L1128.7,2150.5 L1130.9,2151.5 L1133.2,2152.2 L1135.7,2152.7 L1138.3,2152.9M1138.3,2152.9 L1141.0,2153.0 L1143.8,2153.0 L1146.6,2152.9 L1149.4,2152.8 L1152.2,2152.9 L1155.0,2153.2M1189.8,2183.2 L1192.4,2183.7 L1195.1,2184.0 L1197.8,2184.2 L1200.6,2184.2 L1203.5,2184.3 L1206.2,2184.4M1206.2,2184.4 L1209.0,2184.6 L1211.6,2184.9 L1214.1,2185.6 L1216.4,2186.4 L1218.6,2187.6 L1220.7,2189.1M1242.6,2211.9 L1245.0,2212.7 L1247.5,2213.2 L1250.2,2213.5 L1253.0,2213.7 L1255.8,2213.7 L1258.6,2213.7M1258.6,2213.7 L1261.4,2213.8 L1264.1,2213.9 L1266.8,2214.3 L1269.3,2214.8 L1271.7,2215.7 L1273.9,2216.8M1295.1,2240.4 L1297.2,2241.6 L1299.5,2242.6 L1302.0,2243.3 L1304.6,2243.8 L1307.3,2244.2 L1310.0,2244.5M1310.0,2244.5 L1312.8,2244.8 L1315.6,2245.1 L1318.3,2245.5 L1321.0,2246.0M993.4,2123.2 L995.9,2122.7 L998.5,2122.0 L1001.1,2121.0 L1003.8,2120.0 L1006.4,2118.9 L1009.0,2118.0M1009.0,2118.0 L1011.6,2117.1 L1014.2,2116.5 L1016.7,2116.1 L1019.3,2116.0 L1021.7,2116.3 L1024.2,2116.9M1052.6,2130.7 L1055.2,2130.6 L1057.7,2130.3 L1060.4,2129.7 L1063.0,2129.0 L1065.7,2128.1 L1068.4,2127.3M1068.4,2127.3 L1071.1,2126.5 L1073.7,2125.8 L1076.4,2125.4 L1079.0,2125.2 L1081.5,2125.3 L1084.0,2125.8M1110.3,2143.6 L1112.6,2144.4 L1115.1,2144.8 L1117.6,2145.0 L1120.2,2145.0 L1122.9,2144.8 L1125.7,2144.5M1125.7,2144.5 L1128.5,2144.3 L1131.3,2144.0 L1134.1,2143.9 L1136.8,2144.0 L1139.4,2144.4 L1141.9,2145.0M1163.6,2168.1 L1165.5,2169.7 L1167.7,2171.0 L1170.0,2172.1 L1172.4,2172.8 L1175.0,2173.4 L1177.8,2173.8M1177.8,2173.8 L1180.6,2174.0 L1183.4,2174.1 L1186.2,2174.3 L1188.9,2174.4 L1191.6,2174.8 L1194.2,2175.3M1216.5,2197.0 L1218.4,2198.8 L1220.4,2200.3 L1222.6,2201.5 L1225.0,2202.4 L1227.4,2203.1 L1230.0,2203.5M1230.0,2203.5 L1232.7,2203.8 L1235.5,2203.9 L1238.3,2203.9 L1241.1,2203.9 L1243.9,2204.0 L1246.6,2204.3M1282.5,2232.5 L1285.1,2233.0 L1287.8,2233.3 L1290.5,2233.5 L1293.3,2233.6 L1296.1,2233.7 L1298.9,2233.9M1298.9,2233.9 L1301.6,2234.3 L1304.3,2234.9 L1306.7,2235.7 L1309.1,2236.8 L1311.2,2238.1 L1313.1,2239.8M1023.2,2125.8 L1025.6,2126.8 L1028.1,2127.4 L1030.5,2127.8 L1033.0,2127.8 L1035.6,2127.6 L1038.1,2127.0M1038.1,2127.0 L1040.7,2126.3 L1043.4,2125.4 L1046.0,2124.5 L1048.7,2123.6 L1051.3,2122.7 L1054.0,2122.1M1096.4,2138.7 L1099.0,2138.6 L1101.6,2138.3 L1104.3,2137.9 L1107.1,2137.4 L1109.9,2136.9 L1112.6,2136.5M1112.6,2136.5 L1115.4,2136.3 L1118.1,2136.3 L1120.7,2136.5 L1123.2,2137.1 L1125.6,2138.0 L1127.8,2139.3M1150.8,2160.8 L1153.1,2161.6 L1155.6,2162.2 L1158.3,2162.6 L1161.0,2162.9 L1163.8,2163.1 L1166.6,2163.3M1166.6,2163.3 L1169.4,2163.5 L1172.1,2163.9 L1174.7,2164.4 L1177.2,2165.1 L1179.5,2166.1 L1181.6,2167.3M1202.7,2191.0 L1205.0,2192.1 L1207.3,2192.9 L1209.9,2193.5 L1212.5,2193.9 L1215.3,2194.0 L1218.1,2194.1M1218.1,2194.1 L1220.9,2194.1 L1223.7,2194.1 L1226.4,2194.3 L1229.1,2194.6 L1231.7,2195.1 L1234.1,2195.9M1255.9,2218.7 L1258.0,2220.2 L1260.2,2221.3 L1262.6,2222.2 L1265.1,2222.8 L1267.7,2223.2 L1270.4,2223.4M1270.4,2223.4 L1273.2,2223.5 L1276.0,2223.5 L1278.8,2223.6 L1281.6,2223.7 L1284.3,2224.0 L1286.9,2224.5" fill="none" stroke="#ffffff" stroke-width="5.6" stroke-linecap="round" stroke-opacity="0.9"/>
<path d="M1008.2,2125.4 L1010.7,2125.6 L1013.3,2125.5 L1015.8,2125.1 L1018.4,2124.4 L1021.0,2123.5 L1023.6,2122.5M1023.6,2122.5 L1026.2,2121.5 L1028.9,2120.5 L1031.5,2119.6 L1034.1,2119.0 L1036.7,2118.5 L1039.2,2118.4M1067.4,2132.9 L1069.8,2133.6 L1072.2,2134.1 L1074.7,2134.2 L1077.2,2134.1 L1079.8,2133.7 L1082.5,2133.1M1082.5,2133.1 L1085.2,2132.4 L1087.9,2131.7 L1090.6,2131.0 L1093.4,2130.4 L1096.1,2130.1 L1098.7,2130.0M1124.5,2147.6 L1126.5,2149.2 L1128.7,2150.5 L1130.9,2151.5 L1133.2,2152.2 L1135.7,2152.7 L1138.3,2152.9M1138.3,2152.9 L1141.0,2153.0 L1143.8,2153.0 L1146.6,2152.9 L1149.4,2152.8 L1152.2,2152.9 L1155.0,2153.2M1189.8,2183.2 L1192.4,2183.7 L1195.1,2184.0 L1197.8,2184.2 L1200.6,2184.2 L1203.5,2184.3 L1206.2,2184.4M1206.2,2184.4 L1209.0,2184.6 L1211.6,2184.9 L1214.1,2185.6 L1216.4,2186.4 L1218.6,2187.6 L1220.7,2189.1M1242.6,2211.9 L1245.0,2212.7 L1247.5,2213.2 L1250.2,2213.5 L1253.0,2213.7 L1255.8,2213.7 L1258.6,2213.7M1258.6,2213.7 L1261.4,2213.8 L1264.1,2213.9 L1266.8,2214.3 L1269.3,2214.8 L1271.7,2215.7 L1273.9,2216.8M1295.1,2240.4 L1297.2,2241.6 L1299.5,2242.6 L1302.0,2243.3 L1304.6,2243.8 L1307.3,2244.2 L1310.0,2244.5M1310.0,2244.5 L1312.8,2244.8 L1315.6,2245.1 L1318.3,2245.5 L1321.0,2246.0" fill="none" stroke="#7a66b4" stroke-width="4.5" stroke-linecap="round"/>
<path d="M993.4,2123.2 L995.9,2122.7 L998.5,2122.0 L1001.1,2121.0 L1003.8,2120.0 L1006.4,2118.9 L1009.0,2118.0M1009.0,2118.0 L1011.6,2117.1 L1014.2,2116.5 L1016.7,2116.1 L1019.3,2116.0 L1021.7,2116.3 L1024.2,2116.9M1052.6,2130.7 L1055.2,2130.6 L1057.7,2130.3 L1060.4,2129.7 L1063.0,2129.0 L1065.7,2128.1 L1068.4,2127.3M1068.4,2127.3 L1071.1,2126.5 L1073.7,2125.8 L1076.4,2125.4 L1079.0,2125.2 L1081.5,2125.3 L1084.0,2125.8M1110.3,2143.6 L1112.6,2144.4 L1115.1,2144.8 L1117.6,2145.0 L1120.2,2145.0 L1122.9,2144.8 L1125.7,2144.5M1125.7,2144.5 L1128.5,2144.3 L1131.3,2144.0 L1134.1,2143.9 L1136.8,2144.0 L1139.4,2144.4 L1141.9,2145.0M1163.6,2168.1 L1165.5,2169.7 L1167.7,2171.0 L1170.0,2172.1 L1172.4,2172.8 L1175.0,2173.4 L1177.8,2173.8M1177.8,2173.8 L1180.6,2174.0 L1183.4,2174.1 L1186.2,2174.3 L1188.9,2174.4 L1191.6,2174.8 L1194.2,2175.3M1216.5,2197.0 L1218.4,2198.8 L1220.4,2200.3 L1222.6,2201.5 L1225.0,2202.4 L1227.4,2203.1 L1230.0,2203.5M1230.0,2203.5 L1232.7,2203.8 L1235.5,2203.9 L1238.3,2203.9 L1241.1,2203.9 L1243.9,2204.0 L1246.6,2204.3M1282.5,2232.5 L1285.1,2233.0 L1287.8,2233.3 L1290.5,2233.5 L1293.3,2233.6 L1296.1,2233.7 L1298.9,2233.9M1298.9,2233.9 L1301.6,2234.3 L1304.3,2234.9 L1306.7,2235.7 L1309.1,2236.8 L1311.2,2238.1 L1313.1,2239.8" fill="none" stroke="#8f9fdc" stroke-width="4.5" stroke-linecap="round"/>
<path d="M1023.2,2125.8 L1025.6,2126.8 L1028.1,2127.4 L1030.5,2127.8 L1033.0,2127.8 L1035.6,2127.6 L1038.1,2127.0M1038.1,2127.0 L1040.7,2126.3 L1043.4,2125.4 L1046.0,2124.5 L1048.7,2123.6 L1051.3,2122.7 L1054.0,2122.1M1096.4,2138.7 L1099.0,2138.6 L1101.6,2138.3 L1104.3,2137.9 L1107.1,2137.4 L1109.9,2136.9 L1112.6,2136.5M1112.6,2136.5 L1115.4,2136.3 L1118.1,2136.3 L1120.7,2136.5 L1123.2,2137.1 L1125.6,2138.0 L1127.8,2139.3M1150.8,2160.8 L1153.1,2161.6 L1155.6,2162.2 L1158.3,2162.6 L1161.0,2162.9 L1163.8,2163.1 L1166.6,2163.3M1166.6,2163.3 L1169.4,2163.5 L1172.1,2163.9 L1174.7,2164.4 L1177.2,2165.1 L1179.5,2166.1 L1181.6,2167.3M1202.7,2191.0 L1205.0,2192.1 L1207.3,2192.9 L1209.9,2193.5 L1212.5,2193.9 L1215.3,2194.0 L1218.1,2194.1M1218.1,2194.1 L1220.9,2194.1 L1223.7,2194.1 L1226.4,2194.3 L1229.1,2194.6 L1231.7,2195.1 L1234.1,2195.9M1255.9,2218.7 L1258.0,2220.2 L1260.2,2221.3 L1262.6,2222.2 L1265.1,2222.8 L1267.7,2223.2 L1270.4,2223.4M1270.4,2223.4 L1273.2,2223.5 L1276.0,2223.5 L1278.8,2223.6 L1281.6,2223.7 L1284.3,2224.0 L1286.9,2224.5" fill="none" stroke="#b89cd8" stroke-width="4.5" stroke-linecap="round"/>
<path d="M993.8,2118.7 L996.2,2120.3 L998.6,2121.7 L1000.9,2123.0 L1003.4,2124.1 L1005.8,2124.9 L1008.2,2125.4M1039.2,2118.4 L1041.8,2118.6 L1044.2,2119.1 L1046.7,2120.0 L1049.1,2121.1 L1051.4,2122.5 L1053.7,2124.1M1053.7,2124.1 L1055.9,2125.7 L1058.2,2127.4 L1060.5,2129.0 L1062.7,2130.5 L1065.0,2131.8 L1067.4,2132.9M1098.7,2130.0 L1101.3,2130.1 L1103.8,2130.7 L1106.2,2131.5 L1108.5,2132.7 L1110.8,2134.1 L1112.9,2135.9M1112.9,2135.9 L1114.9,2137.8 L1116.8,2139.8 L1118.7,2141.9 L1120.6,2143.9 L1122.5,2145.9 L1124.5,2147.6M1155.0,2153.2 L1157.6,2153.7 L1160.1,2154.5 L1162.4,2155.5 L1164.6,2156.9 L1166.5,2158.5 L1168.3,2160.5M1168.3,2160.5 L1170.0,2162.6 L1171.5,2164.8 L1173.0,2167.2 L1174.4,2169.7 L1175.9,2172.1 L1177.4,2174.4M1177.4,2174.4 L1179.1,2176.5 L1180.9,2178.4 L1182.9,2180.1 L1185.0,2181.4 L1187.3,2182.5 L1189.8,2183.2M1220.7,2189.1 L1222.6,2190.8 L1224.4,2192.7 L1226.1,2194.9 L1227.8,2197.1 L1229.4,2199.4 L1231.0,2201.8M1231.0,2201.8 L1232.6,2204.0 L1234.4,2206.0 L1236.2,2207.9 L1238.2,2209.5 L1240.3,2210.9 L1242.6,2211.9M1273.9,2216.8 L1276.0,2218.2 L1278.0,2219.9 L1279.8,2221.8 L1281.5,2223.9 L1283.1,2226.2 L1284.7,2228.5M1284.7,2228.5 L1286.3,2230.8 L1287.9,2233.1 L1289.5,2235.2 L1291.2,2237.2 L1293.1,2238.9 L1295.1,2240.4M1024.2,2116.9 L1026.6,2117.8 L1029.0,2118.9 L1031.4,2120.3 L1033.7,2121.8 L1036.1,2123.4 L1038.4,2125.0M1038.4,2125.0 L1040.7,2126.5 L1043.0,2127.9 L1045.4,2129.0 L1047.7,2129.8 L1050.2,2130.4 L1052.6,2130.7M1084.0,2125.8 L1086.5,2126.6 L1088.8,2127.7 L1091.1,2129.0 L1093.3,2130.7 L1095.5,2132.5 L1097.6,2134.3M1097.6,2134.3 L1099.6,2136.3 L1101.7,2138.1 L1103.7,2139.8 L1105.8,2141.3 L1108.0,2142.6 L1110.3,2143.6M1141.9,2145.0 L1144.3,2146.0 L1146.5,2147.2 L1148.6,2148.8 L1150.5,2150.6 L1152.3,2152.7 L1154.0,2155.0M1154.0,2155.0 L1155.6,2157.3 L1157.1,2159.7 L1158.6,2162.0 L1160.2,2164.2 L1161.8,2166.3 L1163.6,2168.1M1194.2,2175.3 L1196.6,2176.0 L1198.9,2177.0 L1201.0,2178.3 L1203.0,2179.9 L1204.8,2181.7 L1206.6,2183.8M1206.6,2183.8 L1208.2,2186.0 L1209.8,2188.3 L1211.4,2190.6 L1213.1,2192.9 L1214.7,2195.0 L1216.5,2197.0M1246.6,2204.3 L1249.2,2204.7 L1251.7,2205.3 L1254.0,2206.3 L1256.2,2207.5 L1258.2,2209.0 L1260.1,2210.8M1260.1,2210.8 L1261.9,2212.8 L1263.6,2214.9 L1265.2,2217.2 L1266.8,2219.5 L1268.4,2221.8 L1270.1,2224.0M1270.1,2224.0 L1271.8,2226.1 L1273.7,2227.9 L1275.7,2229.4 L1277.8,2230.7 L1280.1,2231.7 L1282.5,2232.5M1313.1,2239.8 L1314.9,2241.7 L1316.5,2243.8 L1318.0,2246.1 L1319.4,2248.5M994.3,2114.2 L996.9,2114.0 L999.3,2114.0 L1001.8,2114.4 L1004.2,2115.1 L1006.7,2116.1 L1009.1,2117.3M1009.1,2117.3 L1011.4,2118.7 L1013.8,2120.2 L1016.1,2121.8 L1018.5,2123.3 L1020.9,2124.6 L1023.2,2125.8M1054.0,2122.1 L1056.6,2121.6 L1059.2,2121.5 L1061.7,2121.6 L1064.2,2122.1 L1066.6,2122.9 L1068.9,2124.0M1068.9,2124.0 L1071.3,2125.4 L1073.5,2126.9 L1075.8,2128.6 L1078.0,2130.4 L1080.2,2132.1 L1082.4,2133.8M1082.4,2133.8 L1084.6,2135.3 L1086.8,2136.5 L1089.1,2137.5 L1091.5,2138.2 L1093.9,2138.6 L1096.4,2138.7M1127.8,2139.3 L1129.9,2140.8 L1131.9,2142.6 L1133.8,2144.6 L1135.7,2146.7 L1137.4,2148.9 L1139.2,2151.1M1139.2,2151.1 L1140.9,2153.2 L1142.7,2155.2 L1144.6,2157.0 L1146.6,2158.5 L1148.6,2159.8 L1150.8,2160.8M1181.6,2167.3 L1183.6,2168.8 L1185.5,2170.5 L1187.2,2172.5 L1188.8,2174.6 L1190.4,2176.9 L1192.0,2179.3M1192.0,2179.3 L1193.5,2181.6 L1195.2,2183.8 L1196.9,2186.0 L1198.7,2187.9 L1200.6,2189.6 L1202.7,2191.0M1234.1,2195.9 L1236.4,2196.9 L1238.5,2198.3 L1240.5,2199.9 L1242.3,2201.8 L1244.0,2203.8 L1245.7,2206.0M1245.7,2206.0 L1247.3,2208.4 L1248.9,2210.7 L1250.5,2212.9 L1252.2,2215.1 L1254.0,2217.0 L1255.9,2218.7M1286.9,2224.5 L1289.3,2225.3 L1291.6,2226.3 L1293.8,2227.7 L1295.8,2229.3 L1297.6,2231.2 L1299.3,2233.4M1299.3,2233.4 L1300.8,2235.7 L1302.3,2238.1 L1303.7,2240.5 L1305.2,2242.9 L1306.6,2245.2 L1308.2,2247.3M1308.2,2247.3 L1309.9,2249.2 L1311.8,2250.9 L1313.9,2252.4 L1316.1,2253.5" fill="none" stroke="#ffffff" stroke-width="5.6" stroke-linecap="round" stroke-opacity="0.9"/>
<path d="M993.8,2118.7 L996.2,2120.3 L998.6,2121.7 L1000.9,2123.0 L1003.4,2124.1 L1005.8,2124.9 L1008.2,2125.4M1039.2,2118.4 L1041.8,2118.6 L1044.2,2119.1 L1046.7,2120.0 L1049.1,2121.1 L1051.4,2122.5 L1053.7,2124.1M1053.7,2124.1 L1055.9,2125.7 L1058.2,2127.4 L1060.5,2129.0 L1062.7,2130.5 L1065.0,2131.8 L1067.4,2132.9M1098.7,2130.0 L1101.3,2130.1 L1103.8,2130.7 L1106.2,2131.5 L1108.5,2132.7 L1110.8,2134.1 L1112.9,2135.9M1112.9,2135.9 L1114.9,2137.8 L1116.8,2139.8 L1118.7,2141.9 L1120.6,2143.9 L1122.5,2145.9 L1124.5,2147.6M1155.0,2153.2 L1157.6,2153.7 L1160.1,2154.5 L1162.4,2155.5 L1164.6,2156.9 L1166.5,2158.5 L1168.3,2160.5M1168.3,2160.5 L1170.0,2162.6 L1171.5,2164.8 L1173.0,2167.2 L1174.4,2169.7 L1175.9,2172.1 L1177.4,2174.4M1177.4,2174.4 L1179.1,2176.5 L1180.9,2178.4 L1182.9,2180.1 L1185.0,2181.4 L1187.3,2182.5 L1189.8,2183.2M1220.7,2189.1 L1222.6,2190.8 L1224.4,2192.7 L1226.1,2194.9 L1227.8,2197.1 L1229.4,2199.4 L1231.0,2201.8M1231.0,2201.8 L1232.6,2204.0 L1234.4,2206.0 L1236.2,2207.9 L1238.2,2209.5 L1240.3,2210.9 L1242.6,2211.9M1273.9,2216.8 L1276.0,2218.2 L1278.0,2219.9 L1279.8,2221.8 L1281.5,2223.9 L1283.1,2226.2 L1284.7,2228.5M1284.7,2228.5 L1286.3,2230.8 L1287.9,2233.1 L1289.5,2235.2 L1291.2,2237.2 L1293.1,2238.9 L1295.1,2240.4" fill="none" stroke="#7a66b4" stroke-width="4.5" stroke-linecap="round"/>
<path d="M1024.2,2116.9 L1026.6,2117.8 L1029.0,2118.9 L1031.4,2120.3 L1033.7,2121.8 L1036.1,2123.4 L1038.4,2125.0M1038.4,2125.0 L1040.7,2126.5 L1043.0,2127.9 L1045.4,2129.0 L1047.7,2129.8 L1050.2,2130.4 L1052.6,2130.7M1084.0,2125.8 L1086.5,2126.6 L1088.8,2127.7 L1091.1,2129.0 L1093.3,2130.7 L1095.5,2132.5 L1097.6,2134.3M1097.6,2134.3 L1099.6,2136.3 L1101.7,2138.1 L1103.7,2139.8 L1105.8,2141.3 L1108.0,2142.6 L1110.3,2143.6M1141.9,2145.0 L1144.3,2146.0 L1146.5,2147.2 L1148.6,2148.8 L1150.5,2150.6 L1152.3,2152.7 L1154.0,2155.0M1154.0,2155.0 L1155.6,2157.3 L1157.1,2159.7 L1158.6,2162.0 L1160.2,2164.2 L1161.8,2166.3 L1163.6,2168.1M1194.2,2175.3 L1196.6,2176.0 L1198.9,2177.0 L1201.0,2178.3 L1203.0,2179.9 L1204.8,2181.7 L1206.6,2183.8M1206.6,2183.8 L1208.2,2186.0 L1209.8,2188.3 L1211.4,2190.6 L1213.1,2192.9 L1214.7,2195.0 L1216.5,2197.0M1246.6,2204.3 L1249.2,2204.7 L1251.7,2205.3 L1254.0,2206.3 L1256.2,2207.5 L1258.2,2209.0 L1260.1,2210.8M1260.1,2210.8 L1261.9,2212.8 L1263.6,2214.9 L1265.2,2217.2 L1266.8,2219.5 L1268.4,2221.8 L1270.1,2224.0M1270.1,2224.0 L1271.8,2226.1 L1273.7,2227.9 L1275.7,2229.4 L1277.8,2230.7 L1280.1,2231.7 L1282.5,2232.5M1313.1,2239.8 L1314.9,2241.7 L1316.5,2243.8 L1318.0,2246.1 L1319.4,2248.5" fill="none" stroke="#8f9fdc" stroke-width="4.5" stroke-linecap="round"/>
<path d="M994.3,2114.2 L996.9,2114.0 L999.3,2114.0 L1001.8,2114.4 L1004.2,2115.1 L1006.7,2116.1 L1009.1,2117.3M1009.1,2117.3 L1011.4,2118.7 L1013.8,2120.2 L1016.1,2121.8 L1018.5,2123.3 L1020.9,2124.6 L1023.2,2125.8M1054.0,2122.1 L1056.6,2121.6 L1059.2,2121.5 L1061.7,2121.6 L1064.2,2122.1 L1066.6,2122.9 L1068.9,2124.0M1068.9,2124.0 L1071.3,2125.4 L1073.5,2126.9 L1075.8,2128.6 L1078.0,2130.4 L1080.2,2132.1 L1082.4,2133.8M1082.4,2133.8 L1084.6,2135.3 L1086.8,2136.5 L1089.1,2137.5 L1091.5,2138.2 L1093.9,2138.6 L1096.4,2138.7M1127.8,2139.3 L1129.9,2140.8 L1131.9,2142.6 L1133.8,2144.6 L1135.7,2146.7 L1137.4,2148.9 L1139.2,2151.1M1139.2,2151.1 L1140.9,2153.2 L1142.7,2155.2 L1144.6,2157.0 L1146.6,2158.5 L1148.6,2159.8 L1150.8,2160.8M1181.6,2167.3 L1183.6,2168.8 L1185.5,2170.5 L1187.2,2172.5 L1188.8,2174.6 L1190.4,2176.9 L1192.0,2179.3M1192.0,2179.3 L1193.5,2181.6 L1195.2,2183.8 L1196.9,2186.0 L1198.7,2187.9 L1200.6,2189.6 L1202.7,2191.0M1234.1,2195.9 L1236.4,2196.9 L1238.5,2198.3 L1240.5,2199.9 L1242.3,2201.8 L1244.0,2203.8 L1245.7,2206.0M1245.7,2206.0 L1247.3,2208.4 L1248.9,2210.7 L1250.5,2212.9 L1252.2,2215.1 L1254.0,2217.0 L1255.9,2218.7M1286.9,2224.5 L1289.3,2225.3 L1291.6,2226.3 L1293.8,2227.7 L1295.8,2229.3 L1297.6,2231.2 L1299.3,2233.4M1299.3,2233.4 L1300.8,2235.7 L1302.3,2238.1 L1303.7,2240.5 L1305.2,2242.9 L1306.6,2245.2 L1308.2,2247.3M1308.2,2247.3 L1309.9,2249.2 L1311.8,2250.9 L1313.9,2252.4 L1316.1,2253.5" fill="none" stroke="#b89cd8" stroke-width="4.5" stroke-linecap="round"/>
<polygon points="1033.0,2202.8 1029.0,2208.3 1021.0,2208.3 1016.9,2202.8 1021.0,2197.3 1029.0,2197.3" fill="#1f3c6b"/>
<polygon points="1051.0,2203.6 1047.0,2209.1 1038.9,2209.1 1034.9,2203.6 1038.9,2198.2 1047.0,2198.2" fill="#4b4a8f"/>
<polygon points="1069.0,2204.5 1065.0,2210.0 1056.9,2210.0 1052.9,2204.5 1056.9,2199.1 1065.0,2199.1" fill="#1f3c6b"/>
<polygon points="1086.9,2205.8 1082.9,2211.2 1074.9,2211.2 1070.8,2205.8 1074.9,2200.3 1082.9,2200.3" fill="#4b4a8f"/>
<polygon points="1104.8,2207.9 1100.8,2213.3 1092.7,2213.3 1088.7,2207.9 1092.7,2202.4 1100.8,2202.4" fill="#1f3c6b"/>
<polygon points="1122.6,2210.6 1118.6,2216.1 1110.5,2216.1 1106.5,2210.6 1110.5,2205.2 1118.6,2205.2" fill="#4b4a8f"/>
<polygon points="1140.3,2214.1 1136.2,2219.6 1128.2,2219.6 1124.2,2214.1 1128.2,2208.6 1136.2,2208.6" fill="#1f3c6b"/>
<polygon points="1157.6,2219.0 1153.6,2224.4 1145.5,2224.4 1141.5,2219.0 1145.5,2213.5 1153.6,2213.5" fill="#4b4a8f"/>
<polygon points="1174.4,2225.5 1170.3,2230.9 1162.3,2230.9 1158.3,2225.5 1162.3,2220.0 1170.3,2220.0" fill="#1f3c6b"/>
<polygon points="1191.1,2232.1 1187.1,2237.5 1179.0,2237.5 1175.0,2232.1 1179.0,2226.6 1187.1,2226.6" fill="#4b4a8f"/>
<polygon points="1207.7,2239.0 1203.7,2244.4 1195.7,2244.4 1191.6,2239.0 1195.7,2233.5 1203.7,2233.5" fill="#1f3c6b"/>
<polygon points="1136.8,2259.9 1132.8,2265.4 1124.8,2265.4 1120.7,2259.9 1124.8,2254.4 1132.8,2254.4" fill="#1f3c6b"/>
<polygon points="1150.3,2248.0 1146.3,2253.4 1138.2,2253.4 1134.2,2248.0 1138.2,2242.5 1146.3,2242.5" fill="#4b4a8f"/>
<polygon points="1163.8,2236.0 1159.7,2241.4 1151.7,2241.4 1147.7,2236.0 1151.7,2230.5 1159.7,2230.5" fill="#1f3c6b"/>
<polygon points="1176.9,2223.7 1172.9,2229.2 1164.9,2229.2 1160.8,2223.7 1164.9,2218.3 1172.9,2218.3" fill="#4b4a8f"/>
<polygon points="1189.9,2211.3 1185.9,2216.7 1177.9,2216.7 1173.8,2211.3 1177.9,2205.8 1185.9,2205.8" fill="#1f3c6b"/>
<polygon points="1204.0,2200.1 1200.0,2205.6 1191.9,2205.6 1187.9,2200.1 1191.9,2194.6 1200.0,2194.6" fill="#4b4a8f"/>
<polygon points="1219.3,2190.5 1215.2,2196.0 1207.2,2196.0 1203.2,2190.5 1207.2,2185.1 1215.2,2185.1" fill="#1f3c6b"/>
<polygon points="1235.2,2182.2 1231.2,2187.7 1223.1,2187.7 1219.1,2182.2 1223.1,2176.7 1231.2,2176.7" fill="#4b4a8f"/>
<polygon points="1251.8,2175.2 1247.8,2180.7 1239.7,2180.7 1235.7,2175.2 1239.7,2169.8 1247.8,2169.8" fill="#1f3c6b"/>
<polygon points="1268.9,2169.7 1264.9,2175.1 1256.8,2175.1 1252.8,2169.7 1256.8,2164.2 1264.9,2164.2" fill="#4b4a8f"/>
<polygon points="1286.4,2165.5 1282.4,2170.9 1274.3,2170.9 1270.3,2165.5 1274.3,2160.0 1282.4,2160.0" fill="#1f3c6b"/>
<polygon points="1304.1,2162.3 1300.1,2167.7 1292.1,2167.7 1288.0,2162.3 1292.1,2156.8 1300.1,2156.8" fill="#4b4a8f"/>
<polygon points="1322.0,2160.4 1318.0,2165.8 1309.9,2165.8 1305.9,2160.4 1309.9,2154.9 1318.0,2154.9" fill="#1f3c6b"/>
<polygon points="1340.0,2159.0 1335.9,2164.5 1327.9,2164.5 1323.9,2159.0 1327.9,2153.6 1335.9,2153.6" fill="#4b4a8f"/>
<polygon points="1357.9,2157.5 1353.9,2162.9 1345.8,2162.9 1341.8,2157.5 1345.8,2152.0 1353.9,2152.0" fill="#1f3c6b"/>
<polygon points="1375.7,2155.0 1371.7,2160.5 1363.7,2160.5 1359.6,2155.0 1363.7,2149.5 1371.7,2149.5" fill="#4b4a8f"/>
<polygon points="1393.5,2152.0 1389.5,2157.5 1381.4,2157.5 1377.4,2152.0 1381.4,2146.6 1389.5,2146.6" fill="#1f3c6b"/>
<polygon points="1411.2,2148.7 1407.1,2154.1 1399.1,2154.1 1395.1,2148.7 1399.1,2143.2 1407.1,2143.2" fill="#4b4a8f"/>
<polygon points="1428.7,2144.7 1424.7,2150.1 1416.6,2150.1 1412.6,2144.7 1416.6,2139.2 1424.7,2139.2" fill="#1f3c6b"/>
<polygon points="1446.0,2139.7 1442.0,2145.2 1433.9,2145.2 1429.9,2139.7 1433.9,2134.3 1442.0,2134.3" fill="#4b4a8f"/>
<polygon points="1462.9,2133.6 1458.9,2139.0 1450.8,2139.0 1446.8,2133.6 1450.8,2128.1 1458.9,2128.1" fill="#1f3c6b"/>
<polygon points="1479.4,2126.4 1475.4,2131.8 1467.3,2131.8 1463.3,2126.4 1467.3,2120.9 1475.4,2120.9" fill="#4b4a8f"/>
<polygon points="1495.6,2118.5 1491.6,2124.0 1483.5,2124.0 1479.5,2118.5 1483.5,2113.1 1491.6,2113.1" fill="#1f3c6b"/>
<polygon points="1511.1,2109.3 1507.1,2114.8 1499.0,2114.8 1495.0,2109.3 1499.0,2103.9 1507.1,2103.9" fill="#4b4a8f"/>
<path d="M1004.2,2178.6 L1005.9,2179.8 L1007.6,2181.1 L1009.2,2182.3 L1011.0,2183.5 L1012.7,2184.6 L1014.5,2185.6 L1016.3,2186.5 L1018.2,2187.2 L1020.2,2187.9 L1022.2,2188.4 L1024.2,2188.8 L1026.3,2189.0 L1028.4,2189.1 L1030.5,2189.1 L1032.6,2188.9 L1034.7,2188.6 L1036.8,2188.3 L1038.8,2187.9 L1040.9,2187.5 L1042.9,2187.0 L1044.9,2186.7 L1046.9,2186.3 L1048.9,2186.0 L1050.9,2185.8 L1052.9,2185.7 L1054.8,2185.7 L1056.8,2185.7 L1058.7,2185.8 L1060.7,2186.1 L1062.7,2186.4 L1064.7,2186.7 L1066.7,2187.2 L1068.7,2187.6 L1070.7,2188.0 L1072.7,2188.5 L1074.8,2188.9 L1076.9,2189.2 L1078.9,2189.5 L1081.0,2189.7 L1083.1,2189.8 L1085.1,2189.8 L1087.2,2189.7 L1089.2,2189.5 L1091.2,2189.2 L1093.1,2188.7 L1095.0,2188.1 L1096.9,2187.5 L1098.8,2186.7 L1100.7,2185.9 L1102.6,2185.1 L1104.5,2184.1 L1106.3,2183.2 L1108.2,2182.2 L1110.0,2181.2 L1111.9,2180.3 L1113.8,2179.4 L1115.6,2178.6 L1117.5,2177.8 L1119.4,2177.2 L1121.3,2176.6 L1123.2,2176.1 L1125.2,2175.7 L1127.1,2175.4 L1129.1,2175.2 L1131.1,2175.1 L1133.2,2175.1 L1135.2,2175.1 L1137.3,2175.2 L1139.4,2175.3 L1141.5,2175.4 L1143.6,2175.6 L1145.7,2175.7 L1147.7,2175.7 L1149.8,2175.7 L1151.9,2175.6 L1153.9,2175.4 L1155.9,2175.1 L1157.9,2174.7 L1159.9,2174.1 L1161.8,2173.4 L1163.7,2172.5 L1165.5,2171.6 L1167.3,2170.5 L1169.0,2169.3 L1170.7,2168.0 L1172.3,2166.6 L1173.8,2165.1 L1175.3,2163.6 L1176.8,2162.1 L1178.2,2160.6 L1179.6,2159.2 L1181.1,2157.7 L1182.5,2156.4 L1184.0,2155.1 L1185.6,2153.8 L1187.2,2152.7 L1188.9,2151.6 L1190.6,2150.6 L1192.4,2149.7 L1194.3,2148.9 L1196.2,2148.1 L1198.1,2147.4 L1200.1,2146.8" fill="none" stroke="#3fa7e3" stroke-width="1.8"/>
<path d="M1004.2,2178.6L996.4,2189.8M1004.3,2184.2L1002.3,2181.4L998.9,2180.4M1002.8,2185.9L1000.9,2183.3L997.9,2182.4M1001.3,2187.5L999.6,2185.2L996.8,2184.4M999.8,2189.2L998.3,2187.1L995.8,2186.4M998.4,2190.7L997.0,2188.9L994.8,2188.3M1013.2,2184.9L1019.8,2172.2M1018.4,2182.2L1014.9,2181.7L1012.5,2179.1M1019.2,2180.0L1016.0,2179.6L1013.8,2177.2M1020.0,2177.8L1017.1,2177.4L1015.2,2175.3M1020.8,2175.6L1018.3,2175.3L1016.5,2173.4M1021.6,2173.6L1019.3,2173.2L1017.7,2171.6M1023.5,2188.7L1021.0,2203.0M1025.9,2194.0L1022.9,2192.2L1019.4,2192.8M1025.2,2196.2L1022.4,2194.7L1019.3,2195.2M1024.5,2198.5L1022.0,2197.1L1019.1,2197.6M1023.8,2200.8L1021.6,2199.5L1019.0,2200.0M1023.2,2203.0L1021.2,2201.8L1018.9,2202.2M1034.4,2188.6L1033.0,2173.4M1037.3,2183.4L1034.1,2184.8L1030.7,2184.0M1036.8,2180.9L1033.8,2182.2L1030.7,2181.5M1036.2,2178.4L1033.6,2179.6L1030.8,2178.9M1035.7,2176.0L1033.4,2177.1L1030.8,2176.4M1035.2,2173.7L1033.1,2174.6L1030.9,2174.1M1045.3,2186.6L1047.2,2200.7M1049.2,2190.8L1045.7,2190.1L1042.6,2191.7M1049.2,2193.2L1046.1,2192.5L1043.2,2194.0M1049.2,2195.5L1046.4,2194.9L1043.8,2196.3M1049.3,2197.9L1046.7,2197.3L1044.4,2198.5M1049.3,2200.1L1047.0,2199.6L1045.0,2200.6M1056.2,2185.7L1056.6,2170.5M1059.7,2180.8L1056.3,2181.9L1053.0,2180.6M1059.4,2178.3L1056.4,2179.3L1053.4,2178.2M1059.2,2175.9L1056.5,2176.7L1053.8,2175.7M1059.0,2173.4L1056.5,2174.1L1054.1,2173.2M1058.8,2171.0L1056.6,2171.7L1054.5,2170.9M1067.1,2187.2L1065.3,2197.6M1069.7,2191.5L1066.6,2189.8L1063.2,2190.4M1069.1,2193.2L1066.3,2191.6L1063.2,2192.2M1068.6,2194.8L1066.0,2193.4L1063.2,2193.9M1068.0,2196.4L1065.7,2195.2L1063.2,2195.6M1067.5,2197.9L1065.5,2196.8L1063.2,2197.2M1077.9,2189.3L1079.2,2176.6M1081.6,2185.3L1078.2,2186.2L1075.0,2184.7M1081.5,2183.2L1078.4,2184.0L1075.5,2182.6M1081.5,2181.2L1078.7,2181.8L1076.0,2180.6M1081.4,2179.1L1078.9,2179.7L1076.5,2178.5M1081.3,2177.1L1079.1,2177.6L1077.0,2176.6M1088.8,2189.5L1090.8,2204.7M1092.8,2194.0L1089.3,2193.3L1086.2,2194.9M1092.8,2196.6L1089.7,2195.9L1086.8,2197.3M1092.8,2199.1L1090.0,2198.5L1087.4,2199.8M1092.9,2201.6L1090.3,2201.1L1088.0,2202.2M1092.9,2204.0L1090.7,2203.5L1088.6,2204.5M1099.4,2186.5L1094.4,2173.7M1100.8,2181.0L1098.1,2183.3L1094.6,2183.4M1099.7,2179.0L1097.3,2181.1L1094.1,2181.2M1098.7,2177.1L1096.5,2178.9L1093.6,2179.0M1097.6,2175.1L1095.6,2176.7L1093.0,2176.8M1096.6,2173.2L1094.8,2174.7L1092.5,2174.8M1109.2,2181.7L1115.6,2195.3M1114.3,2184.7L1110.8,2185.1L1108.3,2187.5M1115.1,2187.1L1111.9,2187.4L1109.6,2189.6M1115.9,2189.4L1113.0,2189.7L1110.9,2191.7M1116.7,2191.8L1114.1,2192.0L1112.2,2193.9M1117.4,2194.0L1115.1,2194.2L1113.5,2195.8M1119.3,2177.2L1116.0,2166.7M1121.3,2172.5L1118.5,2174.6L1115.0,2174.5M1120.5,2170.9L1117.9,2172.8L1114.7,2172.7M1119.7,2169.3L1117.4,2171.0L1114.5,2170.9M1118.9,2167.7L1116.8,2169.2L1114.2,2169.1M1118.1,2166.2L1116.3,2167.5L1114.0,2167.5M1130.1,2175.2L1131.1,2188.0M1133.7,2179.3L1130.3,2178.4L1127.1,2179.8M1133.6,2181.4L1130.5,2180.6L1127.6,2181.9M1133.5,2183.5L1130.7,2182.7L1128.0,2183.9M1133.4,2185.6L1130.9,2184.9L1128.5,2186.0M1133.3,2187.5L1131.0,2187.0L1128.9,2187.9M1141.1,2175.4L1141.3,2163.7M1144.4,2171.4L1141.1,2172.5L1137.8,2171.3M1144.2,2169.5L1141.1,2170.5L1138.1,2169.4M1143.9,2167.6L1141.2,2168.5L1138.5,2167.5M1143.7,2165.7L1141.2,2166.5L1138.8,2165.6M1143.4,2163.9L1141.3,2164.7L1139.1,2163.9M1152.0,2175.6L1153.5,2188.8M1155.8,2179.7L1152.4,2178.9L1149.2,2180.4M1155.8,2181.8L1152.7,2181.1L1149.8,2182.5M1155.7,2184.0L1152.9,2183.4L1150.3,2184.6M1155.7,2186.2L1153.2,2185.6L1150.8,2186.7M1155.6,2188.2L1153.4,2187.7L1151.3,2188.7M1162.7,2173.0L1157.3,2160.7M1163.9,2167.5L1161.3,2169.9L1157.8,2170.2M1162.8,2165.7L1160.4,2167.8L1157.2,2168.1M1161.6,2163.8L1159.5,2165.8L1156.6,2166.0M1160.5,2161.9L1158.6,2163.7L1156.0,2163.9M1159.4,2160.1L1157.8,2161.7L1155.5,2161.9M1171.8,2167.0L1178.4,2175.1M1176.8,2167.8L1173.5,2169.0L1171.6,2172.0M1177.6,2169.3L1174.6,2170.4L1172.9,2173.1M1178.5,2170.8L1175.7,2171.8L1174.2,2174.2M1179.3,2172.3L1176.9,2173.1L1175.5,2175.4M1180.1,2173.7L1177.9,2174.4L1176.7,2176.4M1179.6,2159.2L1171.8,2150.7M1179.3,2154.0L1177.6,2157.1L1174.4,2158.4M1177.8,2152.8L1176.3,2155.6L1173.4,2156.9M1176.4,2151.6L1175.0,2154.2L1172.3,2155.3M1174.9,2150.4L1173.7,2152.7L1171.3,2153.8M1173.5,2149.3L1172.4,2151.4L1170.3,2152.3M1188.0,2152.2L1194.4,2162.2M1193.0,2153.9L1189.6,2154.7L1187.4,2157.4M1193.8,2155.6L1190.7,2156.4L1188.7,2158.9M1194.6,2157.4L1191.8,2158.1L1190.0,2160.3M1195.4,2159.2L1192.9,2159.8L1191.2,2161.8M1196.1,2160.8L1193.9,2161.4L1192.4,2163.2M1197.9,2147.5L1191.5,2133.8M1198.8,2141.6L1196.3,2144.1L1192.8,2144.4M1197.5,2139.5L1195.2,2141.7L1192.1,2142.1M1196.2,2137.4L1194.1,2139.4L1191.3,2139.7M1194.9,2135.3L1193.1,2137.1L1190.5,2137.3M1193.7,2133.3L1192.0,2134.9L1189.7,2135.1" fill="none" stroke="#3fa7e3" stroke-width="1.3" stroke-opacity="0.85"/>
<path d="M1298.3,2178.6 L1300.1,2179.7 L1301.8,2180.9 L1303.6,2182.0 L1305.3,2183.1 L1307.1,2184.1 L1309.0,2185.0 L1310.9,2185.7 L1312.8,2186.4 L1314.8,2186.9 L1316.8,2187.3 L1318.9,2187.6 L1321.0,2187.7 L1323.1,2187.7 L1325.2,2187.5 L1327.3,2187.2 L1329.4,2186.7 L1331.4,2186.3 L1333.4,2185.7 L1335.5,2185.2 L1337.4,2184.6 L1339.4,2184.1 L1341.4,2183.6 L1343.4,2183.2 L1345.4,2182.9 L1347.3,2182.6 L1349.3,2182.5 L1351.3,2182.5 L1353.3,2182.5 L1355.3,2182.7 L1357.3,2182.9 L1359.3,2183.3 L1361.3,2183.7 L1363.3,2184.1 L1365.4,2184.6 L1367.4,2185.0 L1369.4,2185.5 L1371.5,2185.9 L1373.6,2186.3 L1375.6,2186.6 L1377.7,2186.8 L1379.7,2186.9 L1381.7,2186.9 L1383.7,2186.8 L1385.7,2186.6 L1387.7,2186.3 L1389.6,2185.9 L1391.6,2185.4 L1393.5,2184.8 L1395.4,2184.1 L1397.4,2183.4 L1399.3,2182.6 L1401.2,2181.9 L1403.2,2181.1 L1405.2,2180.4 L1407.1,2179.7 L1409.1,2179.0 L1411.0,2178.4 L1413.0,2177.9 L1414.9,2177.4 L1416.9,2177.1 L1418.8,2176.8 L1420.7,2176.6 L1422.7,2176.5 L1424.6,2176.4 L1426.6,2176.5 L1428.6,2176.5 L1430.6,2176.6 L1432.6,2176.7 L1434.7,2176.8 L1436.8,2176.8 L1438.9,2176.9 L1441.0,2176.9 L1443.1,2176.9 L1445.2,2176.8 L1447.3,2176.5 L1449.3,2176.2 L1451.3,2175.7 L1453.3,2175.1 L1455.2,2174.4 L1457.0,2173.6 L1458.9,2172.6 L1460.6,2171.5 L1462.3,2170.3 L1463.9,2169.0 L1465.5,2167.6 L1467.0,2166.1 L1468.5,2164.6 L1469.9,2163.1 L1471.3,2161.5 L1472.6,2159.9 L1474.0,2158.4 L1475.4,2156.9 L1476.8,2155.5 L1478.3,2154.1 L1479.8,2152.8 L1481.4,2151.6 L1483.0,2150.5 L1484.7,2149.4 L1486.4,2148.5 L1488.3,2147.6 L1490.1,2146.7 L1492.1,2146.0 L1494.0,2145.3" fill="none" stroke="#3fa7e3" stroke-width="1.8"/>
<path d="M1298.3,2178.6L1290.7,2191.0M1298.7,2184.4L1296.4,2181.7L1293.0,2180.9M1297.2,2186.3L1295.1,2183.8L1292.0,2183.1M1295.7,2188.1L1293.9,2185.9L1291.0,2185.3M1294.2,2190.0L1292.6,2188.0L1290.0,2187.4M1292.8,2191.8L1291.4,2190.0L1289.1,2189.5M1307.7,2184.3L1313.7,2170.9M1312.7,2181.3L1309.2,2181.0L1306.7,2178.6M1313.4,2179.0L1310.2,2178.7L1307.9,2176.5M1314.1,2176.7L1311.3,2176.4L1309.2,2174.4M1314.9,2174.4L1312.3,2174.2L1310.4,2172.4M1315.5,2172.2L1313.2,2172.0L1311.6,2170.4M1318.2,2187.5L1316.7,2200.3M1321.0,2192.2L1317.8,2190.7L1314.4,2191.5M1320.4,2194.3L1317.6,2192.9L1314.4,2193.6M1319.9,2196.3L1317.3,2195.1L1314.5,2195.7M1319.4,2198.4L1317.1,2197.3L1314.5,2197.8M1318.9,2200.3L1316.8,2199.3L1314.6,2199.8M1329.1,2186.8L1327.2,2175.2M1331.7,2182.2L1328.6,2183.9L1325.2,2183.3M1331.1,2180.4L1328.3,2181.9L1325.2,2181.4M1330.6,2178.6L1328.0,2179.9L1325.1,2179.4M1330.0,2176.7L1327.7,2178.0L1325.1,2177.5M1329.4,2175.0L1327.4,2176.1L1325.1,2175.7M1339.7,2184.0L1341.8,2194.2M1343.7,2187.1L1340.3,2186.6L1337.2,2188.4M1343.8,2188.8L1340.6,2188.3L1337.9,2189.9M1343.8,2190.4L1341.0,2190.0L1338.5,2191.5M1343.9,2192.1L1341.3,2191.8L1339.1,2193.1M1343.9,2193.7L1341.6,2193.4L1339.7,2194.6M1350.6,2182.5L1350.4,2168.6M1353.9,2177.8L1350.6,2179.0L1347.2,2177.9M1353.5,2175.6L1350.5,2176.7L1347.5,2175.6M1353.2,2173.3L1350.5,2174.3L1347.7,2173.4M1352.9,2171.1L1350.5,2171.9L1348.0,2171.1M1352.6,2168.9L1350.4,2169.7L1348.2,2169.0M1361.5,2183.7L1359.4,2196.4M1364.1,2188.6L1361.0,2186.9L1357.5,2187.5M1363.5,2190.6L1360.6,2189.0L1357.5,2189.6M1362.8,2192.6L1360.3,2191.2L1357.4,2191.7M1362.2,2194.6L1359.9,2193.3L1357.4,2193.8M1361.6,2196.5L1359.6,2195.4L1357.3,2195.8M1372.3,2186.0L1374.3,2171.8M1376.2,2181.8L1372.8,2182.5L1369.7,2180.9M1376.3,2179.5L1373.1,2180.1L1370.3,2178.6M1376.3,2177.1L1373.5,2177.7L1370.9,2176.3M1376.4,2174.7L1373.8,2175.2L1371.5,2174.0M1376.4,2172.5L1374.1,2173.0L1372.1,2171.9M1383.2,2186.8L1384.0,2199.1M1386.8,2190.9L1383.4,2189.9L1380.2,2191.3M1386.6,2192.9L1383.5,2192.0L1380.6,2193.3M1386.5,2194.9L1383.7,2194.1L1381.0,2195.2M1386.3,2196.9L1383.8,2196.2L1381.4,2197.2M1386.2,2198.8L1384.0,2198.2L1381.8,2199.1M1393.9,2184.6L1389.9,2170.8M1395.8,2179.1L1392.9,2181.2L1389.4,2181.0M1394.9,2176.9L1392.3,2178.8L1389.1,2178.6M1393.9,2174.8L1391.6,2176.4L1388.7,2176.3M1393.0,2172.6L1390.9,2174.1L1388.3,2174.0M1392.1,2170.5L1390.2,2171.9L1387.9,2171.8M1404.2,2180.7L1408.1,2191.9M1408.7,2183.5L1405.2,2183.5L1402.4,2185.7M1409.0,2185.4L1405.8,2185.4L1403.3,2187.4M1409.4,2187.3L1406.5,2187.3L1404.2,2189.1M1409.7,2189.2L1407.1,2189.2L1405.1,2190.8M1410.1,2191.0L1407.8,2191.0L1405.9,2192.4M1414.7,2177.5L1411.9,2163.2M1417.0,2172.1L1414.0,2173.9L1410.5,2173.4M1416.3,2169.9L1413.5,2171.5L1410.4,2171.0M1415.6,2167.6L1413.1,2169.1L1410.2,2168.7M1414.8,2165.3L1412.6,2166.6L1410.0,2166.3M1414.1,2163.2L1412.1,2164.3L1409.8,2164.0M1425.7,2176.4L1426.1,2190.6M1429.1,2181.1L1425.8,2180.0L1422.5,2181.3M1428.9,2183.4L1425.8,2182.4L1422.8,2183.6M1428.7,2185.7L1425.9,2184.8L1423.2,2185.9M1428.5,2188.0L1426.0,2187.2L1423.6,2188.2M1428.2,2190.2L1426.1,2189.5L1423.9,2190.3M1436.7,2176.8L1436.7,2164.3M1440.0,2172.5L1436.7,2173.7L1433.3,2172.5M1439.7,2170.5L1436.7,2171.6L1433.6,2170.5M1439.4,2168.5L1436.7,2169.4L1433.9,2168.5M1439.1,2166.4L1436.7,2167.3L1434.2,2166.4M1438.8,2164.5L1436.7,2165.3L1434.5,2164.5M1447.6,2176.5L1449.9,2189.5M1451.7,2180.3L1448.2,2179.7L1445.1,2181.4M1451.8,2182.4L1448.6,2181.9L1445.8,2183.5M1451.9,2184.6L1449.0,2184.1L1446.5,2185.6M1451.9,2186.8L1449.4,2186.3L1447.1,2187.6M1452.0,2188.8L1449.8,2188.4L1447.7,2189.5M1458.0,2173.0L1451.5,2160.7M1458.8,2167.4L1456.4,2170.0L1452.9,2170.5M1457.5,2165.5L1455.3,2167.9L1452.1,2168.3M1456.2,2163.6L1454.2,2165.8L1451.3,2166.2M1454.9,2161.8L1453.1,2163.7L1450.5,2164.0M1453.6,2160.0L1452.1,2161.7L1449.8,2162.0M1466.8,2166.4L1474.5,2174.8M1471.9,2167.1L1468.7,2168.5L1467.0,2171.6M1472.9,2168.7L1470.0,2170.0L1468.5,2172.8M1474.0,2170.2L1471.3,2171.4L1469.9,2173.9M1475.0,2171.8L1472.6,2172.8L1471.4,2175.1M1476.0,2173.2L1473.8,2174.2L1472.8,2176.2M1474.1,2158.3L1464.8,2148.9M1473.3,2152.8L1471.8,2155.9L1468.6,2157.4M1471.6,2151.4L1470.2,2154.3L1467.3,2155.7M1469.9,2150.1L1468.6,2152.7L1466.0,2154.0M1468.2,2148.8L1467.0,2151.1L1464.7,2152.2M1466.5,2147.5L1465.5,2149.6L1463.4,2150.6M1482.3,2151.0L1490.6,2163.0M1487.8,2153.0L1484.4,2154.0L1482.3,2156.8M1488.9,2155.2L1485.8,2156.0L1483.9,2158.6M1490.0,2157.3L1487.2,2158.0L1485.5,2160.4M1491.1,2159.4L1488.6,2160.1L1487.1,2162.2M1492.1,2161.4L1489.9,2162.0L1488.5,2163.9M1492.1,2146.0L1486.7,2135.5M1493.2,2140.8L1490.7,2143.3L1487.3,2143.8M1492.1,2139.2L1489.8,2141.6L1486.7,2142.0M1490.9,2137.7L1488.9,2139.8L1486.1,2140.2M1489.8,2136.1L1488.0,2138.0L1485.4,2138.3M1488.8,2134.6L1487.2,2136.3L1484.9,2136.6" fill="none" stroke="#3fa7e3" stroke-width="1.3" stroke-opacity="0.85"/>
<path d="M1008.2,2108.5 L1010.7,2108.8 L1013.2,2108.8 L1015.7,2108.6 L1018.3,2108.1 L1020.9,2107.3 L1023.5,2106.4M1023.5,2106.4 L1026.1,2105.4 L1028.7,2104.4 L1031.4,2103.4 L1034.0,2102.6 L1036.6,2101.9 L1039.2,2101.4M1082.3,2117.6 L1084.9,2117.2 L1087.6,2116.6 L1090.2,2115.8 L1092.9,2114.9 L1095.6,2114.0 L1098.2,2113.1M1098.2,2113.1 L1100.8,2112.4 L1103.5,2111.8 L1106.0,2111.4 L1108.5,2111.3 L1111.0,2111.5 L1113.4,2111.9M1142.0,2126.2 L1144.5,2126.4 L1147.1,2126.3 L1149.6,2126.0 L1152.2,2125.3 L1154.8,2124.5 L1157.4,2123.5M1157.4,2123.5 L1160.0,2122.4 L1162.6,2121.3 L1165.1,2120.2 L1167.7,2119.2 L1170.2,2118.4 L1172.7,2117.8M1202.6,2126.8 L1205.2,2127.5 L1207.8,2127.9 L1210.3,2128.1 L1212.8,2127.9 L1215.3,2127.3 L1217.8,2126.5M1217.8,2126.5 L1220.2,2125.5 L1222.6,2124.2 L1225.0,2122.8 L1227.4,2121.2 L1229.8,2119.7 L1232.1,2118.2M1232.1,2118.2 L1234.5,2116.9 L1236.9,2115.7 L1239.3,2114.8 L1241.7,2114.2 L1244.2,2113.8 L1246.7,2113.7M1277.8,2121.1 L1280.3,2120.7 L1282.7,2120.0 L1285.1,2119.0 L1287.5,2117.8 L1289.8,2116.3 L1292.1,2114.7M1292.1,2114.7 L1294.4,2113.1 L1296.7,2111.4 L1299.0,2109.8 L1301.3,2108.4 L1303.6,2107.1 L1305.9,2106.1M1337.1,2109.6 L1339.7,2109.8 L1342.3,2109.7 L1344.8,2109.3 L1347.2,2108.6 L1349.6,2107.6 L1351.9,2106.3M1351.9,2106.3 L1354.1,2104.8 L1356.3,2103.2 L1358.4,2101.3 L1360.5,2099.5 L1362.6,2097.6 L1364.7,2095.8M1364.7,2095.8 L1366.8,2094.1 L1369.0,2092.7 L1371.3,2091.4 L1373.6,2090.5 L1376.0,2089.8 L1378.5,2089.4M1410.3,2092.1 L1412.6,2091.3 L1414.9,2090.2 L1417.2,2088.8 L1419.3,2087.2 L1421.5,2085.5 L1423.5,2083.6M1423.5,2083.6 L1425.6,2081.7 L1427.6,2079.8 L1429.7,2077.9 L1431.8,2076.2 L1434.0,2074.8 L1436.2,2073.5M1467.7,2073.0 L1470.3,2072.7 L1472.8,2072.1 L1475.2,2071.2 L1477.5,2070.0 L1479.6,2068.6 L1481.6,2066.9M1481.6,2066.9 L1483.5,2064.9 L1485.3,2062.8 L1487.0,2060.6 L1488.7,2058.3 L1490.4,2056.1 L1492.1,2053.9M1492.1,2053.9 L1493.9,2051.9 L1495.7,2050.1 L1497.6,2048.5 L1499.7,2047.1 L1501.9,2046.0 L1504.2,2045.1M1535.0,2034.3 L1536.2,2031.6 L1536.7,2029.1 L1537.1,2026.7M993.3,2106.2 L995.9,2105.7 L998.5,2105.0 L1001.1,2104.1 L1003.7,2103.1 L1006.3,2102.1 L1009.0,2101.1M1009.0,2101.1 L1011.6,2100.2 L1014.2,2099.4 L1016.7,2098.9 L1019.3,2098.7 L1021.8,2098.8 L1024.3,2099.1M1052.7,2113.7 L1055.1,2114.1 L1057.6,2114.2 L1060.1,2114.1 L1062.7,2113.6 L1065.3,2113.0 L1068.0,2112.2M1068.0,2112.2 L1070.7,2111.4 L1073.3,2110.5 L1076.0,2109.6 L1078.7,2108.9 L1081.3,2108.4 L1083.9,2108.0M1127.1,2123.7 L1129.7,2123.2 L1132.3,2122.4 L1134.9,2121.5 L1137.6,2120.4 L1140.2,2119.4 L1142.8,2118.4M1142.8,2118.4 L1145.4,2117.5 L1147.9,2116.8 L1150.5,2116.3 L1153.0,2116.1 L1155.5,2116.2 L1157.9,2116.5M1187.5,2128.8 L1190.0,2128.7 L1192.6,2128.4 L1195.1,2127.7 L1197.6,2126.8 L1200.1,2125.6 L1202.5,2124.3M1202.5,2124.3 L1205.0,2122.9 L1207.4,2121.5 L1209.8,2120.1 L1212.2,2118.8 L1214.6,2117.8 L1217.1,2116.9M1247.7,2123.1 L1250.3,2123.6 L1252.9,2123.9 L1255.4,2123.8 L1257.9,2123.5 L1260.3,2122.8 L1262.7,2121.9M1262.7,2121.9 L1265.1,2120.7 L1267.5,2119.3 L1269.8,2117.8 L1272.1,2116.2 L1274.5,2114.6 L1276.8,2113.1M1276.8,2113.1 L1279.1,2111.7 L1281.4,2110.5 L1283.8,2109.5 L1286.2,2108.8 L1288.7,2108.3 L1291.2,2108.2M1322.6,2114.0 L1325.0,2113.4 L1327.4,2112.6 L1329.8,2111.4 L1332.1,2110.0 L1334.3,2108.4 L1336.5,2106.6M1336.5,2106.6 L1338.6,2104.8 L1340.8,2103.0 L1342.9,2101.2 L1345.1,2099.6 L1347.3,2098.2 L1349.6,2097.0M1381.0,2098.6 L1383.6,2098.7 L1386.1,2098.5 L1388.6,2098.0 L1391.0,2097.2 L1393.3,2096.1 L1395.5,2094.7M1395.5,2094.7 L1397.6,2093.2 L1399.7,2091.4 L1401.8,2089.6 L1403.9,2087.7 L1406.0,2085.8 L1408.1,2084.0M1408.1,2084.0 L1410.2,2082.3 L1412.4,2080.8 L1414.7,2079.6 L1417.0,2078.7 L1419.4,2078.0 L1421.9,2077.6M1453.8,2079.4 L1456.1,2078.4 L1458.4,2077.1 L1460.5,2075.5 L1462.6,2073.8 L1464.5,2071.8 L1466.4,2069.7M1466.4,2069.7 L1468.2,2067.6 L1470.1,2065.4 L1471.9,2063.4 L1473.7,2061.4 L1475.7,2059.7 L1477.7,2058.2M1508.9,2053.5 L1511.4,2052.9 L1513.8,2051.9 L1516.1,2050.7 L1518.2,2049.3 L1520.1,2047.5 L1521.9,2045.4M1521.9,2045.4 L1523.5,2043.1 L1524.9,2040.6 L1526.0,2037.9 L1526.8,2035.2 L1527.3,2032.5 L1527.5,2030.0M1527.5,2030.0 L1527.6,2027.6 L1528.0,2024.9 L1528.7,2022.3M1038.0,2111.1 L1040.6,2110.6 L1043.2,2109.9 L1045.8,2109.0 L1048.4,2108.1 L1051.1,2107.1 L1053.7,2106.2M1053.7,2106.2 L1056.4,2105.4 L1059.0,2104.8 L1061.6,2104.5 L1064.2,2104.4 L1066.7,2104.6 L1069.1,2105.1M1097.1,2120.8 L1099.6,2121.1 L1102.1,2121.2 L1104.7,2121.0 L1107.3,2120.5 L1109.9,2119.8 L1112.5,2119.0M1112.5,2119.0 L1115.2,2118.0 L1117.8,2117.0 L1120.4,2116.1 L1123.1,2115.2 L1125.6,2114.5 L1128.2,2114.1M1157.2,2125.8 L1159.7,2126.8 L1162.1,2127.6 L1164.7,2128.0 L1167.2,2128.2 L1169.7,2128.0 L1172.3,2127.5M1172.3,2127.5 L1174.8,2126.7 L1177.4,2125.8 L1179.9,2124.6 L1182.5,2123.4 L1185.0,2122.1 L1187.5,2120.9M1187.5,2120.9 L1189.9,2119.8 L1192.4,2118.8 L1194.9,2118.1 L1197.3,2117.6 L1199.8,2117.4 L1202.2,2117.5M1232.9,2126.2 L1235.4,2125.9 L1237.9,2125.3 L1240.3,2124.4 L1242.7,2123.3 L1245.1,2121.9 L1247.5,2120.4M1247.5,2120.4 L1249.8,2118.9 L1252.1,2117.3 L1254.5,2115.8 L1256.8,2114.4 L1259.2,2113.3 L1261.6,2112.3M1292.6,2117.6 L1295.2,2118.0 L1297.7,2118.1 L1300.2,2117.9 L1302.7,2117.4 L1305.1,2116.6 L1307.5,2115.6M1307.5,2115.6 L1309.8,2114.2 L1312.1,2112.7 L1314.4,2111.1 L1316.6,2109.3 L1318.8,2107.6 L1321.0,2106.0M1321.0,2106.0 L1323.3,2104.4 L1325.5,2103.1 L1327.8,2102.0 L1330.2,2101.1 L1332.6,2100.6 L1335.1,2100.3M1366.8,2103.8 L1369.2,2103.1 L1371.5,2102.0 L1373.7,2100.7 L1375.9,2099.1 L1378.1,2097.4 L1380.1,2095.6M1380.1,2095.6 L1382.2,2093.6 L1384.3,2091.7 L1386.4,2089.9 L1388.5,2088.2 L1390.7,2086.8 L1392.9,2085.5M1424.4,2086.9 L1427.0,2086.9 L1429.6,2086.6 L1432.0,2086.1 L1434.4,2085.2 L1436.7,2084.0 L1438.9,2082.6M1438.9,2082.6 L1441.0,2081.0 L1443.1,2079.2 L1445.1,2077.2 L1447.1,2075.2 L1449.1,2073.2 L1451.1,2071.3M1451.1,2071.3 L1453.1,2069.5 L1455.2,2068.0 L1457.3,2066.6 L1459.5,2065.5 L1461.8,2064.7 L1464.2,2064.1M1495.9,2061.6 L1498.1,2060.3 L1500.1,2058.7 L1502.0,2056.8 L1503.8,2054.8 L1505.5,2052.6 L1507.1,2050.3M1507.1,2050.3 L1508.6,2047.9 L1510.2,2045.6 L1511.7,2043.3 L1513.3,2041.2 L1515.0,2039.3 L1516.7,2037.5" fill="none" stroke="#ffffff" stroke-width="5.9" stroke-linecap="round" stroke-opacity="0.9"/>
<path d="M1008.2,2108.5 L1010.7,2108.8 L1013.2,2108.8 L1015.7,2108.6 L1018.3,2108.1 L1020.9,2107.3 L1023.5,2106.4M1023.5,2106.4 L1026.1,2105.4 L1028.7,2104.4 L1031.4,2103.4 L1034.0,2102.6 L1036.6,2101.9 L1039.2,2101.4M1082.3,2117.6 L1084.9,2117.2 L1087.6,2116.6 L1090.2,2115.8 L1092.9,2114.9 L1095.6,2114.0 L1098.2,2113.1M1098.2,2113.1 L1100.8,2112.4 L1103.5,2111.8 L1106.0,2111.4 L1108.5,2111.3 L1111.0,2111.5 L1113.4,2111.9M1142.0,2126.2 L1144.5,2126.4 L1147.1,2126.3 L1149.6,2126.0 L1152.2,2125.3 L1154.8,2124.5 L1157.4,2123.5M1157.4,2123.5 L1160.0,2122.4 L1162.6,2121.3 L1165.1,2120.2 L1167.7,2119.2 L1170.2,2118.4 L1172.7,2117.8M1202.6,2126.8 L1205.2,2127.5 L1207.8,2127.9 L1210.3,2128.1 L1212.8,2127.9 L1215.3,2127.3 L1217.8,2126.5M1217.8,2126.5 L1220.2,2125.5 L1222.6,2124.2 L1225.0,2122.8 L1227.4,2121.2 L1229.8,2119.7 L1232.1,2118.2M1232.1,2118.2 L1234.5,2116.9 L1236.9,2115.7 L1239.3,2114.8 L1241.7,2114.2 L1244.2,2113.8 L1246.7,2113.7M1277.8,2121.1 L1280.3,2120.7 L1282.7,2120.0 L1285.1,2119.0 L1287.5,2117.8 L1289.8,2116.3 L1292.1,2114.7M1292.1,2114.7 L1294.4,2113.1 L1296.7,2111.4 L1299.0,2109.8 L1301.3,2108.4 L1303.6,2107.1 L1305.9,2106.1M1337.1,2109.6 L1339.7,2109.8 L1342.3,2109.7 L1344.8,2109.3 L1347.2,2108.6 L1349.6,2107.6 L1351.9,2106.3M1351.9,2106.3 L1354.1,2104.8 L1356.3,2103.2 L1358.4,2101.3 L1360.5,2099.5 L1362.6,2097.6 L1364.7,2095.8M1364.7,2095.8 L1366.8,2094.1 L1369.0,2092.7 L1371.3,2091.4 L1373.6,2090.5 L1376.0,2089.8 L1378.5,2089.4M1410.3,2092.1 L1412.6,2091.3 L1414.9,2090.2 L1417.2,2088.8 L1419.3,2087.2 L1421.5,2085.5 L1423.5,2083.6M1423.5,2083.6 L1425.6,2081.7 L1427.6,2079.8 L1429.7,2077.9 L1431.8,2076.2 L1434.0,2074.8 L1436.2,2073.5M1467.7,2073.0 L1470.3,2072.7 L1472.8,2072.1 L1475.2,2071.2 L1477.5,2070.0 L1479.6,2068.6 L1481.6,2066.9M1481.6,2066.9 L1483.5,2064.9 L1485.3,2062.8 L1487.0,2060.6 L1488.7,2058.3 L1490.4,2056.1 L1492.1,2053.9M1492.1,2053.9 L1493.9,2051.9 L1495.7,2050.1 L1497.6,2048.5 L1499.7,2047.1 L1501.9,2046.0 L1504.2,2045.1M1535.0,2034.3 L1536.2,2031.6 L1536.7,2029.1 L1537.1,2026.7" fill="none" stroke="#7a66b4" stroke-width="4.8" stroke-linecap="round"/>
<path d="M993.3,2106.2 L995.9,2105.7 L998.5,2105.0 L1001.1,2104.1 L1003.7,2103.1 L1006.3,2102.1 L1009.0,2101.1M1009.0,2101.1 L1011.6,2100.2 L1014.2,2099.4 L1016.7,2098.9 L1019.3,2098.7 L1021.8,2098.8 L1024.3,2099.1M1052.7,2113.7 L1055.1,2114.1 L1057.6,2114.2 L1060.1,2114.1 L1062.7,2113.6 L1065.3,2113.0 L1068.0,2112.2M1068.0,2112.2 L1070.7,2111.4 L1073.3,2110.5 L1076.0,2109.6 L1078.7,2108.9 L1081.3,2108.4 L1083.9,2108.0M1127.1,2123.7 L1129.7,2123.2 L1132.3,2122.4 L1134.9,2121.5 L1137.6,2120.4 L1140.2,2119.4 L1142.8,2118.4M1142.8,2118.4 L1145.4,2117.5 L1147.9,2116.8 L1150.5,2116.3 L1153.0,2116.1 L1155.5,2116.2 L1157.9,2116.5M1187.5,2128.8 L1190.0,2128.7 L1192.6,2128.4 L1195.1,2127.7 L1197.6,2126.8 L1200.1,2125.6 L1202.5,2124.3M1202.5,2124.3 L1205.0,2122.9 L1207.4,2121.5 L1209.8,2120.1 L1212.2,2118.8 L1214.6,2117.8 L1217.1,2116.9M1247.7,2123.1 L1250.3,2123.6 L1252.9,2123.9 L1255.4,2123.8 L1257.9,2123.5 L1260.3,2122.8 L1262.7,2121.9M1262.7,2121.9 L1265.1,2120.7 L1267.5,2119.3 L1269.8,2117.8 L1272.1,2116.2 L1274.5,2114.6 L1276.8,2113.1M1276.8,2113.1 L1279.1,2111.7 L1281.4,2110.5 L1283.8,2109.5 L1286.2,2108.8 L1288.7,2108.3 L1291.2,2108.2M1322.6,2114.0 L1325.0,2113.4 L1327.4,2112.6 L1329.8,2111.4 L1332.1,2110.0 L1334.3,2108.4 L1336.5,2106.6M1336.5,2106.6 L1338.6,2104.8 L1340.8,2103.0 L1342.9,2101.2 L1345.1,2099.6 L1347.3,2098.2 L1349.6,2097.0M1381.0,2098.6 L1383.6,2098.7 L1386.1,2098.5 L1388.6,2098.0 L1391.0,2097.2 L1393.3,2096.1 L1395.5,2094.7M1395.5,2094.7 L1397.6,2093.2 L1399.7,2091.4 L1401.8,2089.6 L1403.9,2087.7 L1406.0,2085.8 L1408.1,2084.0M1408.1,2084.0 L1410.2,2082.3 L1412.4,2080.8 L1414.7,2079.6 L1417.0,2078.7 L1419.4,2078.0 L1421.9,2077.6M1453.8,2079.4 L1456.1,2078.4 L1458.4,2077.1 L1460.5,2075.5 L1462.6,2073.8 L1464.5,2071.8 L1466.4,2069.7M1466.4,2069.7 L1468.2,2067.6 L1470.1,2065.4 L1471.9,2063.4 L1473.7,2061.4 L1475.7,2059.7 L1477.7,2058.2M1508.9,2053.5 L1511.4,2052.9 L1513.8,2051.9 L1516.1,2050.7 L1518.2,2049.3 L1520.1,2047.5 L1521.9,2045.4M1521.9,2045.4 L1523.5,2043.1 L1524.9,2040.6 L1526.0,2037.9 L1526.8,2035.2 L1527.3,2032.5 L1527.5,2030.0M1527.5,2030.0 L1527.6,2027.6 L1528.0,2024.9 L1528.7,2022.3" fill="none" stroke="#8f9fdc" stroke-width="4.8" stroke-linecap="round"/>
<path d="M1038.0,2111.1 L1040.6,2110.6 L1043.2,2109.9 L1045.8,2109.0 L1048.4,2108.1 L1051.1,2107.1 L1053.7,2106.2M1053.7,2106.2 L1056.4,2105.4 L1059.0,2104.8 L1061.6,2104.5 L1064.2,2104.4 L1066.7,2104.6 L1069.1,2105.1M1097.1,2120.8 L1099.6,2121.1 L1102.1,2121.2 L1104.7,2121.0 L1107.3,2120.5 L1109.9,2119.8 L1112.5,2119.0M1112.5,2119.0 L1115.2,2118.0 L1117.8,2117.0 L1120.4,2116.1 L1123.1,2115.2 L1125.6,2114.5 L1128.2,2114.1M1157.2,2125.8 L1159.7,2126.8 L1162.1,2127.6 L1164.7,2128.0 L1167.2,2128.2 L1169.7,2128.0 L1172.3,2127.5M1172.3,2127.5 L1174.8,2126.7 L1177.4,2125.8 L1179.9,2124.6 L1182.5,2123.4 L1185.0,2122.1 L1187.5,2120.9M1187.5,2120.9 L1189.9,2119.8 L1192.4,2118.8 L1194.9,2118.1 L1197.3,2117.6 L1199.8,2117.4 L1202.2,2117.5M1232.9,2126.2 L1235.4,2125.9 L1237.9,2125.3 L1240.3,2124.4 L1242.7,2123.3 L1245.1,2121.9 L1247.5,2120.4M1247.5,2120.4 L1249.8,2118.9 L1252.1,2117.3 L1254.5,2115.8 L1256.8,2114.4 L1259.2,2113.3 L1261.6,2112.3M1292.6,2117.6 L1295.2,2118.0 L1297.7,2118.1 L1300.2,2117.9 L1302.7,2117.4 L1305.1,2116.6 L1307.5,2115.6M1307.5,2115.6 L1309.8,2114.2 L1312.1,2112.7 L1314.4,2111.1 L1316.6,2109.3 L1318.8,2107.6 L1321.0,2106.0M1321.0,2106.0 L1323.3,2104.4 L1325.5,2103.1 L1327.8,2102.0 L1330.2,2101.1 L1332.6,2100.6 L1335.1,2100.3M1366.8,2103.8 L1369.2,2103.1 L1371.5,2102.0 L1373.7,2100.7 L1375.9,2099.1 L1378.1,2097.4 L1380.1,2095.6M1380.1,2095.6 L1382.2,2093.6 L1384.3,2091.7 L1386.4,2089.9 L1388.5,2088.2 L1390.7,2086.8 L1392.9,2085.5M1424.4,2086.9 L1427.0,2086.9 L1429.6,2086.6 L1432.0,2086.1 L1434.4,2085.2 L1436.7,2084.0 L1438.9,2082.6M1438.9,2082.6 L1441.0,2081.0 L1443.1,2079.2 L1445.1,2077.2 L1447.1,2075.2 L1449.1,2073.2 L1451.1,2071.3M1451.1,2071.3 L1453.1,2069.5 L1455.2,2068.0 L1457.3,2066.6 L1459.5,2065.5 L1461.8,2064.7 L1464.2,2064.1M1495.9,2061.6 L1498.1,2060.3 L1500.1,2058.7 L1502.0,2056.8 L1503.8,2054.8 L1505.5,2052.6 L1507.1,2050.3M1507.1,2050.3 L1508.6,2047.9 L1510.2,2045.6 L1511.7,2043.3 L1513.3,2041.2 L1515.0,2039.3 L1516.7,2037.5" fill="none" stroke="#b89cd8" stroke-width="4.8" stroke-linecap="round"/>
<path d="M993.8,2101.4 L996.2,2103.0 L998.5,2104.5 L1000.9,2105.8 L1003.3,2107.0 L1005.7,2107.9 L1008.2,2108.5M1039.2,2101.4 L1041.7,2101.2 L1044.2,2101.4 L1046.7,2101.8 L1049.2,2102.5 L1051.6,2103.5 L1053.9,2104.8M1053.9,2104.8 L1056.3,2106.2 L1058.6,2107.8 L1060.8,2109.5 L1063.1,2111.2 L1065.4,2112.7 L1067.7,2114.2M1067.7,2114.2 L1070.0,2115.4 L1072.4,2116.5 L1074.8,2117.2 L1077.2,2117.6 L1079.8,2117.8 L1082.3,2117.6M1113.4,2111.9 L1115.8,2112.7 L1118.2,2113.7 L1120.6,2114.9 L1122.9,2116.3 L1125.3,2117.8 L1127.6,2119.4M1127.6,2119.4 L1130.0,2120.9 L1132.3,2122.4 L1134.7,2123.7 L1137.1,2124.8 L1139.6,2125.6 L1142.0,2126.2M1172.7,2117.8 L1175.2,2117.5 L1177.6,2117.5 L1180.1,2117.7 L1182.6,2118.2 L1185.0,2119.0 L1187.5,2120.0M1187.5,2120.0 L1190.0,2121.1 L1192.5,2122.3 L1195.0,2123.6 L1197.5,2124.8 L1200.1,2125.9 L1202.6,2126.8M1246.7,2113.7 L1249.2,2114.0 L1251.8,2114.5 L1254.4,2115.2 L1257.0,2116.0 L1259.6,2117.0 L1262.3,2118.0M1262.3,2118.0 L1264.9,2119.0 L1267.5,2119.9 L1270.2,2120.6 L1272.7,2121.0 L1275.3,2121.2 L1277.8,2121.1M1305.9,2106.1 L1308.3,2105.3 L1310.7,2104.8 L1313.2,2104.6 L1315.8,2104.7 L1318.3,2105.1 L1321.0,2105.6M1321.0,2105.6 L1323.6,2106.3 L1326.3,2107.0 L1329.0,2107.8 L1331.8,2108.6 L1334.5,2109.2 L1337.1,2109.6M1378.5,2089.4 L1381.0,2089.3 L1383.7,2089.5 L1386.4,2089.8 L1389.1,2090.3 L1391.8,2090.9 L1394.6,2091.5M1394.6,2091.5 L1397.3,2092.0 L1400.0,2092.5 L1402.7,2092.7 L1405.3,2092.8 L1407.8,2092.6 L1410.3,2092.1M1436.2,2073.5 L1438.5,2072.5 L1440.8,2071.8 L1443.3,2071.4 L1445.8,2071.2 L1448.5,2071.3 L1451.1,2071.5M1451.1,2071.5 L1453.9,2071.8 L1456.7,2072.2 L1459.5,2072.6 L1462.2,2072.9 L1465.0,2073.1 L1467.7,2073.0M1504.2,2045.1 L1506.7,2044.5 L1509.3,2044.0 L1511.9,2043.7 L1514.7,2043.5 L1517.5,2043.3 L1520.3,2043.0M1520.3,2043.0 L1523.2,2042.6 L1526.0,2041.8 L1528.6,2040.6 L1531.1,2039.0 L1533.3,2036.8 L1535.0,2034.3M1024.3,2099.1 L1026.7,2099.8 L1029.1,2100.7 L1031.5,2101.9 L1033.9,2103.3 L1036.2,2104.8 L1038.6,2106.4M1038.6,2106.4 L1040.9,2108.0 L1043.2,2109.5 L1045.5,2110.9 L1047.9,2112.1 L1050.3,2113.0 L1052.7,2113.7M1083.9,2108.0 L1086.4,2108.0 L1088.9,2108.2 L1091.3,2108.7 L1093.7,2109.5 L1096.1,2110.6 L1098.4,2111.9M1098.4,2111.9 L1100.7,2113.4 L1103.0,2115.0 L1105.3,2116.6 L1107.6,2118.2 L1109.9,2119.8 L1112.3,2121.1M1112.3,2121.1 L1114.7,2122.3 L1117.1,2123.2 L1119.6,2123.8 L1122.1,2124.0 L1124.6,2124.0 L1127.1,2123.7M1157.9,2116.5 L1160.4,2117.2 L1162.8,2118.1 L1165.2,2119.2 L1167.6,2120.5 L1170.0,2121.9 L1172.5,2123.3M1172.5,2123.3 L1174.9,2124.7 L1177.4,2125.9 L1179.9,2127.0 L1182.4,2127.9 L1184.9,2128.5 L1187.5,2128.8M1217.1,2116.9 L1219.5,2116.3 L1222.0,2116.0 L1224.4,2116.0 L1227.0,2116.3 L1229.5,2116.8 L1232.1,2117.5M1232.1,2117.5 L1234.7,2118.4 L1237.3,2119.4 L1239.9,2120.5 L1242.5,2121.5 L1245.1,2122.4 L1247.7,2123.1M1291.2,2108.2 L1293.7,2108.4 L1296.3,2108.8 L1298.9,2109.4 L1301.5,2110.2 L1304.2,2111.0 L1306.9,2111.9M1306.9,2111.9 L1309.6,2112.7 L1312.2,2113.4 L1314.9,2114.0 L1317.5,2114.3 L1320.1,2114.3 L1322.6,2114.0M1349.6,2097.0 L1351.9,2096.1 L1354.3,2095.5 L1356.8,2095.1 L1359.4,2095.1 L1362.0,2095.2 L1364.6,2095.6M1364.6,2095.6 L1367.4,2096.1 L1370.1,2096.7 L1372.9,2097.4 L1375.6,2097.9 L1378.3,2098.4 L1381.0,2098.6M1421.9,2077.6 L1424.4,2077.5 L1427.1,2077.7 L1429.7,2078.0 L1432.5,2078.5 L1435.2,2079.0 L1438.0,2079.6M1438.0,2079.6 L1440.8,2080.0 L1443.5,2080.4 L1446.2,2080.5 L1448.8,2080.4 L1451.3,2080.0 L1453.8,2079.4M1477.7,2058.2 L1479.8,2056.9 L1482.1,2055.9 L1484.5,2055.2 L1487.0,2054.7 L1489.6,2054.4 L1492.3,2054.3M1492.3,2054.3 L1495.0,2054.2 L1497.8,2054.2 L1500.7,2054.2 L1503.5,2054.2 L1506.2,2053.9 L1508.9,2053.5M994.4,2096.6 L996.9,2096.4 L999.4,2096.4 L1001.9,2096.7 L1004.3,2097.4 L1006.7,2098.3 L1009.1,2099.4M1009.1,2099.4 L1011.5,2100.8 L1013.9,2102.3 L1016.2,2103.8 L1018.6,2105.4 L1020.9,2106.9 L1023.3,2108.2M1023.3,2108.2 L1025.7,2109.4 L1028.1,2110.3 L1030.5,2110.9 L1033.0,2111.3 L1035.5,2111.3 L1038.0,2111.1M1069.1,2105.1 L1071.6,2105.9 L1073.9,2107.0 L1076.2,2108.3 L1078.5,2109.8 L1080.8,2111.4 L1083.0,2113.1M1083.0,2113.1 L1085.3,2114.8 L1087.6,2116.4 L1089.9,2117.8 L1092.2,2119.1 L1094.6,2120.1 L1097.1,2120.8M1128.2,2114.1 L1130.7,2113.9 L1133.2,2114.0 L1135.7,2114.5 L1138.1,2115.2 L1140.5,2116.1 L1142.9,2117.3M1142.9,2117.3 L1145.3,2118.7 L1147.6,2120.2 L1150.0,2121.7 L1152.4,2123.2 L1154.8,2124.6 L1157.2,2125.8M1202.2,2117.5 L1204.7,2117.8 L1207.2,2118.5 L1209.8,2119.3 L1212.3,2120.3 L1214.9,2121.4 L1217.5,2122.5M1217.5,2122.5 L1220.1,2123.6 L1222.7,2124.5 L1225.3,2125.3 L1227.8,2125.9 L1230.4,2126.2 L1232.9,2126.2M1261.6,2112.3 L1264.0,2111.6 L1266.5,2111.3 L1269.0,2111.2 L1271.5,2111.4 L1274.1,2111.9 L1276.7,2112.5M1276.7,2112.5 L1279.3,2113.4 L1282.0,2114.3 L1284.6,2115.2 L1287.3,2116.2 L1289.9,2117.0 L1292.6,2117.6M1335.1,2100.3 L1337.6,2100.3 L1340.2,2100.5 L1342.9,2101.0 L1345.6,2101.6 L1348.3,2102.2 L1351.0,2102.9M1351.0,2102.9 L1353.8,2103.5 L1356.5,2104.0 L1359.1,2104.4 L1361.8,2104.5 L1364.3,2104.3 L1366.8,2103.8M1392.9,2085.5 L1395.3,2084.6 L1397.7,2083.9 L1400.2,2083.5 L1402.8,2083.4 L1405.4,2083.6 L1408.1,2084.0M1408.1,2084.0 L1410.8,2084.5 L1413.6,2085.0 L1416.3,2085.6 L1419.1,2086.2 L1421.8,2086.6 L1424.4,2086.9M1464.2,2064.1 L1466.7,2063.7 L1469.3,2063.6 L1472.0,2063.6 L1474.7,2063.7 L1477.6,2063.9 L1480.4,2064.1M1480.4,2064.1 L1483.2,2064.2 L1485.9,2064.1 L1488.6,2063.9 L1491.2,2063.4 L1493.6,2062.6 L1495.9,2061.6M1516.7,2037.5 L1518.4,2036.1 L1520.1,2034.8 L1521.9,2033.7 L1523.9,2032.6 L1525.9,2031.5 L1528.0,2030.3M1528.0,2030.3 L1530.1,2028.7 L1532.3,2027.0 L1534.6,2025.4" fill="none" stroke="#ffffff" stroke-width="5.9" stroke-linecap="round" stroke-opacity="0.9"/>
<path d="M993.8,2101.4 L996.2,2103.0 L998.5,2104.5 L1000.9,2105.8 L1003.3,2107.0 L1005.7,2107.9 L1008.2,2108.5M1039.2,2101.4 L1041.7,2101.2 L1044.2,2101.4 L1046.7,2101.8 L1049.2,2102.5 L1051.6,2103.5 L1053.9,2104.8M1053.9,2104.8 L1056.3,2106.2 L1058.6,2107.8 L1060.8,2109.5 L1063.1,2111.2 L1065.4,2112.7 L1067.7,2114.2M1067.7,2114.2 L1070.0,2115.4 L1072.4,2116.5 L1074.8,2117.2 L1077.2,2117.6 L1079.8,2117.8 L1082.3,2117.6M1113.4,2111.9 L1115.8,2112.7 L1118.2,2113.7 L1120.6,2114.9 L1122.9,2116.3 L1125.3,2117.8 L1127.6,2119.4M1127.6,2119.4 L1130.0,2120.9 L1132.3,2122.4 L1134.7,2123.7 L1137.1,2124.8 L1139.6,2125.6 L1142.0,2126.2M1172.7,2117.8 L1175.2,2117.5 L1177.6,2117.5 L1180.1,2117.7 L1182.6,2118.2 L1185.0,2119.0 L1187.5,2120.0M1187.5,2120.0 L1190.0,2121.1 L1192.5,2122.3 L1195.0,2123.6 L1197.5,2124.8 L1200.1,2125.9 L1202.6,2126.8M1246.7,2113.7 L1249.2,2114.0 L1251.8,2114.5 L1254.4,2115.2 L1257.0,2116.0 L1259.6,2117.0 L1262.3,2118.0M1262.3,2118.0 L1264.9,2119.0 L1267.5,2119.9 L1270.2,2120.6 L1272.7,2121.0 L1275.3,2121.2 L1277.8,2121.1M1305.9,2106.1 L1308.3,2105.3 L1310.7,2104.8 L1313.2,2104.6 L1315.8,2104.7 L1318.3,2105.1 L1321.0,2105.6M1321.0,2105.6 L1323.6,2106.3 L1326.3,2107.0 L1329.0,2107.8 L1331.8,2108.6 L1334.5,2109.2 L1337.1,2109.6M1378.5,2089.4 L1381.0,2089.3 L1383.7,2089.5 L1386.4,2089.8 L1389.1,2090.3 L1391.8,2090.9 L1394.6,2091.5M1394.6,2091.5 L1397.3,2092.0 L1400.0,2092.5 L1402.7,2092.7 L1405.3,2092.8 L1407.8,2092.6 L1410.3,2092.1M1436.2,2073.5 L1438.5,2072.5 L1440.8,2071.8 L1443.3,2071.4 L1445.8,2071.2 L1448.5,2071.3 L1451.1,2071.5M1451.1,2071.5 L1453.9,2071.8 L1456.7,2072.2 L1459.5,2072.6 L1462.2,2072.9 L1465.0,2073.1 L1467.7,2073.0M1504.2,2045.1 L1506.7,2044.5 L1509.3,2044.0 L1511.9,2043.7 L1514.7,2043.5 L1517.5,2043.3 L1520.3,2043.0M1520.3,2043.0 L1523.2,2042.6 L1526.0,2041.8 L1528.6,2040.6 L1531.1,2039.0 L1533.3,2036.8 L1535.0,2034.3" fill="none" stroke="#7a66b4" stroke-width="4.8" stroke-linecap="round"/>
<path d="M1024.3,2099.1 L1026.7,2099.8 L1029.1,2100.7 L1031.5,2101.9 L1033.9,2103.3 L1036.2,2104.8 L1038.6,2106.4M1038.6,2106.4 L1040.9,2108.0 L1043.2,2109.5 L1045.5,2110.9 L1047.9,2112.1 L1050.3,2113.0 L1052.7,2113.7M1083.9,2108.0 L1086.4,2108.0 L1088.9,2108.2 L1091.3,2108.7 L1093.7,2109.5 L1096.1,2110.6 L1098.4,2111.9M1098.4,2111.9 L1100.7,2113.4 L1103.0,2115.0 L1105.3,2116.6 L1107.6,2118.2 L1109.9,2119.8 L1112.3,2121.1M1112.3,2121.1 L1114.7,2122.3 L1117.1,2123.2 L1119.6,2123.8 L1122.1,2124.0 L1124.6,2124.0 L1127.1,2123.7M1157.9,2116.5 L1160.4,2117.2 L1162.8,2118.1 L1165.2,2119.2 L1167.6,2120.5 L1170.0,2121.9 L1172.5,2123.3M1172.5,2123.3 L1174.9,2124.7 L1177.4,2125.9 L1179.9,2127.0 L1182.4,2127.9 L1184.9,2128.5 L1187.5,2128.8M1217.1,2116.9 L1219.5,2116.3 L1222.0,2116.0 L1224.4,2116.0 L1227.0,2116.3 L1229.5,2116.8 L1232.1,2117.5M1232.1,2117.5 L1234.7,2118.4 L1237.3,2119.4 L1239.9,2120.5 L1242.5,2121.5 L1245.1,2122.4 L1247.7,2123.1M1291.2,2108.2 L1293.7,2108.4 L1296.3,2108.8 L1298.9,2109.4 L1301.5,2110.2 L1304.2,2111.0 L1306.9,2111.9M1306.9,2111.9 L1309.6,2112.7 L1312.2,2113.4 L1314.9,2114.0 L1317.5,2114.3 L1320.1,2114.3 L1322.6,2114.0M1349.6,2097.0 L1351.9,2096.1 L1354.3,2095.5 L1356.8,2095.1 L1359.4,2095.1 L1362.0,2095.2 L1364.6,2095.6M1364.6,2095.6 L1367.4,2096.1 L1370.1,2096.7 L1372.9,2097.4 L1375.6,2097.9 L1378.3,2098.4 L1381.0,2098.6M1421.9,2077.6 L1424.4,2077.5 L1427.1,2077.7 L1429.7,2078.0 L1432.5,2078.5 L1435.2,2079.0 L1438.0,2079.6M1438.0,2079.6 L1440.8,2080.0 L1443.5,2080.4 L1446.2,2080.5 L1448.8,2080.4 L1451.3,2080.0 L1453.8,2079.4M1477.7,2058.2 L1479.8,2056.9 L1482.1,2055.9 L1484.5,2055.2 L1487.0,2054.7 L1489.6,2054.4 L1492.3,2054.3M1492.3,2054.3 L1495.0,2054.2 L1497.8,2054.2 L1500.7,2054.2 L1503.5,2054.2 L1506.2,2053.9 L1508.9,2053.5" fill="none" stroke="#8f9fdc" stroke-width="4.8" stroke-linecap="round"/>
<path d="M994.4,2096.6 L996.9,2096.4 L999.4,2096.4 L1001.9,2096.7 L1004.3,2097.4 L1006.7,2098.3 L1009.1,2099.4M1009.1,2099.4 L1011.5,2100.8 L1013.9,2102.3 L1016.2,2103.8 L1018.6,2105.4 L1020.9,2106.9 L1023.3,2108.2M1023.3,2108.2 L1025.7,2109.4 L1028.1,2110.3 L1030.5,2110.9 L1033.0,2111.3 L1035.5,2111.3 L1038.0,2111.1M1069.1,2105.1 L1071.6,2105.9 L1073.9,2107.0 L1076.2,2108.3 L1078.5,2109.8 L1080.8,2111.4 L1083.0,2113.1M1083.0,2113.1 L1085.3,2114.8 L1087.6,2116.4 L1089.9,2117.8 L1092.2,2119.1 L1094.6,2120.1 L1097.1,2120.8M1128.2,2114.1 L1130.7,2113.9 L1133.2,2114.0 L1135.7,2114.5 L1138.1,2115.2 L1140.5,2116.1 L1142.9,2117.3M1142.9,2117.3 L1145.3,2118.7 L1147.6,2120.2 L1150.0,2121.7 L1152.4,2123.2 L1154.8,2124.6 L1157.2,2125.8M1202.2,2117.5 L1204.7,2117.8 L1207.2,2118.5 L1209.8,2119.3 L1212.3,2120.3 L1214.9,2121.4 L1217.5,2122.5M1217.5,2122.5 L1220.1,2123.6 L1222.7,2124.5 L1225.3,2125.3 L1227.8,2125.9 L1230.4,2126.2 L1232.9,2126.2M1261.6,2112.3 L1264.0,2111.6 L1266.5,2111.3 L1269.0,2111.2 L1271.5,2111.4 L1274.1,2111.9 L1276.7,2112.5M1276.7,2112.5 L1279.3,2113.4 L1282.0,2114.3 L1284.6,2115.2 L1287.3,2116.2 L1289.9,2117.0 L1292.6,2117.6M1335.1,2100.3 L1337.6,2100.3 L1340.2,2100.5 L1342.9,2101.0 L1345.6,2101.6 L1348.3,2102.2 L1351.0,2102.9M1351.0,2102.9 L1353.8,2103.5 L1356.5,2104.0 L1359.1,2104.4 L1361.8,2104.5 L1364.3,2104.3 L1366.8,2103.8M1392.9,2085.5 L1395.3,2084.6 L1397.7,2083.9 L1400.2,2083.5 L1402.8,2083.4 L1405.4,2083.6 L1408.1,2084.0M1408.1,2084.0 L1410.8,2084.5 L1413.6,2085.0 L1416.3,2085.6 L1419.1,2086.2 L1421.8,2086.6 L1424.4,2086.9M1464.2,2064.1 L1466.7,2063.7 L1469.3,2063.6 L1472.0,2063.6 L1474.7,2063.7 L1477.6,2063.9 L1480.4,2064.1M1480.4,2064.1 L1483.2,2064.2 L1485.9,2064.1 L1488.6,2063.9 L1491.2,2063.4 L1493.6,2062.6 L1495.9,2061.6M1516.7,2037.5 L1518.4,2036.1 L1520.1,2034.8 L1521.9,2033.7 L1523.9,2032.6 L1525.9,2031.5 L1528.0,2030.3M1528.0,2030.3 L1530.1,2028.7 L1532.3,2027.0 L1534.6,2025.4" fill="none" stroke="#b89cd8" stroke-width="4.8" stroke-linecap="round"/>
<path d="M1020.8,2057.5 L1024.6,2056.9 L1029.8,2056.2 L1036.0,2055.2 L1042.7,2054.0 L1049.2,2052.3 L1055.6,2050.3 L1062.3,2048.0 L1069.2,2045.3 L1076.3,2042.2 L1083.8,2038.4 L1091.9,2033.5 L1100.6,2027.5 L1109.4,2021.2 L1117.8,2015.6 L1125.3,2011.5 L1131.6,2009.0 L1137.1,2007.6 L1142.1,2007.1 L1147.3,2007.1 L1153.0,2007.3 L1159.5,2007.9 L1166.4,2008.9 L1173.4,2010.4 L1180.6,2012.2 L1187.6,2014.2 L1194.4,2016.4 L1201.0,2018.9 L1207.6,2021.7 L1214.6,2024.7 L1222.2,2028.1 L1231.1,2031.9 L1241.1,2036.2 L1251.1,2040.7 L1260.2,2045.0 L1267.2,2048.8 L1271.9,2052.0 L1275.1,2054.9 L1277.1,2057.5 L1278.0,2060.0 L1278.3,2062.7 L1278.6,2065.6 L1278.7,2068.6 L1277.6,2071.6 L1274.2,2074.3 L1267.2,2076.5 L1255.5,2078.2 L1239.8,2079.5 L1222.0,2080.4 L1204.0,2081.1 L1187.6,2081.7 L1172.5,2081.9 L1157.4,2081.8 L1142.9,2081.6 L1129.6,2081.4 L1118.4,2081.7 L1109.5,2082.3 L1102.5,2082.9 L1096.8,2083.9 L1092.0,2085.2 L1087.3,2086.9 L1082.9,2089.5 L1079.2,2093.1 L1076.0,2096.8 L1073.2,2099.8 L1070.7,2101.4 L1068.4,2101.4 L1066.4,2100.1 L1064.8,2098.1 L1063.5,2095.9 L1062.4,2093.8 L1061.8,2091.5 L1061.8,2088.5 L1061.8,2085.7 L1061.5,2083.7 L1060.3,2083.4 L1057.9,2085.6 L1054.8,2089.6 L1051.2,2094.4 L1047.4,2098.7 L1044.0,2101.4 L1040.6,2102.3 L1036.8,2102.1 L1033.3,2101.1 L1030.3,2099.7 L1028.4,2098.0 L1027.7,2095.8 L1027.8,2093.0 L1028.7,2090.0 L1030.1,2086.9 L1031.9,2084.1 L1035.0,2081.6 L1039.5,2079.1 L1044.1,2076.7 L1047.5,2074.7 L1048.5,2073.0 L1046.1,2072.1 L1041.1,2071.8 L1034.9,2071.7 L1029.1,2071.3 L1025.0,2070.3 L1022.8,2068.2 L1021.7,2065.3 L1021.3,2062.2 L1021.1,2059.4 L1020.8,2057.5 Z" fill="#f8d6a8" stroke="#d28a4e" stroke-width="2.6" stroke-linejoin="round"/>
<path d="M1270.0,2034.3 L1273.8,2034.1 L1279.3,2034.0 L1285.7,2033.6 L1292.3,2032.6 L1298.3,2030.8 L1303.8,2027.8 L1309.1,2023.9 L1314.5,2019.4 L1320.1,2014.9 L1326.0,2010.8 L1332.2,2006.9 L1338.5,2003.0 L1345.2,1999.3 L1352.5,1996.0 L1360.6,1993.5 L1370.0,1991.6 L1380.5,1990.2 L1391.4,1989.5 L1402.3,1989.4 L1412.5,1990.0 L1421.7,1991.5 L1430.4,1993.8 L1438.9,1996.7 L1447.7,2000.1 L1457.5,2003.8 L1469.2,2008.2 L1482.3,2013.3 L1495.6,2018.6 L1507.4,2023.7 L1516.3,2028.1 L1522.0,2031.5 L1525.3,2034.3 L1527.0,2036.8 L1527.5,2039.3 L1527.4,2041.9 L1527.5,2045.0 L1527.5,2048.5 L1526.1,2051.8 L1522.2,2054.6 L1514.6,2056.4 L1502.0,2056.9 L1485.1,2056.3 L1466.1,2055.2 L1446.9,2054.3 L1429.8,2054.0 L1414.4,2054.5 L1399.4,2055.3 L1385.1,2056.4 L1372.0,2057.7 L1360.6,2059.2 L1351.1,2061.0 L1343.1,2063.0 L1336.4,2065.3 L1330.8,2067.5 L1326.0,2069.6 L1322.5,2071.8 L1320.3,2074.3 L1318.9,2076.6 L1317.7,2078.2 L1316.3,2078.6 L1314.8,2077.0 L1313.5,2073.9 L1312.2,2070.2 L1310.7,2067.0 L1308.7,2065.4 L1306.1,2065.9 L1303.0,2067.8 L1299.7,2070.2 L1296.3,2072.6 L1293.1,2074.1 L1289.8,2074.8 L1286.1,2075.3 L1282.7,2075.3 L1279.9,2074.9 L1278.3,2073.7 L1278.1,2071.6 L1279.0,2068.5 L1280.7,2065.1 L1282.6,2061.8 L1284.5,2059.2 L1286.8,2057.4 L1289.8,2056.1 L1292.7,2055.1 L1294.7,2054.1 L1294.9,2053.0 L1292.6,2051.7 L1288.3,2050.5 L1283.2,2049.2 L1278.3,2047.8 L1274.8,2046.1 L1272.8,2043.8 L1271.5,2041.1 L1270.8,2038.4 L1270.4,2036.0 L1270.0,2034.3 Z" fill="#f8d6a8" stroke="#d28a4e" stroke-width="2.6" stroke-linejoin="round"/>
<ellipse cx="1142.6" cy="2045.4" rx="27" ry="13" fill="#f0b08a" stroke="#e39c78" stroke-width="1"/>
<ellipse cx="1391.8" cy="2022.9" rx="27" ry="13" fill="#f0b08a" stroke="#e39c78" stroke-width="1"/>
<path d="M1208.4,2223.6 L1215.7,2225.0 L1225.9,2227.0 L1238.0,2229.4 L1250.8,2231.8 L1263.2,2234.0 L1274.1,2235.7 L1283.6,2236.9 L1292.4,2237.8 L1300.9,2238.5 L1309.2,2238.9 L1317.5,2239.2 L1326.0,2239.1 L1334.8,2238.8 L1343.6,2238.2 L1352.4,2237.3 L1361.1,2236.3 L1369.7,2235.1 L1377.9,2233.9 L1385.9,2232.8 L1393.6,2231.6 L1401.2,2230.3 L1408.6,2228.8 L1415.8,2227.2 L1422.9,2225.3 L1430.3,2222.9 L1438.0,2220.0 L1445.6,2217.0 L1452.6,2214.0 L1458.4,2211.5 L1462.7,2209.7 L1463.7,2212.0 L1465.3,2215.4 L1467.0,2219.2 L1468.8,2223.1 L1470.3,2226.5 L1471.3,2228.8 L1466.6,2230.6 L1459.7,2233.2 L1451.7,2236.2 L1443.4,2239.5 L1435.8,2242.9 L1429.8,2246.1 L1425.1,2249.3 L1420.7,2252.7 L1417.1,2256.2 L1414.3,2259.6 L1412.7,2262.6 L1412.5,2265.1 L1413.8,2267.0 L1416.5,2268.4 L1420.3,2269.5 L1425.1,2270.4 L1430.6,2271.2 L1436.7,2272.0 L1444.4,2272.8 L1453.9,2273.5 L1464.2,2274.2 L1474.2,2274.7 L1482.7,2275.1 L1488.7,2275.5 L1488.4,2277.4 L1488.1,2280.3 L1487.8,2283.6 L1487.4,2286.9 L1487.1,2289.8 L1486.9,2291.7 L1480.8,2292.0 L1472.6,2292.5 L1462.7,2293.0 L1451.9,2293.5 L1440.7,2294.1 L1429.8,2294.5 L1419.0,2294.8 L1407.7,2295.2 L1396.0,2295.4 L1384.1,2295.7 L1372.3,2296.0 L1360.6,2296.2 L1348.6,2296.6 L1336.1,2296.9 L1323.5,2297.3 L1311.5,2297.6 L1300.6,2297.9 L1291.4,2298.0 L1283.9,2297.9 L1277.6,2297.6 L1272.4,2297.2 L1268.2,2296.8 L1264.7,2296.5 L1262.0,2296.2 L1265.3,2295.3 L1269.8,2294.0 L1275.2,2292.6 L1280.9,2290.9 L1286.5,2289.2 L1291.4,2287.6 L1296.1,2286.0 L1300.9,2284.4 L1305.6,2282.7 L1309.8,2281.0 L1313.3,2279.1 L1315.6,2277.2 L1316.9,2275.1 L1317.4,2272.7 L1317.2,2270.3 L1316.2,2267.8 L1314.5,2265.5 L1312.2,2263.4 L1309.4,2261.4 L1306.0,2259.6 L1302.0,2257.8 L1297.2,2256.2 L1291.4,2254.6 L1284.5,2253.0 L1275.6,2251.4 L1264.6,2249.8 L1252.6,2248.2 L1240.8,2246.8 L1230.3,2245.4 L1222.2,2244.3 L1216.7,2243.4 L1213.0,2242.7 L1210.5,2242.1 L1209.0,2241.6 L1207.8,2241.2 L1206.6,2240.9 L1206.9,2238.8 L1207.2,2235.7 L1207.5,2232.2 L1207.9,2228.7 L1208.2,2225.6 L1208.4,2223.6 Z" fill="#f39292" stroke="#e24d4d" stroke-width="1.4"/>
<path d="M1208.4,2223.6 L1215.7,2225.0 L1225.9,2227.0 L1238.0,2229.4 L1250.8,2231.8 L1263.2,2234.0 L1274.1,2235.7 L1283.6,2236.9 L1292.4,2237.8 L1300.9,2238.5 L1309.2,2238.9 L1317.5,2239.2 L1326.0,2239.1 L1334.8,2238.8 L1343.6,2238.2 L1352.4,2237.3 L1361.1,2236.3 L1369.7,2235.1 L1377.9,2233.9 L1385.9,2232.8 L1393.6,2231.6 L1401.2,2230.3 L1408.6,2228.8 L1415.8,2227.2 L1422.9,2225.3 L1430.3,2222.9 L1438.0,2220.0 L1445.6,2217.0 L1452.6,2214.0 L1458.4,2211.5 L1462.7,2209.7 L1463.7,2212.0 L1465.3,2215.4 L1467.0,2219.2 L1468.8,2223.1 L1470.3,2226.5 L1471.3,2228.8 L1466.6,2230.6 L1459.7,2233.2 L1451.7,2236.2 L1443.4,2239.5 L1435.8,2242.9 L1429.8,2246.1 L1425.1,2249.3 L1420.7,2252.7 L1417.1,2256.2 L1414.3,2259.6 L1412.7,2262.6 L1412.5,2265.1 L1413.8,2267.0 L1416.5,2268.4 L1420.3,2269.5 L1425.1,2270.4 L1430.6,2271.2 L1436.7,2272.0 L1444.4,2272.8 L1453.9,2273.5 L1464.2,2274.2 L1474.2,2274.7 L1482.7,2275.1 L1488.7,2275.5 L1488.4,2277.4 L1488.1,2280.3 L1487.8,2283.6 L1487.4,2286.9 L1487.1,2289.8 L1486.9,2291.7 L1480.8,2292.0 L1472.6,2292.5 L1462.7,2293.0 L1451.9,2293.5 L1440.7,2294.1 L1429.8,2294.5 L1419.0,2294.8 L1407.7,2295.2 L1396.0,2295.4 L1384.1,2295.7 L1372.3,2296.0 L1360.6,2296.2 L1348.6,2296.6 L1336.1,2296.9 L1323.5,2297.3 L1311.5,2297.6 L1300.6,2297.9 L1291.4,2298.0 L1283.9,2297.9 L1277.6,2297.6 L1272.4,2297.2 L1268.2,2296.8 L1264.7,2296.5 L1262.0,2296.2 L1265.3,2295.3 L1269.8,2294.0 L1275.2,2292.6 L1280.9,2290.9 L1286.5,2289.2 L1291.4,2287.6 L1296.1,2286.0 L1300.9,2284.4 L1305.6,2282.7 L1309.8,2281.0 L1313.3,2279.1 L1315.6,2277.2 L1316.9,2275.1 L1317.4,2272.7 L1317.2,2270.3 L1316.2,2267.8 L1314.5,2265.5 L1312.2,2263.4 L1309.4,2261.4 L1306.0,2259.6 L1302.0,2257.8 L1297.2,2256.2 L1291.4,2254.6 L1284.5,2253.0 L1275.6,2251.4 L1264.6,2249.8 L1252.6,2248.2 L1240.8,2246.8 L1230.3,2245.4 L1222.2,2244.3 L1216.7,2243.4 L1213.0,2242.7 L1210.5,2242.1 L1209.0,2241.6 L1207.8,2241.2 L1206.6,2240.9 L1206.9,2238.8 L1207.2,2235.7 L1207.5,2232.2 L1207.9,2228.7 L1208.2,2225.6 L1208.4,2223.6 Z" fill="url(#cmstripe)"/>
<ellipse cx="1348.5" cy="2263.4" rx="30.0" ry="16.0" fill="#e86a6a" fill-opacity="0.55"/>
<path d="M1054.4,2253.0 L1062.2,2254.6 L1073.1,2257.0 L1086.0,2259.8 L1099.7,2262.6 L1113.2,2265.1 L1125.3,2266.8 L1136.2,2267.9 L1146.7,2268.6 L1157.0,2269.0 L1167.2,2269.1 L1177.3,2268.9 L1187.6,2268.5 L1198.1,2268.0 L1208.6,2267.3 L1219.1,2266.4 L1229.5,2265.2 L1239.8,2263.6 L1249.9,2261.6 L1260.4,2258.9 L1271.4,2255.5 L1282.3,2251.7 L1292.4,2248.0 L1300.8,2244.8 L1307.0,2242.6 L1308.7,2245.1 L1311.1,2248.7 L1313.9,2253.0 L1316.7,2257.2 L1319.2,2260.9 L1320.8,2263.4 L1315.9,2265.5 L1308.8,2268.5 L1300.5,2272.1 L1291.9,2275.9 L1284.0,2279.4 L1277.6,2282.4 L1272.4,2284.8 L1267.6,2287.1 L1263.4,2289.1 L1260.1,2291.0 L1257.8,2292.8 L1256.8,2294.5 L1257.0,2296.2 L1258.1,2297.9 L1260.3,2299.4 L1263.6,2300.9 L1268.2,2302.1 L1274.1,2303.1 L1282.6,2303.9 L1293.9,2304.5 L1306.3,2304.9 L1318.6,2305.2 L1329.1,2305.4 L1336.4,2305.6 L1336.6,2307.6 L1336.9,2310.5 L1337.3,2313.9 L1337.6,2317.3 L1337.9,2320.2 L1338.1,2322.2 L1329.1,2322.4 L1316.6,2322.9 L1301.8,2323.4 L1286.0,2323.8 L1270.6,2324.0 L1256.8,2323.9 L1244.6,2323.4 L1232.9,2322.4 L1221.5,2321.3 L1210.2,2320.2 L1199.0,2319.3 L1187.6,2318.7 L1176.0,2318.5 L1164.4,2318.4 L1152.8,2318.5 L1141.2,2318.8 L1129.7,2319.5 L1118.4,2320.4 L1106.5,2322.0 L1093.8,2324.2 L1081.2,2326.6 L1069.6,2329.0 L1059.8,2331.1 L1052.7,2332.6 L1052.6,2329.9 L1052.5,2325.9 L1052.3,2321.3 L1052.2,2316.7 L1052.1,2312.8 L1052.0,2310.1 L1058.8,2309.5 L1068.5,2308.9 L1079.8,2308.0 L1091.5,2307.1 L1102.5,2306.0 L1111.5,2304.9 L1119.0,2303.7 L1126.3,2302.4 L1132.7,2301.0 L1137.9,2299.5 L1141.4,2297.9 L1142.6,2296.2 L1141.3,2294.4 L1137.6,2292.3 L1132.2,2290.1 L1125.7,2287.9 L1118.6,2285.9 L1111.5,2284.1 L1103.4,2282.6 L1093.8,2281.2 L1083.6,2279.9 L1073.8,2278.8 L1065.5,2277.9 L1059.6,2277.2 L1059.0,2274.3 L1058.0,2270.0 L1057.0,2265.1 L1055.9,2260.2 L1055.0,2255.9 L1054.4,2253.0 Z" fill="#f39292" stroke="#e24d4d" stroke-width="1.4"/>
<path d="M1054.4,2253.0 L1062.2,2254.6 L1073.1,2257.0 L1086.0,2259.8 L1099.7,2262.6 L1113.2,2265.1 L1125.3,2266.8 L1136.2,2267.9 L1146.7,2268.6 L1157.0,2269.0 L1167.2,2269.1 L1177.3,2268.9 L1187.6,2268.5 L1198.1,2268.0 L1208.6,2267.3 L1219.1,2266.4 L1229.5,2265.2 L1239.8,2263.6 L1249.9,2261.6 L1260.4,2258.9 L1271.4,2255.5 L1282.3,2251.7 L1292.4,2248.0 L1300.8,2244.8 L1307.0,2242.6 L1308.7,2245.1 L1311.1,2248.7 L1313.9,2253.0 L1316.7,2257.2 L1319.2,2260.9 L1320.8,2263.4 L1315.9,2265.5 L1308.8,2268.5 L1300.5,2272.1 L1291.9,2275.9 L1284.0,2279.4 L1277.6,2282.4 L1272.4,2284.8 L1267.6,2287.1 L1263.4,2289.1 L1260.1,2291.0 L1257.8,2292.8 L1256.8,2294.5 L1257.0,2296.2 L1258.1,2297.9 L1260.3,2299.4 L1263.6,2300.9 L1268.2,2302.1 L1274.1,2303.1 L1282.6,2303.9 L1293.9,2304.5 L1306.3,2304.9 L1318.6,2305.2 L1329.1,2305.4 L1336.4,2305.6 L1336.6,2307.6 L1336.9,2310.5 L1337.3,2313.9 L1337.6,2317.3 L1337.9,2320.2 L1338.1,2322.2 L1329.1,2322.4 L1316.6,2322.9 L1301.8,2323.4 L1286.0,2323.8 L1270.6,2324.0 L1256.8,2323.9 L1244.6,2323.4 L1232.9,2322.4 L1221.5,2321.3 L1210.2,2320.2 L1199.0,2319.3 L1187.6,2318.7 L1176.0,2318.5 L1164.4,2318.4 L1152.8,2318.5 L1141.2,2318.8 L1129.7,2319.5 L1118.4,2320.4 L1106.5,2322.0 L1093.8,2324.2 L1081.2,2326.6 L1069.6,2329.0 L1059.8,2331.1 L1052.7,2332.6 L1052.6,2329.9 L1052.5,2325.9 L1052.3,2321.3 L1052.2,2316.7 L1052.1,2312.8 L1052.0,2310.1 L1058.8,2309.5 L1068.5,2308.9 L1079.8,2308.0 L1091.5,2307.1 L1102.5,2306.0 L1111.5,2304.9 L1119.0,2303.7 L1126.3,2302.4 L1132.7,2301.0 L1137.9,2299.5 L1141.4,2297.9 L1142.6,2296.2 L1141.3,2294.4 L1137.6,2292.3 L1132.2,2290.1 L1125.7,2287.9 L1118.6,2285.9 L1111.5,2284.1 L1103.4,2282.6 L1093.8,2281.2 L1083.6,2279.9 L1073.8,2278.8 L1065.5,2277.9 L1059.6,2277.2 L1059.0,2274.3 L1058.0,2270.0 L1057.0,2265.1 L1055.9,2260.2 L1055.0,2255.9 L1054.4,2253.0 Z" fill="url(#cmstripe)"/>
<ellipse cx="1198.0" cy="2294.5" rx="31.0" ry="16.0" fill="#e86a6a" fill-opacity="0.55"/>
<line x1="1588.70" y1="1999.60" x2="1588.70" y2="1952.60" stroke="#2b2b2b" stroke-width="4" />
<polygon points="1578.2,1955.8 1599.2,1955.8 1588.7,1939.8" fill="#2b2b2b"/>
<text x="1607.0" y="1991.0" font-size="45" fill="#111" >TGFβ signaling</text>
<line x1="1585.80" y1="2100.30" x2="1585.80" y2="2052.20" stroke="#b00a0a" stroke-width="4" />
<polygon points="1575.3,2055.4 1596.3,2055.4 1585.8,2039.4" fill="#b00a0a"/>
<text x="1604.0" y="2083.8" font-size="45" fill="#111" >Collagens, Lox</text>
<line x1="1681.40" y1="2215.80" x2="1681.40" y2="2261.60" stroke="#4aa4a8" stroke-width="4" />
<polygon points="1670.9,2258.4 1691.9,2258.4 1681.4,2274.4" fill="#4aa4a8"/>
<text x="1701.0" y="2232.8" font-size="45" fill="#111" >Nrg1</text>
<text x="1712.0" y="2286.9" font-size="45" fill="#111" >Igf2</text>
<text x="1010.0" y="2392.1" font-size="45" fill="#111" >EndMT</text>
<text x="1008.0" y="2443.3" font-size="45" fill="#111" textLength="801" lengthAdjust="spacingAndGlyphs" >CM Proliferation, Abnormal contractility</text>
<line x1="993.00" y1="2400.60" x2="993.00" y2="2450.40" stroke="#2b2b2b" stroke-width="4" />
<polygon points="982.5,2447.2 1003.5,2447.2 993.0,2463.2" fill="#2b2b2b"/>
</svg>
</body></html>
